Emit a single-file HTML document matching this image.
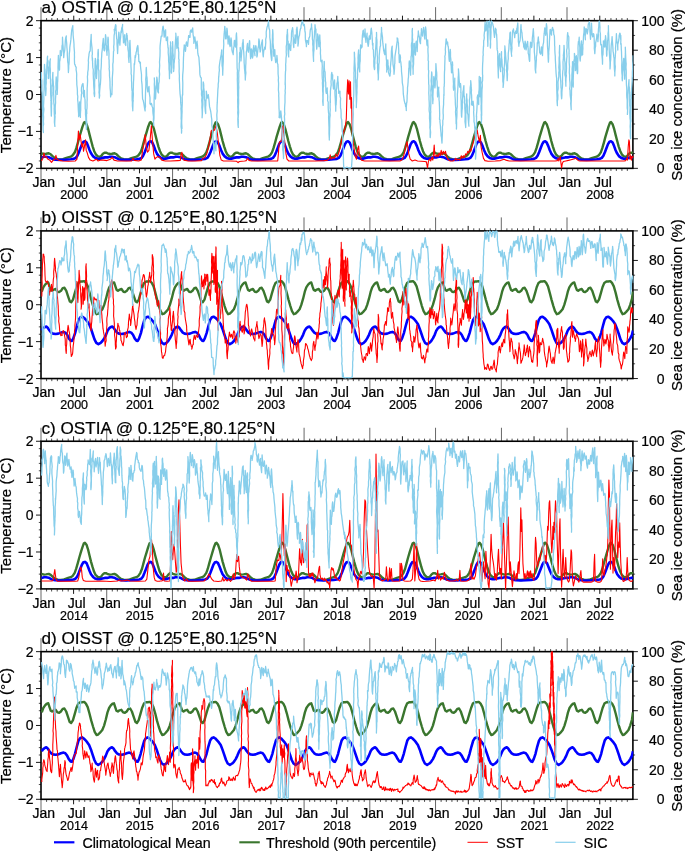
<!DOCTYPE html>
<html><head><meta charset="utf-8"><title>SST and SIC time series</title>
<style>html,body{margin:0;padding:0;background:#fff}svg{display:block;filter:blur(.35px)}text{stroke:#000;stroke-width:.22px;paint-order:stroke}</style></head>
<body>
<svg width="685" height="851" viewBox="0 0 685 851" font-family='"Liberation Sans", Arial, Helvetica, sans-serif' fill="#000">
<rect width="685" height="851" fill="#fff"/>
<g>
<path d="M41.00 168.33v16.50M41.00 20.68v-13.50" stroke="#000" stroke-width="0.6" fill="none"/>
<path d="M46.58 168.33v2.60M46.58 20.68v-2.60" stroke="#000" stroke-width="0.7" fill="none"/>
<path d="M51.80 168.33v2.60M51.80 20.68v-2.60" stroke="#000" stroke-width="0.7" fill="none"/>
<path d="M57.38 168.33v2.60M57.38 20.68v-2.60" stroke="#000" stroke-width="0.7" fill="none"/>
<path d="M62.78 168.33v2.60M62.78 20.68v-2.60" stroke="#000" stroke-width="0.7" fill="none"/>
<path d="M68.36 168.33v2.60M68.36 20.68v-2.60" stroke="#000" stroke-width="0.7" fill="none"/>
<path d="M73.76 168.33v5.00M73.76 20.68v-5.00" stroke="#000" stroke-width="0.9" fill="none"/>
<path d="M79.34 168.33v2.60M79.34 20.68v-2.60" stroke="#000" stroke-width="0.7" fill="none"/>
<path d="M84.92 168.33v2.60M84.92 20.68v-2.60" stroke="#000" stroke-width="0.7" fill="none"/>
<path d="M90.32 168.33v2.60M90.32 20.68v-2.60" stroke="#000" stroke-width="0.7" fill="none"/>
<path d="M95.91 168.33v2.60M95.91 20.68v-2.60" stroke="#000" stroke-width="0.7" fill="none"/>
<path d="M101.31 168.33v2.60M101.31 20.68v-2.60" stroke="#000" stroke-width="0.7" fill="none"/>
<path d="M106.89 168.33v16.50M106.89 20.68v-13.50" stroke="#000" stroke-width="0.6" fill="none"/>
<path d="M112.47 168.33v2.60M112.47 20.68v-2.60" stroke="#000" stroke-width="0.7" fill="none"/>
<path d="M117.51 168.33v2.60M117.51 20.68v-2.60" stroke="#000" stroke-width="0.7" fill="none"/>
<path d="M123.09 168.33v2.60M123.09 20.68v-2.60" stroke="#000" stroke-width="0.7" fill="none"/>
<path d="M128.49 168.33v2.60M128.49 20.68v-2.60" stroke="#000" stroke-width="0.7" fill="none"/>
<path d="M134.07 168.33v2.60M134.07 20.68v-2.60" stroke="#000" stroke-width="0.7" fill="none"/>
<path d="M139.47 168.33v5.00M139.47 20.68v-5.00" stroke="#000" stroke-width="0.9" fill="none"/>
<path d="M145.05 168.33v2.60M145.05 20.68v-2.60" stroke="#000" stroke-width="0.7" fill="none"/>
<path d="M150.63 168.33v2.60M150.63 20.68v-2.60" stroke="#000" stroke-width="0.7" fill="none"/>
<path d="M156.03 168.33v2.60M156.03 20.68v-2.60" stroke="#000" stroke-width="0.7" fill="none"/>
<path d="M161.61 168.33v2.60M161.61 20.68v-2.60" stroke="#000" stroke-width="0.7" fill="none"/>
<path d="M167.01 168.33v2.60M167.01 20.68v-2.60" stroke="#000" stroke-width="0.7" fill="none"/>
<path d="M172.59 168.33v16.50M172.59 20.68v-13.50" stroke="#000" stroke-width="0.6" fill="none"/>
<path d="M178.17 168.33v2.60M178.17 20.68v-2.60" stroke="#000" stroke-width="0.7" fill="none"/>
<path d="M183.21 168.33v2.60M183.21 20.68v-2.60" stroke="#000" stroke-width="0.7" fill="none"/>
<path d="M188.79 168.33v2.60M188.79 20.68v-2.60" stroke="#000" stroke-width="0.7" fill="none"/>
<path d="M194.20 168.33v2.60M194.20 20.68v-2.60" stroke="#000" stroke-width="0.7" fill="none"/>
<path d="M199.78 168.33v2.60M199.78 20.68v-2.60" stroke="#000" stroke-width="0.7" fill="none"/>
<path d="M205.18 168.33v5.00M205.18 20.68v-5.00" stroke="#000" stroke-width="0.9" fill="none"/>
<path d="M210.76 168.33v2.60M210.76 20.68v-2.60" stroke="#000" stroke-width="0.7" fill="none"/>
<path d="M216.34 168.33v2.60M216.34 20.68v-2.60" stroke="#000" stroke-width="0.7" fill="none"/>
<path d="M221.74 168.33v2.60M221.74 20.68v-2.60" stroke="#000" stroke-width="0.7" fill="none"/>
<path d="M227.32 168.33v2.60M227.32 20.68v-2.60" stroke="#000" stroke-width="0.7" fill="none"/>
<path d="M232.72 168.33v2.60M232.72 20.68v-2.60" stroke="#000" stroke-width="0.7" fill="none"/>
<path d="M238.30 168.33v16.50M238.30 20.68v-13.50" stroke="#000" stroke-width="0.6" fill="none"/>
<path d="M243.88 168.33v2.60M243.88 20.68v-2.60" stroke="#000" stroke-width="0.7" fill="none"/>
<path d="M248.92 168.33v2.60M248.92 20.68v-2.60" stroke="#000" stroke-width="0.7" fill="none"/>
<path d="M254.50 168.33v2.60M254.50 20.68v-2.60" stroke="#000" stroke-width="0.7" fill="none"/>
<path d="M259.90 168.33v2.60M259.90 20.68v-2.60" stroke="#000" stroke-width="0.7" fill="none"/>
<path d="M265.48 168.33v2.60M265.48 20.68v-2.60" stroke="#000" stroke-width="0.7" fill="none"/>
<path d="M270.88 168.33v5.00M270.88 20.68v-5.00" stroke="#000" stroke-width="0.9" fill="none"/>
<path d="M276.46 168.33v2.60M276.46 20.68v-2.60" stroke="#000" stroke-width="0.7" fill="none"/>
<path d="M282.04 168.33v2.60M282.04 20.68v-2.60" stroke="#000" stroke-width="0.7" fill="none"/>
<path d="M287.44 168.33v2.60M287.44 20.68v-2.60" stroke="#000" stroke-width="0.7" fill="none"/>
<path d="M293.03 168.33v2.60M293.03 20.68v-2.60" stroke="#000" stroke-width="0.7" fill="none"/>
<path d="M298.43 168.33v2.60M298.43 20.68v-2.60" stroke="#000" stroke-width="0.7" fill="none"/>
<path d="M304.01 168.33v16.50M304.01 20.68v-13.50" stroke="#000" stroke-width="0.6" fill="none"/>
<path d="M309.59 168.33v2.60M309.59 20.68v-2.60" stroke="#000" stroke-width="0.7" fill="none"/>
<path d="M314.81 168.33v2.60M314.81 20.68v-2.60" stroke="#000" stroke-width="0.7" fill="none"/>
<path d="M320.39 168.33v2.60M320.39 20.68v-2.60" stroke="#000" stroke-width="0.7" fill="none"/>
<path d="M325.79 168.33v2.60M325.79 20.68v-2.60" stroke="#000" stroke-width="0.7" fill="none"/>
<path d="M331.37 168.33v2.60M331.37 20.68v-2.60" stroke="#000" stroke-width="0.7" fill="none"/>
<path d="M336.77 168.33v5.00M336.77 20.68v-5.00" stroke="#000" stroke-width="0.9" fill="none"/>
<path d="M342.35 168.33v2.60M342.35 20.68v-2.60" stroke="#000" stroke-width="0.7" fill="none"/>
<path d="M347.93 168.33v2.60M347.93 20.68v-2.60" stroke="#000" stroke-width="0.7" fill="none"/>
<path d="M353.33 168.33v2.60M353.33 20.68v-2.60" stroke="#000" stroke-width="0.7" fill="none"/>
<path d="M358.91 168.33v2.60M358.91 20.68v-2.60" stroke="#000" stroke-width="0.7" fill="none"/>
<path d="M364.31 168.33v2.60M364.31 20.68v-2.60" stroke="#000" stroke-width="0.7" fill="none"/>
<path d="M369.89 168.33v16.50M369.89 20.68v-13.50" stroke="#000" stroke-width="0.6" fill="none"/>
<path d="M375.47 168.33v2.60M375.47 20.68v-2.60" stroke="#000" stroke-width="0.7" fill="none"/>
<path d="M380.51 168.33v2.60M380.51 20.68v-2.60" stroke="#000" stroke-width="0.7" fill="none"/>
<path d="M386.09 168.33v2.60M386.09 20.68v-2.60" stroke="#000" stroke-width="0.7" fill="none"/>
<path d="M391.50 168.33v2.60M391.50 20.68v-2.60" stroke="#000" stroke-width="0.7" fill="none"/>
<path d="M397.08 168.33v2.60M397.08 20.68v-2.60" stroke="#000" stroke-width="0.7" fill="none"/>
<path d="M402.48 168.33v5.00M402.48 20.68v-5.00" stroke="#000" stroke-width="0.9" fill="none"/>
<path d="M408.06 168.33v2.60M408.06 20.68v-2.60" stroke="#000" stroke-width="0.7" fill="none"/>
<path d="M413.64 168.33v2.60M413.64 20.68v-2.60" stroke="#000" stroke-width="0.7" fill="none"/>
<path d="M419.04 168.33v2.60M419.04 20.68v-2.60" stroke="#000" stroke-width="0.7" fill="none"/>
<path d="M424.62 168.33v2.60M424.62 20.68v-2.60" stroke="#000" stroke-width="0.7" fill="none"/>
<path d="M430.02 168.33v2.60M430.02 20.68v-2.60" stroke="#000" stroke-width="0.7" fill="none"/>
<path d="M435.60 168.33v16.50M435.60 20.68v-13.50" stroke="#000" stroke-width="0.6" fill="none"/>
<path d="M441.18 168.33v2.60M441.18 20.68v-2.60" stroke="#000" stroke-width="0.7" fill="none"/>
<path d="M446.22 168.33v2.60M446.22 20.68v-2.60" stroke="#000" stroke-width="0.7" fill="none"/>
<path d="M451.80 168.33v2.60M451.80 20.68v-2.60" stroke="#000" stroke-width="0.7" fill="none"/>
<path d="M457.20 168.33v2.60M457.20 20.68v-2.60" stroke="#000" stroke-width="0.7" fill="none"/>
<path d="M462.78 168.33v2.60M462.78 20.68v-2.60" stroke="#000" stroke-width="0.7" fill="none"/>
<path d="M468.18 168.33v5.00M468.18 20.68v-5.00" stroke="#000" stroke-width="0.9" fill="none"/>
<path d="M473.76 168.33v2.60M473.76 20.68v-2.60" stroke="#000" stroke-width="0.7" fill="none"/>
<path d="M479.34 168.33v2.60M479.34 20.68v-2.60" stroke="#000" stroke-width="0.7" fill="none"/>
<path d="M484.74 168.33v2.60M484.74 20.68v-2.60" stroke="#000" stroke-width="0.7" fill="none"/>
<path d="M490.33 168.33v2.60M490.33 20.68v-2.60" stroke="#000" stroke-width="0.7" fill="none"/>
<path d="M495.73 168.33v2.60M495.73 20.68v-2.60" stroke="#000" stroke-width="0.7" fill="none"/>
<path d="M501.31 168.33v16.50M501.31 20.68v-13.50" stroke="#000" stroke-width="0.6" fill="none"/>
<path d="M506.89 168.33v2.60M506.89 20.68v-2.60" stroke="#000" stroke-width="0.7" fill="none"/>
<path d="M511.93 168.33v2.60M511.93 20.68v-2.60" stroke="#000" stroke-width="0.7" fill="none"/>
<path d="M517.51 168.33v2.60M517.51 20.68v-2.60" stroke="#000" stroke-width="0.7" fill="none"/>
<path d="M522.91 168.33v2.60M522.91 20.68v-2.60" stroke="#000" stroke-width="0.7" fill="none"/>
<path d="M528.49 168.33v2.60M528.49 20.68v-2.60" stroke="#000" stroke-width="0.7" fill="none"/>
<path d="M533.89 168.33v5.00M533.89 20.68v-5.00" stroke="#000" stroke-width="0.9" fill="none"/>
<path d="M539.47 168.33v2.60M539.47 20.68v-2.60" stroke="#000" stroke-width="0.7" fill="none"/>
<path d="M545.05 168.33v2.60M545.05 20.68v-2.60" stroke="#000" stroke-width="0.7" fill="none"/>
<path d="M550.45 168.33v2.60M550.45 20.68v-2.60" stroke="#000" stroke-width="0.7" fill="none"/>
<path d="M556.03 168.33v2.60M556.03 20.68v-2.60" stroke="#000" stroke-width="0.7" fill="none"/>
<path d="M561.43 168.33v2.60M561.43 20.68v-2.60" stroke="#000" stroke-width="0.7" fill="none"/>
<path d="M567.01 168.33v16.50M567.01 20.68v-13.50" stroke="#000" stroke-width="0.6" fill="none"/>
<path d="M572.59 168.33v2.60M572.59 20.68v-2.60" stroke="#000" stroke-width="0.7" fill="none"/>
<path d="M577.81 168.33v2.60M577.81 20.68v-2.60" stroke="#000" stroke-width="0.7" fill="none"/>
<path d="M583.39 168.33v2.60M583.39 20.68v-2.60" stroke="#000" stroke-width="0.7" fill="none"/>
<path d="M588.80 168.33v2.60M588.80 20.68v-2.60" stroke="#000" stroke-width="0.7" fill="none"/>
<path d="M594.38 168.33v2.60M594.38 20.68v-2.60" stroke="#000" stroke-width="0.7" fill="none"/>
<path d="M599.78 168.33v5.00M599.78 20.68v-5.00" stroke="#000" stroke-width="0.9" fill="none"/>
<path d="M605.36 168.33v2.60M605.36 20.68v-2.60" stroke="#000" stroke-width="0.7" fill="none"/>
<path d="M610.94 168.33v2.60M610.94 20.68v-2.60" stroke="#000" stroke-width="0.7" fill="none"/>
<path d="M616.34 168.33v2.60M616.34 20.68v-2.60" stroke="#000" stroke-width="0.7" fill="none"/>
<path d="M621.92 168.33v2.60M621.92 20.68v-2.60" stroke="#000" stroke-width="0.7" fill="none"/>
<path d="M627.32 168.33v2.60M627.32 20.68v-2.60" stroke="#000" stroke-width="0.7" fill="none"/>
<path d="M41.00 20.68h-5.00" stroke="#000" stroke-width="0.9"/>
<path d="M41.00 28.06h-2.20" stroke="#000" stroke-width="0.7"/>
<path d="M41.00 35.45h-2.20" stroke="#000" stroke-width="0.7"/>
<path d="M41.00 42.83h-2.20" stroke="#000" stroke-width="0.7"/>
<path d="M41.00 50.21h-2.20" stroke="#000" stroke-width="0.7"/>
<path d="M41.00 57.59h-5.00" stroke="#000" stroke-width="0.9"/>
<path d="M41.00 64.97h-2.20" stroke="#000" stroke-width="0.7"/>
<path d="M41.00 72.36h-2.20" stroke="#000" stroke-width="0.7"/>
<path d="M41.00 79.74h-2.20" stroke="#000" stroke-width="0.7"/>
<path d="M41.00 87.12h-2.20" stroke="#000" stroke-width="0.7"/>
<path d="M41.00 94.50h-5.00" stroke="#000" stroke-width="0.9"/>
<path d="M41.00 101.89h-2.20" stroke="#000" stroke-width="0.7"/>
<path d="M41.00 109.27h-2.20" stroke="#000" stroke-width="0.7"/>
<path d="M41.00 116.65h-2.20" stroke="#000" stroke-width="0.7"/>
<path d="M41.00 124.03h-2.20" stroke="#000" stroke-width="0.7"/>
<path d="M41.00 131.42h-5.00" stroke="#000" stroke-width="0.9"/>
<path d="M41.00 138.80h-2.20" stroke="#000" stroke-width="0.7"/>
<path d="M41.00 146.18h-2.20" stroke="#000" stroke-width="0.7"/>
<path d="M41.00 153.57h-2.20" stroke="#000" stroke-width="0.7"/>
<path d="M41.00 160.95h-2.20" stroke="#000" stroke-width="0.7"/>
<path d="M41.00 168.33h-5.00" stroke="#000" stroke-width="0.9"/>
<path d="M632.90 20.68h5.00" stroke="#000" stroke-width="0.9"/>
<path d="M632.90 35.45h2.20" stroke="#000" stroke-width="0.7"/>
<path d="M632.90 50.21h5.00" stroke="#000" stroke-width="0.9"/>
<path d="M632.90 64.97h2.20" stroke="#000" stroke-width="0.7"/>
<path d="M632.90 79.74h5.00" stroke="#000" stroke-width="0.9"/>
<path d="M632.90 94.50h2.20" stroke="#000" stroke-width="0.7"/>
<path d="M632.90 109.27h5.00" stroke="#000" stroke-width="0.9"/>
<path d="M632.90 124.03h2.20" stroke="#000" stroke-width="0.7"/>
<path d="M632.90 138.80h5.00" stroke="#000" stroke-width="0.9"/>
<path d="M632.90 153.57h2.20" stroke="#000" stroke-width="0.7"/>
<path d="M632.90 168.33h5.00" stroke="#000" stroke-width="0.9"/>
<rect x="41.00" y="20.68" width="591.90" height="147.65" fill="none" stroke="#000" stroke-width="1.6"/>
<clipPath id="c0"><rect x="40.50" y="19.88" width="592.90" height="149.25"/></clipPath>
<g clip-path="url(#c0)">
<polyline points="41.5,153.3 44.1,154.0 46.1,153.8 48.7,153.3 50.7,154.3 52.8,156.4 55.3,158.4 57.9,159.1 60.5,159.4 63.0,159.2 65.6,158.2 68.1,157.4 70.7,156.7 72.7,155.3 74.8,152.3 76.3,148.2 77.9,142.6 79.4,136.9 80.9,131.8 82.5,126.7 84.0,122.6 85.0,122.1 86.6,124.2 88.1,128.8 89.6,134.9 91.2,141.0 92.7,146.6 94.2,151.2 95.8,154.3 97.8,156.4 99.9,156.9 101.4,155.8 102.9,153.8 104.5,152.8 106.5,152.8 107.4,153.3 110.0,154.0 112.0,153.8 114.6,153.3 116.6,154.3 118.6,156.4 121.2,158.4 123.7,159.1 126.3,159.4 128.9,159.2 131.4,158.2 134.0,157.4 136.5,156.7 138.5,155.3 140.6,152.3 142.1,148.2 143.6,142.6 145.2,136.9 146.7,131.8 148.2,126.7 149.8,122.6 150.8,122.1 152.3,124.2 153.9,128.8 155.4,134.9 156.9,141.0 158.4,146.6 160.0,151.2 161.5,154.3 163.6,156.4 165.6,156.9 167.1,155.8 168.7,153.8 170.2,152.8 172.2,152.8 173.1,153.3 175.7,154.0 177.7,153.8 180.3,153.3 182.3,154.3 184.4,156.4 186.9,158.4 189.5,159.1 192.0,159.4 194.6,159.2 197.1,158.2 199.7,157.4 202.2,156.7 204.3,155.3 206.3,152.3 207.8,148.2 209.4,142.6 210.9,136.9 212.4,131.8 213.9,126.7 215.5,122.6 216.5,122.1 218.0,124.2 219.6,128.8 221.1,134.9 222.6,141.0 224.2,146.6 225.7,151.2 227.2,154.3 229.3,156.4 231.3,156.9 232.8,155.8 234.4,153.8 235.9,152.8 237.9,152.8 238.8,153.3 241.4,154.0 243.4,153.8 246.0,153.3 248.0,154.3 250.1,156.4 252.6,158.4 255.2,159.1 257.7,159.4 260.3,159.2 262.8,158.2 265.4,157.4 267.9,156.7 270.0,155.3 272.0,152.3 273.5,148.2 275.1,142.6 276.6,136.9 278.1,131.8 279.7,126.7 281.2,122.6 282.2,122.1 283.7,124.2 285.3,128.8 286.8,134.9 288.3,141.0 289.9,146.6 291.4,151.2 292.9,154.3 295.0,156.4 297.0,156.9 298.5,155.8 300.1,153.8 301.6,152.8 303.6,152.8 304.5,153.3 307.1,154.0 309.1,153.8 311.7,153.3 313.8,154.3 315.8,156.4 318.4,158.4 320.9,159.1 323.5,159.4 326.0,159.2 328.6,158.2 331.1,157.4 333.7,156.7 335.8,155.3 337.8,152.3 339.3,148.2 340.9,142.6 342.4,136.9 343.9,131.8 345.5,126.7 347.0,122.6 348.0,122.1 349.6,124.2 351.1,128.8 352.6,134.9 354.2,141.0 355.7,146.6 357.2,151.2 358.8,154.3 360.8,156.4 362.9,156.9 364.4,155.8 365.9,153.8 367.5,152.8 369.5,152.8 370.4,153.3 373.0,154.0 375.0,153.8 377.6,153.3 379.6,154.3 381.7,156.4 384.2,158.4 386.8,159.1 389.3,159.4 391.9,159.2 394.4,158.2 397.0,157.4 399.5,156.7 401.6,155.3 403.6,152.3 405.1,148.2 406.7,142.6 408.2,136.9 409.7,131.8 411.2,126.7 412.8,122.6 413.8,122.1 415.3,124.2 416.9,128.8 418.4,134.9 419.9,141.0 421.5,146.6 423.0,151.2 424.5,154.3 426.6,156.4 428.6,156.9 430.1,155.8 431.7,153.8 433.2,152.8 435.2,152.8 436.1,153.3 438.7,154.0 440.7,153.8 443.3,153.3 445.3,154.3 447.4,156.4 449.9,158.4 452.5,159.1 455.0,159.4 457.6,159.2 460.1,158.2 462.7,157.4 465.2,156.7 467.3,155.3 469.3,152.3 470.8,148.2 472.4,142.6 473.9,136.9 475.4,131.8 477.0,126.7 478.5,122.6 479.5,122.1 481.0,124.2 482.6,128.8 484.1,134.9 485.6,141.0 487.2,146.6 488.7,151.2 490.2,154.3 492.3,156.4 494.3,156.9 495.8,155.8 497.4,153.8 498.9,152.8 500.9,152.8 501.8,153.3 504.4,154.0 506.4,153.8 509.0,153.3 511.0,154.3 513.1,156.4 515.6,158.4 518.2,159.1 520.7,159.4 523.3,159.2 525.8,158.2 528.4,157.4 530.9,156.7 533.0,155.3 535.0,152.3 536.5,148.2 538.1,142.6 539.6,136.9 541.1,131.8 542.7,126.7 544.2,122.6 545.2,122.1 546.7,124.2 548.3,128.8 549.8,134.9 551.3,141.0 552.9,146.6 554.4,151.2 555.9,154.3 558.0,156.4 560.0,156.9 561.5,155.8 563.1,153.8 564.6,152.8 566.6,152.8 567.5,153.3 570.1,154.0 572.2,153.8 574.7,153.3 576.8,154.3 578.8,156.4 581.4,158.4 583.9,159.1 586.5,159.4 589.0,159.2 591.6,158.2 594.2,157.4 596.7,156.7 598.8,155.3 600.8,152.3 602.3,148.2 603.9,142.6 605.4,136.9 606.9,131.8 608.5,126.7 610.0,122.6 611.0,122.1 612.6,124.2 614.1,128.8 615.6,134.9 617.2,141.0 618.7,146.6 620.3,151.2 621.8,154.3 623.8,156.4 625.9,156.9 627.4,155.8 628.9,153.8 630.5,152.8 632.5,152.8 632.9,153.3" fill="none" stroke="#3a762e" stroke-width="2.4" stroke-linejoin="round" stroke-linecap="butt" />
<polyline points="41.5,157.4 44.1,156.7 46.1,156.7 48.7,157.2 50.7,158.2 52.8,159.2 55.3,159.7 60.5,159.9 65.6,159.7 70.7,159.3 73.8,158.9 75.8,157.9 77.4,155.8 78.9,152.3 80.4,148.2 82.0,144.1 83.5,141.7 85.0,141.3 86.6,142.6 88.1,146.1 89.6,150.2 91.2,153.6 93.2,156.4 95.3,157.9 97.8,158.7 99.9,158.7 102.4,157.9 105.0,157.4 107.4,157.4 110.0,156.7 112.0,156.7 114.6,157.2 116.6,158.2 118.6,159.2 121.2,159.7 126.3,159.9 131.4,159.7 136.5,159.3 139.6,158.9 141.6,157.9 143.1,155.8 144.7,152.3 146.2,148.2 147.7,144.1 149.3,141.7 150.8,141.3 152.3,142.6 153.9,146.1 155.4,150.2 156.9,153.6 159.0,156.4 161.0,157.9 163.6,158.7 165.6,158.7 168.1,157.9 170.7,157.4 173.1,157.4 175.7,156.7 177.7,156.7 180.3,157.2 182.3,158.2 184.4,159.2 186.9,159.7 192.0,159.9 197.1,159.7 202.2,159.3 205.3,158.9 207.3,157.9 208.8,155.8 210.4,152.3 211.9,148.2 213.4,144.1 215.0,141.7 216.5,141.3 218.0,142.6 219.6,146.1 221.1,150.2 222.6,153.6 224.7,156.4 226.7,157.9 229.3,158.7 231.3,158.7 233.8,157.9 236.4,157.4 238.8,157.4 241.4,156.7 243.4,156.7 246.0,157.2 248.0,158.2 250.1,159.2 252.6,159.7 257.7,159.9 262.8,159.7 267.9,159.3 271.0,158.9 273.0,157.9 274.6,155.8 276.1,152.3 277.6,148.2 279.1,144.1 280.7,141.7 282.2,141.3 283.7,142.6 285.3,146.1 286.8,150.2 288.3,153.6 290.4,156.4 292.4,157.9 295.0,158.7 297.0,158.7 299.6,157.9 302.1,157.4 304.5,157.4 307.1,156.7 309.1,156.7 311.7,157.2 313.8,158.2 315.8,159.2 318.4,159.7 323.5,159.9 328.6,159.7 333.7,159.3 336.8,158.9 338.8,157.9 340.4,155.8 341.9,152.3 343.4,148.2 345.0,144.1 346.5,141.7 348.0,141.3 349.6,142.6 351.1,146.1 352.6,150.2 354.2,153.6 356.2,156.4 358.3,157.9 360.8,158.7 362.9,158.7 365.4,157.9 368.0,157.4 370.4,157.4 373.0,156.7 375.0,156.7 377.6,157.2 379.6,158.2 381.7,159.2 384.2,159.7 389.3,159.9 394.4,159.7 399.5,159.3 402.6,158.9 404.6,157.9 406.1,155.8 407.7,152.3 409.2,148.2 410.7,144.1 412.3,141.7 413.8,141.3 415.3,142.6 416.9,146.1 418.4,150.2 419.9,153.6 422.0,156.4 424.0,157.9 426.6,158.7 428.6,158.7 431.1,157.9 433.7,157.4 436.1,157.4 438.7,156.7 440.7,156.7 443.3,157.2 445.3,158.2 447.4,159.2 449.9,159.7 455.0,159.9 460.1,159.7 465.2,159.3 468.3,158.9 470.3,157.9 471.9,155.8 473.4,152.3 474.9,148.2 476.4,144.1 478.0,141.7 479.5,141.3 481.0,142.6 482.6,146.1 484.1,150.2 485.6,153.6 487.7,156.4 489.7,157.9 492.3,158.7 494.3,158.7 496.9,157.9 499.4,157.4 501.8,157.4 504.4,156.7 506.4,156.7 509.0,157.2 511.0,158.2 513.1,159.2 515.6,159.7 520.7,159.9 525.8,159.7 530.9,159.3 534.0,158.9 536.0,157.9 537.6,155.8 539.1,152.3 540.6,148.2 542.2,144.1 543.7,141.7 545.2,141.3 546.7,142.6 548.3,146.1 549.8,150.2 551.3,153.6 553.4,156.4 555.4,157.9 558.0,158.7 560.0,158.7 562.6,157.9 565.1,157.4 567.5,157.4 570.1,156.7 572.2,156.7 574.7,157.2 576.8,158.2 578.8,159.2 581.4,159.7 586.5,159.9 591.6,159.7 596.7,159.3 599.8,158.9 601.8,157.9 603.4,155.8 604.9,152.3 606.4,148.2 608.0,144.1 609.5,141.7 611.0,141.3 612.6,142.6 614.1,146.1 615.6,150.2 617.2,153.6 619.2,156.4 621.3,157.9 623.8,158.7 625.9,158.7 628.4,157.9 631.0,157.4 632.9,157.4" fill="none" stroke="#0000ff" stroke-width="2.6" stroke-linejoin="round" stroke-linecap="butt" />
<polyline points="41.4,161.0 42.6,159.2 43.9,153.0 44.9,157.4 46.2,156.6 47.9,159.2 49.7,160.1 51.5,162.4 53.2,160.1 55.0,159.2 55.9,155.3 56.9,159.2 59.4,160.4 62.9,161.0 68.2,161.3 75.2,161.0 77.0,159.2 77.7,143.3 78.4,131.0 79.1,139.8 80.2,134.5 81.1,141.6 81.9,146.9 82.8,143.3 83.5,151.3 84.4,146.9 85.5,139.8 86.2,150.4 87.0,152.2 88.5,157.4 90.2,160.1 92.9,161.0 96.4,159.2 98.1,161.0 100.8,160.1 103.4,160.1 107.0,160.6 110.5,159.2 112.2,157.4 114.0,160.1 117.5,161.0 124.6,161.0 131.6,161.0 133.0,158.3 134.3,160.4 138.7,161.0 141.3,160.1 142.6,150.4 144.0,143.3 145.2,134.5 146.3,146.9 147.5,152.2 148.9,150.4 150.1,139.8 151.4,125.7 152.4,139.8 153.7,153.9 154.9,159.2 156.3,157.4 158.1,156.6 159.8,157.4 160.0,157.4 161.8,160.1 165.3,161.0 170.6,161.0 177.6,160.6 180.3,160.4 181.1,153.9 181.9,152.2 182.6,157.4 183.8,160.1 188.2,161.0 195.2,161.0 201.4,160.6 203.2,158.3 204.9,157.4 206.7,153.9 208.5,146.9 209.9,139.8 211.1,131.0 212.9,130.1 214.6,130.1 216.0,125.7 217.3,132.8 218.5,143.3 219.9,155.7 221.3,160.1 223.4,161.0 230.5,161.0 236.7,161.3 238.1,162.7 239.3,161.5 244.6,161.0 246.3,160.6 247.6,158.3 249.0,160.4 251.6,161.0 258.7,161.0 269.3,161.0 277.7,161.0 278.4,153.9 279.1,143.3 280.0,141.6 281.1,141.6 281.8,136.3 282.5,125.7 283.2,127.5 283.9,134.5 284.9,143.3 286.0,153.9 287.0,159.2 288.8,161.0 297.6,161.0 315.2,161.0 324.1,160.6 327.6,160.1 329.3,158.3 330.2,154.8 331.1,159.2 332.9,157.4 334.6,158.3 336.0,153.9 337.3,156.6 338.5,153.9 339.9,148.6 341.7,139.8 343.4,132.8 345.2,127.5 346.3,118.7 347.0,94.0 347.7,79.9 348.4,94.0 349.1,80.8 349.8,99.3 350.5,81.7 351.0,108.1 351.5,97.5 352.2,132.8 353.3,143.3 354.4,150.4 355.4,156.6 356.5,159.2 357.5,150.4 358.6,146.0 359.3,153.9 360.4,157.4 361.4,160.1 364.6,161.0 371.6,161.0 378.7,161.0 385.7,161.0 392.8,161.0 400.0,161.0 400.0,161.0 401.8,160.1 403.2,157.4 404.6,152.2 406.0,145.1 407.0,141.6 407.8,146.9 408.8,153.9 410.2,159.2 412.3,161.0 415.0,160.1 417.6,161.0 424.7,161.5 426.4,161.9 427.5,168.0 428.5,161.0 429.6,159.2 430.7,161.0 431.7,157.4 432.8,160.1 433.5,153.9 434.2,145.1 434.9,155.7 435.9,156.6 437.0,154.8 438.1,156.6 439.1,153.0 440.2,155.7 441.2,150.4 442.3,154.8 443.3,151.3 444.4,153.9 445.5,151.3 446.5,156.6 447.9,159.2 450.2,161.0 452.9,161.0 454.6,160.1 455.7,158.3 456.7,160.1 458.1,159.2 459.9,160.1 461.3,155.7 462.4,158.3 463.4,155.7 464.5,157.4 465.6,153.9 466.6,154.8 467.7,151.3 468.7,153.0 469.8,149.5 470.8,151.3 471.9,146.9 473.0,143.3 474.0,139.8 475.1,134.5 476.1,135.4 477.2,130.1 478.2,136.3 479.3,141.6 480.4,135.4 481.1,146.9 482.1,152.2 483.5,158.3 484.9,160.6 488.1,161.3 495.2,161.0 500.4,160.6 504.0,159.2 505.7,160.1 509.3,161.0 520.0,161.0 520.0,161.0 537.6,161.0 555.2,161.0 557.4,160.6 558.1,158.3 558.8,161.0 559.5,159.2 560.2,156.6 560.9,162.7 561.6,168.0 562.3,163.6 563.3,161.5 565.8,161.0 568.5,160.4 571.1,159.7 572.9,159.2 574.6,158.7 575.7,158.0 576.7,159.2 578.1,160.4 579.9,161.0 590.5,161.0 608.1,161.0 624.0,161.0 625.7,160.6 626.8,158.3 627.5,160.1 628.2,146.9 628.9,139.8 629.4,141.6 630.0,159.2 630.7,155.7 631.4,160.1 632.1,156.6 632.8,157.4 633.5,155.7" fill="none" stroke="#ff0000" stroke-width="1.1" stroke-linejoin="round" stroke-linecap="butt" />
<polyline points="41.3,72.0 41.4,74.6 41.4,78.2 41.8,80.4 41.8,83.2 41.9,85.1 41.9,88.7 41.9,90.4 42.2,93.0 42.4,97.1 42.4,100.0 42.4,102.9 42.4,105.7 42.5,108.4 42.8,111.2 42.6,115.2 42.9,118.3 42.9,121.2 43.0,123.5 43.0,127.2 43.1,130.0 43.4,132.5 43.1,129.3 43.1,126.6 43.6,124.4 43.4,121.6 43.6,117.1 43.4,114.4 43.7,111.5 43.9,109.1 43.5,106.4 43.8,100.2 43.9,99.0 43.8,96.6 43.9,93.5 44.1,89.0 44.2,86.7 44.1,84.0 44.1,81.8 44.4,77.5 44.4,76.1 44.3,73.8 44.4,70.9 44.4,67.1 44.5,64.3 44.7,68.1 44.9,69.3 45.0,69.0 45.2,74.5 45.4,78.2 45.4,82.5 45.3,84.6 45.5,83.5 45.5,90.0 45.7,92.0 45.7,95.5 45.9,92.7 46.1,88.4 45.9,86.2 46.3,83.0 46.2,80.1 46.7,78.0 46.5,75.4 46.6,72.9 46.8,70.1 46.8,66.7 47.1,62.1 47.3,61.3 47.3,57.8 47.6,56.1 47.4,59.6 48.1,61.0 47.8,67.8 47.9,66.0 48.2,68.3 48.3,73.4 48.5,75.2 48.6,78.5 48.7,73.8 49.0,71.8 49.3,67.5 49.7,65.2 49.6,62.3 50.4,58.8 50.1,60.8 50.1,66.7 50.3,68.7 50.4,71.9 50.2,74.3 50.3,77.6 50.6,80.1 50.5,82.1 50.7,85.0 50.6,88.5 50.6,92.0 50.7,94.8 51.0,99.9 50.8,100.7 51.0,100.5 51.0,106.5 51.1,108.4 51.2,112.2 51.3,116.1 51.4,114.9 51.5,110.3 51.5,104.9 51.8,104.0 51.6,101.7 51.8,97.2 52.1,95.1 52.0,92.1 52.1,85.5 52.2,86.8 52.4,83.0 52.4,79.6 52.5,78.7 52.7,74.6 52.9,72.3 52.9,74.5 52.9,78.7 53.2,81.4 53.4,84.8 53.7,86.8 53.6,93.2 53.5,92.4 53.8,96.0 53.8,99.0 53.7,101.2 54.2,106.5 54.2,108.8 54.1,108.1 54.3,114.3 54.5,116.4 54.4,122.2 54.7,125.0 54.9,126.4 54.7,124.2 54.8,121.3 55.1,116.5 54.9,115.0 55.4,113.3 55.2,108.8 55.3,105.4 55.6,103.0 55.5,99.3 55.7,96.1 55.8,94.8 55.6,91.5 56.1,89.2 55.9,84.1 55.9,83.4 56.2,77.0 56.5,80.8 56.6,85.3 57.2,87.9 57.2,91.1 57.2,94.4 57.3,91.9 57.5,87.9 57.5,84.8 57.6,81.1 57.7,81.4 57.9,73.9 57.9,73.3 58.1,70.1 58.0,67.6 58.1,63.8 58.2,61.0 58.3,57.5 58.4,55.3 58.6,58.2 58.7,60.8 59.2,64.9 59.2,66.7 59.5,70.1 59.6,66.7 59.6,61.8 60.0,60.1 60.2,57.2 60.2,52.4 60.3,50.5 60.6,52.9 61.1,53.8 61.4,55.7 61.5,52.8 61.9,49.9 62.0,46.0 62.4,44.4 62.5,37.2 62.8,43.2 63.1,46.4 63.3,50.0 63.6,54.2 63.7,57.7 64.1,53.2 64.4,52.1 64.8,49.5 65.1,45.4 65.3,41.1 65.6,38.3 66.3,35.9 66.2,38.6 66.7,43.4 66.7,43.0 66.9,47.5 67.1,49.5 67.3,51.5 67.3,54.5 67.5,57.5 67.7,61.1 67.9,62.8 68.1,63.7 68.4,72.6 68.4,72.4 68.7,68.2 68.7,65.8 69.0,64.2 69.2,60.3 69.2,58.3 69.3,53.6 69.7,50.6 69.8,47.5 70.1,45.1 70.4,43.6 70.9,39.4 71.1,36.7 71.4,33.4 71.7,30.3 72.2,28.1 72.8,25.6 72.8,28.8 73.1,32.5 73.1,34.7 73.5,38.8 73.8,41.5 74.0,44.2 74.0,46.4 74.5,52.7 74.4,54.1 74.5,57.1 74.4,59.0 74.6,64.2 75.2,65.0 75.4,66.0 75.8,66.9 76.2,67.1 76.1,69.8 76.5,72.0 76.7,74.2 76.6,78.5 76.8,82.4 76.8,84.5 77.2,87.8 77.4,91.0 77.4,94.2 77.8,96.6 77.6,99.5 78.0,102.4 78.1,104.9 78.3,109.4 78.4,111.2 78.6,113.5 78.6,116.7 79.1,114.2 79.2,112.8 79.5,107.5 79.4,104.4 79.7,101.9 79.6,105.9 79.8,111.7 80.0,111.3 80.1,115.4 80.4,117.4 80.4,114.4 80.6,110.7 80.7,110.6 80.7,105.1 80.9,100.9 81.2,98.5 81.4,94.1 81.8,93.5 81.4,90.8 81.5,87.7 82.0,85.6 82.2,84.7 82.9,83.5 83.0,83.6 83.4,87.9 83.3,91.4 83.4,94.2 83.8,96.8 84.1,93.7 84.4,90.3 84.5,94.1 84.6,96.7 84.9,98.9 85.0,99.2 85.2,105.5 85.2,108.8 85.5,109.7 85.5,114.7 85.8,117.3 85.9,120.9 86.2,122.8 86.2,126.7 86.4,129.5 86.7,126.1 86.9,122.9 86.5,119.8 86.5,114.2 86.8,113.7 86.7,110.2 87.0,108.4 87.1,104.7 87.0,102.1 87.2,99.2 87.1,96.3 87.1,93.1 87.2,89.4 87.1,89.5 87.4,84.7 87.6,80.5 87.4,76.5 87.7,74.6 87.7,72.5 88.2,69.4 88.3,66.4 88.5,61.9 88.3,60.8 88.7,56.6 88.9,55.8 89.0,54.1 89.6,51.4 90.2,51.1 90.3,47.9 90.4,44.4 90.6,41.9 90.9,39.1 91.1,35.8 91.2,34.4 91.3,41.3 91.7,45.4 92.0,47.8 92.2,51.2 92.4,53.9 92.1,55.7 92.4,60.6 92.5,57.9 92.6,63.4 92.8,67.4 93.3,69.9 93.2,73.6 93.3,75.4 93.4,78.4 93.6,81.2 93.7,85.3 93.8,87.0 94.2,91.5 94.0,93.2 94.5,96.5 94.7,93.4 94.5,90.5 94.6,88.0 94.7,86.0 94.6,82.2 94.9,78.2 95.0,76.9 94.8,73.9 95.1,69.9 95.0,67.7 95.1,60.6 95.3,61.0 95.3,58.4 95.6,59.7 95.5,63.8 95.8,65.8 96.1,70.1 96.0,73.3 96.2,73.8 96.5,78.5 96.6,76.3 96.8,73.5 97.0,69.4 97.2,65.5 97.4,61.7 97.7,59.7 97.9,57.7 97.9,53.2 98.2,49.5 98.4,54.2 98.1,59.1 98.5,59.9 98.5,63.3 98.5,65.8 98.4,68.9 98.9,71.0 98.9,74.4 98.9,77.3 98.8,80.4 99.0,83.8 98.9,85.5 99.2,89.8 99.0,92.4 99.3,94.6 99.3,98.1 99.7,95.3 99.5,93.8 99.7,90.4 100.1,86.2 100.3,83.9 100.4,84.4 100.8,77.8 100.8,74.5 100.8,71.0 101.0,69.2 101.2,66.7 101.4,62.3 101.4,59.8 101.7,56.0 101.8,53.1 102.2,50.1 102.5,47.4 102.5,45.4 103.0,41.5 103.3,38.5 103.4,42.2 103.7,45.3 103.8,47.9 104.0,50.3 104.3,49.9 104.4,50.8 104.7,48.6 105.0,44.5 105.2,39.5 105.4,38.2 105.5,34.7 106.0,37.8 106.0,42.2 106.2,44.4 106.6,46.2 106.3,49.0 106.9,52.8 107.0,55.3 107.0,51.5 107.5,49.3 107.9,45.1 107.7,42.0 107.8,39.8 108.0,37.2 108.3,39.4 108.3,43.7 108.4,45.8 108.5,48.3 108.8,50.6 109.0,54.0 108.9,58.5 109.1,60.2 109.1,62.8 109.3,67.6 109.1,68.4 109.5,71.8 109.5,76.0 109.8,78.5 110.0,81.9 110.0,84.7 110.1,88.1 110.4,91.1 110.6,96.9 111.1,94.0 111.4,94.4 111.9,94.5 112.0,91.3 112.1,87.3 112.3,84.9 112.3,82.7 112.3,78.6 112.4,76.8 112.7,72.9 112.9,69.7 112.8,66.7 112.8,64.2 113.2,61.8 113.2,59.3 113.4,55.5 113.5,51.5 113.9,50.6 113.7,46.5 114.0,44.2 114.0,39.4 114.1,35.4 114.6,33.0 114.2,29.3 114.8,30.8 115.1,27.1 115.6,24.7 115.8,24.8 116.1,26.3 115.9,26.9 116.3,32.9 116.5,36.0 116.7,38.9 117.0,39.5 117.0,43.9 117.2,46.6 117.4,49.4 117.6,53.5 117.8,49.0 118.0,44.0 118.3,43.0 118.4,39.7 118.6,35.7 118.8,32.1 119.0,33.0 119.4,39.3 119.5,40.9 119.9,45.2 120.2,40.2 120.6,37.2 120.9,32.8 121.1,30.9 121.3,32.6 121.7,28.1 122.3,26.8 122.6,24.5 122.4,28.2 122.9,32.5 123.1,34.7 123.3,37.6 123.4,40.4 123.5,42.9 124.0,41.3 124.0,38.6 124.8,34.7 124.8,40.0 125.2,44.2 125.8,45.5 125.8,42.7 126.0,39.7 126.4,37.5 126.6,34.5 126.7,33.5 127.1,37.5 127.2,35.5 127.3,38.9 127.9,42.5 127.8,46.6 128.0,49.4 128.5,52.5 128.5,57.3 128.8,59.9 129.0,62.4 129.0,57.8 129.3,55.9 129.1,52.9 129.3,50.6 129.5,47.4 129.6,44.8 130.0,40.4 130.0,42.0 130.3,48.7 130.4,52.0 130.5,55.7 130.6,58.5 130.6,57.4 130.9,63.4 131.0,67.0 131.2,69.9 131.1,73.9 131.5,75.5 131.5,79.7 131.5,80.8 131.7,83.3 131.7,87.0 132.0,90.6 132.2,90.8 132.1,96.8 132.2,101.0 132.4,101.5 132.4,105.9 132.7,108.8 132.8,110.8 132.8,109.1 132.9,106.6 133.0,102.1 133.3,100.6 133.0,100.6 133.4,94.2 133.2,91.4 133.3,88.9 133.4,86.2 133.5,81.6 133.7,79.2 133.8,76.0 133.9,73.5 134.1,69.8 134.2,63.6 134.5,64.7 134.8,61.6 135.1,57.9 135.1,55.7 135.4,57.7 135.9,54.4 136.2,51.9 136.6,51.5 136.8,49.0 137.4,46.5 137.8,45.5 138.1,48.4 138.2,54.6 138.6,54.2 138.7,57.5 138.9,61.6 139.4,62.0 139.7,61.7 140.0,63.3 140.4,62.3 140.4,65.2 140.8,69.1 141.2,72.0 141.5,74.8 141.5,78.5 141.6,80.9 142.0,84.4 142.2,88.4 142.3,90.2 142.3,92.1 142.6,99.1 142.8,99.6 143.1,100.0 143.5,101.9 143.9,103.9 144.3,106.4 144.6,108.5 145.1,110.9 145.1,108.1 145.5,106.7 145.3,102.5 145.4,98.9 145.4,98.0 145.5,93.9 145.6,89.8 145.7,88.2 145.9,84.3 145.9,82.0 145.7,79.2 146.1,75.4 146.1,72.6 146.1,70.4 146.3,67.5 146.4,69.4 146.6,74.1 146.6,75.5 147.0,77.6 147.2,81.1 147.2,80.6 147.2,87.2 147.6,90.7 147.8,91.9 148.3,87.9 148.6,87.9 149.0,86.4 149.2,91.6 149.4,93.8 150.0,97.7 150.0,100.1 150.0,103.7 150.6,104.7 150.8,104.6 151.4,103.4 151.8,104.7 152.0,106.2 152.5,107.3 152.8,108.2 152.8,110.7 153.0,113.5 153.5,116.9 153.4,119.3 153.5,123.1 153.8,125.5 153.5,121.1 153.8,120.5 154.0,118.1 154.0,114.0 154.1,111.4 154.1,108.0 154.1,104.2 154.1,100.7 154.1,99.2 154.3,95.1 154.5,91.8 154.4,88.8 154.4,86.6 154.3,84.2 154.5,81.6 154.3,77.8 154.5,81.5 154.4,84.9 154.9,87.0 155.2,91.8 155.1,93.0 155.4,97.3 155.5,99.0 155.7,96.6 155.8,93.1 155.9,91.0 156.3,88.1 156.3,85.6 156.5,83.0 156.7,80.2 156.8,77.1 157.2,79.3 157.5,82.7 157.5,87.1 157.6,88.3 157.8,91.7 158.5,92.9 158.3,90.7 158.6,88.3 158.7,84.0 159.2,81.6 159.2,78.8 159.6,74.1 159.3,71.1 159.5,68.6 159.7,65.5 159.5,62.0 159.7,59.6 160.0,55.7 160.1,50.5 160.0,48.8 160.1,45.9 160.5,42.0 160.9,38.7 161.2,36.1 162.0,36.2 162.2,31.7 162.6,29.0 162.9,26.7 163.1,26.2 163.5,28.3 163.7,31.1 163.9,33.8 164.2,37.2 164.5,35.0 165.1,30.8 165.6,29.9 165.7,32.0 165.6,35.4 166.1,38.1 166.3,40.6 166.7,40.1 167.1,39.0 167.6,36.9 167.6,40.3 167.5,42.9 167.9,45.9 168.0,47.9 168.3,47.8 168.2,53.0 168.6,56.9 168.6,61.2 168.9,63.3 169.0,65.6 169.0,69.0 169.3,71.4 169.4,75.4 169.5,78.7 169.5,75.2 170.0,71.5 169.8,69.8 169.9,65.2 170.1,63.1 170.0,60.0 170.1,56.4 170.1,53.4 170.2,52.3 170.4,45.4 170.8,44.0 170.5,42.0 170.7,44.9 170.9,46.8 170.7,49.9 170.9,52.9 170.9,57.0 171.2,58.0 171.2,61.0 171.3,64.5 171.5,67.4 171.4,69.7 171.5,73.1 171.7,69.5 171.8,67.5 171.8,64.1 171.9,60.2 171.9,57.9 172.3,55.3 172.4,51.9 172.3,48.6 172.7,46.1 172.6,41.7 172.8,46.8 172.9,49.0 172.9,52.7 173.3,55.7 173.1,58.2 173.4,60.8 173.5,68.2 174.0,67.7 173.6,71.5 174.0,66.9 174.0,63.8 174.3,62.1 174.4,60.3 174.8,57.7 175.0,52.1 175.1,48.4 175.2,45.6 175.4,43.2 175.6,38.9 175.9,35.2 175.8,33.2 176.1,36.7 176.3,40.5 176.7,40.1 176.7,46.3 176.9,48.5 177.2,46.6 177.6,42.1 177.5,39.1 178.0,36.5 178.1,41.3 178.2,43.0 178.0,46.7 178.5,48.0 178.5,50.4 178.8,52.5 178.7,58.5 179.1,60.0 178.9,61.9 179.0,61.9 179.2,68.7 179.1,71.2 179.4,76.1 179.3,78.8 179.4,80.6 179.6,84.0 179.7,88.0 179.9,90.9 180.1,94.1 180.4,96.8 180.6,97.9 180.7,102.9 181.1,106.8 180.9,108.3 181.1,111.0 181.2,114.8 181.1,118.7 181.3,120.2 181.2,123.3 181.1,126.9 181.7,130.7 181.5,133.1 181.5,128.2 182.0,128.3 181.7,123.3 181.7,121.2 181.9,116.1 181.9,115.0 182.1,111.7 182.0,108.7 182.1,107.0 182.3,102.9 182.3,99.9 182.2,97.0 182.5,94.2 182.7,94.9 182.7,90.6 182.8,85.2 182.8,82.3 182.6,78.9 182.7,75.8 182.7,75.0 183.1,70.6 183.3,66.2 183.3,63.9 183.4,60.9 183.5,57.2 183.7,54.3 183.8,50.3 184.2,46.4 184.2,44.9 184.7,45.7 185.0,48.9 185.4,51.4 185.7,49.4 185.8,46.8 186.1,43.6 186.5,41.9 186.7,43.5 186.9,44.5 187.6,46.4 187.8,43.9 188.1,40.7 188.3,39.7 188.6,35.7 188.9,35.6 189.4,36.6 189.5,37.4 190.0,37.3 190.2,31.8 190.6,30.5 191.1,30.0 191.5,31.5 191.6,32.2 192.3,30.6 192.4,29.2 192.7,28.0 192.9,31.3 193.1,34.8 193.3,35.7 193.9,40.5 193.8,43.3 194.3,39.8 194.5,39.0 194.8,36.9 195.1,39.3 195.3,40.6 195.8,44.3 195.9,48.5 196.4,43.2 196.6,44.3 197.1,41.2 197.1,42.4 197.5,45.9 197.6,49.5 197.8,53.2 198.2,55.3 198.5,56.1 198.9,57.3 199.1,60.1 199.2,61.7 199.4,64.5 199.7,67.7 199.8,71.9 199.9,74.4 200.3,76.3 200.5,77.1 200.7,77.2 201.3,78.2 201.3,80.4 201.3,84.5 201.3,88.7 201.8,93.4 201.5,92.5 201.5,94.9 202.0,97.3 201.7,100.3 202.0,104.0 201.9,107.4 202.1,110.3 202.2,113.7 202.2,115.0 202.1,117.8 202.3,115.1 202.4,113.6 202.5,109.4 202.4,109.7 202.9,104.5 202.8,99.5 202.9,97.3 202.8,94.9 202.9,91.3 203.2,88.2 203.1,84.4 203.2,81.8 203.6,83.5 203.8,85.7 203.7,87.2 204.2,91.3 204.3,95.3 204.4,98.8 204.9,101.4 204.9,103.7 205.0,107.0 205.3,111.2 205.7,113.5 205.7,110.7 205.6,105.8 205.8,106.2 205.9,101.8 206.2,98.4 206.3,96.3 206.3,91.1 206.7,94.1 207.2,98.0 207.7,96.3 207.9,97.8 208.3,94.7 208.7,97.9 208.9,99.5 209.1,101.5 209.4,105.1 209.6,106.9 210.0,108.3 210.5,110.5 210.8,112.0 211.2,114.9 211.3,116.3 211.8,119.6 211.8,121.8 211.8,125.1 212.4,128.3 212.6,130.4 212.8,131.6 212.9,135.7 213.1,138.7 213.3,142.5 213.5,145.3 213.6,147.3 213.9,150.9 214.0,153.8 214.0,151.6 214.3,147.5 214.8,144.8 215.1,142.3 215.2,147.3 215.6,147.5 215.9,150.8 215.9,146.9 216.2,144.0 216.1,140.6 216.5,138.7 216.3,136.1 216.4,132.2 216.5,129.9 216.5,127.9 216.7,123.9 216.7,120.1 217.0,119.8 216.8,114.9 217.2,110.6 217.0,109.2 217.1,104.9 217.3,102.4 217.4,99.2 217.6,95.8 217.8,91.3 217.9,89.2 218.2,86.7 218.2,84.1 218.6,81.3 218.6,78.2 218.8,76.7 219.1,72.2 219.4,70.6 219.2,67.3 219.5,64.6 220.0,61.0 220.4,58.9 220.6,57.1 221.0,56.0 221.5,52.2 221.7,49.9 221.7,54.1 222.0,56.5 222.0,59.5 222.1,66.3 222.1,65.7 222.5,67.6 222.7,72.0 222.7,75.2 222.8,71.8 223.0,67.7 222.9,67.4 223.3,61.3 223.3,58.8 223.3,56.3 223.4,53.5 223.4,50.3 223.6,47.2 223.8,44.2 223.6,40.8 223.9,38.2 224.1,34.2 224.4,31.7 224.6,29.1 224.8,26.4 225.0,28.7 225.4,32.6 225.5,36.1 225.6,38.8 225.8,38.0 226.1,38.9 226.5,34.7 226.7,32.5 226.9,28.1 227.3,30.7 227.4,33.3 227.5,35.9 227.9,39.4 228.1,44.0 228.4,40.9 228.7,39.5 229.0,35.8 229.4,39.5 229.7,41.4 229.6,44.5 230.1,46.7 230.6,44.4 230.7,41.3 231.0,37.8 231.4,40.4 231.5,43.9 231.9,47.8 231.9,49.9 232.6,52.9 233.1,52.6 233.2,54.7 233.3,51.9 233.7,47.6 234.1,45.9 234.1,43.4 234.4,40.3 234.7,41.1 235.0,44.2 235.5,47.0 235.8,43.9 235.7,42.1 236.1,38.9 236.2,35.4 236.5,33.0 236.6,36.9 236.7,36.7 236.8,41.1 236.9,44.6 236.7,46.5 236.7,49.2 236.9,52.0 237.0,54.8 237.0,58.0 237.0,60.5 237.1,66.8 237.1,67.9 237.5,70.8 237.3,72.8 237.4,77.1 237.3,79.3 237.4,82.0 237.5,86.0 237.5,88.3 237.6,92.0 237.6,94.8 237.8,97.3 237.6,100.3 237.8,105.2 237.7,106.5 237.9,109.9 237.7,112.8 238.0,116.3 237.8,119.0 237.9,121.8 238.0,125.0 238.3,127.4 238.2,125.0 238.3,121.4 238.2,119.9 238.1,116.3 238.2,118.1 238.6,112.1 238.4,107.1 238.6,103.8 238.6,98.8 238.5,98.5 238.6,96.0 238.6,93.7 238.6,90.0 238.8,87.8 238.6,84.2 238.8,81.9 238.7,78.8 238.8,76.3 238.7,72.7 239.0,70.7 239.2,67.5 239.2,63.5 239.5,62.0 239.5,57.5 239.6,55.5 239.6,52.6 240.2,51.8 240.2,47.5 240.3,48.2 240.3,52.7 240.5,56.5 241.0,57.8 241.0,60.9 241.3,57.0 241.6,53.6 241.7,50.4 242.2,48.6 242.5,43.3 242.9,42.2 243.1,39.6 243.4,44.8 243.5,46.6 243.4,48.6 243.8,52.9 244.0,57.1 244.1,59.7 244.1,62.1 244.3,64.7 244.5,69.0 244.8,71.1 245.0,74.0 245.1,73.1 245.3,80.0 245.5,76.1 245.9,72.8 245.6,70.3 245.7,65.7 245.9,63.2 245.9,61.2 246.1,57.4 246.3,54.6 246.3,52.0 246.7,50.7 247.1,45.8 247.5,43.5 247.7,46.2 248.0,49.3 248.4,52.2 248.9,48.6 249.2,46.6 249.2,43.3 249.6,40.6 249.8,43.4 249.7,46.5 250.2,49.5 250.2,52.7 250.3,54.1 250.6,58.7 251.0,56.4 251.3,53.6 251.5,49.0 252.1,51.7 252.3,56.9 252.5,58.0 253.0,55.7 253.0,52.6 253.3,48.5 253.8,45.4 254.1,48.8 254.5,52.6 255.0,55.6 254.7,52.1 255.3,49.1 255.6,46.7 255.8,45.7 255.9,46.5 256.2,47.9 256.4,51.6 256.8,52.6 256.9,57.0 257.3,55.4 257.5,53.0 258.0,48.4 258.6,45.7 258.7,41.6 258.9,38.9 259.4,41.3 259.4,44.7 259.6,47.9 260.1,50.7 260.1,52.1 260.3,51.5 260.7,49.5 261.1,45.4 261.4,44.1 261.8,42.8 262.4,40.0 262.5,43.5 262.6,47.8 262.7,50.9 263.0,55.1 263.3,56.8 263.4,55.0 263.7,51.3 264.1,49.6 264.5,48.8 264.7,47.2 264.9,47.6 265.3,49.2 265.5,45.8 265.8,42.4 265.7,39.3 266.3,36.6 266.2,32.7 266.3,31.4 266.8,28.5 267.1,26.9 267.7,25.6 267.9,24.3 268.3,22.7 268.5,21.0 268.7,24.7 269.0,28.3 269.7,30.2 269.8,33.6 269.8,37.5 270.1,39.6 270.3,41.3 270.4,44.3 270.4,47.8 270.6,50.3 270.7,52.8 271.1,56.2 271.5,59.5 271.7,60.5 271.9,58.6 272.0,51.0 271.8,51.4 272.0,48.3 272.2,43.4 272.3,43.9 272.4,39.7 272.5,34.4 272.6,34.5 272.7,29.7 273.0,34.0 273.0,37.3 273.1,39.0 273.0,42.4 273.4,46.6 273.6,49.7 273.6,52.2 273.8,56.2 274.2,55.0 274.5,51.5 274.8,49.7 274.9,52.4 275.1,56.8 275.4,60.1 275.7,62.5 276.3,60.4 276.8,58.5 276.9,55.4 277.3,59.8 277.3,63.1 277.9,64.5 277.9,67.0 278.0,66.3 278.1,74.0 278.5,77.9 278.3,79.9 278.6,83.8 278.5,87.0 278.4,89.9 278.8,93.8 278.7,95.9 278.8,97.6 278.8,96.9 278.9,103.7 279.0,108.1 279.2,111.2 279.3,114.9 279.1,117.4 279.5,117.5 280.0,117.9 280.4,113.1 280.8,110.9 281.1,113.9 281.5,117.6 281.6,119.9 281.6,121.6 281.7,126.6 282.1,130.0 282.0,132.6 282.1,131.8 282.1,137.9 282.5,141.2 282.7,144.2 282.7,150.3 282.9,150.1 283.1,151.7 283.4,155.1 283.5,158.6 283.6,155.7 283.6,153.1 283.8,149.0 283.8,146.5 284.0,144.5 284.0,140.9 284.3,136.7 284.1,135.0 284.4,132.1 284.2,129.9 284.5,127.9 284.5,123.8 284.6,119.6 284.4,116.4 284.8,113.8 284.6,111.8 284.6,108.2 284.8,104.8 285.0,102.5 285.0,99.6 285.0,95.6 285.3,92.1 285.1,91.1 285.4,87.7 285.2,81.4 285.1,84.4 285.3,78.6 285.3,75.4 285.5,71.4 285.7,70.4 285.7,65.3 285.6,64.8 285.9,62.0 286.0,58.1 286.4,54.9 286.2,52.0 286.3,49.2 286.2,46.6 286.7,43.8 286.8,40.6 286.8,36.3 287.0,34.5 287.2,33.4 287.5,29.3 287.4,31.5 287.7,35.6 287.6,40.4 288.2,41.5 288.0,45.1 288.0,48.9 288.2,52.2 288.2,53.4 288.7,56.9 288.6,54.5 288.7,51.9 289.0,48.4 289.2,45.5 289.3,44.0 289.7,45.7 290.3,49.4 290.7,50.5 290.8,47.8 291.0,45.1 290.9,43.2 291.3,39.9 291.4,36.9 291.5,33.0 291.9,30.0 292.3,29.2 292.6,27.7 292.9,30.4 293.0,32.3 293.0,36.7 293.3,37.3 293.3,41.6 293.3,43.6 293.8,47.5 293.8,44.7 294.4,42.1 294.7,39.0 295.0,38.0 295.1,35.0 295.4,40.8 295.7,43.3 296.1,39.3 296.4,36.0 296.5,28.8 296.8,30.0 297.0,27.1 297.2,29.3 297.4,32.6 297.6,36.4 297.8,39.8 298.0,42.4 297.9,46.1 298.4,42.8 298.5,39.8 299.0,36.5 299.5,35.3 299.8,31.9 300.2,30.2 300.2,29.4 300.9,28.2 301.1,25.2 301.5,24.1 301.9,22.2 302.2,21.0 302.6,21.5 303.0,23.4 303.3,24.9 303.6,25.7 304.2,24.6 304.3,24.4 304.6,27.1 304.9,31.2 305.3,33.0 305.3,37.1 305.5,40.7 305.9,42.3 306.3,44.5 306.4,46.6 306.8,40.5 307.2,42.1 307.5,40.6 307.7,41.5 308.2,42.4 308.5,44.3 308.9,38.0 309.3,37.9 309.8,35.9 309.9,34.2 310.3,29.9 310.8,29.0 310.8,28.4 311.4,27.5 311.5,23.9 311.7,26.9 312.1,30.7 312.2,32.0 312.4,35.7 312.4,38.8 312.8,41.4 312.7,44.1 313.0,46.8 312.9,50.1 313.1,51.8 313.2,55.5 313.4,58.1 313.6,61.4 313.5,57.2 313.6,54.7 313.7,52.1 314.0,49.9 313.9,46.1 314.0,43.4 314.0,40.1 314.3,37.2 314.5,34.2 314.6,30.7 314.9,30.3 315.0,24.7 315.5,30.0 315.9,29.0 315.9,32.5 316.1,36.1 316.2,40.7 316.5,44.2 316.5,46.2 316.7,49.1 317.0,46.7 317.1,43.7 317.0,40.3 317.7,39.7 317.6,33.9 318.3,36.9 318.3,39.5 318.4,40.6 318.9,46.7 319.2,44.6 319.4,42.0 319.8,34.9 320.0,40.9 320.3,42.4 320.2,46.3 320.5,49.8 320.4,53.6 320.6,55.5 320.7,57.8 320.8,61.0 321.3,61.8 321.7,62.1 322.1,60.1 322.1,63.2 322.3,66.2 322.2,68.1 322.1,70.7 322.1,74.0 322.3,78.4 322.6,81.3 322.4,82.8 322.6,86.6 322.6,90.5 322.9,93.6 322.8,94.7 322.9,98.3 322.7,101.1 323.1,105.4 323.1,102.3 323.1,98.6 323.1,96.0 323.2,94.1 323.2,87.9 323.6,86.0 323.5,83.9 323.7,80.6 323.6,79.8 323.7,76.8 323.6,72.9 323.9,68.4 323.8,69.0 324.1,63.5 324.2,61.4 324.3,63.3 324.3,67.9 324.6,70.4 325.1,72.2 325.2,76.7 325.4,78.5 325.4,81.1 325.7,82.1 325.8,88.0 325.9,91.3 326.3,93.4 326.4,89.2 327.1,89.8 327.2,87.8 327.2,89.4 327.4,93.0 327.7,96.2 327.6,100.8 328.2,102.1 328.2,105.4 328.2,108.0 328.5,112.6 328.8,114.2 328.6,117.9 328.7,119.5 328.8,122.6 328.9,125.1 329.0,127.3 329.0,133.5 329.1,135.3 329.3,138.6 329.3,140.1 329.3,138.0 329.5,134.8 329.5,132.6 329.6,129.4 329.7,126.5 329.7,123.4 329.7,121.6 329.8,118.1 330.2,115.2 330.0,112.8 330.3,108.9 330.1,108.5 330.2,99.8 330.4,102.5 330.2,97.3 330.4,93.8 330.4,91.2 330.8,87.6 331.2,84.9 331.0,81.3 331.3,79.0 331.4,74.7 331.8,72.3 332.3,76.1 332.7,74.9 332.6,78.6 333.0,81.3 333.1,85.4 333.3,87.0 333.5,89.0 333.8,88.9 334.0,85.5 334.3,83.1 334.6,79.9 334.7,84.2 334.8,85.3 335.0,89.5 334.9,92.2 335.0,95.3 335.3,99.2 335.4,101.9 335.4,103.5 335.7,107.4 335.7,111.2 335.8,108.0 335.8,105.4 336.1,104.9 336.4,99.3 336.4,91.3 336.2,90.7 336.7,88.0 337.0,82.8 337.3,83.3 337.8,76.3 338.0,82.3 338.2,81.8 338.4,87.3 338.7,91.2 338.7,93.3 339.2,92.7 339.6,91.7 340.0,91.2 340.0,94.1 340.0,96.1 340.6,98.4 340.4,101.8 340.5,105.7 340.5,108.0 340.9,109.5 341.1,112.8 341.1,117.3 341.5,119.5 341.7,119.5 342.0,125.8 342.2,131.1 342.4,131.7 342.6,132.5 342.7,137.0 342.9,140.4 343.0,143.4 342.9,146.2 343.4,148.3 343.3,153.2 343.3,154.2 343.5,160.5 343.5,162.2 343.7,166.4 343.8,168.0 344.1,167.9 344.5,168.0 344.8,168.0 345.2,168.0 345.6,167.8 346.1,167.5 346.5,167.2 347.0,167.5 347.4,167.3 347.9,167.5 348.3,167.8 348.7,168.0 349.2,168.0 349.6,168.0 350.0,168.0 350.5,168.0 350.8,167.8 351.2,167.5 351.5,167.2 351.7,164.4 351.9,161.3 352.1,157.8 352.2,153.0 352.4,150.4 352.4,149.1 352.5,145.9 352.4,142.1 352.6,139.8 352.7,135.5 352.7,132.6 352.9,131.1 352.9,126.2 352.9,124.4 353.0,120.5 353.2,116.2 353.3,114.4 353.2,112.1 353.1,110.1 353.5,105.9 353.3,102.7 353.5,100.4 353.8,93.2 353.8,92.4 353.8,89.5 353.8,89.0 353.9,84.4 354.0,80.9 353.9,78.1 354.0,76.3 353.9,72.5 354.1,71.0 354.0,68.3 354.2,64.5 354.3,61.7 354.4,59.1 354.3,52.2 354.5,53.4 354.5,56.1 354.8,58.6 354.8,61.6 355.1,65.6 355.4,71.1 355.4,70.2 355.5,73.5 355.5,76.6 355.6,82.6 355.7,79.1 355.8,86.3 355.9,89.6 356.0,92.3 356.1,95.4 356.3,98.8 356.3,101.7 356.4,105.3 356.3,107.6 356.4,104.5 356.6,101.4 356.7,98.8 356.7,96.4 357.0,92.1 356.9,90.5 357.1,86.8 357.1,85.0 357.1,80.3 357.4,78.5 357.6,74.5 357.5,73.6 357.6,69.4 358.0,66.6 357.9,64.2 358.1,60.0 358.0,58.0 358.1,56.3 358.3,53.2 358.6,50.0 358.6,53.8 359.2,55.8 359.0,59.1 359.2,62.9 359.2,68.5 359.7,71.9 359.7,65.4 359.9,62.6 360.2,61.2 360.2,57.1 360.3,52.9 360.4,49.9 360.6,46.3 360.6,45.0 361.1,45.6 361.2,48.1 361.6,45.2 362.1,47.1 362.1,40.1 362.2,40.1 362.4,35.3 362.9,32.2 362.9,31.2 363.3,30.2 363.7,34.3 363.9,37.1 364.1,35.9 364.9,35.2 365.0,29.0 365.2,33.0 365.5,39.1 365.5,38.2 366.0,42.3 366.2,39.4 366.8,35.6 367.1,33.2 367.0,37.5 367.6,38.2 367.7,43.2 368.2,46.4 368.6,44.0 368.9,40.2 369.3,35.8 369.6,37.5 369.7,39.4 370.4,39.0 370.3,35.8 370.7,32.8 370.9,30.2 371.3,28.2 371.7,31.6 371.8,32.1 372.2,38.2 372.4,41.6 372.5,45.1 373.0,43.3 372.9,49.1 373.4,49.7 373.6,55.8 373.9,58.3 373.8,61.4 373.9,66.5 374.3,68.7 374.5,69.7 374.8,68.2 374.6,65.7 374.9,62.8 374.8,60.7 375.2,57.2 375.4,53.4 375.5,50.5 375.8,46.9 376.0,43.6 376.1,40.6 376.1,37.8 376.5,36.7 376.5,32.3 376.6,34.5 376.6,38.0 376.9,39.8 377.0,42.8 376.9,45.4 376.9,47.9 377.2,51.9 377.2,55.2 377.5,57.4 377.3,63.6 377.4,63.2 377.6,64.0 377.6,68.1 377.9,73.0 378.2,74.7 378.3,78.6 378.2,79.9 378.4,78.0 378.4,75.4 378.5,72.1 378.8,68.1 378.8,65.0 379.2,61.9 379.2,59.1 379.2,55.4 379.4,53.6 379.5,52.7 379.7,50.0 380.1,46.6 380.5,45.9 380.5,41.2 381.0,38.4 381.1,34.4 381.2,33.4 381.4,32.5 381.5,27.3 381.7,31.4 382.1,34.6 382.5,37.1 382.6,40.6 382.9,43.7 383.3,46.6 383.6,50.3 384.1,52.2 384.3,53.4 384.9,54.7 384.8,51.7 385.0,49.8 385.5,48.0 385.8,43.9 385.8,47.4 385.9,50.3 386.1,53.9 386.2,56.7 386.3,59.0 386.6,61.1 386.5,65.2 386.8,68.6 386.7,72.1 387.1,69.4 387.4,69.4 387.4,63.8 387.8,59.9 388.1,64.9 388.4,67.0 388.9,69.9 388.6,72.7 389.1,74.3 389.7,76.1 390.0,75.9 390.1,74.5 390.5,71.3 390.3,67.8 390.7,64.3 390.8,62.4 391.0,60.8 391.3,56.4 391.4,51.6 391.8,47.7 392.2,46.1 392.1,49.5 392.3,52.9 392.6,56.3 392.7,58.0 392.9,60.7 393.0,64.3 393.6,68.0 393.9,70.0 394.0,74.3 394.5,68.9 394.6,64.0 394.8,63.7 394.9,61.1 394.9,57.8 395.0,56.2 395.4,53.3 395.9,50.3 396.4,47.5 396.5,45.9 396.9,43.0 397.3,40.3 397.1,37.9 397.7,38.4 398.0,41.3 398.5,43.4 398.4,44.4 398.8,51.0 398.7,53.2 399.1,54.6 399.1,57.9 399.3,61.3 399.3,62.6 399.6,61.2 399.8,59.0 400.1,54.8 400.5,57.6 400.3,59.9 400.9,62.7 401.2,66.2 401.4,67.9 401.5,71.5 401.9,75.4 402.1,77.7 402.3,82.7 402.6,84.4 403.0,86.5 403.2,91.3 403.3,93.9 403.9,98.2 404.1,100.0 404.5,101.6 405.0,103.6 405.3,103.5 405.6,106.5 406.1,107.2 406.3,110.5 406.3,107.3 406.7,102.2 406.9,102.4 407.1,98.8 407.1,95.6 407.3,94.0 407.5,90.6 407.5,87.7 407.8,85.6 408.1,81.9 408.2,79.1 408.5,77.2 408.6,73.8 408.8,68.2 409.1,67.6 409.1,63.0 409.3,61.0 409.9,63.6 410.1,64.8 410.1,68.3 410.2,70.5 410.6,75.2 410.6,72.1 410.8,68.3 411.0,65.7 410.8,63.8 411.1,56.9 411.0,57.7 411.4,55.0 411.5,51.6 411.6,49.2 411.4,45.6 411.6,42.9 412.0,42.7 412.1,37.8 412.2,33.3 412.1,31.1 412.4,28.5 412.3,31.7 412.5,34.5 412.4,37.7 412.7,39.6 412.5,42.5 412.6,45.8 412.4,48.8 412.4,50.1 412.5,55.2 412.9,58.3 412.8,61.4 413.1,63.3 412.8,67.0 413.1,70.5 413.1,74.3 413.2,67.2 413.3,66.7 413.6,63.9 413.6,61.2 413.7,58.6 413.6,55.9 413.7,52.3 413.8,48.7 413.9,46.4 414.0,43.6 414.3,43.4 414.5,48.4 414.9,51.4 415.2,54.7 415.5,55.0 415.6,50.5 415.8,46.8 415.9,43.1 416.3,41.1 416.5,42.0 417.0,45.8 417.2,51.5 417.5,44.0 417.4,43.0 417.8,37.1 418.2,34.5 418.3,30.9 418.6,33.8 419.3,37.1 419.6,37.9 419.8,41.5 420.2,42.7 420.5,43.7 420.5,41.2 420.9,37.9 421.0,35.1 421.3,31.9 421.5,28.6 421.8,34.5 422.1,33.0 422.5,36.0 423.1,31.1 423.1,30.6 423.6,27.3 423.8,28.5 424.3,32.0 424.4,36.7 424.8,39.0 424.7,36.6 425.1,33.3 425.5,29.6 425.6,27.0 425.8,28.5 426.1,31.6 426.2,34.8 426.3,38.3 426.7,41.6 426.9,44.5 427.3,45.7 427.4,41.9 427.7,40.0 427.8,43.5 428.1,47.4 427.9,48.6 428.0,52.5 428.2,55.4 428.1,60.4 428.5,61.2 428.4,63.3 428.4,70.0 428.7,70.5 428.6,73.2 428.5,75.7 428.6,78.9 428.7,84.1 428.9,85.1 428.9,87.0 428.9,90.3 428.8,93.0 429.0,96.5 429.0,99.0 429.2,102.3 429.3,105.8 429.1,109.0 429.2,111.1 429.6,113.2 429.5,118.4 429.7,120.3 429.9,123.2 429.9,125.7 429.8,127.5 430.2,130.1 430.1,134.6 430.2,137.6 430.4,135.5 430.6,132.1 430.2,128.3 430.5,125.2 430.6,122.1 430.6,120.6 430.7,118.4 430.6,113.7 430.8,111.8 430.6,110.1 430.8,105.1 430.8,102.9 430.9,99.4 430.9,96.0 431.0,92.6 430.8,90.5 431.1,87.3 431.4,84.0 431.1,80.6 431.4,77.7 431.5,75.1 431.7,72.0 431.9,73.9 432.0,76.0 432.0,80.9 431.8,84.2 432.1,86.2 432.2,90.1 432.7,93.0 432.4,95.2 432.7,98.4 432.8,102.7 432.8,103.7 432.8,102.0 433.1,99.4 432.9,96.6 433.1,92.0 433.2,88.4 433.5,84.4 433.6,81.1 433.7,78.7 433.8,76.6 434.3,79.9 434.5,82.8 434.7,85.8 434.9,87.9 435.2,85.4 435.3,81.4 435.4,78.8 435.4,76.2 435.7,73.9 435.7,71.2 435.8,69.8 435.9,63.6 436.1,66.6 436.3,69.8 436.7,72.9 436.8,76.3 436.7,79.1 437.1,81.5 437.1,84.5 437.3,86.5 437.6,89.6 437.4,93.0 437.6,96.9 437.8,93.9 438.4,91.7 438.3,90.1 438.8,87.1 438.6,89.5 438.9,93.2 439.1,96.4 439.0,99.5 439.3,102.3 439.3,103.3 439.5,106.7 439.6,111.5 439.7,114.5 439.5,119.6 440.0,119.8 439.9,121.5 440.4,126.0 440.6,129.2 441.0,133.0 441.1,135.9 441.5,137.3 441.7,140.5 442.0,143.1 442.1,140.5 442.2,138.0 442.4,133.6 442.5,131.1 442.4,127.0 442.8,124.7 442.8,120.4 443.2,119.1 443.3,114.9 443.1,113.3 443.1,109.7 443.4,106.5 443.6,104.4 443.6,100.8 443.8,97.7 443.8,94.4 444.0,95.5 444.0,86.8 444.3,86.2 444.2,84.8 444.4,83.2 444.4,78.9 444.4,75.2 444.5,71.9 444.7,69.4 444.7,66.9 444.7,66.9 445.0,57.7 444.8,56.8 445.3,54.4 445.5,51.9 445.3,49.5 445.5,47.1 445.8,43.1 446.0,40.5 446.1,39.0 446.3,39.0 446.9,43.8 447.3,42.9 447.6,42.0 447.9,45.9 448.3,46.6 448.6,50.6 448.8,53.4 448.9,56.5 449.1,59.4 449.4,61.3 449.6,58.5 449.7,55.7 450.2,51.1 450.3,49.5 450.5,52.4 450.5,56.7 450.9,59.6 450.8,63.4 451.2,65.9 451.5,72.8 451.8,66.5 452.2,63.9 452.4,61.9 452.7,65.5 452.5,65.7 452.8,72.7 453.2,74.8 453.2,78.8 453.4,82.5 453.5,83.6 453.3,87.0 453.6,90.1 454.0,87.6 454.1,86.3 454.6,83.3 454.8,78.1 454.7,83.5 454.9,86.6 455.1,88.7 455.0,91.5 455.0,95.6 455.1,97.0 455.3,99.9 455.3,102.4 455.4,104.6 455.8,108.7 455.5,112.0 455.7,114.7 456.0,117.9 456.1,123.7 456.3,120.0 456.5,126.7 456.4,129.0 456.5,127.9 456.6,122.9 456.5,120.7 456.7,118.7 456.9,115.9 457.0,111.8 456.9,109.5 457.3,106.6 457.2,104.0 457.4,99.7 457.4,97.5 457.4,93.8 457.5,93.2 457.8,88.8 458.0,85.4 458.1,81.8 458.2,77.4 458.4,75.5 458.5,72.2 458.4,68.8 458.7,72.4 458.8,73.6 459.1,79.3 459.4,82.5 459.4,85.1 459.7,87.2 460.0,86.6 460.1,84.9 460.5,83.5 460.8,86.6 460.9,89.5 460.8,93.1 461.0,92.3 460.9,97.8 461.2,101.5 461.2,104.8 461.3,107.8 461.3,111.3 461.5,116.1 461.7,117.2 461.8,114.3 462.0,110.6 462.3,108.5 462.3,102.9 462.5,100.2 462.7,96.6 463.0,91.0 463.3,90.8 463.5,88.2 463.9,85.6 463.9,87.3 463.9,91.3 464.1,97.0 464.4,96.1 464.6,100.1 464.3,102.5 464.8,104.5 464.8,108.1 465.0,110.8 465.2,114.1 465.1,117.6 465.0,121.7 465.4,124.4 465.7,127.5 465.8,121.7 465.8,123.9 465.9,117.9 465.8,114.5 466.0,110.3 466.0,108.1 466.2,106.6 466.3,101.1 466.5,99.5 466.6,97.0 466.7,93.8 466.7,97.5 467.1,100.2 467.1,103.1 467.5,106.6 467.5,107.3 467.4,113.1 468.0,114.8 468.2,118.8 468.4,121.0 468.5,122.5 468.9,126.1 468.7,123.3 468.9,119.6 469.1,116.1 469.1,113.0 469.3,110.1 469.4,107.6 469.6,103.7 469.4,100.1 469.8,98.0 470.0,94.9 470.1,90.3 470.2,87.3 470.7,84.4 470.7,80.6 471.1,84.3 471.2,87.7 471.5,90.0 471.3,92.8 471.6,95.0 471.7,98.6 471.7,99.4 471.6,104.6 472.2,105.2 472.4,102.4 473.1,101.2 473.3,103.4 473.7,106.9 473.8,110.5 473.6,111.4 473.8,115.3 474.0,118.0 474.0,121.7 474.5,123.7 474.7,128.0 475.1,130.2 475.1,133.3 475.2,135.0 475.5,137.2 475.3,141.6 475.4,145.3 475.4,147.5 475.6,149.4 475.7,152.8 475.5,155.4 475.5,159.1 475.7,157.1 475.9,153.3 476.0,150.0 475.8,147.4 476.1,143.2 476.0,141.8 476.2,139.1 476.3,135.5 476.4,135.3 476.2,130.5 476.2,127.3 476.6,124.7 476.5,122.5 476.6,115.9 476.4,117.0 476.5,114.6 476.8,111.1 477.0,107.0 477.2,103.9 477.4,100.5 477.2,97.5 477.8,95.0 477.8,98.9 478.3,101.5 478.7,104.5 478.7,100.6 478.7,97.8 478.8,96.1 478.8,92.1 479.1,90.1 479.2,87.4 479.2,83.4 479.1,80.6 479.3,76.3 479.2,79.5 479.4,81.6 479.6,84.8 479.6,88.8 480.1,91.6 480.0,94.6 480.0,96.8 480.0,94.4 480.1,91.0 480.3,88.2 480.5,85.2 480.7,81.5 480.6,77.3 480.8,81.9 480.6,85.3 480.9,87.7 480.7,91.7 480.9,94.1 481.1,96.0 481.0,98.6 481.3,105.7 481.1,105.0 481.1,109.0 481.5,114.8 481.2,114.1 481.3,117.2 481.4,120.4 481.4,123.2 481.4,121.6 481.6,118.7 481.5,115.8 481.7,115.5 481.7,109.9 481.7,104.8 481.8,101.7 481.9,96.5 481.9,96.8 481.9,93.9 482.0,89.9 482.3,87.0 482.3,84.8 482.1,82.5 482.6,80.7 482.7,75.2 482.5,74.3 482.5,68.8 482.6,65.6 482.7,63.2 482.9,60.7 483.0,55.6 483.3,55.3 483.1,52.7 483.5,46.0 483.6,46.7 483.7,40.5 483.8,41.0 484.3,37.8 484.1,35.4 484.5,31.6 484.7,31.5 484.8,27.0 485.1,22.5 485.2,23.9 485.8,27.6 486.0,30.9 486.3,28.5 486.6,23.7 487.0,21.2 486.8,23.5 487.2,27.0 487.3,26.8 487.6,31.8 487.4,33.1 487.6,38.3 487.6,40.7 487.8,43.2 487.8,46.3 487.9,43.7 487.9,41.4 488.0,36.1 488.1,34.4 488.2,31.4 488.1,29.1 488.3,26.3 488.5,21.6 488.8,21.5 489.2,21.1 489.5,21.0 489.5,22.0 489.5,27.2 489.8,24.5 490.0,31.1 490.1,35.5 490.2,38.9 490.5,41.3 490.3,45.0 490.4,48.0 490.6,44.1 490.5,41.4 490.8,37.8 490.9,35.2 491.0,32.4 490.9,29.4 491.2,26.7 491.3,24.4 491.3,21.0 491.6,21.3 492.0,21.5 492.2,22.4 492.8,24.2 493.1,25.9 493.4,26.3 493.6,29.6 493.9,31.9 494.2,34.9 494.5,37.4 494.8,33.4 495.0,31.8 495.4,28.2 496.1,29.6 496.1,31.9 496.5,35.1 496.6,34.1 496.9,40.1 497.0,42.3 497.1,48.4 497.2,49.9 497.6,51.2 497.8,55.5 497.7,57.3 497.8,62.1 497.8,64.8 498.1,68.9 498.1,71.4 498.4,77.9 498.3,71.0 498.5,69.4 498.8,65.3 499.0,62.9 498.9,60.6 499.1,56.4 499.6,53.7 499.4,57.3 499.8,58.4 499.8,63.6 500.1,65.7 500.3,68.2 500.6,71.6 500.7,68.4 500.8,64.9 501.1,62.0 501.3,58.2 501.2,54.8 501.5,51.7 501.5,55.7 501.8,59.2 502.0,60.8 502.2,66.6 502.8,68.9 502.5,71.7 502.7,75.5 502.8,78.0 502.8,81.1 503.2,83.5 503.1,87.4 503.5,83.8 503.6,80.4 503.9,77.6 504.2,74.3 504.3,71.8 504.2,67.4 504.6,63.4 504.7,62.2 504.6,58.6 504.8,55.6 504.7,50.3 504.7,50.4 504.9,46.7 504.8,45.8 505.2,50.0 505.5,52.7 505.6,55.3 505.9,58.2 506.0,60.1 506.3,64.6 506.7,68.2 506.4,69.9 506.9,73.0 507.0,76.4 507.2,80.7 507.3,78.5 507.5,74.1 507.3,71.9 507.7,68.9 507.7,63.8 508.0,60.7 508.3,58.6 508.2,56.0 508.3,53.0 508.8,49.5 509.1,43.9 509.3,42.9 509.3,40.7 509.7,38.6 509.9,33.1 510.4,32.1 510.3,35.0 510.6,42.8 510.5,42.6 510.8,45.7 511.1,48.7 510.8,48.2 511.4,53.7 511.7,56.3 511.4,53.7 511.6,52.0 512.0,48.3 511.8,45.1 512.1,41.6 512.2,37.6 512.4,32.8 512.8,30.4 513.1,30.5 513.4,28.8 513.8,31.9 514.4,35.0 514.7,37.6 514.9,34.8 515.3,32.6 515.8,31.0 515.8,31.8 516.5,33.4 516.7,30.8 516.8,28.3 517.1,28.2 517.4,26.2 517.8,23.0 518.0,27.5 517.9,32.9 518.2,33.5 518.4,36.9 518.4,38.1 518.3,41.2 518.7,43.9 518.9,46.3 519.0,43.9 519.8,41.3 520.1,40.0 520.4,36.7 520.4,34.5 520.6,31.6 520.8,27.0 521.0,24.6 521.2,28.4 521.6,31.2 522.0,32.8 522.1,35.3 522.4,38.1 522.7,40.4 523.1,42.2 523.5,43.5 523.7,46.7 524.6,48.6 524.7,49.0 524.9,44.0 525.1,41.1 525.6,44.0 526.0,46.2 526.1,49.9 526.6,46.5 527.0,44.4 527.6,41.3 527.7,42.3 527.9,46.7 528.2,48.8 528.2,53.2 528.7,54.8 529.0,57.5 529.2,59.5 529.6,61.3 529.7,61.0 529.9,52.3 529.9,51.1 530.1,48.4 530.4,44.8 530.5,42.1 531.1,42.9 531.3,45.8 531.7,47.5 532.0,45.5 532.2,40.8 532.4,37.5 532.8,34.4 533.0,32.1 533.3,28.7 533.6,32.7 533.6,34.3 533.9,38.3 533.9,41.6 534.2,44.0 534.2,44.2 534.3,47.5 534.3,51.8 534.7,55.5 534.8,59.0 535.1,61.3 535.1,65.5 535.2,69.5 535.8,72.9 535.6,69.9 535.9,67.0 536.1,63.4 536.4,59.6 536.3,57.3 536.8,54.4 536.9,52.3 537.1,49.1 537.3,42.6 537.7,43.2 537.9,40.8 538.3,37.0 538.6,40.9 539.0,42.3 539.0,45.1 539.4,47.4 539.7,52.7 539.7,51.9 540.5,54.2 540.9,53.1 541.0,51.9 541.2,49.7 541.4,47.0 541.9,47.5 542.1,53.4 542.5,55.5 542.7,49.4 542.9,47.2 543.0,45.1 543.6,42.3 543.8,38.8 544.0,35.4 544.2,33.7 544.4,31.6 544.8,27.9 545.2,31.1 545.4,32.1 545.7,35.3 545.9,33.2 546.1,29.3 546.2,27.2 546.4,23.7 546.9,27.0 546.9,27.4 546.9,31.6 547.2,34.0 547.4,37.8 547.3,40.2 547.4,43.6 547.5,46.4 547.8,50.0 547.9,52.7 548.0,54.2 548.2,59.1 548.4,62.1 548.6,58.6 548.6,55.3 548.8,54.0 548.7,52.3 549.1,47.9 549.3,45.0 549.4,41.2 549.6,38.2 549.9,32.5 550.0,30.4 550.2,29.5 550.7,30.2 551.0,33.4 551.5,35.2 551.6,32.7 552.0,29.6 552.5,27.5 552.7,27.9 553.1,30.2 553.5,29.7 553.8,34.6 554.1,34.9 554.4,36.3 554.6,41.7 554.6,45.3 554.8,46.7 554.8,49.5 555.0,53.2 555.3,56.6 555.3,58.7 555.4,60.8 555.6,64.0 555.7,66.6 555.9,69.9 556.1,73.4 556.3,75.6 556.4,76.6 556.7,78.3 556.6,85.2 556.7,87.5 556.8,90.9 556.9,93.7 557.0,96.1 557.1,98.2 557.0,100.5 557.2,103.4 557.4,105.7 557.3,99.9 557.7,99.9 557.8,98.0 557.9,95.3 557.5,92.2 558.1,88.8 558.1,86.2 558.0,82.1 558.4,79.7 558.8,76.3 558.8,72.3 559.1,71.0 558.8,67.5 559.1,63.1 559.1,60.8 559.1,57.8 559.5,55.0 559.3,52.7 559.5,49.2 559.6,45.4 559.6,50.5 559.6,51.9 559.7,55.8 559.6,59.1 559.8,61.8 560.0,65.7 560.0,68.6 560.1,69.4 560.1,72.6 560.4,77.1 560.7,80.7 560.9,84.9 561.0,87.8 561.3,88.9 561.2,91.4 561.3,95.2 561.6,98.8 561.6,98.7 561.7,98.4 561.9,95.1 561.9,92.4 562.1,89.8 562.4,87.5 562.6,83.4 562.4,80.9 562.5,81.2 562.6,74.5 562.8,71.2 563.1,69.4 563.1,66.9 563.0,61.9 563.3,59.7 563.5,55.4 563.3,55.8 563.7,52.5 563.9,50.3 564.0,45.3 564.3,49.7 564.4,53.3 564.4,56.3 564.7,60.4 565.0,62.7 565.0,64.6 565.0,67.6 564.9,74.5 565.0,75.2 565.3,76.2 565.5,76.4 565.6,80.9 565.7,81.3 565.9,86.2 565.8,83.8 565.9,82.3 566.0,78.5 566.4,75.3 566.1,74.4 566.4,70.6 566.5,68.0 566.4,63.3 566.5,62.8 566.7,58.8 567.0,56.3 566.6,50.4 567.1,48.0 567.1,44.7 567.0,42.6 567.2,40.2 567.4,35.3 567.7,32.6 567.9,35.0 568.4,36.2 568.8,36.8 568.8,40.7 568.7,43.2 568.8,47.2 569.1,50.6 569.0,53.9 569.2,56.9 569.2,59.6 569.2,62.6 569.5,66.9 569.4,68.0 569.3,72.7 569.6,75.3 569.6,77.8 569.7,80.2 570.0,82.9 570.0,85.7 569.7,89.1 570.0,89.9 570.2,95.2 570.5,97.8 570.9,100.9 570.7,103.5 571.2,109.7 571.1,103.9 571.3,99.9 571.4,95.0 571.5,95.6 571.5,93.8 571.5,90.9 571.7,87.0 571.7,83.8 571.7,81.4 571.9,77.3 571.9,74.4 572.2,70.7 572.1,69.1 572.5,65.1 572.5,61.7 572.8,65.0 572.9,67.2 572.8,70.8 572.9,74.7 573.0,77.3 573.1,80.4 573.0,85.5 573.2,87.0 573.3,83.3 573.2,80.4 573.3,77.6 573.4,75.1 573.6,70.6 573.7,68.1 574.0,63.5 573.6,62.9 574.0,60.3 574.4,58.8 574.4,53.4 574.6,54.2 574.6,57.7 575.0,56.2 575.2,59.8 575.2,61.1 575.3,70.7 575.7,70.2 575.8,67.0 576.0,64.3 575.9,61.1 576.2,60.1 576.4,55.7 576.6,58.6 576.6,61.7 576.6,64.0 577.0,67.2 577.1,70.7 577.3,73.4 577.5,72.3 577.5,73.7 577.7,71.5 577.7,66.9 577.6,63.9 577.8,60.4 577.9,58.0 578.1,54.9 578.1,51.2 578.0,48.2 578.1,45.5 578.4,41.5 578.8,42.1 579.2,37.2 579.3,41.2 579.5,44.5 579.8,47.3 579.8,51.2 579.9,54.8 579.9,58.6 580.2,61.0 580.4,57.9 581.0,54.5 580.8,50.6 581.1,46.4 581.0,44.3 581.4,40.9 581.6,43.8 581.6,47.2 581.7,49.6 582.1,50.7 582.1,55.2 582.7,54.3 582.6,54.4 582.7,51.2 582.9,48.4 582.8,45.4 583.1,43.4 583.4,38.7 583.5,36.0 583.8,33.6 584.0,32.3 584.2,27.0 584.6,29.1 584.8,34.5 585.0,35.1 585.4,39.8 585.2,36.2 585.9,30.6 585.9,31.7 586.0,28.3 586.7,31.0 586.8,29.3 587.3,33.9 587.8,30.3 588.1,28.9 588.1,26.0 588.4,23.6 588.5,24.1 589.1,22.5 589.5,21.7 589.7,25.2 589.9,28.0 589.9,31.3 590.2,34.9 590.5,39.3 590.8,34.9 591.1,31.6 591.4,28.8 591.5,23.1 591.8,29.6 592.0,34.0 592.4,35.6 592.7,36.9 592.9,35.8 593.3,34.4 593.4,33.7 593.8,34.2 594.1,37.0 594.2,40.1 594.4,45.4 594.3,48.5 594.6,50.9 594.8,53.7 594.9,52.6 595.2,47.8 595.6,46.3 595.6,43.0 596.2,40.3 596.7,37.5 596.9,34.2 597.1,35.6 597.7,36.6 597.9,41.6 598.1,38.6 598.5,34.6 598.2,33.5 598.5,28.8 598.8,26.1 598.9,23.9 599.2,21.1 599.6,21.8 599.7,23.9 600.0,27.4 599.9,31.1 600.4,33.8 600.4,36.4 600.5,40.5 600.8,44.9 601.0,44.2 601.6,44.7 601.7,48.4 601.8,53.8 602.3,59.2 602.4,60.6 602.5,64.2 602.6,59.8 602.5,56.4 603.0,54.3 603.1,50.7 603.2,46.9 603.4,45.2 603.4,40.8 603.9,43.4 604.0,44.5 604.7,47.1 604.8,45.2 604.8,40.3 605.4,38.8 605.5,35.7 605.9,38.8 606.0,42.3 605.9,45.7 606.3,47.3 606.5,50.5 606.5,53.6 606.7,56.1 606.9,54.5 606.9,51.4 607.3,49.3 607.3,45.7 607.5,40.9 607.8,39.8 608.1,36.3 608.0,33.5 608.4,30.8 608.4,25.6 608.5,31.7 608.7,35.2 608.8,38.8 609.0,41.4 609.0,43.8 609.1,45.6 609.2,48.9 609.3,51.5 609.5,55.0 609.8,59.6 610.0,62.5 610.0,68.9 610.1,67.7 610.3,65.1 610.4,62.0 610.7,59.6 610.8,55.9 610.9,52.5 611.0,49.5 611.2,45.7 611.4,43.6 611.8,41.2 612.1,36.6 612.2,39.0 612.6,43.5 612.8,46.1 613.1,51.8 613.3,52.2 613.7,55.9 613.8,56.9 614.1,58.5 614.2,63.5 614.3,66.9 614.4,69.1 614.8,72.4 614.8,75.9 614.9,71.8 615.1,69.7 615.3,66.5 615.0,64.3 615.0,60.0 615.3,56.8 615.4,54.3 615.7,51.2 615.5,48.3 615.7,45.9 615.9,43.0 616.2,39.0 616.4,33.6 616.6,38.2 616.9,41.6 617.6,44.1 617.8,50.1 617.8,44.7 618.3,42.4 618.8,40.0 619.1,37.0 619.1,35.9 619.8,33.1 620.2,33.9 620.6,39.1 620.8,35.4 620.9,39.3 620.7,44.2 621.1,43.5 621.2,46.0 621.3,48.8 621.5,51.8 621.6,55.5 621.7,57.5 621.9,62.0 621.8,63.8 621.7,65.7 621.8,71.1 621.9,73.1 622.2,76.0 622.1,77.7 622.3,80.8 622.5,78.6 622.6,74.8 622.7,75.6 623.0,70.0 623.0,66.9 623.1,64.5 623.4,61.8 623.7,58.5 624.1,61.7 624.0,65.1 624.2,68.5 624.6,72.1 624.6,75.2 624.6,79.2 624.8,75.4 624.7,71.0 625.0,68.9 624.8,65.5 624.9,63.3 625.0,59.6 625.2,56.8 625.4,53.9 625.4,50.2 625.3,47.2 625.5,51.3 625.5,52.8 625.6,54.3 625.8,59.1 626.0,62.1 626.2,63.9 626.0,67.3 626.2,70.1 626.3,73.0 626.2,75.3 626.3,79.2 626.4,83.9 626.5,85.6 626.7,87.5 626.8,90.5 626.7,94.2 626.8,97.1 627.2,100.2 627.2,103.5 627.2,108.1 627.6,110.3 627.4,114.4 627.6,111.1 627.7,107.4 627.6,103.8 627.7,101.6 627.8,98.9 627.9,94.9 628.1,92.0 628.2,89.9 628.2,90.4 628.7,83.4 629.0,79.6 629.0,83.0 629.0,85.5 629.5,88.4 629.6,94.1 629.8,91.9 629.7,96.1 629.7,99.9 629.7,103.5 629.7,105.4 630.0,107.3 630.0,108.0 629.8,112.9 630.0,118.3 630.3,120.4 630.3,123.8 630.1,126.5 630.3,129.1 630.2,132.2 630.3,136.3 630.6,138.6 630.6,136.2 630.6,130.4 630.5,128.5 630.7,126.2 630.5,123.0 631.0,121.1 630.8,116.9 630.9,114.3 630.9,113.6 631.0,107.6 631.1,104.0 631.1,99.3 631.4,98.1 631.2,95.8 631.5,93.8 631.6,90.9 631.7,87.8 632.0,83.6 632.2,80.8 632.2,78.4 632.4,75.5 632.4,72.0 632.7,67.9 632.7,64.7 633.0,60.8 633.0,57.8 633.1,55.2" fill="none" stroke="#87ceeb" stroke-width="1.3" stroke-linejoin="round" stroke-linecap="butt" />
</g>
<text x="41.4" y="13.08" font-size="17.15">a) OSTIA @ 0.125°E,80.125°N</text>
<text x="33.6" y="25.68" font-size="14" text-anchor="end">2</text>
<text x="33.6" y="62.59" font-size="14" text-anchor="end">1</text>
<text x="33.6" y="99.50" font-size="14" text-anchor="end">0</text>
<text x="33.6" y="136.42" font-size="14" text-anchor="end">−1</text>
<text x="33.6" y="173.33" font-size="14" text-anchor="end">−2</text>
<text x="664.6" y="25.68" font-size="14" text-anchor="end">100</text>
<text x="664.6" y="55.21" font-size="14" text-anchor="end">80</text>
<text x="664.6" y="84.74" font-size="14" text-anchor="end">60</text>
<text x="664.6" y="114.27" font-size="14" text-anchor="end">40</text>
<text x="664.6" y="143.80" font-size="14" text-anchor="end">20</text>
<text x="664.6" y="173.33" font-size="14" text-anchor="end">0</text>
<text x="32.50" y="187.13" font-size="14">Jan</text>
<text x="67.86" y="187.13" font-size="14">Jul</text>
<text x="74.16" y="199.23" font-size="12.5" text-anchor="middle">2000</text>
<text x="98.39" y="187.13" font-size="14">Jan</text>
<text x="133.57" y="187.13" font-size="14">Jul</text>
<text x="139.87" y="199.23" font-size="12.5" text-anchor="middle">2001</text>
<text x="164.09" y="187.13" font-size="14">Jan</text>
<text x="199.28" y="187.13" font-size="14">Jul</text>
<text x="205.58" y="199.23" font-size="12.5" text-anchor="middle">2002</text>
<text x="229.80" y="187.13" font-size="14">Jan</text>
<text x="264.98" y="187.13" font-size="14">Jul</text>
<text x="271.28" y="199.23" font-size="12.5" text-anchor="middle">2003</text>
<text x="295.51" y="187.13" font-size="14">Jan</text>
<text x="330.87" y="187.13" font-size="14">Jul</text>
<text x="337.17" y="199.23" font-size="12.5" text-anchor="middle">2004</text>
<text x="361.39" y="187.13" font-size="14">Jan</text>
<text x="396.58" y="187.13" font-size="14">Jul</text>
<text x="402.88" y="199.23" font-size="12.5" text-anchor="middle">2005</text>
<text x="427.10" y="187.13" font-size="14">Jan</text>
<text x="462.28" y="187.13" font-size="14">Jul</text>
<text x="468.58" y="199.23" font-size="12.5" text-anchor="middle">2006</text>
<text x="492.81" y="187.13" font-size="14">Jan</text>
<text x="527.99" y="187.13" font-size="14">Jul</text>
<text x="534.29" y="199.23" font-size="12.5" text-anchor="middle">2007</text>
<text x="558.51" y="187.13" font-size="14">Jan</text>
<text x="593.88" y="187.13" font-size="14">Jul</text>
<text x="600.18" y="199.23" font-size="12.5" text-anchor="middle">2008</text>
<text transform="translate(10.9 95.00) rotate(-90)" font-size="15.15" text-anchor="middle">Temperature (°C)</text>
<text transform="translate(682.0 94.80) rotate(-90)" font-size="15" text-anchor="middle">Sea ice concentration (%)</text>
</g>
<g>
<path d="M41.00 378.55v16.50M41.00 230.90v-13.50" stroke="#000" stroke-width="0.6" fill="none"/>
<path d="M46.58 378.55v2.60M46.58 230.90v-2.60" stroke="#000" stroke-width="0.7" fill="none"/>
<path d="M51.80 378.55v2.60M51.80 230.90v-2.60" stroke="#000" stroke-width="0.7" fill="none"/>
<path d="M57.38 378.55v2.60M57.38 230.90v-2.60" stroke="#000" stroke-width="0.7" fill="none"/>
<path d="M62.78 378.55v2.60M62.78 230.90v-2.60" stroke="#000" stroke-width="0.7" fill="none"/>
<path d="M68.36 378.55v2.60M68.36 230.90v-2.60" stroke="#000" stroke-width="0.7" fill="none"/>
<path d="M73.76 378.55v5.00M73.76 230.90v-5.00" stroke="#000" stroke-width="0.9" fill="none"/>
<path d="M79.34 378.55v2.60M79.34 230.90v-2.60" stroke="#000" stroke-width="0.7" fill="none"/>
<path d="M84.92 378.55v2.60M84.92 230.90v-2.60" stroke="#000" stroke-width="0.7" fill="none"/>
<path d="M90.32 378.55v2.60M90.32 230.90v-2.60" stroke="#000" stroke-width="0.7" fill="none"/>
<path d="M95.91 378.55v2.60M95.91 230.90v-2.60" stroke="#000" stroke-width="0.7" fill="none"/>
<path d="M101.31 378.55v2.60M101.31 230.90v-2.60" stroke="#000" stroke-width="0.7" fill="none"/>
<path d="M106.89 378.55v16.50M106.89 230.90v-13.50" stroke="#000" stroke-width="0.6" fill="none"/>
<path d="M112.47 378.55v2.60M112.47 230.90v-2.60" stroke="#000" stroke-width="0.7" fill="none"/>
<path d="M117.51 378.55v2.60M117.51 230.90v-2.60" stroke="#000" stroke-width="0.7" fill="none"/>
<path d="M123.09 378.55v2.60M123.09 230.90v-2.60" stroke="#000" stroke-width="0.7" fill="none"/>
<path d="M128.49 378.55v2.60M128.49 230.90v-2.60" stroke="#000" stroke-width="0.7" fill="none"/>
<path d="M134.07 378.55v2.60M134.07 230.90v-2.60" stroke="#000" stroke-width="0.7" fill="none"/>
<path d="M139.47 378.55v5.00M139.47 230.90v-5.00" stroke="#000" stroke-width="0.9" fill="none"/>
<path d="M145.05 378.55v2.60M145.05 230.90v-2.60" stroke="#000" stroke-width="0.7" fill="none"/>
<path d="M150.63 378.55v2.60M150.63 230.90v-2.60" stroke="#000" stroke-width="0.7" fill="none"/>
<path d="M156.03 378.55v2.60M156.03 230.90v-2.60" stroke="#000" stroke-width="0.7" fill="none"/>
<path d="M161.61 378.55v2.60M161.61 230.90v-2.60" stroke="#000" stroke-width="0.7" fill="none"/>
<path d="M167.01 378.55v2.60M167.01 230.90v-2.60" stroke="#000" stroke-width="0.7" fill="none"/>
<path d="M172.59 378.55v16.50M172.59 230.90v-13.50" stroke="#000" stroke-width="0.6" fill="none"/>
<path d="M178.17 378.55v2.60M178.17 230.90v-2.60" stroke="#000" stroke-width="0.7" fill="none"/>
<path d="M183.21 378.55v2.60M183.21 230.90v-2.60" stroke="#000" stroke-width="0.7" fill="none"/>
<path d="M188.79 378.55v2.60M188.79 230.90v-2.60" stroke="#000" stroke-width="0.7" fill="none"/>
<path d="M194.20 378.55v2.60M194.20 230.90v-2.60" stroke="#000" stroke-width="0.7" fill="none"/>
<path d="M199.78 378.55v2.60M199.78 230.90v-2.60" stroke="#000" stroke-width="0.7" fill="none"/>
<path d="M205.18 378.55v5.00M205.18 230.90v-5.00" stroke="#000" stroke-width="0.9" fill="none"/>
<path d="M210.76 378.55v2.60M210.76 230.90v-2.60" stroke="#000" stroke-width="0.7" fill="none"/>
<path d="M216.34 378.55v2.60M216.34 230.90v-2.60" stroke="#000" stroke-width="0.7" fill="none"/>
<path d="M221.74 378.55v2.60M221.74 230.90v-2.60" stroke="#000" stroke-width="0.7" fill="none"/>
<path d="M227.32 378.55v2.60M227.32 230.90v-2.60" stroke="#000" stroke-width="0.7" fill="none"/>
<path d="M232.72 378.55v2.60M232.72 230.90v-2.60" stroke="#000" stroke-width="0.7" fill="none"/>
<path d="M238.30 378.55v16.50M238.30 230.90v-13.50" stroke="#000" stroke-width="0.6" fill="none"/>
<path d="M243.88 378.55v2.60M243.88 230.90v-2.60" stroke="#000" stroke-width="0.7" fill="none"/>
<path d="M248.92 378.55v2.60M248.92 230.90v-2.60" stroke="#000" stroke-width="0.7" fill="none"/>
<path d="M254.50 378.55v2.60M254.50 230.90v-2.60" stroke="#000" stroke-width="0.7" fill="none"/>
<path d="M259.90 378.55v2.60M259.90 230.90v-2.60" stroke="#000" stroke-width="0.7" fill="none"/>
<path d="M265.48 378.55v2.60M265.48 230.90v-2.60" stroke="#000" stroke-width="0.7" fill="none"/>
<path d="M270.88 378.55v5.00M270.88 230.90v-5.00" stroke="#000" stroke-width="0.9" fill="none"/>
<path d="M276.46 378.55v2.60M276.46 230.90v-2.60" stroke="#000" stroke-width="0.7" fill="none"/>
<path d="M282.04 378.55v2.60M282.04 230.90v-2.60" stroke="#000" stroke-width="0.7" fill="none"/>
<path d="M287.44 378.55v2.60M287.44 230.90v-2.60" stroke="#000" stroke-width="0.7" fill="none"/>
<path d="M293.03 378.55v2.60M293.03 230.90v-2.60" stroke="#000" stroke-width="0.7" fill="none"/>
<path d="M298.43 378.55v2.60M298.43 230.90v-2.60" stroke="#000" stroke-width="0.7" fill="none"/>
<path d="M304.01 378.55v16.50M304.01 230.90v-13.50" stroke="#000" stroke-width="0.6" fill="none"/>
<path d="M309.59 378.55v2.60M309.59 230.90v-2.60" stroke="#000" stroke-width="0.7" fill="none"/>
<path d="M314.81 378.55v2.60M314.81 230.90v-2.60" stroke="#000" stroke-width="0.7" fill="none"/>
<path d="M320.39 378.55v2.60M320.39 230.90v-2.60" stroke="#000" stroke-width="0.7" fill="none"/>
<path d="M325.79 378.55v2.60M325.79 230.90v-2.60" stroke="#000" stroke-width="0.7" fill="none"/>
<path d="M331.37 378.55v2.60M331.37 230.90v-2.60" stroke="#000" stroke-width="0.7" fill="none"/>
<path d="M336.77 378.55v5.00M336.77 230.90v-5.00" stroke="#000" stroke-width="0.9" fill="none"/>
<path d="M342.35 378.55v2.60M342.35 230.90v-2.60" stroke="#000" stroke-width="0.7" fill="none"/>
<path d="M347.93 378.55v2.60M347.93 230.90v-2.60" stroke="#000" stroke-width="0.7" fill="none"/>
<path d="M353.33 378.55v2.60M353.33 230.90v-2.60" stroke="#000" stroke-width="0.7" fill="none"/>
<path d="M358.91 378.55v2.60M358.91 230.90v-2.60" stroke="#000" stroke-width="0.7" fill="none"/>
<path d="M364.31 378.55v2.60M364.31 230.90v-2.60" stroke="#000" stroke-width="0.7" fill="none"/>
<path d="M369.89 378.55v16.50M369.89 230.90v-13.50" stroke="#000" stroke-width="0.6" fill="none"/>
<path d="M375.47 378.55v2.60M375.47 230.90v-2.60" stroke="#000" stroke-width="0.7" fill="none"/>
<path d="M380.51 378.55v2.60M380.51 230.90v-2.60" stroke="#000" stroke-width="0.7" fill="none"/>
<path d="M386.09 378.55v2.60M386.09 230.90v-2.60" stroke="#000" stroke-width="0.7" fill="none"/>
<path d="M391.50 378.55v2.60M391.50 230.90v-2.60" stroke="#000" stroke-width="0.7" fill="none"/>
<path d="M397.08 378.55v2.60M397.08 230.90v-2.60" stroke="#000" stroke-width="0.7" fill="none"/>
<path d="M402.48 378.55v5.00M402.48 230.90v-5.00" stroke="#000" stroke-width="0.9" fill="none"/>
<path d="M408.06 378.55v2.60M408.06 230.90v-2.60" stroke="#000" stroke-width="0.7" fill="none"/>
<path d="M413.64 378.55v2.60M413.64 230.90v-2.60" stroke="#000" stroke-width="0.7" fill="none"/>
<path d="M419.04 378.55v2.60M419.04 230.90v-2.60" stroke="#000" stroke-width="0.7" fill="none"/>
<path d="M424.62 378.55v2.60M424.62 230.90v-2.60" stroke="#000" stroke-width="0.7" fill="none"/>
<path d="M430.02 378.55v2.60M430.02 230.90v-2.60" stroke="#000" stroke-width="0.7" fill="none"/>
<path d="M435.60 378.55v16.50M435.60 230.90v-13.50" stroke="#000" stroke-width="0.6" fill="none"/>
<path d="M441.18 378.55v2.60M441.18 230.90v-2.60" stroke="#000" stroke-width="0.7" fill="none"/>
<path d="M446.22 378.55v2.60M446.22 230.90v-2.60" stroke="#000" stroke-width="0.7" fill="none"/>
<path d="M451.80 378.55v2.60M451.80 230.90v-2.60" stroke="#000" stroke-width="0.7" fill="none"/>
<path d="M457.20 378.55v2.60M457.20 230.90v-2.60" stroke="#000" stroke-width="0.7" fill="none"/>
<path d="M462.78 378.55v2.60M462.78 230.90v-2.60" stroke="#000" stroke-width="0.7" fill="none"/>
<path d="M468.18 378.55v5.00M468.18 230.90v-5.00" stroke="#000" stroke-width="0.9" fill="none"/>
<path d="M473.76 378.55v2.60M473.76 230.90v-2.60" stroke="#000" stroke-width="0.7" fill="none"/>
<path d="M479.34 378.55v2.60M479.34 230.90v-2.60" stroke="#000" stroke-width="0.7" fill="none"/>
<path d="M484.74 378.55v2.60M484.74 230.90v-2.60" stroke="#000" stroke-width="0.7" fill="none"/>
<path d="M490.33 378.55v2.60M490.33 230.90v-2.60" stroke="#000" stroke-width="0.7" fill="none"/>
<path d="M495.73 378.55v2.60M495.73 230.90v-2.60" stroke="#000" stroke-width="0.7" fill="none"/>
<path d="M501.31 378.55v16.50M501.31 230.90v-13.50" stroke="#000" stroke-width="0.6" fill="none"/>
<path d="M506.89 378.55v2.60M506.89 230.90v-2.60" stroke="#000" stroke-width="0.7" fill="none"/>
<path d="M511.93 378.55v2.60M511.93 230.90v-2.60" stroke="#000" stroke-width="0.7" fill="none"/>
<path d="M517.51 378.55v2.60M517.51 230.90v-2.60" stroke="#000" stroke-width="0.7" fill="none"/>
<path d="M522.91 378.55v2.60M522.91 230.90v-2.60" stroke="#000" stroke-width="0.7" fill="none"/>
<path d="M528.49 378.55v2.60M528.49 230.90v-2.60" stroke="#000" stroke-width="0.7" fill="none"/>
<path d="M533.89 378.55v5.00M533.89 230.90v-5.00" stroke="#000" stroke-width="0.9" fill="none"/>
<path d="M539.47 378.55v2.60M539.47 230.90v-2.60" stroke="#000" stroke-width="0.7" fill="none"/>
<path d="M545.05 378.55v2.60M545.05 230.90v-2.60" stroke="#000" stroke-width="0.7" fill="none"/>
<path d="M550.45 378.55v2.60M550.45 230.90v-2.60" stroke="#000" stroke-width="0.7" fill="none"/>
<path d="M556.03 378.55v2.60M556.03 230.90v-2.60" stroke="#000" stroke-width="0.7" fill="none"/>
<path d="M561.43 378.55v2.60M561.43 230.90v-2.60" stroke="#000" stroke-width="0.7" fill="none"/>
<path d="M567.01 378.55v16.50M567.01 230.90v-13.50" stroke="#000" stroke-width="0.6" fill="none"/>
<path d="M572.59 378.55v2.60M572.59 230.90v-2.60" stroke="#000" stroke-width="0.7" fill="none"/>
<path d="M577.81 378.55v2.60M577.81 230.90v-2.60" stroke="#000" stroke-width="0.7" fill="none"/>
<path d="M583.39 378.55v2.60M583.39 230.90v-2.60" stroke="#000" stroke-width="0.7" fill="none"/>
<path d="M588.80 378.55v2.60M588.80 230.90v-2.60" stroke="#000" stroke-width="0.7" fill="none"/>
<path d="M594.38 378.55v2.60M594.38 230.90v-2.60" stroke="#000" stroke-width="0.7" fill="none"/>
<path d="M599.78 378.55v5.00M599.78 230.90v-5.00" stroke="#000" stroke-width="0.9" fill="none"/>
<path d="M605.36 378.55v2.60M605.36 230.90v-2.60" stroke="#000" stroke-width="0.7" fill="none"/>
<path d="M610.94 378.55v2.60M610.94 230.90v-2.60" stroke="#000" stroke-width="0.7" fill="none"/>
<path d="M616.34 378.55v2.60M616.34 230.90v-2.60" stroke="#000" stroke-width="0.7" fill="none"/>
<path d="M621.92 378.55v2.60M621.92 230.90v-2.60" stroke="#000" stroke-width="0.7" fill="none"/>
<path d="M627.32 378.55v2.60M627.32 230.90v-2.60" stroke="#000" stroke-width="0.7" fill="none"/>
<path d="M41.00 230.90h-5.00" stroke="#000" stroke-width="0.9"/>
<path d="M41.00 238.28h-2.20" stroke="#000" stroke-width="0.7"/>
<path d="M41.00 245.67h-2.20" stroke="#000" stroke-width="0.7"/>
<path d="M41.00 253.05h-2.20" stroke="#000" stroke-width="0.7"/>
<path d="M41.00 260.43h-2.20" stroke="#000" stroke-width="0.7"/>
<path d="M41.00 267.81h-5.00" stroke="#000" stroke-width="0.9"/>
<path d="M41.00 275.19h-2.20" stroke="#000" stroke-width="0.7"/>
<path d="M41.00 282.58h-2.20" stroke="#000" stroke-width="0.7"/>
<path d="M41.00 289.96h-2.20" stroke="#000" stroke-width="0.7"/>
<path d="M41.00 297.34h-2.20" stroke="#000" stroke-width="0.7"/>
<path d="M41.00 304.73h-5.00" stroke="#000" stroke-width="0.9"/>
<path d="M41.00 312.11h-2.20" stroke="#000" stroke-width="0.7"/>
<path d="M41.00 319.49h-2.20" stroke="#000" stroke-width="0.7"/>
<path d="M41.00 326.87h-2.20" stroke="#000" stroke-width="0.7"/>
<path d="M41.00 334.25h-2.20" stroke="#000" stroke-width="0.7"/>
<path d="M41.00 341.64h-5.00" stroke="#000" stroke-width="0.9"/>
<path d="M41.00 349.02h-2.20" stroke="#000" stroke-width="0.7"/>
<path d="M41.00 356.40h-2.20" stroke="#000" stroke-width="0.7"/>
<path d="M41.00 363.79h-2.20" stroke="#000" stroke-width="0.7"/>
<path d="M41.00 371.17h-2.20" stroke="#000" stroke-width="0.7"/>
<path d="M41.00 378.55h-5.00" stroke="#000" stroke-width="0.9"/>
<path d="M632.90 230.90h5.00" stroke="#000" stroke-width="0.9"/>
<path d="M632.90 245.67h2.20" stroke="#000" stroke-width="0.7"/>
<path d="M632.90 260.43h5.00" stroke="#000" stroke-width="0.9"/>
<path d="M632.90 275.19h2.20" stroke="#000" stroke-width="0.7"/>
<path d="M632.90 289.96h5.00" stroke="#000" stroke-width="0.9"/>
<path d="M632.90 304.73h2.20" stroke="#000" stroke-width="0.7"/>
<path d="M632.90 319.49h5.00" stroke="#000" stroke-width="0.9"/>
<path d="M632.90 334.25h2.20" stroke="#000" stroke-width="0.7"/>
<path d="M632.90 349.02h5.00" stroke="#000" stroke-width="0.9"/>
<path d="M632.90 363.79h2.20" stroke="#000" stroke-width="0.7"/>
<path d="M632.90 378.55h5.00" stroke="#000" stroke-width="0.9"/>
<rect x="41.00" y="230.90" width="591.90" height="147.65" fill="none" stroke="#000" stroke-width="1.6"/>
<clipPath id="c1"><rect x="40.50" y="230.10" width="592.90" height="149.25"/></clipPath>
<g clip-path="url(#c1)">
<polyline points="41.8,291.7 43.3,287.3 45.1,284.6 46.9,282.9 48.3,282.5 49.5,286.4 50.7,289.9 52.2,290.8 53.9,289.6 55.7,289.0 57.4,291.7 59.2,292.0 61.0,290.8 62.7,288.1 64.5,287.8 66.3,290.8 68.0,296.1 69.8,301.4 71.2,302.2 73.0,299.6 74.7,293.4 76.5,287.3 78.3,282.9 80.4,281.5 82.2,281.5 84.3,281.1 86.0,282.9 87.8,286.4 89.6,292.6 91.3,299.6 93.1,305.8 94.9,311.1 96.6,314.2 98.4,313.7 100.2,311.9 102.4,309.3 104.2,304.9 106.0,298.7 107.7,291.7 109.2,287.3 111.0,284.6 112.7,282.9 114.1,282.5 115.4,286.4 116.6,289.9 118.0,290.8 119.8,289.6 121.5,289.0 123.3,291.7 125.0,292.0 126.8,290.8 128.6,288.1 130.3,287.8 132.1,290.8 133.8,296.1 135.6,301.4 137.0,302.2 138.8,299.6 140.5,293.4 142.3,287.3 144.1,282.9 146.2,281.5 147.9,281.5 150.0,281.1 151.8,282.9 153.6,286.4 155.3,292.6 157.1,299.6 158.8,305.8 160.6,311.1 162.4,314.2 164.1,313.7 165.9,311.9 168.2,309.3 169.9,304.9 171.7,298.7 173.4,291.7 174.9,287.3 176.7,284.6 178.4,282.9 179.8,282.5 181.1,286.4 182.3,289.9 183.7,290.8 185.5,289.6 187.2,289.0 189.0,291.7 190.8,292.0 192.5,290.8 194.3,288.1 196.0,287.8 197.8,290.8 199.6,296.1 201.3,301.4 202.7,302.2 204.5,299.6 206.2,293.4 208.0,287.3 209.8,282.9 211.9,281.5 213.6,281.5 215.7,281.1 217.5,282.9 219.3,286.4 221.0,292.6 222.8,299.6 224.5,305.8 226.3,311.1 228.1,314.2 229.8,313.7 231.6,311.9 233.9,309.3 235.6,304.9 237.4,298.7 239.1,291.7 240.6,287.3 242.4,284.6 244.1,282.9 245.6,282.5 246.8,286.4 248.0,289.9 249.4,290.8 251.2,289.6 252.9,289.0 254.7,291.7 256.5,292.0 258.2,290.8 260.0,288.1 261.7,287.8 263.5,290.8 265.3,296.1 267.0,301.4 268.4,302.2 270.2,299.6 271.9,293.4 273.7,287.3 275.5,282.9 277.6,281.5 279.3,281.5 281.5,281.1 283.2,282.9 285.0,286.4 286.7,292.6 288.5,299.6 290.3,305.8 292.0,311.1 293.8,314.2 295.5,313.7 297.3,311.9 299.6,309.3 301.3,304.9 303.1,298.7 304.8,291.7 306.3,287.3 308.1,284.6 309.9,282.9 311.3,282.5 312.5,286.4 313.7,289.9 315.2,290.8 316.9,289.6 318.7,289.0 320.5,291.7 322.2,292.0 324.0,290.8 325.7,288.1 327.5,287.8 329.3,290.8 331.0,296.1 332.8,301.4 334.2,302.2 336.0,299.6 337.7,293.4 339.5,287.3 341.3,282.9 343.4,281.5 345.2,281.5 347.3,281.1 349.0,282.9 350.8,286.4 352.6,292.6 354.3,299.6 356.1,305.8 357.9,311.1 359.6,314.2 361.4,313.7 363.2,311.9 365.5,309.3 367.2,304.9 369.0,298.7 370.7,291.7 372.2,287.3 374.0,284.6 375.7,282.9 377.1,282.5 378.4,286.4 379.6,289.9 381.0,290.8 382.8,289.6 384.5,289.0 386.3,291.7 388.1,292.0 389.8,290.8 391.6,288.1 393.3,287.8 395.1,290.8 396.9,296.1 398.6,301.4 400.0,302.2 401.8,299.6 403.5,293.4 405.3,287.3 407.1,282.9 409.2,281.5 410.9,281.5 413.0,281.1 414.8,282.9 416.6,286.4 418.3,292.6 420.1,299.6 421.8,305.8 423.6,311.1 425.4,314.2 427.1,313.7 428.9,311.9 431.2,309.3 432.9,304.9 434.7,298.7 436.4,291.7 437.9,287.3 439.7,284.6 441.4,282.9 442.9,282.5 444.1,286.4 445.3,289.9 446.7,290.8 448.5,289.6 450.2,289.0 452.0,291.7 453.8,292.0 455.5,290.8 457.3,288.1 459.0,287.8 460.8,290.8 462.6,296.1 464.3,301.4 465.7,302.2 467.5,299.6 469.2,293.4 471.0,287.3 472.8,282.9 474.9,281.5 476.6,281.5 478.8,281.1 480.5,282.9 482.3,286.4 484.0,292.6 485.8,299.6 487.6,305.8 489.3,311.1 491.1,314.2 492.8,313.7 494.6,311.9 496.9,309.3 498.6,304.9 500.4,298.7 502.1,291.7 503.6,287.3 505.4,284.6 507.1,282.9 508.6,282.5 509.8,286.4 511.0,289.9 512.4,290.8 514.2,289.6 515.9,289.0 517.7,291.7 519.5,292.0 521.2,290.8 523.0,288.1 524.7,287.8 526.5,290.8 528.3,296.1 530.0,301.4 531.4,302.2 533.2,299.6 535.0,293.4 536.7,287.3 538.5,282.9 540.6,281.5 542.3,281.5 544.5,281.1 546.2,282.9 548.0,286.4 549.7,292.6 551.5,299.6 553.3,305.8 555.0,311.1 556.8,314.2 558.5,313.7 560.3,311.9 562.6,309.3 564.3,304.9 566.1,298.7 567.8,291.7 569.3,287.3 571.1,284.6 572.9,282.9 574.3,282.5 575.5,286.4 576.8,289.9 578.2,290.8 579.9,289.6 581.7,289.0 583.5,291.7 585.2,292.0 587.0,290.8 588.8,288.1 590.5,287.8 592.3,290.8 594.0,296.1 595.8,301.4 597.2,302.2 599.0,299.6 600.8,293.4 602.5,287.3 604.3,282.9 606.4,281.5 608.2,281.5 610.3,281.1 612.0,282.9 613.8,286.4 615.6,292.6 617.3,299.6 619.1,305.8 620.9,311.1 622.6,314.2 624.4,313.7 626.2,311.9 628.5,309.3 630.2,304.9 632.0,298.7 632.9,291.7" fill="none" stroke="#3a762e" stroke-width="2.4" stroke-linejoin="round" stroke-linecap="butt" />
<polyline points="41.8,330.4 43.3,328.3 45.1,326.9 46.3,326.6 47.7,327.8 49.5,330.4 51.3,332.6 53.0,333.6 55.7,334.0 58.3,333.6 61.0,332.6 63.6,331.9 65.4,332.6 67.2,334.8 68.9,338.4 70.7,340.7 71.9,341.0 73.3,338.4 75.1,333.1 76.9,326.0 78.6,319.9 80.4,317.2 82.2,316.7 83.9,317.8 85.7,319.5 87.4,321.6 89.2,324.3 91.0,328.7 92.7,334.0 94.5,339.3 96.3,342.8 98.4,344.2 100.7,342.8 102.4,341.0 104.2,338.4 106.0,334.8 107.7,330.4 109.2,328.3 111.0,326.9 112.2,326.6 113.6,327.8 115.4,330.4 117.1,332.6 118.9,333.6 121.5,334.0 124.2,333.6 126.8,332.6 129.4,331.9 131.2,332.6 133.0,334.8 134.7,338.4 136.5,340.7 137.7,341.0 139.1,338.4 140.9,333.1 142.6,326.0 144.4,319.9 146.2,317.2 147.9,316.7 149.7,317.8 151.4,319.5 153.2,321.6 155.0,324.3 156.7,328.7 158.5,334.0 160.2,339.3 162.0,342.8 164.1,344.2 166.4,342.8 168.2,341.0 169.9,338.4 171.7,334.8 173.4,330.4 174.9,328.3 176.7,326.9 177.9,326.6 179.3,327.8 181.1,330.4 182.8,332.6 184.6,333.6 187.2,334.0 189.9,333.6 192.5,332.6 195.2,331.9 196.9,332.6 198.7,334.8 200.4,338.4 202.2,340.7 203.4,341.0 204.8,338.4 206.6,333.1 208.4,326.0 210.1,319.9 211.9,317.2 213.6,316.7 215.4,317.8 217.2,319.5 218.9,321.6 220.7,324.3 222.4,328.7 224.2,334.0 226.0,339.3 227.7,342.8 229.8,344.2 232.1,342.8 233.9,341.0 235.6,338.4 237.4,334.8 239.1,330.4 240.6,328.3 242.4,326.9 243.6,326.6 245.0,327.8 246.8,330.4 248.5,332.6 250.3,333.6 252.9,334.0 255.6,333.6 258.2,332.6 260.9,331.9 262.6,332.6 264.4,334.8 266.1,338.4 267.9,340.7 269.1,341.0 270.5,338.4 272.3,333.1 274.1,326.0 275.8,319.9 277.6,317.2 279.3,316.7 281.1,317.8 282.9,319.5 284.6,321.6 286.4,324.3 288.1,328.7 289.9,334.0 291.7,339.3 293.4,342.8 295.5,344.2 297.8,342.8 299.6,341.0 301.3,338.4 303.1,334.8 304.8,330.4 306.3,328.3 308.1,326.9 309.3,326.6 310.7,327.8 312.5,330.4 314.3,332.6 316.0,333.6 318.7,334.0 321.3,333.6 324.0,332.6 326.6,331.9 328.4,332.6 330.2,334.8 331.9,338.4 333.7,340.7 334.9,341.0 336.3,338.4 338.1,333.1 339.9,326.0 341.6,319.9 343.4,317.2 345.2,316.7 346.9,317.8 348.7,319.5 350.5,321.6 352.2,324.3 354.0,328.7 355.7,334.0 357.5,339.3 359.3,342.8 361.4,344.2 363.7,342.8 365.5,341.0 367.2,338.4 369.0,334.8 370.7,330.4 372.2,328.3 374.0,326.9 375.2,326.6 376.6,327.8 378.4,330.4 380.1,332.6 381.9,333.6 384.5,334.0 387.2,333.6 389.8,332.6 392.5,331.9 394.2,332.6 396.0,334.8 397.7,338.4 399.5,340.7 400.7,341.0 402.1,338.4 403.9,333.1 405.7,326.0 407.4,319.9 409.2,317.2 410.9,316.7 412.7,317.8 414.5,319.5 416.2,321.6 418.0,324.3 419.7,328.7 421.5,334.0 423.3,339.3 425.0,342.8 427.1,344.2 429.4,342.8 431.2,341.0 432.9,338.4 434.7,334.8 436.4,330.4 437.9,328.3 439.7,326.9 440.9,326.6 442.3,327.8 444.1,330.4 445.8,332.6 447.6,333.6 450.2,334.0 452.9,333.6 455.5,332.6 458.2,331.9 459.9,332.6 461.7,334.8 463.4,338.4 465.2,340.7 466.4,341.0 467.8,338.4 469.6,333.1 471.4,326.0 473.1,319.9 474.9,317.2 476.6,316.7 478.4,317.8 480.2,319.5 481.9,321.6 483.7,324.3 485.4,328.7 487.2,334.0 489.0,339.3 490.7,342.8 492.8,344.2 495.1,342.8 496.9,341.0 498.6,338.4 500.4,334.8 502.1,330.4 503.6,328.3 505.4,326.9 506.6,326.6 508.0,327.8 509.8,330.4 511.5,332.6 513.3,333.6 515.9,334.0 518.6,333.6 521.2,332.6 523.9,331.9 525.6,332.6 527.4,334.8 529.1,338.4 530.9,340.7 532.1,341.0 533.5,338.4 535.3,333.1 537.1,326.0 538.8,319.9 540.6,317.2 542.3,316.7 544.1,317.8 545.9,319.5 547.6,321.6 549.4,324.3 551.1,328.7 552.9,334.0 554.7,339.3 556.4,342.8 558.5,344.2 560.8,342.8 562.6,341.0 564.3,338.4 566.1,334.8 567.8,330.4 569.3,328.3 571.1,326.9 572.3,326.6 573.8,327.8 575.5,330.4 577.3,332.6 579.0,333.6 581.7,334.0 584.3,333.6 587.0,332.6 589.6,331.9 591.4,332.6 593.2,334.8 594.9,338.4 596.7,340.7 597.9,341.0 599.3,338.4 601.1,333.1 602.9,326.0 604.6,319.9 606.4,317.2 608.2,316.7 609.9,317.8 611.7,319.5 613.5,321.6 615.2,324.3 617.0,328.7 618.8,334.0 620.5,339.3 622.3,342.8 624.4,344.2 626.7,342.8 628.5,341.0 630.2,338.4 632.0,334.8 632.9,330.4" fill="none" stroke="#0000ff" stroke-width="2.6" stroke-linejoin="round" stroke-linecap="butt" />
<polyline points="41.8,296.5 41.9,293.6 42.0,291.2 41.9,288.4 42.1,286.0 42.2,283.6 42.0,279.7 42.2,275.6 42.2,273.5 42.3,270.7 42.4,269.2 42.4,265.5 42.7,261.1 42.7,259.7 43.0,256.7 43.1,254.1 43.6,254.2 43.8,255.4 44.2,256.7 44.2,259.8 44.4,262.0 44.6,264.1 44.8,267.8 44.9,271.4 45.0,275.2 45.2,278.3 45.2,279.9 45.8,281.6 46.0,281.5 46.5,282.5 46.6,281.6 47.2,281.2 47.6,281.0 47.9,282.5 48.0,283.4 48.5,284.7 48.7,287.0 49.1,289.6 49.3,292.0 49.5,295.3 49.7,291.5 50.2,291.6 50.6,289.8 51.0,287.8 51.5,285.8 51.5,284.2 52.0,289.5 52.3,291.7 52.7,288.2 53.0,285.8 53.1,282.8 53.3,279.7 53.8,276.6 53.7,274.2 53.7,271.5 54.1,267.9 54.2,265.6 54.3,262.2 54.6,258.3 54.9,261.4 55.2,264.9 55.5,267.6 55.3,270.0 55.9,272.4 56.3,274.2 56.5,277.4 57.1,280.8 57.1,283.7 57.1,287.7 57.3,290.7 57.2,294.4 57.5,297.6 57.7,300.3 57.9,303.0 58.2,306.0 58.2,307.7 58.4,312.1 58.4,314.7 58.9,318.2 58.7,321.3 59.2,324.4 59.4,326.3 59.7,331.4 60.1,332.4 60.4,333.2 60.8,335.7 61.1,335.1 61.4,334.8 62.1,335.5 62.1,332.7 62.4,331.8 63.2,330.7 63.2,331.5 63.9,331.4 64.0,332.1 64.3,333.9 64.7,336.5 65.2,339.1 65.3,342.3 65.3,345.2 65.7,345.8 65.8,349.7 66.2,353.4 66.4,350.1 66.3,347.2 66.7,344.0 66.8,340.2 67.0,337.5 67.2,334.8 67.5,330.6 67.8,327.8 68.1,325.3 68.6,327.8 68.8,330.3 69.4,332.5 69.7,334.5 69.8,337.9 70.2,340.2 70.2,342.2 70.3,345.3 70.8,348.8 70.8,351.0 71.1,353.8 71.3,356.4 71.6,356.0 72.2,354.8 72.6,353.6 72.8,351.4 73.0,348.5 73.2,345.9 73.6,343.1 73.9,340.3 74.1,337.2 74.5,333.8 74.5,331.2 74.9,328.6 74.9,325.4 75.2,322.2 75.5,318.8 75.6,315.1 75.6,312.5 75.7,309.7 75.7,306.9 75.8,303.8 76.1,299.4 75.9,297.6 76.3,294.3 76.3,292.2 76.4,289.7 76.5,286.7 76.7,284.2 76.9,281.3 77.1,284.3 77.2,287.2 77.2,289.6 77.3,292.4 77.4,295.0 77.5,298.7 77.3,299.8 77.8,302.7 77.9,301.1 78.1,297.5 78.1,295.3 78.3,291.6 78.5,289.0 78.5,285.2 78.6,282.2 78.8,278.9 79.0,276.1 79.0,273.1 79.1,270.4 79.3,273.8 79.6,276.2 79.8,280.6 79.9,283.8 80.2,285.7 80.5,288.9 80.7,291.9 80.7,295.9 80.9,298.4 81.1,302.3 81.3,305.9 81.1,309.3 81.4,306.8 81.8,303.8 81.7,300.0 81.8,296.8 82.0,293.9 82.6,291.6 82.4,290.0 82.6,286.5 83.0,289.2 83.0,292.4 83.0,294.9 83.1,297.9 83.1,301.1 83.2,304.3 83.4,300.9 83.8,298.1 84.0,294.4 84.1,291.5 84.1,287.9 84.3,290.8 84.5,294.5 84.5,297.1 84.6,300.3 85.0,297.7 85.0,294.5 85.0,290.9 85.2,288.9 85.4,285.7 85.4,283.5 85.7,279.6 85.8,276.1 85.7,272.5 85.8,270.0 85.8,266.8 86.2,263.9 86.1,265.8 86.3,269.5 86.4,271.1 86.6,276.2 86.4,279.0 86.9,282.1 86.7,285.1 86.8,288.7 87.1,290.7 87.3,294.2 87.4,296.7 87.5,299.9 87.8,302.0 88.0,305.0 88.4,307.9 88.7,305.7 89.0,303.7 89.2,307.0 89.1,309.3 89.5,312.7 89.5,315.4 89.8,318.2 89.9,321.6 90.5,325.3 90.6,327.8 91.0,330.6 91.2,328.1 91.5,323.9 91.8,321.5 91.9,319.1 92.1,316.1 92.3,315.1 92.5,310.8 92.8,307.7 93.4,304.5 93.7,301.0 93.9,297.0 94.3,297.9 94.7,298.9 94.9,299.0 95.3,299.8 95.6,298.9 96.0,299.9 96.5,299.4 96.9,299.1 97.1,301.1 97.5,302.9 97.7,305.6 98.2,303.1 98.5,302.0 98.8,300.4 99.1,303.5 99.3,306.7 99.8,309.7 100.0,312.7 100.2,310.3 100.5,308.0 100.9,305.2 101.2,308.8 101.6,312.4 101.9,315.3 102.0,318.0 102.3,320.8 102.7,324.1 102.8,325.7 103.0,328.7 103.4,330.4 103.5,331.9 104.0,334.5 104.5,336.8 104.8,340.2 105.0,343.7 105.2,346.1 105.5,343.0 106.2,340.6 106.0,337.3 106.4,334.7 106.6,331.4 106.7,327.8 107.0,324.5 106.8,321.3 106.9,318.0 107.5,314.8 107.7,311.0 107.9,308.9 108.1,305.9 108.3,302.6 108.8,299.9 109.0,297.4 109.0,294.8 109.4,291.0 109.8,288.0 110.2,286.6 110.6,284.9 110.9,283.5 111.1,281.9 111.6,280.8 111.8,279.8 112.5,282.8 112.5,286.8 112.8,289.4 113.0,291.9 113.1,295.6 113.1,297.6 113.5,300.2 113.4,303.5 113.8,306.4 113.7,309.1 113.7,311.7 113.6,316.0 113.9,318.5 114.1,321.0 114.3,323.0 114.3,324.6 114.5,329.8 114.6,332.4 114.6,335.5 115.0,338.2 115.3,341.7 115.3,344.4 115.5,347.0 115.6,349.0 116.3,346.8 116.1,343.4 116.4,340.5 116.5,337.4 116.7,334.1 117.0,331.5 117.5,328.6 117.7,325.9 117.9,323.2 118.2,325.3 118.7,325.9 119.0,326.8 119.4,330.6 119.7,330.2 120.0,332.4 120.3,334.6 120.9,337.3 121.0,340.5 121.5,341.1 121.9,342.8 122.0,343.1 122.4,344.2 123.0,345.4 123.2,345.8 123.4,343.6 123.9,341.1 124.0,338.8 124.1,335.2 124.6,334.5 125.0,333.0 125.2,332.2 125.6,333.6 126.1,335.6 126.4,337.8 126.7,336.7 127.2,336.8 127.5,335.8 127.4,334.4 127.6,330.0 128.2,327.7 128.4,324.9 128.5,321.8 128.8,319.2 129.2,316.1 129.3,314.1 129.7,316.9 129.9,318.9 130.6,322.0 130.6,325.4 131.0,322.6 131.2,319.7 131.7,316.1 132.0,312.8 132.2,309.9 132.5,307.2 132.7,303.7 133.0,307.4 133.5,311.2 133.8,312.9 134.2,315.7 134.4,318.6 135.0,322.1 135.0,324.1 135.5,326.7 136.0,329.4 136.1,329.1 136.6,326.2 137.0,325.3 137.2,322.0 137.4,319.5 137.9,316.6 137.9,314.1 138.3,311.8 138.8,309.4 138.9,307.8 139.3,305.5 139.5,302.3 139.8,299.3 140.0,296.9 140.7,294.0 140.8,290.7 141.3,287.9 141.5,286.0 142.0,283.2 141.9,281.0 142.6,278.5 143.2,276.0 143.4,274.5 143.7,274.7 144.1,275.1 144.3,275.9 144.7,278.7 144.7,282.3 145.3,283.2 145.3,287.7 145.8,290.7 146.0,294.2 146.4,297.2 146.9,294.5 147.2,292.4 147.4,290.5 147.8,286.3 148.3,284.4 148.3,281.0 148.9,278.2 149.4,275.3 149.7,272.4 149.7,274.7 150.2,277.2 150.4,279.6 150.4,282.5 150.8,280.6 151.3,277.4 151.7,275.2 151.9,271.0 151.8,267.7 152.3,264.4 152.4,260.8 152.2,258.0 152.3,254.6 152.7,256.5 153.1,258.1 153.2,261.5 153.3,264.2 153.5,266.4 153.3,268.9 153.7,272.8 153.5,275.6 153.5,278.6 153.9,281.5 154.1,284.6 154.6,288.0 154.8,290.9 155.1,294.2 155.5,296.3 156.0,298.4 156.5,300.3 156.7,300.9 157.0,304.7 157.4,304.9 157.3,306.1 158.1,304.4 158.4,302.1 158.7,300.6 159.2,303.5 159.3,304.2 159.6,309.0 160.0,313.8 160.4,317.7 160.0,319.0 160.0,322.1 160.3,325.0 160.5,327.4 160.4,330.8 160.6,333.8 160.4,336.4 160.5,339.5 160.6,343.9 161.0,345.8 161.3,348.6 161.5,351.8 161.8,353.0 162.0,355.0 162.4,357.8 163.0,358.3 163.2,357.6 163.5,356.9 163.6,355.9 164.3,355.7 164.7,355.4 164.9,353.9 165.1,353.3 165.6,351.3 165.8,348.8 166.2,345.6 166.9,342.8 166.9,339.9 167.2,336.7 167.3,334.4 167.5,332.1 167.4,328.7 168.0,325.7 168.3,322.3 168.3,318.9 168.7,316.3 169.3,314.3 169.7,311.2 169.8,307.8 170.3,312.9 170.3,314.6 170.4,318.4 170.6,321.5 170.9,325.5 171.1,326.6 171.1,329.3 171.3,330.5 171.9,330.0 171.8,327.5 172.0,325.5 172.3,323.0 172.7,319.7 172.7,316.3 173.1,314.6 173.4,311.3 173.7,315.6 174.0,318.9 174.0,321.8 174.3,323.7 174.4,327.0 175.0,329.9 174.8,333.2 175.1,336.1 175.3,339.6 175.6,341.4 175.9,344.8 176.2,348.4 176.3,345.1 176.7,342.3 176.8,338.9 177.1,334.0 177.0,331.8 177.3,328.7 177.5,325.4 177.8,322.5 177.7,320.7 178.1,316.6 177.8,314.9 178.1,311.1 178.4,307.6 178.7,304.7 178.9,302.6 178.8,299.1 179.4,302.7 179.8,305.7 180.0,302.5 180.0,300.2 180.0,297.0 180.3,294.5 180.3,291.4 180.2,288.2 180.3,285.5 180.6,283.3 180.7,279.9 181.1,277.3 181.2,274.3 181.7,271.5 181.6,274.3 181.9,276.9 182.2,280.3 182.4,283.0 182.9,286.0 183.0,288.3 183.0,292.2 183.1,296.8 183.3,299.1 183.4,300.8 183.7,303.8 184.0,306.7 184.1,310.8 184.9,312.8 185.0,316.1 185.4,319.3 185.8,321.5 186.2,323.8 186.6,326.1 186.7,329.9 186.9,331.9 187.5,334.5 187.9,337.8 188.2,339.9 188.6,342.4 188.9,345.0 189.3,343.1 189.4,341.0 190.1,339.3 190.3,340.7 190.5,343.3 191.1,345.1 191.2,346.2 191.8,346.8 191.8,349.2 192.3,347.2 192.9,344.5 193.3,344.5 193.4,340.6 193.8,338.0 194.3,335.3 194.5,336.3 194.8,337.9 195.4,339.5 195.7,338.0 195.9,336.5 196.2,335.0 196.6,335.8 197.2,336.5 197.6,337.4 197.8,336.3 198.2,334.7 198.3,333.5 198.6,331.0 199.0,327.7 199.3,325.5 199.2,320.9 199.4,318.6 199.8,315.8 200.0,312.5 200.1,309.8 200.0,307.1 200.6,303.0 200.8,300.2 200.8,298.7 200.9,294.2 200.9,291.3 201.0,288.3 201.1,285.3 201.4,282.6 201.3,279.0 201.5,275.7 201.7,279.0 202.1,281.5 202.5,285.0 202.4,286.7 202.8,285.7 203.1,283.2 203.5,279.7 203.8,282.9 203.9,285.6 203.9,289.0 204.1,285.9 204.3,282.6 204.3,279.1 204.7,276.9 204.7,274.0 204.9,276.8 205.2,279.4 205.4,282.2 205.6,284.9 205.5,281.6 205.7,278.6 206.2,276.8 206.1,274.2 206.9,277.3 206.9,281.2 207.1,277.9 207.6,274.4 207.9,277.3 208.0,280.1 208.1,284.7 208.4,286.2 208.8,289.3 208.8,292.4 208.9,295.3 209.3,292.4 209.9,289.9 210.0,292.6 209.9,295.1 210.2,297.7 210.5,300.5 210.5,297.9 210.4,295.6 210.9,292.3 211.0,288.6 211.1,285.7 211.1,282.9 211.1,280.1 211.3,277.1 211.4,274.0 211.5,271.3 211.5,268.2 211.8,265.0 211.5,261.8 211.6,259.0 211.7,256.5 211.9,253.3 212.1,256.0 212.1,258.4 212.2,264.0 212.1,265.5 212.3,268.6 212.4,270.5 212.8,273.2 212.6,270.8 212.6,267.4 212.8,265.5 213.0,261.1 213.0,258.0 213.2,256.2 213.5,257.3 213.3,260.5 213.5,263.7 213.4,266.4 213.9,269.5 213.5,272.4 213.6,275.4 213.7,279.1 214.0,281.6 213.8,284.5 214.0,281.4 214.2,278.8 214.0,275.0 214.3,271.7 214.3,268.8 214.4,265.7 214.5,264.6 214.8,259.7 214.9,256.5 214.8,259.0 214.8,261.8 214.7,265.3 214.9,268.3 214.6,271.5 214.8,273.9 214.8,277.2 215.0,280.1 215.1,283.0 215.4,285.5 215.1,289.3 215.4,292.3 215.4,289.5 215.6,286.1 215.5,283.3 215.5,279.8 215.4,276.8 215.5,273.0 215.7,270.2 215.7,267.8 215.9,264.8 215.7,261.6 215.9,258.7 215.6,255.4 215.8,253.3 215.9,250.4 215.9,246.9 216.1,248.2 216.0,252.7 216.1,255.5 216.2,258.8 216.2,261.0 216.3,264.3 216.3,266.8 216.4,270.1 216.3,273.2 216.4,276.9 216.4,280.3 216.4,283.0 216.5,285.7 216.5,288.8 216.4,291.6 216.7,294.7 216.6,297.9 216.7,300.7 216.7,304.3 217.0,301.1 216.8,297.2 216.9,294.6 216.8,291.7 217.1,288.8 217.1,286.5 217.1,284.2 217.2,278.4 217.4,276.3 217.4,273.2 217.5,270.2 217.5,273.1 217.5,276.1 217.5,280.0 217.4,282.4 217.3,285.3 217.5,288.3 217.9,291.5 217.7,294.8 217.8,297.9 218.0,300.6 218.1,302.6 217.8,306.4 217.7,309.7 217.8,312.1 217.8,315.4 217.9,318.3 218.0,321.6 218.3,324.2 218.3,327.3 218.2,330.2 218.1,327.8 218.2,324.8 218.3,321.4 218.5,319.1 218.7,316.8 218.7,312.9 218.6,309.9 218.8,306.5 219.0,303.4 218.9,300.9 219.2,298.4 219.3,293.5 219.5,292.1 219.7,288.5 219.8,290.9 219.7,293.8 219.6,297.2 219.8,300.4 219.9,303.0 220.1,305.9 219.8,309.4 220.2,312.3 220.4,315.3 220.4,318.2 220.4,315.5 220.7,313.4 220.8,311.7 221.0,307.1 220.9,304.6 221.0,299.9 221.3,298.5 221.2,295.4 221.5,292.8 221.4,290.2 221.6,287.0 221.6,283.6 221.5,281.4 221.6,284.0 221.9,286.9 222.0,289.8 221.8,293.5 222.1,295.5 222.3,299.6 222.1,303.0 222.2,305.8 222.5,308.2 222.6,311.1 223.0,314.9 223.1,318.4 223.2,321.2 223.3,323.9 223.5,326.2 223.7,329.1 224.2,331.4 224.6,336.0 225.0,339.1 225.2,343.0 225.6,341.7 226.2,340.0 226.4,339.5 226.3,342.8 226.6,345.9 226.8,347.5 226.7,351.6 227.0,355.7 227.3,358.7 227.4,355.7 227.6,352.2 228.0,349.6 228.2,345.9 228.3,342.6 228.6,340.0 228.7,337.1 229.2,334.7 229.4,332.0 229.9,334.2 230.1,335.5 230.4,337.1 230.8,336.7 231.1,335.0 231.6,334.3 232.0,336.1 232.3,337.3 232.8,338.7 233.0,336.4 233.2,333.6 233.8,330.8 234.3,331.1 234.3,332.5 234.8,332.8 234.9,337.1 235.6,338.3 235.8,343.2 236.1,340.5 236.4,337.8 236.8,335.8 237.1,338.0 237.5,340.5 238.1,342.6 238.0,340.1 238.7,337.5 239.2,336.3 239.1,333.3 239.3,330.9 239.3,328.5 239.5,324.3 240.1,321.2 240.3,323.9 240.8,326.3 241.2,328.8 241.4,330.2 241.7,331.0 242.3,332.3 242.5,331.3 242.8,328.6 243.3,325.1 243.3,328.6 244.0,331.0 244.1,333.9 244.6,331.3 244.7,328.2 244.7,325.3 244.7,321.9 245.0,318.1 245.1,315.8 245.3,312.2 245.7,309.9 246.1,306.8 246.4,305.1 246.8,304.3 247.1,305.5 247.5,307.8 247.6,310.3 247.9,313.4 248.0,315.6 248.3,319.0 248.3,322.1 248.4,325.1 248.9,326.7 248.9,328.3 249.5,330.4 249.7,332.1 250.2,334.3 250.6,336.0 250.8,333.3 251.2,330.3 251.7,328.9 251.9,330.5 252.5,332.3 252.8,334.8 253.2,335.7 253.4,337.0 253.6,338.2 254.1,339.3 254.7,339.7 254.8,340.9 255.0,338.4 255.1,334.8 255.6,332.2 255.8,328.0 256.4,326.2 256.7,324.2 257.0,321.5 257.0,324.2 257.5,327.1 257.7,329.1 258.0,331.9 258.3,334.3 258.6,336.5 258.9,338.6 259.5,336.9 259.8,335.3 260.2,333.7 260.3,334.6 260.9,334.8 261.2,335.6 261.4,338.6 261.7,341.2 261.9,343.8 262.1,346.4 262.5,343.1 262.7,340.3 262.7,337.4 262.8,334.6 263.1,331.7 263.2,328.7 263.5,326.9 263.9,323.3 263.9,320.8 264.5,317.8 264.6,319.6 265.0,321.3 265.5,324.6 265.6,326.0 265.9,329.9 265.9,332.6 266.0,335.6 266.3,337.8 266.4,342.8 266.8,345.6 266.9,348.0 267.3,350.3 267.4,353.5 267.6,356.2 268.0,359.8 268.1,363.6 268.4,366.2 268.5,369.2 268.7,366.2 268.7,363.3 269.0,359.8 269.5,356.6 269.9,353.5 269.8,350.0 270.2,347.0 270.1,343.9 270.5,340.3 270.5,337.2 271.0,335.6 271.3,332.0 271.6,328.6 272.1,330.6 272.4,332.3 272.7,333.8 273.2,334.3 273.7,335.3 273.9,335.9 274.3,340.3 274.6,341.1 274.6,344.7 274.9,342.4 275.1,339.1 275.3,336.1 275.2,333.2 275.3,330.5 275.6,327.4 275.9,323.4 275.8,320.9 275.8,318.0 276.2,315.3 276.4,311.9 276.7,309.2 277.1,310.2 277.4,311.6 277.8,314.1 277.8,309.0 278.1,307.1 278.1,303.4 278.2,299.8 278.3,297.7 278.5,294.0 278.6,290.5 278.8,288.5 279.0,287.3 279.6,286.1 280.3,284.6 280.3,282.1 280.5,278.6 280.8,275.4 280.7,279.1 280.8,282.4 281.0,285.4 281.1,288.3 281.1,290.5 281.0,293.6 281.2,296.7 281.3,298.8 281.5,303.5 281.2,306.2 281.4,309.2 281.5,313.1 281.5,315.3 281.8,318.8 281.8,320.9 281.8,323.8 281.8,327.4 281.8,329.5 282.1,332.9 282.3,336.0 282.3,339.3 282.3,341.6 282.3,345.1 282.6,347.9 282.7,350.5 282.6,353.1 283.1,354.7 283.3,359.1 283.3,362.7 283.4,365.9 283.6,363.7 283.9,360.8 283.8,357.1 283.7,354.0 284.0,350.2 284.0,349.1 284.2,346.2 284.3,343.6 284.4,339.5 284.4,336.6 284.6,333.8 284.8,330.8 284.8,328.1 285.2,325.3 284.9,321.9 285.3,319.2 285.5,316.4 285.3,313.7 285.7,309.8 285.8,312.2 286.0,315.1 286.4,318.1 286.2,321.4 286.5,324.6 286.7,326.9 287.5,328.7 287.8,326.9 288.1,324.7 288.5,323.6 288.8,326.3 289.0,329.9 289.2,331.7 289.4,335.5 289.6,339.2 290.0,341.5 290.4,342.9 290.5,346.3 290.8,347.5 291.1,350.0 291.5,351.9 292.2,353.6 292.5,353.2 292.9,353.2 293.1,350.0 293.6,347.2 293.6,344.5 294.1,342.5 294.4,337.7 294.7,335.8 295.2,338.1 295.5,342.1 296.1,344.1 296.1,347.0 296.6,349.7 297.0,352.2 296.9,348.7 297.4,345.9 297.4,343.8 297.8,340.8 298.0,339.5 298.2,340.8 298.6,343.9 298.7,346.8 298.9,350.6 299.1,353.8 299.5,355.2 299.9,356.9 300.1,357.7 300.4,360.3 300.8,361.8 301.1,363.7 301.5,364.6 301.9,366.4 302.1,366.8 302.6,368.6 302.8,366.3 303.3,365.0 303.4,360.7 303.9,357.8 304.2,355.8 304.3,352.8 304.5,350.2 305.1,348.8 305.4,345.5 305.5,343.5 305.9,344.1 306.4,344.0 306.7,345.0 307.1,345.7 307.5,347.2 307.6,348.1 308.2,349.7 308.5,351.2 308.9,353.1 309.3,354.8 309.5,356.0 309.9,356.8 310.2,358.3 310.6,359.2 311.1,359.8 311.3,360.6 311.7,359.3 312.1,358.7 312.3,356.7 312.4,351.9 313.0,349.2 313.0,346.3 313.3,343.3 313.8,341.4 314.1,343.9 314.6,347.3 315.0,350.4 315.1,347.6 315.5,345.8 315.9,343.4 316.1,340.0 316.6,337.1 316.6,334.3 317.0,332.1 317.5,333.9 317.7,336.3 317.9,338.9 318.3,336.4 318.3,334.2 318.6,330.6 319.1,326.8 319.1,325.2 319.5,322.6 319.3,319.3 319.8,316.5 319.9,313.4 320.3,311.6 320.6,308.5 320.9,305.6 320.9,303.4 321.3,300.8 321.6,297.5 322.0,294.8 322.2,291.9 322.5,289.0 322.7,285.5 323.3,282.3 323.4,279.7 323.5,282.4 323.8,285.2 324.0,288.2 324.3,285.1 324.5,281.6 324.6,278.9 324.7,276.5 325.3,279.4 325.4,284.6 325.6,280.3 325.7,274.8 326.0,273.2 326.1,269.8 326.3,266.8 326.1,270.2 326.5,273.6 326.9,276.4 326.8,279.3 327.3,282.2 327.4,284.8 327.5,287.6 327.7,285.2 327.9,282.6 328.0,279.7 328.1,275.2 328.2,273.7 328.3,271.5 328.7,267.6 329.0,265.8 329.0,263.2 329.2,259.9 329.8,258.1 329.7,259.4 329.8,261.8 330.4,264.5 330.2,266.2 330.3,272.6 330.3,273.8 330.4,277.2 330.6,279.9 330.8,280.9 330.9,285.9 331.0,288.8 331.0,292.2 331.4,294.7 331.7,297.5 331.9,301.9 332.1,303.7 332.3,306.6 332.1,310.7 332.4,312.5 332.4,316.3 332.8,319.0 332.9,322.5 333.4,325.5 333.4,323.3 333.4,319.7 333.6,316.1 333.6,312.6 333.7,310.4 333.8,306.9 334.1,303.8 334.4,301.2 334.6,298.8 335.0,295.4 335.4,298.3 335.8,299.6 336.0,300.7 336.4,299.0 336.7,296.9 337.1,295.2 337.3,293.8 337.7,291.6 338.2,290.0 338.4,292.4 338.7,294.8 339.2,297.0 339.4,294.3 339.4,290.6 339.8,287.2 339.6,283.6 339.8,281.4 340.3,278.2 340.2,276.1 340.4,273.7 340.5,270.3 340.8,267.8 340.7,265.2 340.9,261.8 341.1,258.3 340.9,255.2 341.1,251.4 341.1,248.4 341.3,245.5 341.2,242.3 341.3,245.0 341.3,248.6 341.8,251.6 341.7,254.8 341.6,257.4 341.7,260.5 341.8,264.2 341.6,266.8 341.6,270.2 341.6,273.7 341.8,276.0 342.0,279.6 342.0,281.6 341.9,284.9 342.2,288.1 342.0,285.5 342.4,282.0 342.3,279.2 342.2,276.3 342.2,273.2 342.3,269.1 342.5,267.3 342.6,263.9 342.4,261.7 342.6,258.0 342.7,255.5 342.6,252.3 342.7,249.3 342.7,252.9 342.7,255.9 342.8,258.7 343.0,261.7 343.1,265.1 343.0,266.5 343.1,270.3 343.2,273.2 343.1,276.0 343.3,278.9 343.2,282.4 343.1,285.8 343.2,288.4 343.4,291.0 343.4,294.1 343.2,297.2 343.4,301.3 343.6,297.6 343.4,294.7 343.6,291.3 343.5,289.2 343.8,286.5 343.7,283.3 343.7,279.3 343.8,277.7 343.7,274.8 343.9,272.0 343.9,268.9 344.1,265.4 344.3,261.5 344.1,260.2 344.1,263.5 344.0,266.2 344.4,269.7 344.3,272.2 344.6,275.5 344.4,278.3 344.4,282.1 344.3,284.2 344.3,287.5 344.5,290.6 344.4,294.0 344.5,297.0 344.9,299.8 344.8,302.6 345.0,306.2 344.7,302.9 345.0,300.6 344.8,296.4 345.0,294.0 345.0,292.5 345.1,288.4 345.1,285.1 345.2,281.8 345.4,278.6 345.3,275.9 345.1,273.0 345.4,270.3 345.6,267.0 345.5,263.1 345.4,260.9 345.6,256.8 345.7,261.2 345.6,263.5 345.7,266.5 346.0,269.8 345.7,272.8 345.9,276.1 346.2,278.5 346.1,281.4 346.3,283.6 346.2,286.6 346.3,290.0 346.3,286.8 346.6,283.2 346.5,280.5 346.5,277.3 346.8,272.5 346.7,270.8 346.7,268.0 346.9,264.9 347.0,261.0 347.3,259.5 347.5,258.0 347.8,261.3 347.9,264.1 348.0,267.4 347.9,271.3 348.2,273.7 348.1,277.2 348.3,279.8 348.4,283.1 348.6,279.7 349.0,277.6 349.3,274.2 349.2,276.6 349.2,279.9 349.3,282.2 349.6,285.5 349.5,288.9 349.4,291.6 349.8,294.0 349.7,296.6 350.2,294.2 350.3,290.5 350.6,294.5 351.0,296.0 350.9,298.4 351.2,301.0 351.6,304.3 351.2,307.4 351.4,310.2 351.3,313.2 351.5,316.4 351.6,319.5 351.7,323.5 351.6,324.5 351.7,327.0 352.0,330.9 351.7,332.9 351.8,331.0 352.2,327.4 352.2,324.5 352.0,321.8 352.3,318.7 352.4,315.6 352.1,313.3 352.3,310.0 352.2,306.7 352.4,303.6 352.3,299.1 352.3,296.8 352.7,293.9 352.5,291.3 352.3,288.1 352.9,285.5 353.2,282.8 353.3,280.3 353.5,283.5 353.8,287.0 354.0,290.0 354.2,293.6 354.7,294.6 355.0,300.9 355.4,304.2 355.9,300.4 356.2,297.2 356.3,299.8 356.4,302.7 356.7,305.1 356.6,306.7 357.0,309.9 357.2,313.2 357.5,315.4 357.9,320.4 358.2,320.6 358.5,323.4 358.3,325.7 359.0,328.5 359.2,332.2 359.4,333.8 359.4,337.0 359.8,341.1 359.9,343.0 360.4,344.7 360.8,347.8 361.1,351.0 361.4,353.0 362.0,356.0 362.1,358.9 362.6,359.7 362.6,359.6 363.3,362.4 363.5,360.4 363.9,358.5 364.3,356.7 364.5,358.0 365.1,357.7 365.3,360.2 365.8,358.2 366.0,354.4 366.3,353.9 366.4,353.5 367.2,354.2 367.5,355.7 367.8,352.8 368.0,349.9 368.3,346.6 368.9,348.2 369.1,351.5 369.4,353.7 369.7,350.5 370.2,347.7 370.2,345.7 370.5,342.9 371.1,345.5 371.3,348.1 371.6,351.1 371.8,347.9 372.2,345.1 372.4,342.4 372.7,339.4 373.2,336.6 373.2,334.6 373.5,331.2 373.8,328.6 374.1,330.5 374.3,332.1 375.1,334.1 375.2,336.1 375.3,340.0 375.5,342.6 375.7,345.5 375.9,348.3 376.1,350.8 376.2,353.7 376.7,356.5 376.8,358.7 377.0,362.5 377.0,360.8 377.5,356.1 377.5,353.0 377.4,349.8 377.6,347.6 377.6,343.2 378.0,341.4 377.9,337.9 377.7,335.0 378.0,332.5 378.2,328.9 378.1,326.4 378.1,323.7 378.2,320.5 378.3,317.6 378.2,314.3 378.7,317.8 378.8,320.4 378.7,322.1 378.7,325.5 379.0,328.3 379.2,331.3 379.9,333.3 380.1,334.7 380.6,337.9 380.8,341.0 381.0,343.9 381.5,343.4 381.8,347.6 382.2,349.9 382.2,346.7 382.6,344.6 382.9,342.6 383.0,339.5 383.6,336.3 383.8,333.8 383.9,331.7 384.2,329.3 384.4,325.1 385.0,324.0 385.5,321.6 385.6,322.9 386.1,324.2 386.2,325.4 386.5,322.6 386.7,319.5 386.8,316.8 387.2,314.1 387.5,310.9 387.5,307.7 387.8,308.6 388.4,310.0 388.7,311.5 388.7,308.8 389.3,306.0 389.3,303.3 389.6,301.1 390.1,299.1 390.4,298.4 390.4,300.9 390.8,302.6 390.9,306.9 391.1,309.6 391.1,312.1 391.3,315.5 391.5,318.2 391.7,317.7 392.1,314.9 392.6,312.3 392.7,315.5 393.1,317.8 393.3,321.1 394.0,324.6 394.0,327.3 394.6,330.2 394.9,331.8 395.0,334.0 395.7,336.7 395.8,338.2 396.4,340.7 396.5,342.4 396.8,339.9 397.1,336.7 397.2,333.4 397.5,329.6 397.8,326.7 398.1,329.3 398.4,332.7 398.8,335.2 399.0,338.3 399.2,342.3 399.5,345.7 399.6,348.2 400.1,351.3 400.2,348.8 400.2,345.8 400.5,342.5 400.9,339.4 400.8,335.7 400.7,332.8 400.9,330.0 401.3,326.7 401.3,323.3 401.6,319.7 401.6,317.3 401.8,314.7 402.1,311.7 401.9,308.6 402.3,305.8 402.5,303.4 402.4,300.6 402.8,297.6 403.0,294.5 403.1,291.2 403.2,293.9 403.2,297.0 403.5,300.7 403.8,303.5 403.8,305.0 404.2,302.7 404.3,299.7 404.4,297.1 405.0,295.7 405.1,292.4 405.6,291.2 406.0,288.5 406.1,291.3 406.3,294.0 406.4,297.2 406.5,300.6 406.3,303.1 406.8,306.7 406.7,309.6 406.9,313.0 406.8,309.3 407.1,306.4 407.0,303.4 407.5,300.7 407.7,302.9 407.6,306.3 407.5,309.1 407.7,312.5 407.8,315.1 408.0,318.6 408.5,317.2 408.3,313.3 408.6,310.3 408.6,307.0 408.6,303.9 409.0,307.4 409.1,310.1 409.0,313.6 409.2,316.3 409.3,319.6 409.4,322.9 409.5,326.1 409.6,329.4 410.0,331.1 410.1,333.2 410.5,335.5 410.8,338.3 410.9,340.5 411.8,342.1 411.7,345.7 412.5,348.5 412.5,351.6 412.7,348.4 413.0,345.6 413.1,342.2 413.8,340.4 413.7,336.2 414.3,338.1 414.4,340.1 414.7,342.3 415.1,339.7 415.4,337.4 415.6,336.4 416.0,332.3 416.1,329.8 416.6,327.6 416.8,325.1 417.2,327.7 417.3,330.2 417.7,333.5 417.7,336.7 417.9,339.6 418.3,342.7 418.5,345.3 419.0,348.0 419.4,346.8 419.4,344.6 420.2,343.0 420.5,346.2 420.6,348.7 420.7,351.3 421.2,354.3 421.2,355.8 421.5,358.2 421.7,357.6 422.3,358.4 422.6,358.9 422.9,357.4 423.4,355.9 423.4,355.3 423.9,357.1 424.3,360.0 424.8,363.0 425.0,360.5 425.4,358.3 425.9,357.2 425.9,354.6 426.4,351.9 426.9,349.2 427.2,349.0 427.2,349.8 427.9,352.1 428.0,346.7 428.3,345.1 428.6,342.3 428.3,339.8 428.7,336.8 428.7,333.5 428.9,330.1 428.9,327.3 429.0,324.7 429.3,321.2 429.2,318.1 429.3,315.3 429.6,313.1 429.8,310.6 429.9,307.8 430.3,310.0 430.2,312.4 430.2,315.2 430.7,318.1 430.9,315.3 431.2,312.4 431.1,309.6 431.5,311.4 432.2,314.8 432.5,313.6 432.9,309.3 432.9,312.9 433.3,315.2 433.3,318.8 433.8,315.9 434.4,313.7 434.6,311.6 434.7,314.2 435.0,316.7 435.4,319.3 435.4,322.5 435.7,325.0 435.8,322.5 436.2,320.1 436.5,316.5 436.8,313.4 437.2,317.4 437.2,320.4 438.0,322.9 437.8,320.8 438.3,317.3 438.5,315.5 438.7,312.4 439.1,311.1 439.5,309.0 439.6,308.3 439.9,304.5 440.1,301.3 440.3,297.3 440.2,295.0 440.4,290.2 440.4,288.3 440.7,285.4 440.9,282.6 440.8,278.9 441.2,276.8 441.2,274.3 441.4,271.2 441.5,268.4 441.8,265.1 441.7,261.0 441.8,259.0 441.8,256.5 441.9,253.0 441.9,249.7 442.1,247.9 442.1,244.0 442.6,247.3 442.5,250.7 442.8,253.1 442.5,256.2 442.7,258.8 442.6,261.9 442.9,265.2 443.0,268.3 442.9,270.9 443.0,274.4 443.1,277.3 443.1,279.7 443.4,283.0 443.4,285.5 443.4,287.9 443.7,291.4 443.5,292.9 443.7,296.7 444.1,299.9 444.1,302.6 444.4,306.1 444.6,308.9 444.8,311.1 445.2,314.8 445.4,316.7 446.0,320.5 446.1,324.9 446.5,325.6 446.5,328.0 446.8,330.9 447.0,333.6 447.4,336.0 447.7,338.8 447.9,343.1 448.2,345.3 448.5,348.4 448.8,343.6 449.1,342.9 449.2,339.9 449.5,337.4 449.8,333.1 450.1,331.1 450.0,328.5 450.4,325.0 450.6,321.4 450.7,318.0 451.1,320.9 451.7,322.9 451.8,325.0 452.1,322.7 452.4,320.1 452.6,317.5 452.9,314.5 453.2,312.2 453.4,309.7 453.7,306.6 454.1,303.8 454.3,306.3 454.7,308.6 454.9,310.7 455.3,308.1 455.5,305.8 455.4,302.8 455.3,298.3 455.4,297.5 455.4,293.9 455.5,290.7 455.5,287.8 455.8,286.0 456.0,283.4 456.2,280.3 456.2,277.6 456.6,280.9 456.6,283.3 456.5,288.3 456.9,289.3 456.7,292.3 456.9,295.1 457.0,297.6 456.7,300.8 457.0,303.7 457.0,306.7 456.9,309.4 457.3,312.4 457.6,315.1 457.5,318.3 457.6,320.8 457.8,324.4 457.9,327.4 458.0,330.6 457.8,332.8 458.4,335.7 458.2,339.4 458.2,342.5 458.1,344.6 458.4,347.5 458.7,344.4 458.7,341.3 458.9,338.9 458.8,335.7 459.1,332.2 459.2,327.7 459.4,325.9 459.7,323.5 460.2,321.2 460.1,318.2 460.7,321.0 461.0,322.7 461.4,325.3 461.6,321.5 461.8,318.6 462.0,315.5 462.4,312.2 462.6,309.5 462.6,312.3 462.9,314.2 463.1,317.0 463.4,319.5 463.9,316.3 464.0,313.5 464.5,311.0 464.8,308.0 465.0,304.2 465.3,301.8 465.7,299.1 465.6,301.7 465.8,304.2 465.7,307.4 466.2,310.3 466.2,312.9 466.4,309.9 466.6,306.5 466.9,303.8 467.0,300.9 467.2,304.0 467.2,305.7 467.2,309.2 467.3,312.3 467.5,315.1 467.8,318.1 468.1,315.2 468.1,312.3 468.3,309.4 468.4,306.7 468.2,304.5 468.5,307.2 468.6,310.6 468.8,312.6 468.9,316.0 469.0,318.5 469.0,321.3 469.2,318.7 469.3,315.6 469.3,311.8 469.2,309.8 469.3,306.4 469.5,303.8 469.6,300.9 469.7,297.9 469.5,295.0 469.7,291.2 469.9,294.8 470.0,296.7 470.2,300.1 470.2,303.2 470.2,306.4 470.2,308.6 470.3,312.0 470.3,314.9 470.5,318.5 470.5,314.9 470.7,312.0 470.8,308.8 471.0,306.7 471.1,303.1 471.2,299.5 471.1,297.4 471.6,294.4 471.6,291.2 471.9,288.7 472.1,290.7 472.4,293.4 472.9,290.5 472.9,287.6 473.1,284.5 473.0,281.6 473.2,277.5 473.4,280.5 473.5,283.6 473.4,287.0 473.7,288.8 474.0,293.8 474.0,296.8 474.2,299.4 474.3,302.5 474.3,306.2 474.5,309.3 474.5,311.4 474.6,315.3 474.6,318.1 475.2,322.2 475.5,325.6 475.6,322.8 475.8,319.7 476.1,316.9 476.5,314.9 476.5,311.6 476.6,308.7 476.8,305.9 476.7,303.3 476.9,299.9 477.1,297.3 477.2,294.7 477.2,292.2 477.3,295.5 477.6,298.0 477.7,301.0 477.9,304.3 478.1,307.0 478.1,311.2 478.2,312.6 478.2,315.5 478.4,318.1 478.5,320.7 478.2,323.7 478.4,325.9 478.8,324.4 478.8,321.0 478.8,318.7 479.3,316.2 479.3,313.0 479.6,316.3 479.7,319.9 479.7,322.8 480.1,325.6 480.1,328.4 480.2,331.8 480.5,329.0 480.6,326.7 480.9,323.8 481.2,321.0 481.7,316.9 481.3,321.6 481.7,324.2 482.0,326.9 481.9,330.4 482.1,333.3 482.2,337.0 482.3,340.6 482.5,342.6 482.7,345.0 482.8,348.2 482.9,351.1 483.2,354.8 483.2,356.9 483.6,360.2 483.9,364.0 484.4,366.5 484.6,369.2 484.9,368.8 485.0,368.1 485.5,367.6 486.0,368.3 486.3,369.2 486.6,369.4 486.9,368.0 487.4,364.3 487.7,364.1 488.1,364.8 488.5,366.7 488.8,368.6 489.2,369.0 489.3,369.8 489.9,370.5 490.2,368.3 490.6,367.8 490.9,366.2 491.3,366.4 491.5,367.3 492.0,369.5 492.3,368.3 492.9,368.0 492.9,367.0 493.4,364.3 493.7,362.7 494.1,360.0 494.5,362.8 494.7,367.5 495.2,368.9 495.7,369.8 495.9,370.4 496.3,371.9 496.5,368.7 496.8,366.2 497.4,364.4 497.6,360.9 497.9,357.2 498.1,356.5 498.1,352.0 498.6,349.7 499.1,346.9 499.5,346.4 499.5,348.7 500.0,350.8 500.3,352.9 500.7,349.8 501.0,347.3 501.6,344.3 502.0,342.8 502.2,345.3 502.5,346.6 502.9,343.9 503.2,341.5 503.7,339.3 504.1,340.6 504.3,342.2 504.8,343.0 504.8,340.8 505.0,337.5 505.2,334.3 505.7,331.2 505.8,328.7 506.3,326.9 506.4,325.1 506.8,325.3 506.7,320.8 506.9,318.3 507.0,314.5 507.5,313.2 507.6,309.8 507.6,312.6 507.8,315.3 507.9,318.7 508.1,321.5 508.1,324.5 508.5,327.7 508.5,330.7 508.8,333.1 508.9,336.1 509.2,340.2 509.4,341.5 509.5,344.5 509.7,347.1 509.9,351.8 510.3,347.3 510.5,343.2 510.9,340.1 511.0,338.1 511.4,339.0 511.8,341.3 512.2,342.3 512.3,344.5 512.6,348.3 513.0,350.6 513.0,353.7 513.3,354.6 513.8,356.4 514.2,359.0 514.6,357.2 515.1,353.0 515.2,349.5 515.5,350.9 515.9,351.7 516.1,353.2 516.8,356.4 517.0,359.8 517.4,363.6 517.6,359.5 517.9,358.6 518.1,355.2 518.4,351.9 518.6,348.3 519.1,345.5 519.0,342.9 519.4,346.9 519.9,350.2 520.4,352.9 520.6,356.4 520.8,360.1 520.9,363.2 521.4,362.3 521.7,361.0 522.1,360.3 522.4,359.4 522.8,357.7 523.0,356.5 523.4,353.7 523.7,350.8 524.1,347.3 524.2,344.7 524.6,347.8 524.7,350.4 525.1,353.7 525.4,355.7 525.7,354.6 525.8,353.3 526.6,351.8 526.5,349.3 527.1,347.6 527.4,345.1 527.7,348.0 527.9,351.2 528.3,353.8 528.4,357.0 528.6,354.3 529.0,351.7 529.2,349.0 529.5,346.6 529.8,349.3 530.6,351.5 530.7,352.7 530.9,355.8 531.2,358.1 531.6,360.5 531.6,361.7 532.4,360.8 532.7,362.5 533.0,359.8 533.3,356.6 533.8,353.6 534.1,350.0 534.0,348.9 534.1,343.8 534.3,341.9 534.5,338.7 535.1,336.1 535.0,332.8 535.1,330.2 535.6,327.4 535.6,325.0 536.0,321.6 536.3,320.8 536.3,320.2 536.6,322.5 536.7,326.0 536.6,329.1 536.6,332.3 536.9,335.0 536.8,338.1 536.9,341.7 536.8,344.6 537.3,346.9 537.2,350.1 537.1,352.7 537.0,357.4 537.2,359.8 537.3,362.9 537.2,366.2 537.4,363.0 537.5,360.0 537.3,356.3 537.6,353.8 537.8,350.6 537.9,347.9 538.3,344.5 538.0,341.6 538.5,338.4 538.4,335.2 538.6,338.3 538.9,342.2 539.0,344.8 539.0,347.9 539.1,349.9 539.3,352.8 539.8,350.8 539.8,348.1 540.1,344.6 540.2,342.5 540.7,344.4 541.2,344.0 541.6,344.6 541.9,342.6 542.3,340.5 542.6,338.3 542.9,339.7 543.3,341.8 543.6,342.7 543.8,344.3 544.2,348.7 544.2,350.6 544.6,353.8 544.9,355.7 545.3,357.5 545.5,358.8 546.1,361.3 546.4,362.3 546.6,367.0 546.8,364.4 547.3,362.4 547.7,359.6 548.0,356.8 548.1,354.2 548.5,351.9 548.6,349.5 549.1,346.0 549.3,348.0 549.6,348.9 549.9,351.3 550.4,353.7 550.6,357.1 551.1,360.6 551.5,362.1 551.9,362.2 552.1,363.5 552.4,360.7 552.8,359.5 553.1,357.1 553.7,359.8 553.9,362.0 554.1,363.7 554.5,361.3 554.7,358.4 555.0,355.9 555.1,353.0 555.5,351.4 555.9,348.8 556.5,346.5 556.5,342.8 556.5,339.4 556.8,337.0 556.8,333.0 556.8,330.3 557.3,329.1 557.8,328.4 557.9,331.8 557.9,334.6 557.9,338.0 558.4,341.7 558.4,343.6 558.7,347.5 559.1,349.3 559.2,353.2 559.3,350.8 559.3,347.9 559.7,345.4 559.7,342.1 560.0,339.4 560.3,337.2 560.5,333.8 560.9,331.9 561.2,329.0 561.7,326.5 561.7,329.1 562.5,332.5 562.4,335.5 562.9,339.0 562.9,341.2 563.4,344.3 563.3,347.3 563.6,349.3 564.2,347.0 564.2,343.3 564.5,340.5 564.7,337.6 565.2,336.1 565.6,335.1 565.7,334.3 566.0,337.4 566.1,340.3 566.3,343.7 566.4,347.1 566.4,350.1 566.8,353.0 567.2,356.7 567.7,359.6 567.8,362.1 568.5,361.7 568.6,361.1 569.0,360.6 569.5,357.4 569.3,354.3 569.7,352.1 569.7,348.7 569.9,346.2 570.2,342.8 570.4,340.9 570.3,337.9 570.9,335.2 571.0,332.2 571.2,329.7 571.4,327.2 571.5,323.8 571.9,321.6 572.0,325.9 572.3,328.2 572.3,330.8 572.4,334.1 572.5,337.2 572.8,334.0 573.4,330.6 573.7,332.7 573.8,333.8 574.3,335.5 574.5,338.3 575.2,338.5 575.3,341.4 575.8,338.4 575.9,336.1 576.4,335.3 576.6,333.8 577.2,335.1 577.3,336.2 577.7,336.7 578.3,338.3 578.6,339.0 578.8,341.9 579.0,345.2 579.3,350.5 579.4,351.7 579.8,349.0 580.1,346.1 580.4,343.5 580.6,340.8 581.0,344.2 580.9,348.4 581.1,350.5 581.5,353.5 581.6,357.0 581.6,354.1 582.0,350.9 582.1,348.4 582.3,345.0 582.5,341.8 582.7,339.2 582.7,341.8 583.2,345.0 583.0,348.4 583.2,351.9 583.4,354.3 583.5,357.1 583.7,360.0 583.6,363.0 583.5,365.9 584.0,362.6 584.1,359.4 584.3,356.0 584.7,352.8 584.7,349.9 585.1,346.7 585.5,344.5 585.6,342.0 585.8,339.1 586.1,342.5 586.4,345.6 586.9,348.7 586.9,353.4 587.1,355.2 587.5,357.1 587.8,359.4 587.8,361.4 588.3,359.0 588.8,357.3 589.0,354.8 589.5,353.2 590.0,351.8 590.0,351.4 590.4,353.9 591.0,355.0 591.2,356.6 591.6,354.8 591.9,352.5 592.3,350.1 592.7,351.5 592.9,353.2 593.3,355.9 593.7,353.7 593.9,353.1 594.2,352.0 594.7,349.3 594.9,346.1 595.3,343.7 595.6,340.8 595.5,344.2 595.7,347.5 596.0,350.8 596.2,353.9 596.7,356.7 596.6,354.7 596.9,351.9 597.4,348.4 597.3,345.3 597.5,342.5 597.9,340.9 598.3,338.7 598.5,336.8 598.9,340.6 599.2,344.2 599.3,347.0 599.5,350.0 599.8,353.2 599.9,354.1 600.1,359.6 600.2,361.4 600.5,364.2 600.6,367.3 600.8,364.0 601.2,360.5 601.1,358.0 601.3,355.3 601.3,352.2 601.4,349.1 601.6,346.5 601.9,342.7 602.0,340.4 602.2,336.3 602.5,333.5 603.0,329.7 602.9,333.5 603.0,337.5 603.4,340.0 603.7,343.2 603.9,345.9 604.1,344.3 604.7,341.4 604.9,339.3 605.5,340.6 605.5,342.4 605.9,344.0 606.4,341.3 606.7,338.4 607.0,334.4 607.5,336.8 607.8,339.1 608.4,340.4 608.3,345.3 608.4,344.4 608.8,348.3 609.0,351.5 609.3,348.2 609.6,345.8 609.6,342.6 610.2,339.5 610.0,337.1 610.1,334.1 610.2,337.2 610.6,340.3 610.9,343.6 611.1,347.1 611.5,350.2 611.5,351.3 612.1,353.5 612.4,355.2 612.5,352.9 613.0,349.4 613.0,344.5 613.4,342.5 613.7,339.4 613.7,336.9 614.0,334.1 614.1,330.2 614.5,328.3 614.5,324.6 614.9,324.2 614.9,323.3 615.5,325.4 615.7,329.2 615.9,332.1 616.3,335.5 616.6,338.3 616.8,340.8 616.9,343.1 617.7,345.7 617.9,348.6 618.2,352.8 618.9,354.5 618.8,357.8 619.4,360.7 619.9,361.7 620.1,362.9 620.3,363.1 621.0,366.0 621.0,367.8 621.3,369.0 621.6,366.9 622.1,364.8 622.4,364.5 622.9,361.1 623.1,358.1 623.3,355.2 623.7,352.0 624.1,353.9 624.4,355.9 624.8,358.7 625.0,355.8 625.1,352.5 625.5,349.1 625.6,346.4 625.9,349.0 626.7,349.2 626.8,353.5 626.9,350.6 626.9,347.8 627.1,343.8 627.0,342.3 627.3,338.9 627.6,336.1 627.6,332.8 627.7,329.6 627.7,326.9 628.2,329.0 628.5,329.2 629.0,332.3 629.4,329.9 629.4,326.5 629.8,323.9 629.9,321.7 630.3,319.1 630.5,315.9 630.5,313.6 630.9,310.0 631.1,307.4 631.5,309.0 631.7,310.1 631.9,313.0 632.6,311.6 632.6,309.7 633.1,307.5" fill="none" stroke="#ff0000" stroke-width="1.1" stroke-linejoin="round" stroke-linecap="butt" />
<polyline points="41.7,306.3 41.7,308.6 41.6,312.2 41.9,315.2 42.0,318.1 42.2,324.1 42.2,325.2 42.5,329.1 42.6,331.9 42.4,334.9 42.7,336.6 42.8,340.9 42.8,342.8 42.9,346.3 43.1,347.3 43.4,343.4 43.4,342.5 43.8,338.1 43.9,334.0 43.7,329.1 44.1,328.6 44.3,324.8 44.7,322.9 44.9,319.3 45.0,317.0 45.0,314.1 45.1,310.4 45.8,310.3 45.9,311.7 46.4,313.8 46.6,311.3 46.6,308.3 47.0,305.6 47.2,304.4 47.5,298.9 47.7,296.5 47.9,294.2 48.1,291.5 48.6,287.5 48.5,291.7 48.7,294.1 48.9,297.1 49.1,300.3 49.1,304.2 49.0,306.8 49.5,310.2 49.4,309.4 49.8,316.2 49.9,318.3 50.2,321.8 50.2,324.4 50.2,328.3 50.6,328.2 51.2,333.8 51.1,336.4 51.1,339.0 51.4,336.5 51.6,333.1 51.8,329.9 51.6,326.4 51.7,323.6 51.9,322.1 51.8,319.3 51.7,316.3 52.0,313.6 52.2,308.9 52.2,306.5 52.3,304.0 52.4,300.0 52.8,296.9 53.0,292.9 53.1,291.6 53.4,293.7 53.5,297.9 54.1,300.4 53.8,302.2 54.1,305.8 54.3,308.6 54.3,311.4 54.4,315.6 54.8,319.0 55.0,320.8 55.0,323.0 55.4,325.6 55.7,329.2 55.6,325.2 55.7,323.1 55.8,319.0 56.0,315.7 56.1,313.1 56.1,308.7 56.4,306.3 56.4,303.9 56.7,299.1 56.5,298.0 56.8,295.1 56.9,291.3 56.8,289.5 57.2,285.2 57.3,282.3 57.4,278.7 57.6,276.9 57.6,274.0 57.9,268.7 58.4,267.9 58.9,265.0 59.0,263.9 59.5,261.8 59.7,260.7 60.2,261.2 60.3,261.0 60.8,263.1 61.0,264.9 61.7,260.7 61.8,257.7 62.4,258.3 62.5,260.5 62.8,260.9 63.2,260.7 63.6,259.0 64.0,260.5 64.0,256.9 64.6,254.4 64.7,249.6 65.0,247.5 65.4,245.7 65.8,244.1 66.0,240.9 66.4,245.5 66.3,247.9 66.6,251.3 67.0,254.3 67.1,259.9 67.2,261.2 67.6,264.5 67.8,267.9 67.8,267.6 68.4,272.0 68.6,271.7 68.8,272.0 69.4,270.7 69.2,267.8 69.7,264.9 69.6,262.7 69.9,262.3 70.5,257.5 70.7,254.8 70.8,251.0 71.1,248.3 71.3,244.6 71.9,239.8 72.1,240.7 72.1,237.1 72.5,236.8 72.9,238.0 73.0,240.9 73.7,244.2 73.5,248.0 73.7,250.7 74.0,254.4 74.5,256.6 74.4,260.2 74.7,264.0 74.6,266.2 75.1,270.5 75.2,274.4 75.3,276.0 75.3,279.7 75.6,282.8 75.7,286.0 76.1,290.9 76.1,291.1 76.4,296.2 76.2,298.0 76.7,300.4 76.8,305.5 76.8,305.4 76.9,309.4 77.4,312.6 77.4,316.8 77.5,318.6 78.0,321.9 78.1,325.6 78.5,324.9 78.8,330.3 79.1,332.2 79.5,332.4 79.8,332.7 80.0,329.5 80.3,326.4 80.4,322.5 80.5,317.2 80.9,316.9 81.2,315.7 81.5,313.7 81.8,313.0 82.1,315.0 82.3,317.3 82.9,318.1 83.2,320.3 83.6,323.2 83.8,327.7 84.1,328.4 84.5,331.4 84.7,333.9 85.1,336.7 85.5,339.0 85.7,341.2 86.1,343.4 86.3,338.8 86.5,335.0 86.6,333.1 86.7,330.2 86.9,327.5 86.7,324.9 87.2,323.9 87.3,317.4 87.1,314.7 87.5,312.4 87.5,309.6 87.8,307.2 88.1,302.5 88.5,300.7 88.6,298.1 88.7,295.2 89.0,292.6 89.3,288.4 89.7,286.1 90.0,284.0 90.4,283.7 90.6,282.0 90.8,284.6 91.1,285.6 91.5,289.4 91.8,292.1 91.9,291.9 92.1,297.5 92.5,301.0 92.7,304.3 92.7,306.0 93.3,309.3 93.4,312.1 93.6,315.0 94.0,312.4 93.9,308.6 94.3,306.9 94.3,304.6 94.8,302.9 95.0,304.6 95.2,305.9 95.3,307.0 96.1,309.0 96.6,312.4 96.9,313.3 97.1,311.2 97.1,308.0 97.4,305.5 97.3,303.3 97.6,299.6 97.6,296.7 97.8,293.9 98.1,296.0 98.2,302.0 98.4,301.4 98.7,304.2 98.8,307.8 99.2,309.5 99.3,312.9 99.5,315.0 100.1,322.7 100.2,315.3 100.6,312.3 100.6,310.7 100.7,306.7 101.1,305.1 101.2,300.5 101.6,294.6 101.7,295.6 102.0,291.5 101.9,288.4 102.2,286.2 102.8,281.3 102.9,279.0 103.0,275.9 103.4,273.2 103.6,269.2 104.2,265.6 104.4,263.6 104.5,261.3 104.7,259.0 104.9,254.0 105.2,251.0 105.7,256.1 105.8,260.6 106.3,261.7 106.5,265.1 106.7,269.1 106.6,271.6 107.0,274.6 107.5,277.6 107.1,280.5 107.6,277.2 107.9,274.2 108.1,272.5 108.3,269.8 108.9,270.4 109.0,273.0 109.4,274.1 109.7,276.5 109.6,281.8 110.0,283.0 110.0,285.9 110.0,288.3 110.3,290.6 110.5,295.6 110.6,296.9 110.8,295.3 111.1,290.9 111.5,288.2 111.7,285.6 111.9,282.8 112.1,279.0 112.3,276.9 112.6,273.8 112.8,270.6 113.2,267.7 113.3,265.4 113.5,264.8 114.2,259.0 114.5,256.1 114.7,248.8 115.2,251.2 115.4,247.6 115.8,245.5 116.0,251.9 116.4,252.5 116.9,255.9 117.2,258.9 117.5,261.9 117.5,263.9 117.8,267.3 118.4,265.5 118.5,263.1 118.9,261.8 119.3,259.7 119.6,257.6 119.9,256.8 120.5,255.5 120.7,254.2 121.2,252.7 121.4,251.1 121.8,249.3 122.0,248.9 122.5,250.6 123.0,249.9 123.2,252.8 123.4,250.9 123.9,250.7 124.3,249.3 124.6,254.9 125.1,257.1 125.0,260.1 125.8,258.6 126.1,258.4 126.3,255.9 126.7,261.8 126.9,261.7 127.2,260.6 127.8,264.3 128.1,266.2 128.5,270.8 128.8,269.1 129.1,268.2 129.6,268.4 129.9,270.4 130.3,271.2 130.6,273.3 130.8,276.8 131.0,279.9 131.0,281.7 131.5,285.2 131.6,288.5 131.8,291.3 132.2,297.5 132.4,296.7 132.5,299.1 132.5,305.4 132.8,299.4 132.8,297.1 133.2,293.4 133.3,290.6 133.2,286.0 133.4,283.9 133.7,280.2 134.0,278.3 134.4,275.3 134.6,271.3 135.0,272.8 135.5,272.5 135.7,271.0 136.1,269.3 136.6,268.3 137.1,266.7 137.4,265.4 137.6,265.1 138.0,264.1 138.4,265.9 138.6,265.7 139.0,265.1 139.3,272.4 139.3,273.7 139.9,277.5 140.1,281.4 140.3,284.3 140.6,288.9 141.0,289.8 141.2,291.8 141.5,290.0 141.9,289.3 142.2,288.3 142.5,289.9 142.7,294.5 143.1,294.9 143.1,299.1 143.3,298.6 143.7,302.5 143.5,308.0 143.9,311.3 143.8,314.5 144.0,316.6 144.0,318.5 144.1,325.0 144.4,327.9 144.5,325.4 144.8,322.1 144.9,319.1 144.9,314.9 145.2,312.2 145.6,309.0 145.7,305.8 145.8,304.4 146.3,302.1 146.9,299.2 147.0,298.5 147.4,298.0 147.9,299.4 148.3,302.0 148.7,305.2 148.8,307.3 149.3,309.0 149.6,312.9 150.0,317.2 150.3,319.8 150.5,322.5 151.1,323.0 151.6,325.6 151.6,328.8 152.2,330.6 152.6,334.0 152.9,337.0 153.1,338.0 153.4,341.2 153.9,341.4 153.8,341.3 154.4,336.2 154.1,332.1 154.0,328.1 154.4,326.0 154.5,322.6 154.9,318.4 154.9,316.3 155.2,320.1 155.4,323.1 155.7,325.7 155.9,327.5 156.2,330.2 156.6,331.9 156.9,331.9 157.3,331.9 157.8,336.5 158.1,338.5 158.6,338.7 158.7,340.1 159.0,342.8 159.5,335.5 159.4,332.8 159.7,331.5 160.1,328.1 160.2,324.2 160.2,322.2 159.9,319.3 160.1,316.6 160.6,312.4 160.2,310.7 160.4,307.0 160.3,303.3 160.4,300.7 160.4,299.2 160.4,294.5 160.8,292.1 160.6,289.5 160.5,286.8 160.5,283.4 160.6,280.0 160.8,276.7 160.8,274.3 161.2,271.3 161.1,267.9 161.3,265.0 161.1,261.5 161.2,258.4 161.3,255.8 161.4,253.2 161.5,251.0 162.0,245.3 162.7,245.4 162.9,245.2 163.1,244.2 163.4,244.0 163.8,245.6 164.2,245.9 164.3,247.5 164.9,249.0 165.3,252.3 165.6,248.8 166.2,250.3 166.3,251.3 166.5,252.6 166.6,255.9 167.1,258.2 167.2,261.9 167.4,265.2 167.6,267.4 167.5,270.5 167.8,273.8 168.1,273.6 168.4,275.2 168.7,278.1 168.9,278.7 169.1,282.3 169.4,284.7 169.5,287.6 169.7,290.1 169.9,294.1 169.8,293.0 170.0,288.1 170.0,286.6 170.3,281.5 170.4,278.7 170.4,275.9 170.5,272.5 170.5,270.1 170.4,266.8 171.0,268.1 171.3,270.4 171.8,271.7 172.0,272.3 172.4,273.6 172.7,275.0 173.1,277.8 173.3,281.9 173.5,284.8 173.9,283.0 174.0,279.0 174.1,276.7 174.4,272.8 174.5,272.7 174.7,265.2 174.6,264.2 174.7,261.6 175.2,258.7 175.2,254.9 175.8,251.5 175.7,249.0 176.2,251.3 176.6,254.6 177.0,258.2 177.2,262.1 177.6,263.7 178.2,266.8 178.2,269.3 178.2,273.3 178.8,277.7 178.9,280.5 179.1,283.8 179.0,286.3 179.5,288.6 179.3,293.4 179.7,294.2 179.9,295.2 180.1,300.5 180.3,307.4 180.5,306.1 180.8,309.4 181.1,313.2 181.1,314.5 181.4,312.9 181.3,309.7 181.8,306.8 181.9,304.2 182.2,301.7 182.3,297.4 182.5,294.3 182.7,290.3 182.8,287.8 183.1,284.4 183.2,280.7 183.9,277.8 183.8,275.6 184.3,271.5 184.8,270.0 185.2,269.4 185.5,267.7 185.7,264.7 186.3,263.0 186.4,261.9 186.8,258.8 187.2,257.2 187.4,254.6 187.6,255.1 188.3,253.2 188.4,251.5 188.7,252.4 189.3,253.1 189.6,252.6 190.2,251.8 190.3,250.0 190.8,249.5 191.1,248.7 191.5,246.5 191.6,245.5 192.1,248.5 192.4,252.3 192.6,252.9 193.1,253.1 193.5,251.4 193.9,251.7 194.2,255.7 194.9,255.8 195.0,257.6 195.3,256.9 195.4,257.2 195.9,257.0 196.1,257.1 196.6,258.9 197.1,259.8 197.2,260.6 197.8,261.6 198.1,259.6 198.2,265.3 198.6,269.9 198.8,273.5 199.1,274.8 199.4,279.5 199.5,282.7 199.9,285.6 200.1,287.0 200.2,289.7 200.3,292.1 200.6,295.3 200.9,298.0 201.3,300.6 201.5,303.6 201.7,304.9 201.9,309.0 202.1,311.0 202.6,315.0 202.9,317.5 203.4,320.4 203.8,317.7 204.0,315.5 204.5,314.0 204.8,315.7 205.3,322.9 205.4,321.7 205.6,318.3 205.9,315.1 206.1,311.9 206.2,308.9 206.5,306.2 206.8,307.2 207.3,307.1 207.6,309.2 207.7,313.4 208.2,314.3 208.2,320.4 208.5,320.2 209.0,322.5 209.3,326.0 209.4,328.8 209.9,330.6 210.2,333.4 210.3,337.2 210.6,339.7 210.6,342.4 211.1,344.3 211.1,347.8 211.4,350.5 211.6,356.6 211.7,357.4 212.1,357.4 212.3,357.7 212.8,357.5 213.1,359.1 213.3,365.4 213.6,369.1 213.6,367.9 214.0,374.5 214.1,370.9 214.6,369.0 214.9,368.2 215.3,365.7 215.6,364.9 215.7,360.5 216.1,358.4 216.4,355.4 216.5,352.4 216.8,348.6 217.0,345.5 217.4,344.8 217.5,341.8 217.5,338.6 217.8,335.5 217.9,333.4 218.3,327.1 218.4,326.9 218.7,322.2 218.9,321.5 219.3,321.8 219.6,315.4 219.5,312.5 219.7,309.4 220.0,308.8 220.2,305.5 220.4,299.9 220.7,298.3 221.0,294.8 220.9,290.7 221.3,288.1 221.6,289.0 221.8,284.5 222.6,282.4 222.8,281.4 223.2,279.4 223.7,277.7 223.7,275.5 223.9,270.8 224.4,268.0 224.6,263.0 225.1,262.4 225.2,259.9 225.6,256.9 226.1,255.4 226.4,254.5 226.6,253.7 227.0,249.0 227.2,245.3 227.4,247.9 227.8,254.5 227.7,254.6 228.3,256.3 228.3,259.8 228.8,263.1 229.1,264.9 229.5,266.6 229.8,265.2 230.2,267.5 230.5,262.8 231.0,265.2 231.2,268.9 231.4,270.7 231.7,267.8 232.2,265.9 232.8,262.4 233.0,265.9 233.2,268.3 233.8,272.8 233.9,268.6 234.3,266.7 234.7,263.8 235.0,262.5 235.5,259.4 235.9,258.7 236.1,259.3 236.8,255.7 236.9,256.9 236.7,261.4 236.9,264.2 237.0,265.4 237.1,269.1 237.0,271.8 237.3,276.6 237.2,277.6 237.1,280.9 237.1,284.9 237.3,288.8 237.4,291.8 237.5,292.9 237.5,297.4 237.6,300.6 237.6,303.3 237.7,302.8 237.7,308.9 237.8,312.2 237.9,315.4 237.6,318.5 237.7,323.9 237.7,325.0 237.6,326.7 238.3,329.3 238.2,333.3 238.0,335.5 238.1,338.0 238.2,340.9 238.3,344.6 238.3,338.9 238.5,338.9 238.4,336.2 238.3,333.0 238.6,329.6 238.4,326.0 238.5,328.0 238.6,321.5 238.5,321.4 238.9,313.0 238.8,313.1 238.7,312.8 238.7,306.0 238.8,303.6 239.0,300.6 239.2,294.9 239.2,294.5 239.2,288.7 239.1,288.3 239.3,286.6 239.6,282.4 239.6,280.4 239.6,279.1 240.0,274.4 239.9,271.9 240.3,268.9 240.6,265.2 240.6,262.7 240.9,263.2 241.3,264.8 241.6,264.9 242.2,262.5 242.5,259.9 242.8,256.6 243.2,255.7 243.7,255.6 243.7,256.1 244.2,257.1 244.6,260.3 245.1,263.0 245.0,265.6 245.4,268.3 245.5,271.4 245.7,275.2 245.9,277.2 246.3,276.2 246.9,275.8 247.1,275.7 247.3,271.8 247.7,270.2 247.8,268.6 248.1,264.6 248.6,264.2 248.7,260.2 249.1,259.2 249.6,259.1 249.7,256.8 250.2,258.0 250.6,259.7 251.0,260.7 251.1,263.2 251.7,260.9 252.0,258.9 252.5,253.8 252.5,260.6 253.1,258.5 253.4,258.3 253.9,258.2 254.1,256.7 254.6,253.0 254.8,253.0 255.2,252.1 255.6,253.3 255.7,256.0 256.0,261.9 256.1,262.0 256.3,265.2 256.6,267.7 257.0,266.1 257.2,264.2 257.6,262.2 258.0,259.8 258.4,256.4 258.7,254.0 259.0,256.2 259.4,257.5 259.8,261.4 259.9,259.2 260.5,255.9 260.8,253.6 261.4,251.5 261.4,255.6 262.0,252.0 262.1,253.8 262.0,257.8 262.5,261.6 262.5,267.7 262.9,268.2 263.2,268.4 263.5,270.6 263.8,271.6 264.3,274.8 264.7,277.0 264.9,278.3 265.1,271.7 265.1,271.6 265.7,267.3 265.7,266.2 265.9,262.6 266.1,259.0 266.5,254.3 266.6,251.6 267.0,246.6 267.3,246.1 267.6,243.0 267.7,240.6 268.2,238.9 268.6,236.4 268.8,233.2 269.3,231.2 269.5,234.1 269.6,238.1 269.8,241.0 270.2,244.5 270.3,246.4 270.4,251.1 270.7,253.2 270.7,256.2 270.9,259.6 271.2,261.1 271.5,264.5 272.3,267.4 272.6,271.1 273.0,268.3 273.0,265.8 273.5,264.6 273.9,261.0 273.9,257.8 274.6,254.1 274.7,256.6 275.1,259.8 275.2,262.6 275.6,267.7 275.7,268.7 275.8,271.1 276.5,274.3 276.7,276.6 276.9,277.5 277.4,280.1 277.7,282.9 277.7,286.3 277.8,289.4 277.7,291.2 277.8,295.0 278.0,299.9 278.2,300.4 278.1,304.5 278.2,307.2 278.4,310.1 278.3,312.5 278.2,316.4 278.4,318.4 278.5,322.0 278.5,323.4 278.4,327.3 278.5,329.5 278.5,333.5 278.8,335.0 278.7,339.2 279.3,342.4 279.6,342.6 280.0,342.6 280.3,344.0 280.7,345.5 281.0,349.9 281.3,351.1 281.7,354.7 281.7,358.0 282.2,361.4 282.5,363.2 282.7,367.8 283.3,368.3 283.7,369.4 284.1,371.8 283.9,369.6 284.0,366.1 284.2,362.5 284.4,359.7 284.6,355.7 284.6,352.3 284.6,349.4 284.7,347.8 284.8,344.5 284.7,341.7 284.9,338.0 285.0,335.0 284.9,332.8 285.0,329.2 285.1,327.4 285.1,322.7 285.2,321.4 285.0,318.9 285.3,314.8 285.4,311.8 285.4,309.0 285.6,306.1 285.5,303.0 285.9,299.5 285.8,298.4 285.9,295.1 286.1,292.3 286.0,287.4 286.0,284.8 286.4,282.4 286.7,279.0 286.5,277.0 286.6,274.7 286.7,272.8 287.0,268.6 287.2,262.6 287.4,268.0 287.6,270.2 288.0,272.2 288.2,272.9 288.4,279.5 289.0,282.8 289.1,280.0 289.2,276.0 289.6,274.4 290.0,271.8 290.0,270.1 290.4,266.4 290.8,263.6 290.9,259.4 291.2,256.6 291.6,254.4 291.7,251.7 292.1,249.2 292.2,249.6 292.7,249.2 292.9,248.5 293.2,250.0 293.7,251.5 294.0,255.0 294.4,256.5 294.6,257.4 294.8,262.4 295.0,265.9 295.1,270.1 295.4,265.3 295.4,262.0 295.8,258.9 295.9,257.8 295.9,252.2 296.3,249.3 296.5,249.5 297.0,251.5 297.1,252.6 297.4,255.9 297.6,259.7 297.7,262.4 297.9,265.7 298.1,261.8 298.6,259.5 298.9,257.9 299.0,255.2 299.3,250.7 299.6,248.3 300.1,243.1 300.7,244.5 300.6,243.6 301.1,242.2 301.3,237.8 301.8,240.6 302.0,234.4 302.6,234.2 303.1,232.8 303.1,232.2 303.7,232.1 304.0,232.5 304.4,234.5 304.7,238.4 304.8,239.8 305.1,242.9 305.4,245.5 305.7,249.0 306.1,251.7 306.7,254.7 306.8,253.7 307.1,252.7 307.7,251.9 307.9,251.0 308.0,249.7 308.5,249.2 308.9,246.2 309.5,245.7 309.4,244.6 309.9,242.7 310.3,240.2 310.7,238.6 311.0,239.7 311.1,240.1 311.8,240.4 311.9,244.4 312.3,247.9 312.6,250.2 312.7,252.0 313.1,249.9 313.5,245.9 313.9,242.1 314.1,245.0 314.4,246.6 314.9,248.2 315.2,251.7 315.7,252.3 315.9,255.0 316.3,253.1 316.7,252.3 317.0,252.2 317.4,252.4 317.8,253.0 318.1,252.6 318.7,254.8 318.6,256.1 318.8,260.3 319.2,264.2 319.8,265.8 319.8,268.3 320.1,270.4 320.6,270.9 320.9,273.0 321.1,272.3 321.5,275.0 321.5,278.3 321.9,281.2 322.1,288.8 322.3,288.4 322.5,291.9 322.9,297.2 323.2,296.5 323.6,299.6 323.9,302.3 324.2,303.8 324.3,308.0 324.6,310.5 324.8,313.0 325.2,316.8 325.8,318.4 325.9,320.5 326.2,323.3 326.6,325.6 326.7,322.9 326.9,320.0 327.1,314.7 326.9,313.1 327.1,309.3 327.3,306.9 327.3,308.8 327.4,311.9 327.5,314.0 327.5,317.3 327.8,319.3 327.8,322.7 327.9,325.1 327.9,330.8 328.3,332.1 328.5,333.9 328.4,337.6 328.6,339.9 329.1,342.9 329.2,345.4 329.8,347.9 330.1,349.9 330.3,346.5 330.1,344.3 330.5,341.1 330.5,338.0 330.8,335.4 331.0,332.6 331.1,330.4 331.2,325.5 331.3,322.5 331.4,319.3 331.6,316.4 331.5,313.1 331.6,309.6 331.6,306.3 331.8,302.7 331.6,300.6 331.9,304.4 332.1,306.2 332.2,309.2 332.7,312.7 333.0,314.5 333.1,315.9 333.5,318.4 333.5,321.4 333.7,324.6 334.2,322.1 334.4,317.5 334.8,317.1 334.7,313.0 335.2,309.1 335.4,308.9 335.8,305.8 335.7,302.6 336.0,299.9 336.3,298.8 336.8,305.4 337.0,307.3 337.5,305.3 337.8,301.7 338.0,299.4 338.4,303.2 339.0,303.2 339.2,303.6 339.6,306.9 340.0,312.3 340.3,312.6 340.7,316.2 340.6,318.3 340.7,318.6 340.9,326.1 341.1,328.2 341.1,331.1 341.3,334.1 341.3,336.7 341.4,339.4 341.6,343.4 341.4,345.6 341.7,348.4 341.6,351.9 341.6,354.4 342.0,358.6 342.0,361.6 341.7,363.6 342.1,365.5 342.4,369.8 342.3,370.3 342.4,376.4 342.7,377.1 343.1,373.0 343.5,377.4 343.8,377.7 344.2,377.6 344.7,377.7 345.1,377.8 345.6,377.8 346.0,377.7 346.4,377.7 346.9,377.7 347.3,377.6 347.8,377.6 348.2,377.7 348.6,377.8 349.1,377.8 349.5,377.7 349.9,377.7 350.4,377.6 350.8,377.6 351.2,377.7 351.6,377.3 351.9,377.3 352.2,377.2 352.4,374.5 352.4,372.1 352.5,369.4 352.7,365.5 352.6,362.5 353.0,359.4 352.9,356.0 353.0,351.7 353.5,351.0 353.3,348.6 353.6,345.4 353.4,342.4 353.5,338.9 353.8,335.4 353.6,333.3 353.7,327.6 354.1,328.3 354.0,323.0 354.1,321.1 353.9,317.5 354.1,315.6 354.4,308.7 354.4,309.4 354.7,312.2 355.2,316.1 355.4,318.5 355.5,321.8 355.9,325.2 356.0,327.0 356.7,324.0 356.7,321.4 357.2,318.1 357.3,315.3 357.5,309.0 357.5,311.6 357.8,305.5 358.0,304.0 358.1,300.3 358.1,296.6 358.4,294.3 358.5,288.3 358.6,287.9 358.9,285.8 359.1,284.5 359.3,279.4 359.4,275.3 359.8,273.0 359.8,270.2 360.3,265.7 360.3,263.1 360.6,259.7 360.9,257.0 361.1,254.4 361.6,251.5 361.8,247.7 362.2,246.0 362.5,242.5 362.8,242.6 363.5,244.5 363.5,245.1 364.0,243.8 364.3,243.6 364.7,239.1 364.9,242.1 365.3,244.7 365.6,247.9 366.0,244.5 366.3,244.4 366.5,244.3 367.1,246.9 367.2,248.1 367.7,249.9 368.3,249.4 368.3,248.9 368.6,246.6 369.1,248.6 369.6,250.8 369.9,252.7 370.2,251.4 370.4,252.3 370.9,246.8 371.4,249.9 371.6,252.9 372.0,256.0 372.3,254.4 372.8,249.8 373.1,251.2 373.5,255.4 373.7,260.2 373.8,262.5 374.0,267.7 374.3,262.0 374.4,259.6 374.7,253.1 374.8,253.6 375.3,251.6 375.4,249.6 376.0,246.0 376.2,243.6 376.6,239.5 376.8,236.2 377.2,239.6 377.1,246.2 377.6,247.1 377.7,249.9 377.8,251.0 377.8,257.1 378.0,260.1 378.2,261.5 378.5,264.1 378.5,267.6 378.6,271.3 378.8,274.0 379.2,267.6 379.2,268.2 379.6,265.2 379.8,261.4 379.9,257.8 380.5,253.6 380.8,252.5 381.2,250.6 381.6,247.7 381.9,246.6 382.1,249.8 382.4,253.8 382.7,256.8 383.2,260.7 383.2,257.8 383.7,254.4 384.0,253.0 384.2,255.1 384.7,258.3 385.0,261.3 385.4,262.7 385.6,265.3 385.9,265.7 386.3,265.2 386.8,264.0 387.2,263.8 387.5,267.0 387.8,270.6 388.0,272.5 388.4,274.9 388.4,277.1 388.9,275.3 389.3,274.4 389.6,276.7 389.7,279.5 390.3,284.2 390.6,277.4 391.0,277.0 391.1,275.2 391.3,272.6 391.7,269.5 392.3,268.1 392.4,267.4 392.6,270.0 393.1,274.5 393.6,276.5 393.9,275.0 393.9,269.6 394.4,268.7 394.5,264.2 394.7,262.7 395.0,259.7 395.6,256.5 395.9,258.4 396.3,260.2 396.7,260.0 396.9,256.4 397.6,255.4 397.7,253.1 398.0,253.3 398.7,257.0 398.6,256.3 399.1,255.1 399.4,254.5 400.0,252.1 400.0,255.3 400.2,261.4 400.3,262.6 400.4,263.4 400.7,267.3 400.9,269.6 401.0,273.1 401.0,276.9 401.4,277.5 401.8,280.8 402.1,284.2 402.4,284.7 402.9,287.8 403.4,287.5 403.6,291.3 404.0,294.7 404.3,297.8 404.5,300.1 405.0,301.2 405.3,303.3 405.5,307.4 406.1,306.6 406.4,313.1 406.6,310.7 406.7,307.6 407.0,303.6 407.2,300.1 407.4,297.5 407.6,293.9 407.7,290.2 407.7,288.4 408.1,283.7 408.3,280.7 408.3,278.5 408.7,278.5 409.1,278.4 409.6,279.7 409.9,277.9 410.2,275.6 410.7,273.8 410.7,270.3 411.0,268.5 411.2,266.0 411.4,263.5 411.7,258.6 412.0,256.3 412.2,253.8 412.4,251.9 412.6,249.7 413.2,252.6 413.5,255.0 413.9,256.8 414.2,257.4 414.3,257.7 414.6,257.5 415.0,259.4 415.4,261.6 415.8,264.9 416.0,269.0 416.2,271.9 416.5,273.7 416.9,276.3 417.1,280.0 416.9,277.8 417.2,273.9 417.3,270.9 417.9,267.3 418.1,264.8 418.1,263.3 418.4,260.3 418.8,257.1 418.8,253.7 419.3,257.1 419.7,261.9 420.0,262.8 420.3,258.1 420.6,258.6 421.0,252.6 421.0,249.5 421.4,247.1 421.9,246.9 422.1,243.1 422.6,244.9 422.8,246.7 423.3,247.4 423.4,245.8 423.8,244.5 424.3,243.1 424.7,241.2 424.8,240.3 425.2,237.6 425.6,240.1 426.1,244.9 426.4,247.3 426.6,247.6 427.0,247.1 427.6,246.5 427.8,250.3 428.0,252.6 428.1,253.9 428.3,257.9 428.4,259.8 428.7,264.1 428.4,267.6 428.9,269.5 428.7,273.0 429.1,275.7 428.9,278.6 429.1,281.5 429.3,285.0 429.5,286.2 429.7,290.6 429.8,293.8 429.9,298.7 430.1,301.0 430.7,298.0 430.6,294.1 430.8,290.5 431.2,288.5 431.2,286.0 431.5,280.7 431.9,281.3 431.8,282.6 432.3,284.3 432.7,289.5 433.2,286.5 433.5,284.6 433.8,282.0 434.0,277.3 434.9,276.0 434.8,272.0 435.2,270.6 435.6,268.9 435.8,266.6 436.3,268.2 436.8,270.0 437.1,271.5 437.2,270.1 437.5,267.6 438.0,266.4 438.2,270.1 438.5,272.6 438.7,274.7 438.9,279.2 439.1,280.6 439.3,278.6 439.8,275.7 439.7,273.1 440.1,269.2 440.2,273.2 440.5,275.8 440.6,277.6 440.6,283.1 441.2,284.5 441.2,288.8 441.2,292.5 441.5,293.5 441.7,295.2 441.8,300.6 441.9,302.4 441.8,305.5 442.1,309.2 442.3,312.6 442.3,314.6 442.4,317.7 442.8,315.8 442.6,316.2 442.9,314.3 443.0,311.3 443.0,307.7 443.2,305.6 443.5,303.4 443.3,299.6 443.5,298.3 443.5,292.9 443.7,291.4 444.1,285.2 444.5,283.6 444.7,281.6 444.7,278.2 445.1,277.9 445.0,273.5 445.5,270.3 445.7,264.6 446.0,262.3 446.2,261.4 446.5,259.5 446.9,258.6 447.4,258.0 447.5,255.2 447.6,251.6 447.7,249.5 448.2,249.2 448.3,246.3 448.4,246.3 449.1,249.7 449.0,250.5 449.5,252.8 449.6,254.8 450.2,256.2 450.4,257.9 450.9,261.0 451.1,261.5 451.5,263.1 451.9,261.1 452.4,260.7 452.5,258.6 452.7,261.1 452.7,265.2 453.0,267.8 453.2,271.4 453.2,275.4 453.4,278.8 453.5,280.4 453.7,277.5 453.8,276.0 454.1,273.6 454.4,269.9 454.8,267.9 455.2,268.7 455.3,271.2 455.7,274.7 455.9,276.3 456.4,277.3 456.7,279.4 456.8,278.6 457.2,273.6 457.7,270.9 457.8,267.3 458.1,269.5 458.5,272.7 458.8,271.2 459.3,271.9 459.5,270.9 459.9,269.7 460.2,272.0 460.4,274.4 460.7,276.8 461.0,279.9 461.4,282.6 461.5,282.7 462.2,284.7 462.1,282.1 462.5,278.5 463.0,275.3 463.1,272.3 463.3,273.7 463.4,278.0 463.7,280.9 463.9,284.0 464.2,284.7 464.3,288.5 464.6,290.7 464.9,299.2 465.3,298.4 465.5,294.1 465.9,292.3 466.3,289.8 466.8,285.3 466.9,283.2 467.2,281.7 467.5,278.6 468.0,274.8 468.1,273.4 468.3,269.6 468.8,270.9 469.1,273.2 469.5,275.5 469.6,278.3 469.7,280.8 470.2,287.2 470.3,287.4 470.9,285.6 471.2,282.0 471.8,279.2 471.7,283.7 472.0,285.1 472.4,289.1 472.6,293.5 473.0,295.3 473.5,296.9 473.5,300.5 473.8,303.1 474.0,306.3 474.2,309.5 474.2,311.4 474.6,315.3 474.4,318.9 474.7,322.8 474.8,324.7 474.9,327.5 475.1,331.0 475.3,332.5 475.4,337.7 475.5,340.5 475.6,344.0 475.9,341.2 476.1,338.6 476.5,338.8 476.4,332.0 476.6,327.9 476.7,327.8 477.1,322.9 477.1,320.0 477.3,316.5 477.4,315.0 477.7,309.4 477.9,303.5 477.8,303.7 478.1,300.5 478.6,295.6 478.7,293.4 478.9,289.9 479.2,286.9 479.5,284.2 480.0,280.1 479.8,276.9 480.4,277.4 480.7,274.4 481.0,277.6 480.8,279.5 480.9,284.0 480.9,285.2 480.9,288.3 480.9,291.8 481.0,294.3 481.1,297.9 481.4,301.1 481.2,303.0 481.1,307.4 481.2,308.1 481.2,314.5 481.3,316.6 481.2,318.5 481.0,322.2 481.5,324.4 481.5,327.8 481.7,324.6 481.5,322.0 481.5,319.3 481.7,315.2 481.9,313.1 482.1,310.0 482.0,306.5 482.0,303.5 482.1,300.3 482.2,297.5 482.3,294.9 482.3,291.3 482.5,288.5 482.6,286.0 482.5,282.5 482.6,278.7 482.6,277.8 482.9,272.5 483.2,270.8 483.1,268.3 483.3,265.5 483.3,262.8 483.4,259.0 483.4,256.7 483.7,254.1 483.7,249.8 484.0,247.1 484.1,245.0 484.3,242.1 484.7,238.4 484.7,235.4 484.9,231.8 485.2,232.4 485.8,236.8 486.0,237.8 486.1,239.2 486.5,236.9 486.9,235.3 487.1,231.2 487.8,235.5 488.0,237.8 488.8,241.4 489.0,237.2 489.1,234.7 489.5,231.2 489.9,231.2 490.2,231.6 490.6,231.8 490.8,233.3 491.3,234.6 491.6,236.6 492.2,234.6 492.3,233.5 492.7,231.2 493.0,231.4 493.6,232.1 493.9,232.6 494.1,231.5 494.4,236.1 494.8,237.5 495.0,235.5 495.3,233.9 495.9,231.2 496.2,231.2 496.6,231.2 496.9,231.2 497.1,233.8 497.4,237.2 497.3,239.2 497.6,242.1 497.9,245.6 498.4,247.6 498.6,250.1 498.7,252.1 499.5,252.5 499.6,251.7 500.2,251.5 500.5,252.6 500.6,255.3 501.1,256.8 501.4,254.7 501.9,252.2 502.2,250.1 502.6,253.0 502.7,255.6 503.1,259.2 502.8,262.5 503.1,266.3 503.4,262.1 503.6,259.6 504.2,256.4 504.3,252.4 504.5,255.1 505.1,256.0 505.5,259.1 505.8,260.3 506.0,262.2 506.5,265.4 506.7,269.0 507.0,270.7 507.0,273.9 507.4,277.1 507.5,279.3 507.8,275.6 507.6,273.5 508.0,270.6 508.1,266.3 508.3,260.0 508.6,259.7 509.0,256.5 509.3,252.5 509.7,252.9 510.0,249.0 510.4,248.4 510.7,246.1 511.3,248.2 511.0,252.3 511.4,253.5 511.8,256.8 512.0,253.7 512.4,250.4 512.7,248.2 513.4,245.5 513.2,243.8 513.9,241.1 514.2,246.2 514.6,245.7 514.7,245.6 515.4,241.4 515.7,242.2 516.1,240.7 516.5,241.3 516.6,242.7 517.2,243.7 517.4,240.7 517.8,239.0 518.0,236.5 518.0,239.7 518.6,243.1 518.7,244.9 518.9,248.7 519.1,250.8 519.3,248.4 519.5,246.4 519.8,242.9 520.3,240.3 520.3,238.7 520.7,237.9 521.3,235.6 521.3,236.0 521.8,238.0 522.0,239.2 522.6,240.9 522.8,242.3 523.2,243.3 523.5,247.1 524.0,249.7 524.2,252.7 524.7,250.8 524.9,247.3 525.0,245.9 525.6,243.5 526.0,241.6 526.3,236.4 526.6,241.5 526.8,244.0 527.4,247.5 527.8,248.8 527.9,250.3 528.5,252.5 529.0,251.7 529.2,248.4 529.6,245.3 529.9,248.8 530.2,248.0 530.7,249.1 531.0,247.2 531.4,243.0 531.6,240.0 532.0,242.7 532.3,237.5 532.7,237.6 533.0,240.4 533.4,243.0 533.7,245.5 534.1,248.9 534.4,252.1 534.7,255.1 534.9,258.9 534.9,261.3 535.4,263.1 535.4,266.4 535.3,268.2 535.8,272.9 536.0,274.3 536.3,276.4 536.2,274.4 536.4,271.6 536.5,268.2 536.7,265.9 536.4,262.4 536.8,260.1 537.0,254.9 536.8,252.0 536.8,250.3 537.3,248.4 537.3,244.1 537.3,238.6 537.5,237.8 537.6,234.8 537.9,237.7 538.1,241.6 538.4,243.2 538.8,246.5 538.8,249.8 539.3,253.8 539.8,256.1 539.9,253.0 540.1,250.4 540.4,247.1 540.5,243.0 540.8,240.3 541.2,239.8 541.2,248.3 541.6,250.4 541.9,252.4 542.0,255.8 542.6,257.9 542.9,261.5 543.3,260.5 543.8,257.9 543.8,259.6 544.0,255.0 544.1,251.3 544.9,248.3 545.1,246.8 545.4,244.5 545.5,242.0 546.0,239.9 546.5,237.0 546.5,235.2 547.0,235.1 547.5,238.3 547.9,240.9 548.3,243.9 548.6,246.9 548.9,249.3 549.1,250.3 549.5,247.3 549.9,245.1 550.4,244.2 550.7,240.7 551.1,241.0 551.4,236.1 551.8,238.8 551.9,241.1 552.5,244.7 552.9,242.8 553.2,245.2 553.4,245.7 554.0,243.1 554.3,241.1 554.4,237.9 555.1,239.9 555.2,241.8 555.6,244.5 556.1,246.3 556.2,248.3 556.6,250.4 556.7,254.2 557.1,257.4 557.1,260.0 557.0,261.2 557.2,265.4 557.5,271.7 557.5,272.3 558.0,275.0 557.9,271.5 558.2,269.0 558.4,262.5 558.8,264.2 558.7,258.6 559.2,257.7 559.4,255.3 559.6,252.4 559.9,254.4 560.2,260.5 560.2,260.2 560.5,262.9 560.6,267.8 560.9,268.4 561.1,271.7 561.3,272.5 561.4,274.9 561.5,277.2 561.7,277.4 562.2,274.5 562.4,270.8 562.6,266.8 563.1,263.9 563.4,260.0 563.6,256.8 564.1,256.7 564.3,254.0 564.9,252.7 565.1,255.0 565.3,257.7 565.7,263.7 565.7,258.1 566.2,255.8 566.5,253.6 566.5,249.7 566.7,247.1 567.1,244.4 567.7,239.3 568.2,237.2 568.3,238.2 568.7,240.1 569.0,241.3 569.3,244.6 569.7,247.0 570.0,249.4 570.1,251.0 570.1,255.9 570.9,257.4 571.2,258.3 571.3,261.5 571.5,264.4 571.9,266.5 572.0,264.6 572.3,261.4 572.7,258.3 573.1,255.7 572.9,257.6 573.6,255.9 574.1,259.6 574.3,257.4 574.6,253.2 575.0,251.5 575.2,252.9 575.6,252.1 576.2,258.6 576.5,255.8 576.9,251.3 577.2,247.3 577.5,250.8 578.0,253.8 578.1,257.1 578.7,256.6 578.8,250.3 579.1,246.5 579.7,249.8 580.0,255.0 580.3,254.4 580.5,251.8 580.6,248.4 580.9,246.7 581.3,243.0 581.3,240.6 581.6,244.0 582.0,247.8 582.0,251.4 582.3,254.7 582.7,250.2 582.9,247.7 582.9,244.4 583.0,242.1 583.1,236.4 583.5,234.1 583.7,236.7 583.9,240.7 584.1,243.5 584.3,245.9 584.9,247.8 585.2,251.1 585.5,253.2 585.9,249.9 586.2,246.3 586.6,242.2 586.9,241.7 587.1,240.0 587.7,238.3 588.1,239.6 588.5,240.8 588.6,241.4 589.2,241.3 589.5,240.8 589.7,240.7 590.2,243.2 590.5,245.4 590.8,248.4 591.0,245.4 591.4,242.4 591.9,241.4 592.1,241.8 592.6,244.7 592.8,247.6 593.3,245.8 593.6,246.2 593.8,247.5 594.4,243.8 594.5,243.8 595.1,244.0 595.2,244.8 595.3,248.1 595.7,251.9 595.8,252.9 595.9,256.6 596.2,260.6 596.2,255.6 596.4,253.4 596.8,251.2 597.0,247.0 597.2,242.7 597.5,246.8 597.8,250.7 598.1,253.3 598.4,249.6 598.8,243.4 599.0,243.2 599.2,241.0 599.8,238.0 600.1,237.4 600.3,234.2 600.4,235.9 600.3,238.5 600.7,242.5 600.9,245.1 601.1,248.2 600.9,250.3 601.5,250.2 601.8,248.4 602.2,248.1 602.3,252.1 602.5,257.5 602.5,256.5 602.6,261.1 602.7,264.2 602.9,266.9 603.3,267.0 603.4,266.7 603.5,263.0 603.5,260.5 603.8,257.1 604.1,253.1 604.1,250.2 604.0,247.4 604.4,250.9 604.8,253.0 605.2,256.8 605.8,254.1 606.2,252.9 606.3,251.6 606.8,253.5 606.6,257.0 607.0,260.1 607.5,264.2 607.6,262.1 607.8,258.9 608.1,255.2 608.3,252.2 608.2,247.1 608.8,251.2 609.2,254.1 609.6,256.1 609.9,255.7 610.1,262.0 610.5,266.0 610.9,262.1 611.2,259.7 611.3,256.8 611.5,253.4 611.9,252.8 612.5,248.5 612.6,246.4 613.0,250.0 612.9,251.6 613.1,254.8 613.4,259.4 613.6,262.9 613.8,265.5 613.9,268.1 614.3,270.4 614.6,272.3 615.1,274.8 615.0,278.2 615.4,280.5 615.8,277.6 616.1,274.7 616.2,271.0 616.3,269.1 616.6,265.3 616.6,263.7 616.6,260.8 617.3,254.6 617.7,254.8 618.0,252.7 618.2,249.7 618.7,248.5 619.0,246.2 619.3,243.3 619.8,242.7 620.2,239.5 620.7,238.5 620.8,233.9 621.3,235.1 621.5,237.1 622.0,237.3 622.1,236.8 622.5,237.6 623.1,240.9 623.2,241.1 623.6,242.8 623.9,245.7 624.4,245.9 624.8,251.1 625.1,251.4 625.4,255.6 625.6,249.1 625.6,244.4 626.0,243.9 626.2,245.0 626.9,248.3 627.0,251.0 627.2,253.5 627.3,257.5 627.4,260.8 627.8,264.0 627.7,266.7 627.7,269.6 627.8,272.3 627.8,274.7 628.2,272.5 628.4,270.6 628.9,271.1 629.2,271.2 629.6,274.5 629.9,277.4 630.1,280.0 630.2,281.9 630.5,285.1 630.4,288.0 630.6,290.2 630.6,294.1 630.8,290.7 631.2,288.9 631.3,285.9 631.5,282.0 631.6,280.0 632.0,277.8 632.6,275.9 632.8,277.4 633.2,278.1 633.5,282.9" fill="none" stroke="#87ceeb" stroke-width="1.3" stroke-linejoin="round" stroke-linecap="butt" />
</g>
<text x="41.4" y="223.30" font-size="17.15">b) OISST @ 0.125°E,80.125°N</text>
<text x="33.6" y="235.90" font-size="14" text-anchor="end">2</text>
<text x="33.6" y="272.81" font-size="14" text-anchor="end">1</text>
<text x="33.6" y="309.73" font-size="14" text-anchor="end">0</text>
<text x="33.6" y="346.64" font-size="14" text-anchor="end">−1</text>
<text x="33.6" y="383.55" font-size="14" text-anchor="end">−2</text>
<text x="664.6" y="235.90" font-size="14" text-anchor="end">100</text>
<text x="664.6" y="265.43" font-size="14" text-anchor="end">80</text>
<text x="664.6" y="294.96" font-size="14" text-anchor="end">60</text>
<text x="664.6" y="324.49" font-size="14" text-anchor="end">40</text>
<text x="664.6" y="354.02" font-size="14" text-anchor="end">20</text>
<text x="664.6" y="383.55" font-size="14" text-anchor="end">0</text>
<text x="32.50" y="397.35" font-size="14">Jan</text>
<text x="67.86" y="397.35" font-size="14">Jul</text>
<text x="74.16" y="409.45" font-size="12.5" text-anchor="middle">2000</text>
<text x="98.39" y="397.35" font-size="14">Jan</text>
<text x="133.57" y="397.35" font-size="14">Jul</text>
<text x="139.87" y="409.45" font-size="12.5" text-anchor="middle">2001</text>
<text x="164.09" y="397.35" font-size="14">Jan</text>
<text x="199.28" y="397.35" font-size="14">Jul</text>
<text x="205.58" y="409.45" font-size="12.5" text-anchor="middle">2002</text>
<text x="229.80" y="397.35" font-size="14">Jan</text>
<text x="264.98" y="397.35" font-size="14">Jul</text>
<text x="271.28" y="409.45" font-size="12.5" text-anchor="middle">2003</text>
<text x="295.51" y="397.35" font-size="14">Jan</text>
<text x="330.87" y="397.35" font-size="14">Jul</text>
<text x="337.17" y="409.45" font-size="12.5" text-anchor="middle">2004</text>
<text x="361.39" y="397.35" font-size="14">Jan</text>
<text x="396.58" y="397.35" font-size="14">Jul</text>
<text x="402.88" y="409.45" font-size="12.5" text-anchor="middle">2005</text>
<text x="427.10" y="397.35" font-size="14">Jan</text>
<text x="462.28" y="397.35" font-size="14">Jul</text>
<text x="468.58" y="409.45" font-size="12.5" text-anchor="middle">2006</text>
<text x="492.81" y="397.35" font-size="14">Jan</text>
<text x="527.99" y="397.35" font-size="14">Jul</text>
<text x="534.29" y="409.45" font-size="12.5" text-anchor="middle">2007</text>
<text x="558.51" y="397.35" font-size="14">Jan</text>
<text x="593.88" y="397.35" font-size="14">Jul</text>
<text x="600.18" y="409.45" font-size="12.5" text-anchor="middle">2008</text>
<text transform="translate(10.9 305.23) rotate(-90)" font-size="15.15" text-anchor="middle">Temperature (°C)</text>
<text transform="translate(682.0 305.03) rotate(-90)" font-size="15" text-anchor="middle">Sea ice concentration (%)</text>
</g>
<g>
<path d="M41.00 588.90v16.50M41.00 441.25v-13.50" stroke="#000" stroke-width="0.6" fill="none"/>
<path d="M46.58 588.90v2.60M46.58 441.25v-2.60" stroke="#000" stroke-width="0.7" fill="none"/>
<path d="M51.62 588.90v2.60M51.62 441.25v-2.60" stroke="#000" stroke-width="0.7" fill="none"/>
<path d="M57.21 588.90v2.60M57.21 441.25v-2.60" stroke="#000" stroke-width="0.7" fill="none"/>
<path d="M62.61 588.90v2.60M62.61 441.25v-2.60" stroke="#000" stroke-width="0.7" fill="none"/>
<path d="M68.19 588.90v2.60M68.19 441.25v-2.60" stroke="#000" stroke-width="0.7" fill="none"/>
<path d="M73.59 588.90v5.00M73.59 441.25v-5.00" stroke="#000" stroke-width="0.9" fill="none"/>
<path d="M79.18 588.90v2.60M79.18 441.25v-2.60" stroke="#000" stroke-width="0.7" fill="none"/>
<path d="M84.76 588.90v2.60M84.76 441.25v-2.60" stroke="#000" stroke-width="0.7" fill="none"/>
<path d="M90.16 588.90v2.60M90.16 441.25v-2.60" stroke="#000" stroke-width="0.7" fill="none"/>
<path d="M95.74 588.90v2.60M95.74 441.25v-2.60" stroke="#000" stroke-width="0.7" fill="none"/>
<path d="M101.14 588.90v2.60M101.14 441.25v-2.60" stroke="#000" stroke-width="0.7" fill="none"/>
<path d="M106.73 588.90v16.50M106.73 441.25v-13.50" stroke="#000" stroke-width="0.6" fill="none"/>
<path d="M112.31 588.90v2.60M112.31 441.25v-2.60" stroke="#000" stroke-width="0.7" fill="none"/>
<path d="M117.35 588.90v2.60M117.35 441.25v-2.60" stroke="#000" stroke-width="0.7" fill="none"/>
<path d="M122.93 588.90v2.60M122.93 441.25v-2.60" stroke="#000" stroke-width="0.7" fill="none"/>
<path d="M128.34 588.90v2.60M128.34 441.25v-2.60" stroke="#000" stroke-width="0.7" fill="none"/>
<path d="M133.92 588.90v2.60M133.92 441.25v-2.60" stroke="#000" stroke-width="0.7" fill="none"/>
<path d="M139.32 588.90v5.00M139.32 441.25v-5.00" stroke="#000" stroke-width="0.9" fill="none"/>
<path d="M144.90 588.90v2.60M144.90 441.25v-2.60" stroke="#000" stroke-width="0.7" fill="none"/>
<path d="M150.48 588.90v2.60M150.48 441.25v-2.60" stroke="#000" stroke-width="0.7" fill="none"/>
<path d="M155.89 588.90v2.60M155.89 441.25v-2.60" stroke="#000" stroke-width="0.7" fill="none"/>
<path d="M161.47 588.90v2.60M161.47 441.25v-2.60" stroke="#000" stroke-width="0.7" fill="none"/>
<path d="M166.87 588.90v2.60M166.87 441.25v-2.60" stroke="#000" stroke-width="0.7" fill="none"/>
<path d="M172.45 588.90v16.50M172.45 441.25v-13.50" stroke="#000" stroke-width="0.6" fill="none"/>
<path d="M178.04 588.90v2.60M178.04 441.25v-2.60" stroke="#000" stroke-width="0.7" fill="none"/>
<path d="M183.26 588.90v2.60M183.26 441.25v-2.60" stroke="#000" stroke-width="0.7" fill="none"/>
<path d="M188.84 588.90v2.60M188.84 441.25v-2.60" stroke="#000" stroke-width="0.7" fill="none"/>
<path d="M194.24 588.90v2.60M194.24 441.25v-2.60" stroke="#000" stroke-width="0.7" fill="none"/>
<path d="M199.82 588.90v2.60M199.82 441.25v-2.60" stroke="#000" stroke-width="0.7" fill="none"/>
<path d="M205.23 588.90v5.00M205.23 441.25v-5.00" stroke="#000" stroke-width="0.9" fill="none"/>
<path d="M210.81 588.90v2.60M210.81 441.25v-2.60" stroke="#000" stroke-width="0.7" fill="none"/>
<path d="M216.39 588.90v2.60M216.39 441.25v-2.60" stroke="#000" stroke-width="0.7" fill="none"/>
<path d="M221.79 588.90v2.60M221.79 441.25v-2.60" stroke="#000" stroke-width="0.7" fill="none"/>
<path d="M227.38 588.90v2.60M227.38 441.25v-2.60" stroke="#000" stroke-width="0.7" fill="none"/>
<path d="M232.78 588.90v2.60M232.78 441.25v-2.60" stroke="#000" stroke-width="0.7" fill="none"/>
<path d="M238.36 588.90v16.50M238.36 441.25v-13.50" stroke="#000" stroke-width="0.6" fill="none"/>
<path d="M243.94 588.90v2.60M243.94 441.25v-2.60" stroke="#000" stroke-width="0.7" fill="none"/>
<path d="M248.98 588.90v2.60M248.98 441.25v-2.60" stroke="#000" stroke-width="0.7" fill="none"/>
<path d="M254.57 588.90v2.60M254.57 441.25v-2.60" stroke="#000" stroke-width="0.7" fill="none"/>
<path d="M259.97 588.90v2.60M259.97 441.25v-2.60" stroke="#000" stroke-width="0.7" fill="none"/>
<path d="M265.55 588.90v2.60M265.55 441.25v-2.60" stroke="#000" stroke-width="0.7" fill="none"/>
<path d="M270.95 588.90v5.00M270.95 441.25v-5.00" stroke="#000" stroke-width="0.9" fill="none"/>
<path d="M276.54 588.90v2.60M276.54 441.25v-2.60" stroke="#000" stroke-width="0.7" fill="none"/>
<path d="M282.12 588.90v2.60M282.12 441.25v-2.60" stroke="#000" stroke-width="0.7" fill="none"/>
<path d="M287.52 588.90v2.60M287.52 441.25v-2.60" stroke="#000" stroke-width="0.7" fill="none"/>
<path d="M293.10 588.90v2.60M293.10 441.25v-2.60" stroke="#000" stroke-width="0.7" fill="none"/>
<path d="M298.50 588.90v2.60M298.50 441.25v-2.60" stroke="#000" stroke-width="0.7" fill="none"/>
<path d="M304.09 588.90v16.50M304.09 441.25v-13.50" stroke="#000" stroke-width="0.6" fill="none"/>
<path d="M309.67 588.90v2.60M309.67 441.25v-2.60" stroke="#000" stroke-width="0.7" fill="none"/>
<path d="M314.71 588.90v2.60M314.71 441.25v-2.60" stroke="#000" stroke-width="0.7" fill="none"/>
<path d="M320.29 588.90v2.60M320.29 441.25v-2.60" stroke="#000" stroke-width="0.7" fill="none"/>
<path d="M325.70 588.90v2.60M325.70 441.25v-2.60" stroke="#000" stroke-width="0.7" fill="none"/>
<path d="M331.28 588.90v2.60M331.28 441.25v-2.60" stroke="#000" stroke-width="0.7" fill="none"/>
<path d="M336.68 588.90v5.00M336.68 441.25v-5.00" stroke="#000" stroke-width="0.9" fill="none"/>
<path d="M342.26 588.90v2.60M342.26 441.25v-2.60" stroke="#000" stroke-width="0.7" fill="none"/>
<path d="M347.84 588.90v2.60M347.84 441.25v-2.60" stroke="#000" stroke-width="0.7" fill="none"/>
<path d="M353.25 588.90v2.60M353.25 441.25v-2.60" stroke="#000" stroke-width="0.7" fill="none"/>
<path d="M358.83 588.90v2.60M358.83 441.25v-2.60" stroke="#000" stroke-width="0.7" fill="none"/>
<path d="M364.23 588.90v2.60M364.23 441.25v-2.60" stroke="#000" stroke-width="0.7" fill="none"/>
<path d="M369.81 588.90v16.50M369.81 441.25v-13.50" stroke="#000" stroke-width="0.6" fill="none"/>
<path d="M375.40 588.90v2.60M375.40 441.25v-2.60" stroke="#000" stroke-width="0.7" fill="none"/>
<path d="M380.44 588.90v2.60M380.44 441.25v-2.60" stroke="#000" stroke-width="0.7" fill="none"/>
<path d="M386.02 588.90v2.60M386.02 441.25v-2.60" stroke="#000" stroke-width="0.7" fill="none"/>
<path d="M391.42 588.90v2.60M391.42 441.25v-2.60" stroke="#000" stroke-width="0.7" fill="none"/>
<path d="M397.00 588.90v2.60M397.00 441.25v-2.60" stroke="#000" stroke-width="0.7" fill="none"/>
<path d="M402.41 588.90v5.00M402.41 441.25v-5.00" stroke="#000" stroke-width="0.9" fill="none"/>
<path d="M407.99 588.90v2.60M407.99 441.25v-2.60" stroke="#000" stroke-width="0.7" fill="none"/>
<path d="M413.57 588.90v2.60M413.57 441.25v-2.60" stroke="#000" stroke-width="0.7" fill="none"/>
<path d="M418.97 588.90v2.60M418.97 441.25v-2.60" stroke="#000" stroke-width="0.7" fill="none"/>
<path d="M424.56 588.90v2.60M424.56 441.25v-2.60" stroke="#000" stroke-width="0.7" fill="none"/>
<path d="M429.96 588.90v2.60M429.96 441.25v-2.60" stroke="#000" stroke-width="0.7" fill="none"/>
<path d="M435.54 588.90v16.50M435.54 441.25v-13.50" stroke="#000" stroke-width="0.6" fill="none"/>
<path d="M441.12 588.90v2.60M441.12 441.25v-2.60" stroke="#000" stroke-width="0.7" fill="none"/>
<path d="M446.34 588.90v2.60M446.34 441.25v-2.60" stroke="#000" stroke-width="0.7" fill="none"/>
<path d="M451.93 588.90v2.60M451.93 441.25v-2.60" stroke="#000" stroke-width="0.7" fill="none"/>
<path d="M457.33 588.90v2.60M457.33 441.25v-2.60" stroke="#000" stroke-width="0.7" fill="none"/>
<path d="M462.91 588.90v2.60M462.91 441.25v-2.60" stroke="#000" stroke-width="0.7" fill="none"/>
<path d="M468.31 588.90v5.00M468.31 441.25v-5.00" stroke="#000" stroke-width="0.9" fill="none"/>
<path d="M473.90 588.90v2.60M473.90 441.25v-2.60" stroke="#000" stroke-width="0.7" fill="none"/>
<path d="M479.48 588.90v2.60M479.48 441.25v-2.60" stroke="#000" stroke-width="0.7" fill="none"/>
<path d="M484.88 588.90v2.60M484.88 441.25v-2.60" stroke="#000" stroke-width="0.7" fill="none"/>
<path d="M490.46 588.90v2.60M490.46 441.25v-2.60" stroke="#000" stroke-width="0.7" fill="none"/>
<path d="M495.86 588.90v2.60M495.86 441.25v-2.60" stroke="#000" stroke-width="0.7" fill="none"/>
<path d="M501.45 588.90v16.50M501.45 441.25v-13.50" stroke="#000" stroke-width="0.6" fill="none"/>
<path d="M507.03 588.90v2.60M507.03 441.25v-2.60" stroke="#000" stroke-width="0.7" fill="none"/>
<path d="M512.07 588.90v2.60M512.07 441.25v-2.60" stroke="#000" stroke-width="0.7" fill="none"/>
<path d="M517.65 588.90v2.60M517.65 441.25v-2.60" stroke="#000" stroke-width="0.7" fill="none"/>
<path d="M523.06 588.90v2.60M523.06 441.25v-2.60" stroke="#000" stroke-width="0.7" fill="none"/>
<path d="M528.64 588.90v2.60M528.64 441.25v-2.60" stroke="#000" stroke-width="0.7" fill="none"/>
<path d="M534.04 588.90v5.00M534.04 441.25v-5.00" stroke="#000" stroke-width="0.9" fill="none"/>
<path d="M539.62 588.90v2.60M539.62 441.25v-2.60" stroke="#000" stroke-width="0.7" fill="none"/>
<path d="M545.20 588.90v2.60M545.20 441.25v-2.60" stroke="#000" stroke-width="0.7" fill="none"/>
<path d="M550.61 588.90v2.60M550.61 441.25v-2.60" stroke="#000" stroke-width="0.7" fill="none"/>
<path d="M556.19 588.90v2.60M556.19 441.25v-2.60" stroke="#000" stroke-width="0.7" fill="none"/>
<path d="M561.59 588.90v2.60M561.59 441.25v-2.60" stroke="#000" stroke-width="0.7" fill="none"/>
<path d="M567.17 588.90v16.50M567.17 441.25v-13.50" stroke="#000" stroke-width="0.6" fill="none"/>
<path d="M572.76 588.90v2.60M572.76 441.25v-2.60" stroke="#000" stroke-width="0.7" fill="none"/>
<path d="M577.80 588.90v2.60M577.80 441.25v-2.60" stroke="#000" stroke-width="0.7" fill="none"/>
<path d="M583.38 588.90v2.60M583.38 441.25v-2.60" stroke="#000" stroke-width="0.7" fill="none"/>
<path d="M588.78 588.90v2.60M588.78 441.25v-2.60" stroke="#000" stroke-width="0.7" fill="none"/>
<path d="M594.36 588.90v2.60M594.36 441.25v-2.60" stroke="#000" stroke-width="0.7" fill="none"/>
<path d="M599.77 588.90v5.00M599.77 441.25v-5.00" stroke="#000" stroke-width="0.9" fill="none"/>
<path d="M605.35 588.90v2.60M605.35 441.25v-2.60" stroke="#000" stroke-width="0.7" fill="none"/>
<path d="M610.93 588.90v2.60M610.93 441.25v-2.60" stroke="#000" stroke-width="0.7" fill="none"/>
<path d="M616.33 588.90v2.60M616.33 441.25v-2.60" stroke="#000" stroke-width="0.7" fill="none"/>
<path d="M621.92 588.90v2.60M621.92 441.25v-2.60" stroke="#000" stroke-width="0.7" fill="none"/>
<path d="M627.32 588.90v2.60M627.32 441.25v-2.60" stroke="#000" stroke-width="0.7" fill="none"/>
<path d="M41.00 441.25h-5.00" stroke="#000" stroke-width="0.9"/>
<path d="M41.00 448.63h-2.20" stroke="#000" stroke-width="0.7"/>
<path d="M41.00 456.01h-2.20" stroke="#000" stroke-width="0.7"/>
<path d="M41.00 463.40h-2.20" stroke="#000" stroke-width="0.7"/>
<path d="M41.00 470.78h-2.20" stroke="#000" stroke-width="0.7"/>
<path d="M41.00 478.16h-5.00" stroke="#000" stroke-width="0.9"/>
<path d="M41.00 485.55h-2.20" stroke="#000" stroke-width="0.7"/>
<path d="M41.00 492.93h-2.20" stroke="#000" stroke-width="0.7"/>
<path d="M41.00 500.31h-2.20" stroke="#000" stroke-width="0.7"/>
<path d="M41.00 507.69h-2.20" stroke="#000" stroke-width="0.7"/>
<path d="M41.00 515.08h-5.00" stroke="#000" stroke-width="0.9"/>
<path d="M41.00 522.46h-2.20" stroke="#000" stroke-width="0.7"/>
<path d="M41.00 529.84h-2.20" stroke="#000" stroke-width="0.7"/>
<path d="M41.00 537.22h-2.20" stroke="#000" stroke-width="0.7"/>
<path d="M41.00 544.61h-2.20" stroke="#000" stroke-width="0.7"/>
<path d="M41.00 551.99h-5.00" stroke="#000" stroke-width="0.9"/>
<path d="M41.00 559.37h-2.20" stroke="#000" stroke-width="0.7"/>
<path d="M41.00 566.75h-2.20" stroke="#000" stroke-width="0.7"/>
<path d="M41.00 574.13h-2.20" stroke="#000" stroke-width="0.7"/>
<path d="M41.00 581.52h-2.20" stroke="#000" stroke-width="0.7"/>
<path d="M41.00 588.90h-5.00" stroke="#000" stroke-width="0.9"/>
<path d="M632.90 441.25h5.00" stroke="#000" stroke-width="0.9"/>
<path d="M632.90 456.01h2.20" stroke="#000" stroke-width="0.7"/>
<path d="M632.90 470.78h5.00" stroke="#000" stroke-width="0.9"/>
<path d="M632.90 485.55h2.20" stroke="#000" stroke-width="0.7"/>
<path d="M632.90 500.31h5.00" stroke="#000" stroke-width="0.9"/>
<path d="M632.90 515.08h2.20" stroke="#000" stroke-width="0.7"/>
<path d="M632.90 529.84h5.00" stroke="#000" stroke-width="0.9"/>
<path d="M632.90 544.61h2.20" stroke="#000" stroke-width="0.7"/>
<path d="M632.90 559.37h5.00" stroke="#000" stroke-width="0.9"/>
<path d="M632.90 574.13h2.20" stroke="#000" stroke-width="0.7"/>
<path d="M632.90 588.90h5.00" stroke="#000" stroke-width="0.9"/>
<rect x="41.00" y="441.25" width="591.90" height="147.65" fill="none" stroke="#000" stroke-width="1.6"/>
<clipPath id="c2"><rect x="40.50" y="440.45" width="592.90" height="149.25"/></clipPath>
<g clip-path="url(#c2)">
<polyline points="41.5,573.9 44.1,574.6 46.1,574.4 48.7,573.9 50.7,574.9 52.8,576.9 55.3,579.0 57.9,579.7 60.4,580.0 63.0,579.8 65.5,578.8 68.1,577.9 70.6,577.2 72.7,575.9 74.7,572.8 76.2,568.7 77.8,563.1 79.3,557.5 80.8,552.4 82.4,547.3 83.9,543.2 84.9,542.7 86.5,544.7 88.0,549.3 89.5,555.5 91.0,561.6 92.6,567.2 94.1,571.8 95.6,574.9 97.7,576.9 99.7,577.4 101.3,576.4 102.8,574.4 104.3,573.3 106.4,573.3 107.2,573.9 109.8,574.6 111.9,574.4 114.4,573.9 116.4,574.9 118.5,576.9 121.0,579.0 123.6,579.7 126.1,580.0 128.7,579.8 131.2,578.8 133.8,577.9 136.4,577.2 138.4,575.9 140.4,572.8 142.0,568.7 143.5,563.1 145.0,557.5 146.6,552.4 148.1,547.3 149.6,543.2 150.6,542.7 152.2,544.7 153.7,549.3 155.2,555.5 156.8,561.6 158.3,567.2 159.8,571.8 161.4,574.9 163.4,576.9 165.4,577.4 167.0,576.4 168.5,574.4 170.0,573.3 172.1,573.3 173.0,573.9 175.5,574.6 177.6,574.4 180.2,573.9 182.2,574.9 184.2,576.9 186.8,579.0 189.4,579.7 191.9,580.0 194.5,579.8 197.0,578.8 199.6,577.9 202.2,577.2 204.2,575.9 206.3,572.8 207.8,568.7 209.3,563.1 210.9,557.5 212.4,552.4 213.9,547.3 215.5,543.2 216.5,542.7 218.0,544.7 219.6,549.3 221.1,555.5 222.6,561.6 224.2,567.2 225.7,571.8 227.2,574.9 229.3,576.9 231.3,577.4 232.9,576.4 234.4,574.4 235.9,573.3 238.0,573.3 238.9,573.9 241.4,574.6 243.5,574.4 246.0,573.9 248.1,574.9 250.1,576.9 252.7,579.0 255.2,579.7 257.8,580.0 260.3,579.8 262.9,578.8 265.4,577.9 268.0,577.2 270.0,575.9 272.1,572.8 273.6,568.7 275.1,563.1 276.7,557.5 278.2,552.4 279.7,547.3 281.3,543.2 282.3,542.7 283.8,544.7 285.3,549.3 286.9,555.5 288.4,561.6 289.9,567.2 291.5,571.8 293.0,574.9 295.0,576.9 297.1,577.4 298.6,576.4 300.1,574.4 301.7,573.3 303.7,573.3 304.6,573.9 307.2,574.6 309.2,574.4 311.8,573.9 313.8,574.9 315.8,576.9 318.4,579.0 321.0,579.7 323.5,580.0 326.1,579.8 328.6,578.8 331.2,577.9 333.7,577.2 335.8,575.9 337.8,572.8 339.3,568.7 340.9,563.1 342.4,557.5 343.9,552.4 345.5,547.3 347.0,543.2 348.0,542.7 349.5,544.7 351.1,549.3 352.6,555.5 354.1,561.6 355.7,567.2 357.2,571.8 358.7,574.9 360.8,576.9 362.8,577.4 364.3,576.4 365.9,574.4 367.4,573.3 369.4,573.3 370.3,573.9 372.9,574.6 374.9,574.4 377.5,573.9 379.5,574.9 381.6,576.9 384.1,579.0 386.7,579.7 389.2,580.0 391.8,579.8 394.3,578.8 396.9,577.9 399.4,577.2 401.5,575.9 403.5,572.8 405.1,568.7 406.6,563.1 408.1,557.5 409.6,552.4 411.2,547.3 412.7,543.2 413.7,542.7 415.3,544.7 416.8,549.3 418.3,555.5 419.9,561.6 421.4,567.2 422.9,571.8 424.5,574.9 426.5,576.9 428.5,577.4 430.1,576.4 431.6,574.4 433.1,573.3 435.2,573.3 436.0,573.9 438.6,574.6 440.7,574.4 443.2,573.9 445.3,574.9 447.3,576.9 449.9,579.0 452.5,579.7 455.0,580.0 457.6,579.8 460.1,578.8 462.7,577.9 465.2,577.2 467.3,575.9 469.3,572.8 470.9,568.7 472.4,563.1 473.9,557.5 475.5,552.4 477.0,547.3 478.6,543.2 479.6,542.7 481.1,544.7 482.7,549.3 484.2,555.5 485.7,561.6 487.3,567.2 488.8,571.8 490.3,574.9 492.4,576.9 494.4,577.4 496.0,576.4 497.5,574.4 499.0,573.3 501.1,573.3 501.9,573.9 504.5,574.6 506.6,574.4 509.1,573.9 511.2,574.9 513.2,576.9 515.8,579.0 518.3,579.7 520.9,580.0 523.4,579.8 526.0,578.8 528.5,577.9 531.1,577.2 533.1,575.9 535.2,572.8 536.7,568.7 538.2,563.1 539.8,557.5 541.3,552.4 542.8,547.3 544.3,543.2 545.4,542.7 546.9,544.7 548.4,549.3 550.0,555.5 551.5,561.6 553.0,567.2 554.6,571.8 556.1,574.9 558.1,576.9 560.2,577.4 561.7,576.4 563.2,574.4 564.8,573.3 566.8,573.3 567.7,573.9 570.3,574.6 572.3,574.4 574.9,573.9 576.9,574.9 578.9,576.9 581.5,579.0 584.0,579.7 586.6,580.0 589.1,579.8 591.7,578.8 594.2,577.9 596.8,577.2 598.8,575.9 600.9,572.8 602.4,568.7 603.9,563.1 605.5,557.5 607.0,552.4 608.5,547.3 610.1,543.2 611.1,542.7 612.6,544.7 614.2,549.3 615.7,555.5 617.2,561.6 618.7,567.2 620.3,571.8 621.8,574.9 623.9,576.9 625.9,577.4 627.4,576.4 629.0,574.4 630.5,573.3 632.5,573.3 632.9,573.9" fill="none" stroke="#3a762e" stroke-width="2.4" stroke-linejoin="round" stroke-linecap="butt" />
<polyline points="41.5,577.9 44.1,577.2 46.1,577.2 48.7,577.7 50.7,578.8 52.8,579.8 55.3,580.3 60.4,580.5 65.5,580.3 70.6,579.9 73.7,579.5 75.7,578.5 77.3,576.4 78.8,572.8 80.3,568.7 81.9,564.7 83.4,562.3 84.9,561.9 86.5,563.1 88.0,566.7 89.5,570.8 91.0,574.2 93.1,576.9 95.1,578.5 97.7,579.3 99.7,579.3 102.3,578.5 104.8,577.9 107.2,577.9 109.8,577.2 111.9,577.2 114.4,577.7 116.4,578.8 118.5,579.8 121.0,580.3 126.1,580.5 131.2,580.3 136.4,579.9 139.4,579.5 141.5,578.5 143.0,576.4 144.5,572.8 146.1,568.7 147.6,564.7 149.1,562.3 150.6,561.9 152.2,563.1 153.7,566.7 155.2,570.8 156.8,574.2 158.8,576.9 160.9,578.5 163.4,579.3 165.4,579.3 168.0,578.5 170.6,577.9 173.0,577.9 175.5,577.2 177.6,577.2 180.2,577.7 182.2,578.8 184.2,579.8 186.8,580.3 191.9,580.5 197.0,580.3 202.2,579.9 205.2,579.5 207.3,578.5 208.8,576.4 210.4,572.8 211.9,568.7 213.4,564.7 215.0,562.3 216.5,561.9 218.0,563.1 219.6,566.7 221.1,570.8 222.6,574.2 224.7,576.9 226.7,578.5 229.3,579.3 231.3,579.3 233.9,578.5 236.5,577.9 238.9,577.9 241.4,577.2 243.5,577.2 246.0,577.7 248.1,578.8 250.1,579.8 252.7,580.3 257.8,580.5 262.9,580.3 268.0,579.9 271.1,579.5 273.1,578.5 274.6,576.4 276.2,572.8 277.7,568.7 279.2,564.7 280.7,562.3 282.3,561.9 283.8,563.1 285.3,566.7 286.9,570.8 288.4,574.2 290.4,576.9 292.5,578.5 295.0,579.3 297.1,579.3 299.6,578.5 302.2,577.9 304.6,577.9 307.2,577.2 309.2,577.2 311.8,577.7 313.8,578.8 315.8,579.8 318.4,580.3 323.5,580.5 328.6,580.3 333.7,579.9 336.8,579.5 338.8,578.5 340.3,576.4 341.9,572.8 343.4,568.7 344.9,564.7 346.5,562.3 348.0,561.9 349.5,563.1 351.1,566.7 352.6,570.8 354.1,574.2 356.2,576.9 358.2,578.5 360.8,579.3 362.8,579.3 365.4,578.5 367.9,577.9 370.3,577.9 372.9,577.2 374.9,577.2 377.5,577.7 379.5,578.8 381.6,579.8 384.1,580.3 389.2,580.5 394.3,580.3 399.4,579.9 402.5,579.5 404.5,578.5 406.1,576.4 407.6,572.8 409.1,568.7 410.7,564.7 412.2,562.3 413.7,561.9 415.3,563.1 416.8,566.7 418.3,570.8 419.9,574.2 421.9,576.9 423.9,578.5 426.5,579.3 428.5,579.3 431.1,578.5 433.6,577.9 436.0,577.9 438.6,577.2 440.7,577.2 443.2,577.7 445.3,578.8 447.3,579.8 449.9,580.3 455.0,580.5 460.1,580.3 465.2,579.9 468.3,579.5 470.4,578.5 471.9,576.4 473.4,572.8 475.0,568.7 476.5,564.7 478.0,562.3 479.6,561.9 481.1,563.1 482.7,566.7 484.2,570.8 485.7,574.2 487.8,576.9 489.8,578.5 492.4,579.3 494.4,579.3 497.0,578.5 499.5,577.9 501.9,577.9 504.5,577.2 506.6,577.2 509.1,577.7 511.2,578.8 513.2,579.8 515.8,580.3 520.9,580.5 526.0,580.3 531.1,579.9 534.1,579.5 536.2,578.5 537.7,576.4 539.2,572.8 540.8,568.7 542.3,564.7 543.8,562.3 545.4,561.9 546.9,563.1 548.4,566.7 550.0,570.8 551.5,574.2 553.5,576.9 555.6,578.5 558.1,579.3 560.2,579.3 562.7,578.5 565.3,577.9 567.7,577.9 570.3,577.2 572.3,577.2 574.9,577.7 576.9,578.8 578.9,579.8 581.5,580.3 586.6,580.5 591.7,580.3 596.8,579.9 599.9,579.5 601.9,578.5 603.4,576.4 605.0,572.8 606.5,568.7 608.0,564.7 609.6,562.3 611.1,561.9 612.6,563.1 614.2,566.7 615.7,570.8 617.2,574.2 619.3,576.9 621.3,578.5 623.9,579.3 625.9,579.3 628.4,578.5 631.0,577.9 632.9,577.9" fill="none" stroke="#0000ff" stroke-width="2.6" stroke-linejoin="round" stroke-linecap="butt" />
<polyline points="41.6,581.0 47.0,581.0 52.3,581.0 53.4,579.2 54.1,573.9 54.8,569.5 55.5,575.7 56.2,580.1 57.6,581.3 66.4,581.3 75.2,581.3 77.7,581.0 78.8,577.4 79.8,570.4 80.9,566.9 81.6,570.4 82.3,577.4 83.3,580.4 85.8,581.3 92.9,581.3 101.7,581.0 110.5,581.5 117.5,581.0 119.3,580.1 121.1,581.0 124.6,580.6 127.2,580.1 129.9,581.0 138.7,581.3 145.4,581.0 146.8,579.2 147.8,570.4 148.9,559.8 150.0,556.3 150.7,547.5 151.5,539.6 152.4,549.3 153.1,566.9 154.2,577.4 155.2,580.6 157.2,581.3 159.8,581.3 160.0,581.0 161.8,581.0 162.8,580.1 163.5,573.0 164.2,581.0 167.0,581.3 169.9,581.0 170.6,563.3 171.3,531.6 172.0,552.8 172.7,559.8 173.4,549.3 174.1,544.0 174.8,552.8 175.5,563.3 176.2,572.2 176.9,570.4 177.6,545.7 178.3,510.5 179.0,499.9 179.7,519.3 180.4,544.0 181.1,563.3 182.2,573.9 183.3,579.2 184.7,581.0 186.4,579.2 188.2,581.3 195.2,581.3 204.1,581.0 206.2,579.2 207.6,576.6 209.0,573.9 210.4,576.6 211.8,579.2 213.7,581.0 218.1,581.5 221.7,581.0 222.7,577.4 223.8,581.0 225.6,579.2 227.0,581.0 228.7,579.2 230.5,581.5 232.2,579.2 233.3,573.9 234.4,579.2 235.4,575.7 236.1,563.3 236.8,554.5 237.5,561.6 238.6,556.3 239.3,566.9 240.4,575.7 241.4,576.6 242.8,577.4 244.6,578.3 246.7,580.1 247.8,573.9 248.8,576.6 249.9,580.1 251.6,581.3 258.7,581.3 265.7,581.3 272.8,581.3 275.2,581.0 275.9,570.4 276.7,563.3 277.7,559.8 278.0,560.5 278.9,560.5 279.6,553.4 280.3,555.8 281.1,560.5 281.8,541.7 282.5,513.5 282.9,493.5 283.4,513.5 283.9,544.0 284.3,555.8 284.8,548.7 285.3,544.0 285.8,555.8 286.2,581.6 286.9,565.2 287.6,569.9 288.3,571.0 289.0,569.9 289.7,574.6 290.5,580.4 291.2,586.3 291.9,582.8 292.6,579.3 293.3,576.9 294.0,579.3 294.7,578.1 295.4,576.9 296.1,571.0 296.6,574.6 297.0,582.8 297.7,579.3 298.4,576.9 299.1,560.5 299.6,548.7 300.1,555.8 300.6,562.8 301.0,560.5 301.5,565.2 302.0,551.1 302.4,539.3 302.9,555.8 303.4,562.8 304.1,558.1 304.8,560.5 305.5,555.8 306.2,560.5 306.7,555.8 307.1,525.2 307.6,524.1 308.1,548.7 308.5,572.2 309.2,576.9 309.9,574.6 310.7,576.9 311.4,573.4 312.1,575.7 312.8,572.8 313.5,576.9 314.2,579.3 314.9,582.8 315.6,580.4 316.3,579.3 317.0,578.1 317.7,576.9 318.4,572.2 319.1,567.5 319.6,566.3 320.0,574.6 320.8,578.1 321.5,579.3 322.2,578.1 322.9,579.3 323.6,580.4 324.3,578.1 325.0,580.4 325.7,579.3 326.4,580.4 327.1,582.8 327.8,581.6 328.5,584.0 329.2,582.8 329.7,588.1 330.1,582.8 330.6,576.9 331.1,569.9 331.8,567.5 332.5,569.9 333.2,568.7 333.9,572.2 334.6,576.9 335.3,578.1 336.0,576.9 336.7,578.1 337.4,579.3 338.1,579.9 338.8,580.4 339.5,581.0 340.3,580.4 341.0,576.9 341.7,572.2 342.4,567.5 343.1,562.8 343.8,559.3 344.5,555.8 345.2,551.1 345.9,545.2 346.6,540.5 347.3,537.0 348.0,535.8 348.4,535.2 349.1,531.6 349.8,520.2 350.5,544.0 351.5,545.7 352.2,552.8 353.3,563.3 354.4,572.2 355.8,579.2 357.2,581.0 357.9,588.0 358.6,579.2 359.6,575.7 360.7,571.3 361.8,573.9 362.8,566.9 363.5,552.8 364.2,519.3 364.9,499.9 365.6,501.7 366.3,526.3 367.0,538.7 367.8,552.8 368.8,566.9 369.9,573.9 371.3,576.6 372.3,575.7 373.4,579.2 374.1,588.0 374.8,566.9 375.5,510.5 376.0,454.1 376.6,492.9 377.3,531.6 378.0,529.9 378.7,552.8 379.4,573.9 380.4,579.2 382.2,581.0 384.0,580.1 385.7,579.2 386.4,566.9 387.1,575.7 387.8,581.0 388.9,579.2 389.6,567.8 390.3,579.2 391.4,568.6 392.1,581.0 394.5,581.3 399.8,581.0 400.0,563.3 400.7,579.2 401.4,563.3 402.1,566.9 402.8,579.2 404.2,581.0 407.0,581.3 410.6,581.0 412.3,579.2 413.0,570.4 413.7,552.8 414.1,544.0 414.8,581.0 415.5,572.2 416.2,561.6 416.6,543.1 417.3,566.9 418.0,573.9 419.0,579.2 420.4,581.0 422.9,581.5 426.4,581.3 430.0,581.0 433.5,580.1 435.2,581.0 437.0,575.7 437.7,570.4 438.4,579.2 439.5,575.7 440.5,580.1 442.3,577.4 443.3,579.2 444.4,572.2 445.5,577.4 446.5,580.1 449.3,581.0 452.9,581.0 455.7,580.6 456.7,579.2 457.8,581.0 459.2,579.2 459.9,570.4 460.6,581.0 463.4,581.3 467.0,581.0 469.8,579.2 470.5,566.9 471.2,563.3 471.9,579.2 473.0,577.4 474.0,579.2 475.4,575.7 476.5,566.9 477.5,563.3 478.0,560.4 478.8,555.2 479.6,552.6 480.4,561.8 481.2,573.6 481.9,581.5 482.7,570.9 483.5,561.8 484.3,570.9 485.1,578.8 485.9,551.2 486.7,565.7 487.5,573.6 488.2,584.1 489.0,588.0 489.8,573.6 490.6,549.9 491.1,534.2 491.7,549.9 492.5,557.8 493.2,561.8 494.0,568.3 494.8,578.8 495.6,573.6 496.4,580.1 497.2,573.6 498.0,556.5 498.5,549.3 499.0,561.8 499.8,573.6 500.6,568.3 501.4,578.8 502.2,552.6 503.0,532.8 503.5,523.0 504.0,539.4 504.5,555.2 505.1,573.6 505.6,589.3 506.1,573.6 506.6,557.8 507.2,539.4 507.7,527.6 508.2,517.1 508.7,539.4 509.3,563.1 509.8,573.6 510.3,561.8 510.8,568.3 511.6,578.8 512.4,586.7 513.2,578.8 514.0,570.9 514.8,576.2 515.6,580.1 516.4,573.6 517.2,578.8 517.9,565.7 518.5,561.8 519.0,573.6 519.8,555.2 520.3,531.5 520.8,507.9 521.4,531.5 521.9,519.7 522.4,543.4 522.9,563.1 523.5,570.9 524.2,578.8 525.0,573.6 525.8,578.8 526.6,576.2 527.4,570.9 528.2,577.5 529.0,571.6 529.8,577.5 530.6,570.9 531.3,577.5 532.1,573.6 532.9,578.8 533.7,580.1 534.5,576.2 535.0,552.6 535.5,537.4 536.1,543.4 536.6,559.1 537.4,567.0 538.2,563.1 539.0,557.8 539.8,560.4 540.5,555.2 541.3,552.6 542.1,549.9 542.9,543.4 543.7,549.9 544.5,560.4 545.3,555.2 546.1,563.1 546.6,555.2 547.1,539.4 547.6,526.3 548.2,530.2 548.7,513.1 549.2,502.6 549.7,500.7 550.3,515.8 550.8,532.8 551.3,543.4 551.8,552.6 552.4,543.4 552.9,526.3 553.4,539.4 553.9,522.3 554.5,532.8 555.0,513.1 555.5,500.7 556.0,507.9 556.6,513.1 557.1,539.4 557.6,555.2 558.1,573.6 558.7,555.2 559.2,539.4 559.7,523.6 560.0,518.8 560.5,552.4 561.0,570.5 561.6,587.3 562.1,578.2 562.6,560.1 563.1,549.2 563.6,562.7 564.1,573.1 564.7,578.2 565.2,569.2 565.7,557.6 566.2,567.9 567.0,578.2 567.8,580.8 568.5,582.1 569.3,580.8 570.1,570.5 570.6,560.1 571.1,549.8 571.6,552.4 572.2,570.5 572.7,580.8 573.4,586.0 574.2,582.1 575.0,578.2 575.8,575.7 576.5,578.2 577.3,579.5 578.1,580.8 578.9,582.1 579.6,579.5 580.4,573.1 580.9,570.5 581.5,578.2 582.2,581.5 583.3,582.1 585.9,582.1 588.4,582.1 591.0,582.1 593.1,581.5 593.6,578.2 594.1,562.7 594.6,554.3 595.2,578.2 595.9,581.5 597.5,582.1 600.1,582.1 601.6,580.8 602.1,570.5 602.7,558.9 603.2,573.1 604.0,575.7 604.7,570.5 605.5,567.9 606.3,562.7 606.8,557.6 607.3,555.0 607.8,542.0 608.3,505.9 608.9,480.0 609.4,492.9 609.9,534.3 610.4,569.2 610.9,552.4 611.4,529.1 612.0,520.1 612.5,544.6 613.0,573.1 613.5,557.6 614.0,562.7 614.6,570.5 615.1,547.2 615.6,531.7 616.1,522.7 616.6,503.3 617.1,534.3 617.7,557.6 618.2,549.8 618.7,542.0 619.2,547.2 619.7,522.7 620.2,544.6 620.8,562.7 621.3,570.5 621.8,575.7 622.6,579.5 623.3,581.5 624.6,580.8 625.9,579.5 626.7,570.5 627.2,557.6 627.7,570.5 628.5,579.5 629.8,580.8 631.1,581.5 632.4,580.8 632.8,581.0" fill="none" stroke="#ff0000" stroke-width="1.1" stroke-linejoin="round" stroke-linecap="butt" />
<polyline points="41.6,475.6 41.9,471.1 41.9,467.7 42.3,463.7 42.0,460.1 42.5,458.8 42.9,454.8 43.0,450.3 43.5,449.3 43.7,451.5 44.1,454.3 44.1,457.4 44.3,458.2 44.7,463.7 44.9,459.4 44.9,459.6 45.0,457.0 45.3,450.9 45.5,455.1 45.9,458.8 45.9,460.2 46.2,460.0 46.3,466.1 46.6,470.0 46.7,473.3 47.0,474.8 47.2,479.4 47.2,481.5 47.5,483.5 48.1,485.1 48.4,486.3 48.6,483.5 49.1,482.6 49.3,478.9 49.5,475.7 49.8,473.2 50.0,469.2 50.0,466.9 50.2,464.2 50.4,460.6 50.4,458.2 51.0,456.4 51.3,455.8 51.7,456.7 51.6,461.2 51.9,463.1 52.2,466.5 51.9,469.5 51.9,473.7 52.1,475.8 52.4,478.9 52.6,481.2 52.5,484.5 52.6,487.3 52.8,491.8 52.8,494.1 53.0,496.7 53.0,499.9 53.2,502.6 53.3,505.5 53.5,505.9 53.7,511.4 53.7,514.8 53.8,516.5 53.9,519.8 54.0,521.0 54.1,525.7 54.5,527.9 54.5,532.4 54.4,534.9 54.6,531.2 54.7,528.5 54.6,526.9 55.0,519.9 54.9,519.1 55.1,516.8 55.2,513.8 55.2,510.7 55.1,507.2 55.4,504.1 55.5,502.3 55.4,498.5 55.6,499.6 56.0,493.1 56.2,490.7 56.1,486.8 56.1,483.9 56.2,481.4 56.5,478.7 56.9,475.8 57.2,470.1 57.4,470.0 57.5,467.0 57.9,463.0 58.2,460.5 58.3,456.7 58.7,457.2 59.1,461.1 59.4,463.4 59.9,460.0 60.0,456.7 60.5,455.0 60.6,451.4 61.1,447.8 61.7,444.5 61.6,447.6 62.0,452.1 62.4,453.2 62.5,457.3 62.7,461.1 62.9,463.3 63.3,463.4 63.4,469.1 63.5,473.1 63.9,470.8 64.0,466.8 64.1,464.3 64.3,461.3 64.7,458.1 64.7,455.8 65.2,457.8 65.3,459.5 65.6,465.3 66.2,459.8 66.2,457.3 67.0,453.2 67.0,457.6 67.3,459.9 67.5,464.9 67.9,466.2 68.3,463.9 68.5,461.9 68.9,459.4 69.3,463.0 69.7,466.5 70.1,469.2 70.4,469.1 70.6,468.1 71.1,466.9 71.2,472.8 71.6,468.8 71.8,475.4 71.9,477.3 72.2,475.1 72.9,474.8 73.1,470.1 73.5,474.3 73.4,476.6 73.8,480.4 74.0,482.7 74.1,486.0 74.5,482.1 75.1,482.3 75.0,478.5 75.3,482.3 75.7,485.7 76.2,487.3 76.4,490.6 76.6,492.9 77.0,496.0 77.5,498.7 77.4,501.8 77.8,503.0 77.6,508.0 78.2,510.9 78.1,515.0 78.5,517.5 78.7,516.4 79.1,513.4 79.5,511.5 80.0,516.4 80.3,517.8 80.4,521.6 80.9,523.0 81.3,524.3 81.3,523.7 81.4,519.1 81.4,517.0 81.7,514.0 81.7,510.9 81.9,506.7 81.7,505.1 81.8,502.6 81.9,497.7 82.3,495.1 82.4,492.3 82.4,488.4 82.7,485.2 82.9,482.4 82.8,479.1 83.1,477.3 83.4,473.0 83.4,476.0 83.3,478.7 83.6,482.3 83.6,485.4 83.6,487.7 83.8,491.4 83.8,495.0 83.8,498.0 83.9,499.3 84.3,504.0 84.3,499.8 84.3,495.8 84.4,493.1 84.5,489.1 85.1,487.4 84.9,484.2 85.5,486.3 85.9,489.7 86.2,489.0 86.5,486.7 86.5,482.4 86.8,479.3 86.6,477.8 87.2,475.1 87.1,471.6 87.5,470.1 87.7,464.2 88.1,463.1 88.1,460.0 88.5,463.1 89.0,463.2 89.4,464.6 89.6,464.1 89.7,461.6 89.9,458.8 90.1,454.0 90.2,452.0 90.3,449.5 90.4,453.2 90.5,455.3 90.7,459.4 90.6,462.1 90.4,463.8 90.9,468.2 90.7,470.1 90.7,472.2 91.0,476.2 91.1,480.7 90.9,483.0 90.8,486.2 90.9,489.7 91.2,486.9 91.3,483.9 91.4,480.6 91.3,478.6 91.5,476.2 91.5,473.3 91.6,469.5 91.9,467.4 92.0,463.9 92.0,462.8 92.1,458.2 92.6,457.8 92.9,454.9 93.3,451.0 93.1,458.8 93.3,461.3 93.8,462.2 94.1,465.6 94.1,468.6 94.2,471.8 94.6,465.8 94.8,465.2 94.9,461.7 95.3,459.7 95.6,458.4 95.9,464.2 96.1,466.9 96.5,463.5 97.2,461.2 97.6,457.3 97.6,459.6 97.7,462.9 98.1,466.5 98.1,468.9 98.5,472.0 98.5,473.3 98.7,470.6 98.8,468.0 99.1,465.2 99.2,463.1 99.4,460.9 99.5,457.6 99.8,462.2 100.0,462.1 100.3,462.3 100.4,469.2 100.6,471.4 100.9,475.0 101.1,478.0 101.3,481.6 101.4,484.6 101.7,487.0 101.8,490.7 102.0,495.6 102.1,495.6 102.1,496.1 102.2,501.4 102.3,504.6 102.4,501.1 102.4,498.1 102.6,496.3 102.8,491.8 102.7,490.1 102.8,487.5 103.0,483.2 103.0,481.0 103.2,477.4 103.3,475.0 103.3,472.5 103.7,469.6 104.0,466.4 104.1,461.3 104.3,460.2 104.8,459.6 105.3,455.9 105.7,455.4 105.9,453.7 106.1,454.2 106.4,456.5 106.9,460.2 107.0,462.9 107.4,466.6 107.7,463.8 108.0,461.9 108.4,458.3 108.8,461.3 109.3,462.9 109.3,465.7 109.5,464.1 110.0,460.7 110.1,457.6 110.3,456.2 110.4,452.9 110.6,455.5 110.8,458.0 111.2,465.6 111.5,464.5 111.6,466.9 111.8,471.6 111.8,474.8 112.0,477.9 112.3,481.7 112.3,483.8 112.5,480.2 112.3,476.3 112.6,474.1 112.5,470.1 112.9,466.8 113.2,464.9 113.4,463.1 113.9,457.3 114.1,456.1 114.2,453.1 114.6,457.6 114.6,459.1 114.6,461.8 114.8,465.3 114.7,467.0 114.7,469.9 115.0,474.9 115.1,477.8 115.2,479.9 115.3,482.4 115.3,481.0 115.8,482.8 115.7,478.2 115.8,476.7 115.9,473.7 115.9,469.9 116.3,466.6 116.0,465.6 116.1,460.7 116.4,459.2 116.6,456.3 116.6,451.3 116.9,448.7 117.4,446.7 117.4,448.3 117.4,451.9 117.6,453.8 117.8,457.7 117.9,460.0 118.0,463.5 118.1,466.3 118.2,469.5 118.6,470.5 119.0,473.8 119.3,475.4 119.4,472.4 119.4,468.8 119.7,465.9 119.8,463.0 119.8,460.1 120.2,456.6 120.0,453.5 120.2,450.4 120.2,447.0 120.8,450.1 120.7,455.1 121.1,456.4 121.3,459.6 121.5,462.8 121.5,465.9 121.8,468.8 121.8,472.0 121.9,475.4 122.1,478.6 122.2,481.2 122.6,483.2 122.4,487.9 122.5,486.7 122.7,492.3 122.8,495.2 123.0,499.0 123.2,498.6 123.6,499.6 123.5,495.4 123.8,491.7 124.1,489.8 124.3,486.4 124.7,488.6 125.0,489.6 125.2,492.9 125.6,498.8 125.3,498.0 125.6,502.2 125.5,504.9 125.8,508.8 125.7,511.0 125.8,517.4 125.9,516.9 126.2,515.3 126.7,507.6 127.0,508.7 127.2,505.6 127.2,502.4 127.4,500.2 127.6,497.6 127.7,494.0 128.0,492.1 127.8,488.7 128.2,484.3 128.5,483.2 128.6,479.9 128.6,476.9 129.0,474.7 129.1,472.3 129.1,467.5 129.7,470.6 129.7,476.1 129.9,476.0 130.2,479.4 130.6,475.6 130.7,473.9 130.9,471.5 130.9,465.3 131.0,465.6 131.2,468.5 131.7,473.1 132.0,473.3 132.0,479.8 132.3,479.0 132.8,481.1 133.1,476.5 133.2,473.6 133.9,472.5 134.2,470.3 134.6,470.4 134.6,466.4 135.0,463.4 135.5,459.1 135.8,456.8 136.3,454.3 136.6,452.5 137.0,453.2 137.3,459.2 137.5,459.8 138.2,460.2 138.3,462.6 139.1,462.8 139.2,465.3 139.3,467.4 139.6,468.6 139.7,469.2 140.4,470.5 141.0,471.4 141.2,470.4 141.5,468.1 141.9,465.5 142.3,465.9 142.7,471.4 142.9,475.2 142.9,478.9 143.5,480.9 143.6,483.0 144.0,485.9 144.4,488.0 144.7,491.2 145.0,495.4 145.3,498.8 145.7,500.2 145.8,502.6 145.9,509.0 146.5,508.6 146.8,511.4 147.3,515.4 147.6,516.1 147.8,519.9 148.2,521.7 148.6,525.6 149.1,528.4 149.2,532.4 149.4,533.3 149.6,536.2 150.0,539.2 150.5,542.3 150.3,545.6 150.4,548.0 150.8,551.7 151.1,554.7 151.0,551.8 151.0,549.3 151.3,545.8 151.3,542.8 151.2,540.2 151.3,537.7 151.4,534.5 151.1,531.2 151.3,527.2 151.3,525.1 151.4,524.2 151.7,520.3 151.8,516.4 151.9,514.0 151.8,512.2 152.0,511.3 152.1,505.1 152.0,502.8 152.2,498.4 152.3,495.4 152.5,492.7 152.3,491.7 152.7,484.5 152.4,483.9 152.6,481.5 153.0,476.7 152.8,474.9 152.8,470.7 153.0,469.6 153.0,466.1 153.3,463.1 153.2,465.1 153.3,467.7 153.2,472.1 153.4,475.9 153.6,478.8 153.8,480.6 153.6,483.5 153.8,486.9 154.0,483.6 153.9,480.8 154.1,478.1 154.1,476.9 154.1,474.0 154.3,469.8 154.3,468.3 154.6,464.2 154.5,461.3 154.4,463.9 154.8,467.0 154.8,469.6 155.1,473.4 155.3,477.1 155.2,479.8 155.6,483.5 155.6,484.0 155.8,482.7 155.8,479.9 155.9,477.1 155.7,474.3 155.9,471.6 156.0,466.8 156.2,464.6 156.1,461.2 156.2,459.3 156.3,456.3 156.3,459.4 156.5,462.0 156.6,465.5 156.7,468.2 156.7,471.4 156.8,474.9 156.6,480.6 156.7,481.1 156.9,484.3 156.8,487.2 157.1,490.2 157.0,492.7 157.2,495.8 157.2,500.1 157.1,502.1 157.3,505.1 157.3,508.1 157.5,506.2 157.6,501.2 157.8,499.4 157.8,496.7 157.8,493.6 157.7,490.8 158.1,488.0 158.1,483.3 158.0,481.9 157.9,475.8 158.4,476.5 158.6,477.8 158.7,481.3 158.9,483.4 158.9,487.5 159.0,489.3 159.2,492.9 159.3,494.7 159.4,497.8 160.2,499.2 159.9,498.1 160.1,492.2 160.3,488.7 160.3,485.1 160.5,481.3 160.3,479.9 160.6,477.8 160.6,473.9 160.7,470.0 160.7,474.8 160.8,477.4 161.1,478.3 161.3,482.1 161.5,484.4 161.5,480.9 161.8,478.3 161.6,475.0 162.0,473.0 162.0,468.9 162.1,465.9 162.3,463.9 162.2,459.7 162.5,458.1 162.7,462.3 163.0,463.4 163.1,465.9 163.2,470.2 163.1,472.5 163.7,476.4 163.8,474.8 164.1,471.5 164.2,470.0 164.4,469.3 164.8,468.7 165.0,471.6 165.2,476.2 165.3,478.2 165.6,480.2 166.2,477.5 166.2,474.2 166.4,471.4 166.7,469.8 166.9,472.4 167.0,476.2 167.2,479.2 167.3,481.3 167.4,484.8 167.5,488.8 167.6,491.2 168.2,494.2 168.1,495.5 168.8,497.6 169.0,501.9 169.3,504.5 169.1,507.9 169.4,509.6 169.2,512.1 169.3,517.0 169.4,519.3 169.6,523.8 169.6,525.2 169.8,528.5 169.6,531.8 169.9,534.5 169.8,536.9 169.8,539.2 170.0,547.0 169.8,546.7 170.2,548.0 170.1,551.0 170.3,555.8 170.1,556.8 170.3,561.1 170.4,563.1 170.4,565.4 170.2,570.0 170.4,572.4 170.5,575.7 170.7,578.7 170.7,582.2 170.9,584.8 170.9,588.1 171.2,585.9 171.2,582.2 171.2,578.6 171.3,574.8 171.4,572.0 171.4,568.8 171.3,566.7 171.5,562.9 171.8,559.8 171.9,556.0 171.6,554.3 171.8,552.0 171.8,546.6 172.0,544.9 172.1,542.4 172.2,541.6 172.2,538.0 172.0,534.0 172.4,531.0 172.5,527.6 172.4,526.5 172.6,523.3 172.6,520.3 172.7,519.9 172.8,513.9 172.8,510.8 172.8,509.4 173.0,505.7 173.2,512.0 173.4,512.4 173.3,514.8 173.4,518.5 173.7,522.6 173.6,524.2 173.9,527.2 174.0,529.7 174.0,533.2 174.5,536.1 174.3,540.1 174.3,542.5 174.4,545.8 174.6,542.7 174.6,539.4 174.5,539.2 174.8,533.9 174.8,531.5 174.7,528.2 174.8,525.8 174.9,522.2 174.8,515.5 175.1,516.4 175.1,514.9 175.1,512.3 175.3,506.8 175.2,500.8 175.4,501.6 175.4,498.3 175.7,495.2 175.7,490.2 175.6,489.1 175.6,486.8 175.9,488.7 176.2,491.7 176.4,495.7 176.5,497.8 176.5,501.0 176.6,503.5 176.6,506.8 176.9,508.1 176.8,511.9 176.8,516.6 176.8,519.4 176.7,521.7 176.8,524.9 177.0,526.0 177.0,528.6 177.0,534.7 177.2,538.4 177.0,540.5 177.1,542.1 177.2,546.4 177.3,549.3 177.4,552.1 177.5,555.5 177.7,558.5 177.7,560.3 177.8,563.3 177.8,566.0 177.9,570.3 178.0,572.4 178.1,575.2 178.4,579.2 178.4,581.5 178.3,577.0 178.4,575.7 178.4,572.8 178.5,570.2 178.8,567.3 178.5,562.4 178.8,559.0 178.8,556.2 178.8,553.1 178.5,549.4 178.7,547.6 178.9,543.4 179.1,541.4 179.1,538.9 178.9,534.6 179.5,531.3 179.2,528.9 179.4,522.1 179.3,524.4 179.5,519.9 179.6,517.5 179.6,514.2 179.9,510.4 180.1,508.1 180.3,503.7 180.4,500.1 180.9,497.3 181.2,495.9 181.4,493.1 182.0,490.1 182.2,488.7 182.9,486.8 182.9,484.1 183.2,484.5 183.7,485.9 184.0,487.4 184.3,488.8 184.0,491.1 184.4,494.8 184.2,496.6 184.6,501.0 184.8,503.7 185.1,506.6 185.1,509.6 185.4,513.5 185.6,514.2 185.8,518.3 186.0,514.0 185.8,511.2 186.0,507.4 186.0,505.3 186.2,501.2 186.6,498.3 186.4,495.2 186.5,492.7 186.8,490.3 186.6,485.5 186.8,484.2 187.1,481.8 187.1,478.0 187.1,474.0 187.6,473.1 187.6,470.3 187.8,467.6 187.9,465.0 187.9,461.5 188.0,459.5 187.9,456.6 188.3,461.5 188.5,462.9 188.4,465.1 188.5,467.6 188.9,470.8 188.9,474.3 189.0,477.2 188.9,478.4 189.2,483.0 189.4,478.6 189.6,475.7 189.6,472.3 189.5,469.6 189.7,465.3 189.9,459.5 190.1,459.7 190.0,457.0 190.1,455.0 190.3,452.3 190.6,455.7 190.7,458.9 190.8,462.2 191.3,460.8 191.6,465.7 191.4,463.7 191.9,461.3 192.1,458.3 192.3,454.7 192.8,457.9 193.2,462.0 193.2,464.8 193.3,467.7 193.7,464.8 194.0,462.6 194.4,459.6 194.8,461.9 195.1,465.9 195.3,468.0 195.4,474.2 195.5,475.2 196.0,473.0 196.3,468.8 196.5,465.4 196.8,463.6 196.8,466.1 197.0,468.2 197.2,472.0 197.5,473.3 197.7,478.0 198.0,481.7 198.4,484.4 199.0,488.2 199.0,493.6 199.1,493.7 199.7,495.9 199.8,498.5 200.1,494.9 199.9,491.6 200.1,489.6 200.2,486.5 200.2,480.7 200.2,481.1 200.4,480.1 200.4,475.8 200.6,471.5 200.4,467.7 200.9,468.5 200.9,462.8 200.8,460.9 200.8,460.0 201.0,460.0 201.1,463.3 201.8,466.8 201.6,469.4 202.6,472.7 202.5,477.2 202.9,480.4 203.1,481.6 203.1,486.2 203.4,487.8 203.6,491.7 203.9,494.4 204.2,495.8 204.4,496.1 204.8,495.6 205.1,495.0 205.6,493.6 205.6,492.8 206.3,499.4 206.4,498.4 207.1,497.2 207.1,495.2 207.4,498.8 207.4,500.6 207.5,504.2 207.6,507.1 208.1,511.9 208.0,513.1 208.6,517.1 208.8,521.7 208.8,516.1 208.9,514.0 209.3,510.6 209.7,507.6 209.8,503.4 209.8,501.6 210.3,498.8 210.6,493.8 210.8,494.4 211.0,496.1 211.4,499.0 211.6,500.9 211.9,504.5 211.9,502.5 212.1,498.5 212.2,494.9 212.3,492.0 212.3,490.0 212.3,487.3 212.3,483.4 212.9,480.3 212.8,479.9 212.8,473.2 212.9,473.5 213.3,470.0 213.4,463.1 213.8,462.4 213.8,460.6 213.6,456.1 214.2,459.2 214.3,461.6 214.8,465.1 215.1,468.5 215.2,465.3 215.2,462.7 215.6,460.0 215.8,456.4 216.0,453.1 216.2,449.8 216.2,446.5 216.4,445.1 216.6,442.4 216.8,448.5 216.8,449.2 217.0,452.1 216.9,454.8 217.1,457.7 217.4,461.6 217.3,466.4 217.2,465.5 217.5,470.3 217.7,467.8 217.7,464.6 218.1,461.2 217.8,458.4 218.2,454.6 218.5,451.7 218.5,455.2 218.8,458.9 218.8,461.0 219.2,466.0 219.6,468.7 219.4,471.9 219.9,474.9 220.2,476.1 220.6,479.0 220.6,481.4 220.7,484.2 221.0,486.4 220.9,485.9 221.0,490.0 221.2,495.7 221.3,500.3 221.4,501.9 221.4,505.6 221.7,507.4 221.5,510.6 221.6,514.6 221.8,516.0 222.2,519.2 222.2,521.3 222.4,524.8 222.6,522.0 222.5,515.0 222.7,516.5 222.6,513.6 222.7,509.6 222.8,506.0 222.8,503.9 222.9,505.1 223.0,496.8 223.0,493.8 223.1,492.1 223.5,490.2 223.1,486.0 223.4,483.2 223.7,480.7 223.8,477.9 223.9,474.0 224.0,471.7 224.1,469.3 224.3,472.1 224.7,474.9 224.9,477.5 225.4,480.4 225.6,479.0 225.9,476.9 226.3,474.2 226.6,476.4 226.6,479.9 226.7,483.3 226.8,486.5 227.1,489.7 227.5,493.7 227.4,489.0 227.6,487.5 227.8,484.3 227.9,481.3 228.2,478.6 228.2,473.2 228.3,471.3 228.5,474.1 228.5,479.0 228.6,481.9 228.8,484.1 228.9,487.5 228.8,489.1 228.8,493.3 229.0,495.7 229.3,498.9 229.4,502.7 229.3,506.1 229.4,509.4 229.6,506.0 229.5,502.7 229.6,499.9 229.8,496.4 230.0,494.8 229.8,491.8 229.9,489.5 230.2,485.6 230.4,482.6 230.5,480.6 230.5,477.6 230.7,480.0 230.8,482.9 230.7,486.3 231.0,489.9 230.8,492.4 231.2,495.0 231.3,498.6 231.4,501.6 231.1,504.7 231.3,507.8 231.3,512.1 231.5,514.2 231.5,512.0 231.5,508.6 231.9,506.1 231.8,501.8 231.9,498.7 231.7,497.6 232.0,491.7 232.0,490.5 232.0,488.1 232.1,483.7 232.1,481.6 232.1,479.0 232.2,476.1 232.3,472.1 232.2,472.6 232.2,466.1 232.4,469.8 232.6,473.4 232.4,476.7 232.2,480.0 232.4,482.6 232.6,485.2 232.5,487.9 232.7,491.7 232.6,494.6 232.7,500.0 232.7,500.6 232.6,504.4 232.8,507.1 232.9,510.0 232.7,511.5 233.1,515.7 233.0,518.7 232.9,520.9 233.0,524.6 233.1,521.2 232.9,519.8 233.3,515.9 233.3,512.3 233.3,509.7 233.4,506.4 233.4,503.6 233.7,501.1 233.7,496.7 233.6,494.1 233.9,492.7 233.9,488.5 234.1,485.4 233.9,488.6 234.1,492.1 234.1,494.0 234.4,497.7 234.1,500.9 234.5,501.3 234.5,510.3 234.6,511.6 234.7,515.2 234.8,516.6 235.1,518.9 234.8,522.7 235.3,524.9 234.9,527.9 235.7,530.0 235.6,532.2 236.2,533.4 236.2,537.6 236.5,538.6 236.6,541.7 236.6,544.3 236.6,546.2 237.1,550.3 237.2,551.8 236.9,559.4 237.3,553.5 237.3,550.0 237.4,550.3 237.4,543.5 237.7,540.7 237.6,539.6 237.9,535.4 237.8,532.5 237.9,529.4 238.1,525.2 238.0,519.6 238.1,519.9 238.2,516.6 238.3,512.9 238.2,510.8 238.2,502.7 238.3,504.3 238.4,501.5 238.4,498.0 238.7,494.7 238.8,491.9 239.1,489.4 239.1,486.0 239.3,482.4 239.3,481.0 239.6,482.2 239.7,485.6 240.1,490.1 240.5,493.9 240.5,489.6 240.8,487.4 241.1,483.8 241.4,480.6 241.6,477.5 241.9,475.7 242.2,471.1 242.6,466.7 243.1,468.5 243.2,465.9 243.2,468.2 243.5,473.3 243.4,473.9 243.9,476.6 243.7,479.8 243.9,486.1 244.0,486.6 244.2,488.4 244.2,493.7 244.4,488.5 244.6,484.8 244.7,483.0 244.9,479.7 245.1,475.3 245.2,473.7 245.2,470.4 245.5,473.0 245.7,477.1 245.5,478.7 245.8,483.4 245.8,484.3 245.9,489.9 246.2,490.8 246.4,492.6 246.5,489.5 246.7,489.3 246.8,484.2 247.0,480.5 246.8,477.0 247.3,474.0 247.4,472.8 247.6,474.9 247.5,479.4 247.3,481.5 247.5,483.6 247.6,487.2 247.7,488.8 247.6,494.4 247.7,496.4 247.9,500.1 247.8,502.5 247.9,505.1 247.9,509.5 247.7,510.5 247.9,514.9 248.0,517.3 248.4,521.1 248.2,523.8 248.3,520.0 248.2,517.9 248.3,510.8 248.5,511.1 248.5,504.4 248.3,504.7 248.4,501.5 248.4,499.1 248.5,493.2 248.9,491.7 248.9,490.5 249.1,487.1 249.6,483.6 249.3,479.7 249.9,478.5 249.8,474.1 250.1,472.2 250.3,469.9 250.4,464.5 250.5,461.1 250.6,458.0 251.0,455.3 251.2,455.5 251.8,458.5 252.2,459.1 252.1,460.4 252.8,455.6 253.2,452.5 253.3,450.9 253.8,450.5 254.1,449.5 254.3,448.4 254.9,445.6 255.0,442.5 255.5,445.4 255.9,448.8 256.3,452.0 256.3,454.0 257.1,457.0 257.0,459.8 257.4,462.0 257.7,459.8 257.9,457.3 258.5,454.0 258.5,458.5 258.9,459.2 259.2,463.2 259.5,465.2 259.8,465.1 260.3,460.8 260.6,458.5 260.3,459.4 261.1,464.6 260.9,466.4 261.3,470.2 261.6,472.6 261.7,470.1 261.9,463.7 261.7,464.4 262.2,461.3 262.0,457.4 262.1,454.8 262.4,458.8 262.8,462.2 263.0,465.0 263.4,466.3 263.5,465.6 264.0,464.3 264.4,461.0 264.6,464.1 264.9,466.8 265.1,470.4 265.4,473.9 265.8,470.0 266.1,467.8 266.4,465.1 266.6,467.0 267.0,470.5 267.2,472.5 267.3,475.5 267.3,478.2 267.8,475.5 268.0,473.4 268.3,470.1 268.6,467.5 268.9,471.2 269.2,472.6 269.5,475.3 269.8,476.1 270.2,480.8 270.4,484.7 270.8,487.5 270.7,484.4 271.0,481.6 270.9,478.3 271.1,475.1 271.2,471.2 271.5,468.9 271.7,471.9 271.9,475.2 272.1,478.7 272.3,483.7 272.5,485.7 272.8,487.3 273.1,492.1 273.4,492.7 273.8,495.2 274.0,498.7 274.3,501.8 274.6,504.4 274.9,507.3 275.0,510.9 275.4,514.7 275.7,517.5 276.0,519.5 276.1,523.3 276.3,525.7 277.0,529.0 276.7,532.3 277.3,534.0 277.5,537.4 277.8,541.7 278.2,545.5 278.2,545.0 278.5,547.3 279.1,543.4 279.5,542.3 279.5,537.6 280.1,534.5 280.3,537.5 280.5,540.5 280.8,542.9 280.9,547.3 281.2,549.6 281.4,552.7 281.5,554.4 281.8,556.7 282.0,564.1 282.2,563.1 282.5,564.8 282.6,569.7 282.7,572.2 282.7,573.1 283.2,579.2 283.5,579.1 283.4,584.2 283.9,588.0 284.1,584.9 284.0,581.5 284.0,579.2 284.1,575.7 284.4,573.3 284.4,568.6 284.6,566.2 284.5,563.1 284.6,560.1 284.7,556.3 284.8,553.5 284.8,550.4 285.0,548.6 285.1,545.5 285.1,542.6 285.3,538.7 285.4,536.4 285.5,533.3 285.7,531.3 285.9,525.2 286.1,531.6 286.3,532.9 286.4,534.6 286.6,539.3 286.7,542.5 287.0,546.1 287.3,543.2 287.5,542.6 287.7,537.5 287.9,534.5 288.1,531.6 288.4,529.3 288.6,526.4 288.8,523.4 289.0,520.4 289.0,518.6 289.3,515.2 289.5,511.8 289.6,507.4 289.9,504.6 290.1,500.4 290.2,497.7 290.7,495.3 290.8,494.0 291.2,490.8 291.4,488.3 291.8,485.2 292.0,480.7 292.2,484.1 292.5,487.2 292.4,489.8 292.8,492.3 292.9,491.2 293.0,498.3 293.3,502.4 293.6,504.8 294.0,504.8 294.1,510.1 294.3,513.1 294.8,516.8 295.1,519.2 295.2,522.4 295.5,519.9 295.9,522.3 296.2,516.2 296.1,518.3 296.6,520.8 296.7,523.7 296.7,526.8 296.9,529.0 297.0,530.6 297.1,534.4 297.5,539.0 297.3,536.4 297.6,532.9 297.7,528.8 297.8,526.1 298.0,523.1 298.2,522.4 298.6,523.9 298.6,524.9 298.5,527.0 298.6,531.0 299.1,534.4 299.2,538.1 299.5,539.8 299.4,543.3 299.5,541.4 299.8,537.7 300.0,535.4 300.5,532.3 300.6,534.0 300.8,535.3 300.7,541.4 301.1,545.0 301.3,547.2 301.2,550.3 301.7,552.9 301.9,550.5 302.3,546.6 302.3,544.8 302.3,540.4 302.9,542.6 303.1,545.9 303.5,549.3 303.9,552.1 304.1,554.0 304.3,556.8 304.5,560.4 304.7,562.2 304.8,560.9 305.0,557.9 305.1,556.0 305.5,550.1 305.4,546.3 305.7,542.9 305.8,542.7 305.7,546.3 305.7,549.4 306.3,552.2 306.4,554.8 306.2,558.1 306.5,560.3 306.6,562.8 306.9,567.4 306.8,563.0 307.0,559.6 307.2,557.4 307.3,555.6 307.3,551.5 307.5,549.1 307.4,546.0 307.4,542.9 307.5,539.6 307.5,536.5 307.7,533.6 307.7,531.0 307.8,527.1 307.8,524.8 308.1,522.1 307.8,519.0 308.2,516.4 308.3,513.2 308.1,511.3 308.2,507.8 308.2,501.8 308.6,500.7 308.5,497.4 308.9,494.7 308.9,491.9 308.9,493.6 309.2,494.5 309.7,499.9 309.5,502.3 309.7,508.5 310.1,510.3 310.4,509.7 310.8,508.3 310.9,507.3 311.1,509.9 311.4,513.0 311.4,516.1 311.3,518.1 311.3,521.9 311.6,526.1 311.6,527.8 311.9,531.9 312.0,533.9 311.9,534.5 312.1,533.9 312.1,531.1 312.2,527.9 312.5,524.2 312.7,520.9 312.6,521.7 313.0,516.8 313.1,514.0 313.0,509.9 313.3,513.0 313.4,517.1 313.1,517.9 313.4,521.9 313.4,524.4 313.4,527.4 313.5,529.1 313.5,534.0 313.5,537.8 313.5,537.0 313.7,544.0 313.5,545.9 313.8,549.3 313.3,551.6 314.0,553.4 313.8,557.3 314.1,555.8 314.0,550.7 314.0,550.6 314.2,547.4 314.2,543.1 314.2,539.4 314.2,538.6 314.4,533.4 314.2,529.7 314.5,527.1 314.7,524.7 314.7,521.0 314.7,519.7 314.7,515.6 314.8,512.3 314.6,510.7 314.7,507.9 314.9,505.9 315.0,500.5 315.1,499.3 315.0,496.5 315.2,493.6 315.2,490.6 315.2,487.2 315.1,482.5 315.4,482.2 315.7,477.7 316.0,474.6 316.0,471.3 316.1,468.0 316.3,466.8 316.6,461.0 316.7,459.1 316.9,457.2 317.2,452.6 317.3,450.2 317.4,452.9 317.5,457.3 317.6,459.4 317.7,460.8 318.0,461.7 318.0,472.4 318.1,471.6 318.1,475.3 318.1,477.8 318.5,480.5 318.6,484.1 318.6,486.8 319.3,484.0 319.5,480.8 319.7,480.8 320.0,482.4 320.1,484.3 320.4,487.1 320.5,491.6 320.9,495.3 320.9,497.0 321.4,493.5 321.6,491.6 322.0,492.9 322.3,486.6 322.6,484.9 323.0,479.8 323.3,481.1 324.0,479.0 324.0,475.9 324.3,474.2 324.4,471.6 324.7,470.7 325.2,466.1 325.1,462.3 325.4,459.5 325.3,460.8 325.6,464.1 325.8,465.5 325.8,470.4 325.8,474.3 326.0,477.5 326.1,483.1 325.9,482.8 325.8,485.8 326.1,488.1 326.5,492.0 326.5,492.8 326.5,498.2 326.3,499.3 326.7,505.3 326.7,509.4 326.7,511.1 326.9,514.7 327.0,518.1 327.0,520.3 327.2,523.3 327.2,523.6 327.3,529.5 327.7,530.7 327.6,535.5 327.7,539.0 327.6,541.1 327.9,544.7 327.8,546.7 328.1,550.6 328.0,553.1 328.4,555.9 328.6,561.1 328.7,561.7 329.1,566.6 329.1,567.9 329.0,563.2 329.3,556.6 329.3,558.1 329.3,555.6 329.3,550.1 329.4,548.3 329.6,544.2 329.7,541.8 330.0,539.0 329.8,536.8 330.1,533.4 330.1,529.8 330.0,527.0 330.0,524.5 330.0,519.9 330.2,516.2 330.3,513.4 330.3,510.1 330.7,512.6 330.6,516.6 331.1,519.4 331.0,521.8 331.4,524.3 331.5,520.6 331.6,517.0 331.9,516.5 332.2,513.3 332.2,510.6 332.1,507.3 332.3,504.2 332.6,502.0 332.8,502.9 333.0,508.3 333.4,511.4 333.7,511.2 333.8,511.2 334.1,508.3 334.3,506.8 334.6,502.1 334.9,500.3 335.0,498.2 335.2,495.3 335.8,493.1 336.0,495.0 336.4,496.5 336.7,497.4 337.4,495.9 337.5,493.3 337.9,489.9 338.3,490.5 338.4,488.7 339.0,493.8 339.2,492.6 339.6,491.0 339.8,490.4 340.1,492.2 340.2,495.6 340.3,498.2 340.6,501.8 340.8,505.8 340.7,507.1 341.1,510.9 341.2,513.1 341.7,515.9 342.1,519.3 342.4,521.3 342.6,523.8 343.0,526.3 343.5,530.0 343.7,531.2 344.1,534.6 344.5,532.3 344.6,538.5 345.1,535.0 345.5,540.4 346.0,542.4 346.3,545.7 346.8,544.9 347.0,550.1 347.1,552.3 347.8,556.4 348.2,558.9 348.5,562.5 348.8,564.3 349.0,565.1 349.2,566.5 349.6,570.2 350.0,571.7 350.5,573.4 350.7,577.5 351.2,579.8 351.6,577.3 351.9,579.8 352.3,582.0 352.1,579.3 352.2,577.0 352.4,572.4 352.6,569.3 352.8,567.7 352.7,564.5 352.8,560.4 353.0,558.0 352.9,555.8 352.8,553.1 352.9,551.0 352.9,546.6 353.1,543.2 353.1,544.0 353.2,536.6 353.3,534.1 353.4,532.8 353.5,528.1 353.5,526.5 353.4,522.6 353.5,519.6 353.5,517.1 353.6,513.2 353.5,510.4 353.9,507.5 353.8,501.6 354.0,501.1 353.8,497.5 354.3,494.7 354.4,494.3 354.4,488.6 354.5,484.3 355.0,482.5 354.8,478.6 355.1,475.5 355.2,472.1 354.8,469.5 355.2,467.0 355.4,466.5 355.4,460.7 355.9,456.8 356.0,460.0 356.0,464.1 356.1,466.8 356.4,466.2 356.3,472.4 356.7,475.9 356.5,479.1 356.7,481.6 356.7,483.6 356.7,488.2 356.8,489.8 356.9,492.8 357.2,495.5 357.1,499.1 357.3,501.0 357.4,503.5 357.4,507.5 357.5,510.6 357.9,513.6 357.7,517.9 357.8,521.4 358.3,527.4 358.4,526.0 358.4,528.4 358.8,532.6 358.8,536.7 358.7,537.8 359.0,535.3 359.3,532.9 359.6,530.0 359.7,527.8 360.0,524.4 360.2,528.6 360.4,528.9 360.2,532.6 360.4,537.7 360.5,540.1 360.7,543.9 360.7,547.7 360.9,550.6 361.0,554.1 361.3,555.1 361.6,557.4 361.7,560.4 362.1,563.6 362.2,566.2 362.3,569.1 362.8,571.1 362.7,573.5 363.2,577.1 363.6,581.4 364.0,581.3 364.3,580.5 364.3,579.8 365.0,579.2 364.9,573.5 365.1,570.6 365.0,568.9 365.4,568.0 365.0,565.4 365.3,561.1 365.3,558.1 365.7,557.6 365.6,552.3 365.8,549.0 365.9,546.9 365.8,544.0 366.1,541.5 366.2,537.9 366.0,533.8 366.0,530.9 366.5,527.8 366.8,525.4 366.9,523.1 367.3,519.9 367.3,517.5 367.5,513.0 367.7,510.4 367.5,509.2 367.6,504.0 367.9,502.9 367.8,497.8 368.0,495.9 368.0,494.0 367.9,489.5 368.0,488.6 368.5,485.7 368.5,481.7 368.9,478.5 368.8,475.5 368.9,471.8 369.2,468.6 369.3,467.0 369.3,462.4 369.6,459.3 370.0,463.4 370.3,467.2 370.1,469.6 370.3,472.3 370.5,475.7 370.4,477.4 370.6,480.0 370.7,484.0 370.9,486.4 370.6,490.2 370.8,492.7 370.8,495.5 371.2,498.3 371.0,502.0 371.4,504.6 371.5,507.9 371.5,511.6 371.6,515.5 371.8,511.5 371.9,508.9 372.0,505.1 372.2,501.9 372.2,498.4 372.7,498.2 372.7,493.6 373.0,490.3 373.3,486.0 373.5,484.5 373.6,481.7 374.2,481.2 374.3,479.5 374.8,477.7 375.1,481.2 374.9,483.1 375.1,485.7 375.1,489.0 375.3,491.3 375.5,493.5 375.4,497.0 375.4,501.9 375.7,501.3 375.7,508.1 375.5,510.6 375.7,513.2 375.8,516.2 375.7,519.2 375.8,522.8 375.9,525.7 376.0,529.4 375.8,532.3 375.9,535.9 376.0,537.2 376.2,540.9 376.2,544.2 376.2,547.8 376.4,550.1 376.3,553.3 376.2,549.3 376.3,543.3 376.3,543.0 376.4,540.0 376.4,537.3 376.6,537.9 376.5,531.3 376.9,532.6 377.1,525.4 377.0,521.9 377.0,520.6 377.0,516.9 377.0,514.4 377.1,511.3 377.3,508.7 377.2,505.6 377.2,503.3 377.4,499.3 377.6,495.3 377.9,492.8 377.5,490.6 377.7,486.4 378.1,484.0 378.1,481.9 378.2,478.0 378.6,473.5 378.4,471.7 378.7,465.2 378.8,467.9 378.8,463.1 379.3,466.7 379.4,469.3 379.6,472.8 379.6,475.0 379.8,478.4 380.1,481.0 380.4,479.2 380.6,475.4 380.8,473.1 380.9,468.9 381.1,465.8 381.3,462.5 381.3,459.3 381.7,456.7 382.0,459.9 382.2,461.3 382.1,466.6 382.6,468.7 382.6,472.1 383.0,475.7 382.9,472.9 383.4,470.2 383.5,466.4 383.7,464.8 384.1,459.7 384.0,464.5 384.3,467.6 384.4,468.9 384.4,472.2 384.5,476.2 384.6,479.3 384.9,480.8 385.1,485.6 385.1,488.8 385.4,490.8 385.4,495.3 385.5,496.7 385.4,500.6 385.9,504.0 385.8,499.9 386.0,497.0 386.1,493.1 386.2,491.2 386.4,488.7 386.5,485.6 386.8,481.2 386.7,480.1 386.8,474.9 387.1,472.2 387.4,468.6 387.4,467.8 387.9,464.3 387.8,467.2 388.1,470.2 388.3,473.3 388.4,476.8 388.5,479.5 388.6,483.1 388.7,485.4 388.7,487.5 388.9,491.2 389.0,488.9 389.0,485.1 389.4,482.9 389.3,481.3 389.5,475.8 389.5,471.8 389.8,470.1 389.7,467.2 389.8,462.8 390.1,461.6 390.3,462.6 390.4,468.1 391.0,470.6 391.1,472.7 391.3,471.0 391.5,468.8 392.4,466.4 392.6,468.5 392.7,471.6 393.1,475.0 393.3,473.0 393.6,471.9 394.1,471.6 394.6,474.1 395.1,478.0 395.2,479.9 395.5,478.9 396.0,474.7 396.2,473.0 396.6,473.0 397.0,471.9 397.0,469.8 397.5,466.9 397.8,464.2 398.3,461.1 398.2,458.1 398.9,451.0 398.8,452.8 399.1,450.3 399.5,446.3 400.1,448.6 400.1,450.2 400.1,453.1 400.4,455.1 400.1,459.2 400.2,462.0 400.4,465.5 400.4,468.0 400.6,471.9 400.5,474.8 400.5,477.3 400.5,480.7 400.8,484.1 400.8,482.4 401.1,478.3 401.1,475.7 401.4,472.5 401.5,469.5 401.5,468.0 402.0,462.1 402.4,461.4 403.0,460.9 403.0,464.2 403.2,465.2 403.3,467.3 403.6,473.9 403.8,474.9 403.9,471.7 404.3,471.3 404.6,465.1 405.0,462.8 405.0,465.7 405.3,470.4 405.5,472.5 405.9,474.4 405.8,479.1 406.0,481.6 406.1,479.6 406.2,476.5 406.7,474.2 406.6,471.2 406.7,468.3 407.2,461.0 407.1,467.0 407.3,471.4 407.4,473.1 407.4,476.7 407.5,478.5 408.0,483.1 407.8,485.7 407.8,487.5 408.1,491.8 408.6,489.0 408.8,486.4 409.2,485.3 409.3,482.0 410.0,477.6 410.1,475.3 410.6,476.5 411.1,477.8 411.3,480.7 411.5,477.4 411.3,472.7 411.5,471.2 411.5,468.5 411.8,464.6 411.8,462.4 412.0,459.3 411.9,461.4 412.0,465.0 412.3,466.5 412.1,470.2 412.3,473.1 412.6,476.2 412.3,478.7 412.4,482.2 412.3,486.6 412.6,490.0 412.6,492.1 412.5,494.6 412.4,497.7 413.1,501.4 413.1,504.7 413.1,506.6 413.5,510.7 413.4,513.0 413.3,511.1 413.5,507.4 413.4,504.2 413.6,501.7 413.6,497.2 413.6,493.4 414.0,493.1 413.7,490.2 414.2,487.5 414.1,484.4 414.3,486.8 414.2,490.2 414.4,493.4 414.0,496.6 414.4,496.2 414.5,502.4 414.5,505.2 414.6,507.3 414.6,511.9 414.7,514.3 414.8,518.2 414.5,521.2 414.5,523.9 414.7,522.5 414.8,522.1 415.2,519.5 415.2,515.7 415.4,512.8 415.5,511.2 415.7,513.0 415.5,515.0 415.5,518.7 415.8,522.4 415.8,524.9 415.7,527.8 415.9,529.1 415.8,533.4 415.9,536.6 415.9,539.1 416.2,540.0 416.2,545.5 416.0,543.8 416.3,543.7 416.4,536.8 416.4,534.3 416.7,533.0 416.5,528.7 416.7,525.8 416.6,520.5 416.6,520.1 417.1,516.9 417.0,514.1 417.2,511.3 417.3,509.9 417.3,505.4 417.2,501.9 417.5,498.8 417.9,495.0 417.7,490.0 418.4,490.1 418.4,486.8 418.5,482.4 418.6,481.6 418.7,476.8 419.2,474.6 419.3,471.6 419.3,467.3 419.6,465.6 420.1,463.0 420.2,459.4 420.4,457.6 420.7,454.6 421.2,452.6 421.3,449.8 421.6,451.0 422.0,451.8 422.7,454.1 423.0,450.8 423.2,451.5 423.6,450.8 424.2,451.9 424.5,456.3 424.8,460.0 425.0,458.8 425.4,456.2 425.8,453.8 426.2,455.4 426.3,455.5 426.9,456.4 427.2,457.0 427.5,455.0 427.8,453.5 428.1,451.3 428.5,449.1 428.8,445.6 429.2,448.8 429.5,451.2 429.5,454.5 429.8,458.1 430.0,460.8 430.0,463.3 430.3,465.7 430.3,468.6 430.4,472.1 430.2,476.5 430.6,478.0 430.4,480.6 430.7,484.8 430.8,487.1 430.7,484.7 431.0,482.6 430.9,478.0 431.1,475.2 431.1,470.7 431.2,468.9 431.7,465.4 431.7,462.9 431.8,459.7 432.1,456.0 432.6,453.5 432.9,454.8 432.9,451.3 433.4,457.5 433.6,460.9 434.0,463.2 434.3,461.4 434.4,458.0 434.8,455.4 435.3,456.8 435.7,458.2 435.9,460.7 435.9,463.5 436.1,466.0 436.2,468.6 436.6,470.8 436.6,474.7 436.5,477.7 436.6,481.5 436.5,483.8 436.5,488.2 436.8,491.3 437.0,495.1 436.8,495.3 437.0,497.8 436.9,501.8 437.0,504.4 436.8,508.0 436.6,511.4 436.8,514.8 436.9,516.9 437.1,519.9 437.1,522.5 437.3,526.0 437.1,529.4 437.1,531.2 437.1,534.6 437.0,538.2 437.1,540.8 437.2,544.5 437.3,546.7 437.3,550.8 437.4,553.4 437.4,550.8 437.2,547.3 437.5,547.2 437.3,540.8 437.5,538.8 437.6,536.2 437.6,531.8 437.7,528.1 437.6,526.2 437.9,522.8 437.9,519.4 437.7,516.1 437.8,513.2 437.9,510.8 438.1,506.6 437.9,504.6 438.1,501.4 438.1,497.7 438.1,494.8 438.3,488.9 438.4,488.5 438.4,486.8 438.8,480.1 438.8,480.3 438.9,483.2 439.1,486.6 438.7,489.6 438.9,492.9 438.8,497.1 439.0,499.7 438.9,502.4 439.0,504.5 439.0,507.5 439.1,510.3 439.2,514.3 439.4,517.5 439.4,520.5 439.2,523.4 439.3,526.0 439.4,528.3 439.4,531.9 439.3,535.1 439.5,539.0 439.5,535.3 439.6,527.5 439.6,529.1 439.6,527.1 439.6,524.1 439.9,519.9 439.7,517.5 439.7,513.3 439.8,510.1 440.0,507.3 439.9,504.4 440.3,501.1 440.0,499.4 440.0,495.6 440.0,492.4 440.4,489.5 440.3,492.4 440.2,495.6 440.8,498.4 440.6,500.7 440.7,504.3 440.7,506.9 441.0,503.3 441.2,499.9 441.3,498.1 441.5,495.2 441.6,491.7 441.6,495.2 441.7,496.6 441.8,502.9 441.9,503.5 442.0,505.9 442.2,508.2 442.0,511.7 441.9,515.0 442.4,517.1 442.2,519.3 442.3,517.2 442.3,517.9 442.5,512.0 442.7,508.6 442.6,505.8 442.7,502.4 442.7,500.9 442.7,497.4 443.1,495.1 443.3,492.7 443.4,488.8 443.5,484.9 443.8,481.6 443.9,479.3 444.1,477.5 444.5,474.6 444.9,472.5 444.8,465.5 445.2,464.5 445.6,461.6 445.3,459.5 445.7,456.2 446.1,451.6 446.5,449.7 447.0,447.8 447.1,449.9 447.8,449.7 447.9,450.9 447.9,449.4 448.7,448.8 448.7,443.2 449.4,448.0 449.8,450.5 449.9,455.7 450.3,452.1 450.6,449.0 451.2,448.2 451.3,452.3 452.0,454.5 452.2,457.4 452.6,453.6 452.7,451.0 452.6,447.3 452.8,443.8 453.2,441.8 453.5,445.3 453.8,443.2 454.2,452.0 454.8,451.9 454.9,451.2 455.5,458.2 455.6,456.1 456.1,454.1 456.3,454.4 456.6,454.9 456.5,457.2 457.1,464.4 457.3,463.2 457.4,466.4 457.5,465.8 457.9,461.9 458.3,459.4 458.4,456.3 458.8,457.6 459.2,459.6 459.5,461.9 459.8,458.1 460.0,456.6 460.3,452.9 460.7,450.8 461.0,453.1 461.4,455.8 461.8,457.7 462.0,454.6 462.3,453.1 462.7,450.6 462.9,454.3 463.3,458.6 463.2,459.6 463.6,461.4 463.7,468.6 464.1,462.3 464.3,459.5 464.5,453.6 464.7,454.1 464.8,450.4 465.1,453.0 465.7,453.4 465.9,454.6 466.2,457.9 466.5,460.6 466.8,463.9 467.0,466.8 467.1,468.4 467.3,473.3 467.3,474.1 467.3,480.0 467.4,481.4 467.5,485.0 467.5,487.8 467.7,481.0 467.9,481.4 468.2,480.1 468.1,475.0 468.1,472.6 468.3,469.3 468.3,468.7 468.7,463.4 468.8,466.2 468.9,466.2 469.2,468.0 470.0,467.2 470.2,471.8 470.5,473.9 470.9,474.8 471.3,476.3 471.3,479.2 471.5,481.3 472.0,483.1 472.3,484.8 472.2,491.8 472.4,493.5 472.8,497.0 473.1,499.4 473.5,502.0 473.5,505.9 474.1,507.6 474.3,509.6 474.9,514.2 475.0,518.1 475.3,521.3 475.2,520.7 475.4,525.6 475.8,527.3 476.0,530.6 476.4,534.5 476.4,536.9 476.7,539.3 476.8,543.0 476.9,544.5 477.2,548.8 477.5,550.3 478.0,554.6 478.0,556.8 478.5,557.1 478.5,560.8 478.7,564.5 479.0,567.5 479.3,570.0 479.7,573.8 479.8,577.7 480.0,578.9 480.2,581.9 480.6,584.8 481.0,588.0 481.3,588.4 481.8,582.0 481.7,581.4 481.9,574.2 481.9,572.1 481.9,565.9 482.3,566.3 482.2,564.2 482.5,560.3 482.5,555.9 482.7,552.0 482.5,550.6 482.7,546.9 482.8,544.9 483.0,542.2 482.9,538.2 483.1,535.4 483.2,534.8 483.3,534.9 483.9,537.6 483.7,534.9 484.3,532.3 484.1,529.4 484.2,524.7 484.3,522.6 484.5,518.5 484.8,515.2 485.0,513.3 485.2,510.0 485.7,506.5 485.8,503.4 485.8,501.1 486.1,497.3 486.4,495.1 486.8,490.8 486.6,491.0 486.8,498.4 487.0,500.0 486.9,502.2 487.1,505.4 487.4,510.0 487.8,507.3 487.8,504.7 487.9,502.0 488.1,498.8 488.3,494.1 489.0,488.6 488.9,494.3 489.1,497.7 489.1,499.6 489.3,503.7 489.5,507.4 489.5,509.1 489.6,505.4 489.6,503.2 489.7,501.3 489.8,497.1 489.9,493.8 490.1,490.9 490.1,487.5 490.2,485.5 490.4,483.0 490.4,485.4 490.4,488.5 490.5,490.7 490.7,496.5 490.7,496.3 490.7,499.3 490.7,502.4 491.1,508.2 490.9,510.1 491.3,513.4 491.4,516.0 491.4,519.4 491.8,520.7 491.7,520.0 492.0,517.4 492.1,517.1 492.3,510.3 492.3,507.9 492.4,503.9 492.5,500.9 492.6,498.4 493.1,497.0 493.4,494.4 493.9,491.4 493.9,490.2 494.3,487.8 494.5,485.8 494.8,481.9 495.0,481.1 495.5,477.8 495.6,474.5 496.0,471.5 495.8,474.8 495.9,476.7 496.3,480.6 496.1,483.1 496.5,486.0 496.5,491.0 496.6,492.8 496.4,490.6 496.9,487.3 497.1,484.1 497.1,481.4 497.3,478.1 497.3,475.1 497.6,471.9 497.7,469.0 497.5,466.0 497.6,463.4 497.8,459.9 497.8,456.8 498.0,453.9 498.1,457.4 498.1,460.2 498.3,462.5 498.1,465.1 498.2,469.6 498.2,472.3 498.4,476.2 498.4,478.9 498.5,480.8 498.4,484.4 498.6,487.4 498.7,491.8 499.0,494.7 498.7,497.5 499.0,500.3 499.0,503.5 499.0,505.8 499.3,508.2 499.5,511.4 499.6,514.7 499.5,516.0 499.7,519.5 500.1,522.6 500.2,526.4 500.3,524.9 500.4,520.4 500.5,518.5 500.7,517.9 500.7,518.3 501.1,521.5 501.0,524.8 501.0,528.6 500.9,534.4 501.2,535.0 501.2,538.3 501.4,541.6 501.4,543.2 501.4,545.9 501.3,546.4 501.4,553.5 501.5,549.7 501.9,547.3 501.6,543.0 501.7,539.6 501.5,536.9 501.7,533.5 502.0,530.8 501.9,528.8 502.0,525.4 502.0,522.6 502.0,519.7 502.2,516.1 502.2,514.4 502.3,511.5 502.4,507.2 502.7,504.8 502.9,502.1 503.1,508.2 503.4,507.7 503.1,511.0 503.6,514.5 504.0,517.1 503.9,519.3 503.8,522.2 504.0,519.7 504.2,515.3 504.0,513.8 504.0,510.6 504.2,507.4 504.0,504.5 504.1,505.3 504.3,501.9 504.3,495.8 504.5,492.8 504.5,489.6 504.7,485.5 504.5,484.1 504.5,480.7 504.4,477.7 504.5,475.4 504.7,472.4 504.4,468.4 504.9,470.3 504.7,473.5 504.9,476.9 505.1,479.7 504.9,482.2 505.1,484.6 504.9,488.5 505.1,492.8 505.0,495.4 505.3,500.3 505.8,494.3 506.1,492.0 506.2,493.8 506.1,498.0 506.2,500.2 506.3,499.7 506.1,505.5 506.4,509.8 506.3,511.5 506.5,514.6 506.5,516.9 506.6,518.7 506.5,523.9 506.7,526.8 506.8,530.4 506.7,531.8 506.9,535.8 506.7,532.3 506.8,531.9 506.7,526.1 507.1,522.9 506.9,519.2 507.2,518.0 507.3,514.4 507.3,510.7 507.5,506.4 507.3,504.2 507.2,501.2 507.5,498.5 507.5,494.5 507.6,491.6 507.7,489.3 508.0,486.8 507.8,482.8 508.1,480.5 507.9,479.1 508.3,474.4 508.7,472.5 508.7,466.8 509.2,466.6 509.5,463.9 509.9,465.0 510.2,465.3 510.1,467.3 510.6,469.3 510.1,473.3 510.9,476.1 510.6,478.7 510.9,480.4 511.0,482.9 510.9,486.4 511.2,484.4 511.1,481.1 511.4,478.0 511.5,474.7 511.9,471.1 511.8,468.6 512.1,464.7 512.2,462.5 512.4,465.8 512.5,470.1 513.0,472.2 513.2,475.2 513.4,473.8 513.6,472.0 514.1,467.9 514.4,465.0 514.5,461.4 514.8,457.6 515.0,457.0 515.0,461.2 515.0,463.5 515.2,465.9 515.1,468.1 515.6,471.6 515.5,473.8 515.8,478.3 515.8,480.9 516.4,479.0 516.7,475.4 517.1,471.9 517.4,474.6 517.3,477.8 517.7,481.0 517.9,485.2 518.0,487.7 518.5,484.7 519.0,481.6 519.2,480.0 519.3,482.8 519.4,484.0 519.7,487.5 519.6,488.3 519.7,494.1 519.8,497.5 519.9,499.4 520.2,497.5 520.4,493.6 520.5,491.3 520.7,488.5 521.0,486.0 521.4,488.2 521.4,489.6 522.0,492.7 522.3,490.4 522.5,487.2 522.7,484.7 522.9,480.7 523.0,478.6 523.0,479.3 523.3,473.7 523.7,469.7 523.3,466.3 523.8,463.9 524.2,463.2 524.3,460.6 525.0,463.7 525.2,466.1 525.2,468.8 525.5,472.3 526.1,468.5 526.0,462.1 526.4,460.6 526.6,458.6 527.0,461.6 526.9,464.5 527.1,466.1 527.2,468.7 527.3,472.4 527.4,475.6 527.5,478.8 527.7,481.4 528.0,479.0 528.2,474.5 528.7,473.4 529.0,469.1 529.1,472.7 529.6,474.7 529.8,477.5 530.2,474.7 530.7,471.9 531.0,467.5 531.1,465.6 531.3,466.0 531.7,458.9 531.6,456.4 531.8,453.8 531.9,451.0 532.3,451.9 532.5,454.5 533.0,456.3 533.2,458.8 533.4,461.6 533.7,463.9 533.8,467.1 533.7,471.4 534.1,472.4 534.1,474.9 534.6,477.9 535.0,480.3 535.2,485.1 535.4,484.9 535.6,489.3 536.0,492.9 536.1,495.4 536.4,496.5 536.1,500.2 536.4,504.1 536.9,507.4 536.8,514.2 536.7,515.6 536.8,520.4 537.0,514.7 537.2,510.6 537.6,506.9 537.5,503.0 537.8,501.9 538.1,499.2 538.5,496.7 538.7,492.6 538.7,497.0 538.9,499.4 538.8,499.8 539.4,504.7 539.2,510.1 539.4,508.7 539.8,513.4 539.9,516.1 539.9,519.4 540.2,522.4 540.5,524.6 541.2,528.8 541.5,531.1 541.9,537.4 542.0,537.0 542.2,536.6 542.7,545.2 542.9,543.8 543.1,545.6 543.1,550.0 543.9,552.7 543.8,555.2 544.2,559.7 544.0,560.8 544.3,564.3 544.5,567.7 544.6,570.3 544.5,573.4 545.1,576.5 545.4,579.4 545.6,584.3 545.8,585.4 546.0,588.6 546.6,587.7 547.1,587.8 547.5,588.1 547.9,588.1 548.4,588.0 548.8,588.0 549.3,587.7 549.7,587.8 550.1,587.8 550.6,587.8 551.0,587.7 551.4,584.6 551.9,580.9 551.8,574.2 551.9,575.1 552.2,573.3 552.3,570.4 552.1,566.3 552.7,564.3 552.7,560.0 553.0,560.3 553.3,555.0 553.4,553.2 553.6,550.2 554.0,548.5 554.1,544.7 554.3,542.6 554.5,539.8 554.8,536.2 555.0,533.4 555.3,532.3 555.8,528.2 555.3,526.8 556.1,521.6 556.2,520.3 556.3,513.7 556.7,514.7 556.9,511.3 557.0,507.4 557.3,503.4 557.5,501.2 557.7,498.6 557.6,496.4 557.8,492.2 558.0,489.2 558.2,486.9 558.1,484.0 558.4,480.8 558.4,478.3 558.6,481.8 558.6,483.6 558.7,488.2 559.0,489.2 558.7,491.0 559.0,494.5 558.9,497.8 559.0,501.9 559.2,504.8 558.9,506.5 559.2,512.5 559.1,507.3 559.3,505.6 559.4,502.5 559.3,499.1 559.4,496.6 559.7,492.6 559.7,490.9 559.5,487.3 559.7,483.9 560.0,488.2 560.2,491.3 560.2,493.8 560.6,497.8 560.6,501.9 560.4,503.2 561.3,498.0 561.4,497.7 561.4,494.8 561.6,491.5 561.8,487.0 561.8,483.6 561.9,481.4 562.0,485.3 562.1,488.3 562.5,491.2 562.3,494.7 562.6,497.7 562.8,501.6 562.9,503.5 562.9,506.9 563.1,504.4 563.4,500.1 563.4,498.9 563.8,495.1 564.0,492.5 564.1,488.5 564.2,491.1 564.3,494.8 564.3,500.1 564.7,500.4 564.6,503.9 565.0,508.2 565.0,511.1 565.1,507.6 565.5,505.3 565.3,501.7 565.7,498.9 565.5,496.1 565.9,494.2 565.8,489.3 566.3,486.0 566.4,483.1 566.4,481.5 566.5,477.4 566.4,474.2 566.3,471.7 566.7,468.1 566.4,465.3 566.7,460.1 567.0,459.3 567.2,462.1 567.2,464.4 567.4,468.3 567.5,469.3 567.7,466.7 567.9,463.9 568.4,460.5 568.6,458.7 568.6,461.2 568.8,465.0 568.8,468.5 569.0,471.5 569.0,475.7 569.2,478.0 569.3,478.6 569.3,484.0 569.5,487.7 569.3,490.9 569.4,493.6 569.5,494.4 569.9,499.7 569.8,500.9 569.8,504.5 569.9,508.5 570.3,506.8 570.0,508.3 570.4,505.4 570.2,501.6 570.5,499.2 570.7,495.9 570.9,494.0 570.9,496.1 570.9,498.8 571.0,501.2 570.8,505.1 571.1,507.5 571.0,510.4 571.3,513.9 571.0,514.2 571.2,519.5 571.3,521.7 571.4,525.4 571.6,529.1 571.5,532.2 571.6,529.2 571.5,526.5 571.6,523.1 571.4,519.7 571.9,516.1 571.9,516.1 571.8,506.8 571.9,507.2 572.2,505.0 572.0,498.7 572.0,498.4 572.2,495.0 572.8,491.7 572.5,488.1 572.6,488.9 572.7,482.6 572.9,480.7 573.4,477.4 573.7,474.8 573.8,467.5 574.3,471.0 574.1,466.4 574.4,459.8 574.7,459.3 575.0,456.7 575.1,454.1 575.6,453.2 575.6,449.1 575.7,446.5 576.0,451.2 576.2,452.9 576.4,456.8 576.6,459.3 576.5,462.4 577.1,460.4 577.3,457.0 577.6,454.4 578.0,450.9 578.3,453.9 578.6,455.2 578.9,458.6 579.0,455.8 579.6,453.2 579.9,449.3 580.0,454.3 580.1,455.6 580.4,461.6 580.5,462.1 580.9,465.0 580.8,469.4 580.9,470.6 581.0,468.8 581.1,466.0 581.3,466.0 581.6,460.5 581.8,458.2 581.7,455.3 582.1,451.0 582.2,453.7 582.7,456.7 583.0,460.7 583.5,455.9 583.9,454.2 584.2,452.9 584.6,454.6 584.8,456.2 585.1,459.2 585.7,457.9 586.0,458.1 586.2,456.0 586.4,457.0 586.6,462.8 586.9,465.2 587.5,468.0 587.7,464.8 587.9,463.3 588.3,459.6 588.9,460.6 589.0,464.0 589.6,464.0 589.8,462.1 590.0,461.2 590.7,455.4 591.0,458.7 590.9,459.2 591.5,461.2 591.7,458.4 592.0,454.4 592.3,451.7 592.8,447.9 592.8,451.5 593.1,454.3 593.2,457.4 593.3,460.7 593.6,463.5 593.7,459.4 594.1,455.7 594.1,452.6 594.5,449.6 594.8,447.3 594.8,450.1 594.9,453.0 594.9,456.1 595.2,459.5 595.1,462.3 595.2,464.7 595.4,465.7 595.7,471.2 595.6,474.6 595.6,477.7 595.8,474.5 596.2,470.7 596.1,469.4 596.4,466.1 596.6,461.6 596.7,458.1 597.1,456.1 596.9,460.3 597.0,464.1 596.9,466.8 597.0,468.8 597.2,472.4 597.1,474.7 597.2,477.3 597.2,479.9 597.3,483.4 597.3,487.1 597.3,489.1 597.4,493.9 597.5,496.1 597.7,500.3 597.7,501.6 597.6,497.5 597.8,499.4 597.8,492.8 598.0,490.7 598.2,487.9 598.4,483.9 598.4,479.9 598.4,477.4 598.5,472.1 598.8,478.6 599.2,481.1 599.4,484.8 599.6,487.1 600.0,484.8 600.4,480.6 600.8,480.1 600.9,481.0 601.1,481.1 601.4,489.0 601.8,490.9 602.2,487.8 602.2,484.8 602.6,483.7 602.9,487.3 603.2,489.8 603.4,492.0 603.5,493.5 603.7,495.3 604.2,494.1 604.5,494.4 604.9,493.4 605.2,495.2 605.4,498.8 605.7,503.2 605.6,504.9 605.9,507.7 606.0,509.8 606.1,513.5 606.7,516.9 606.8,519.0 607.1,523.1 607.3,526.6 607.7,527.8 607.8,530.8 607.9,535.8 608.3,538.6 608.2,536.6 608.3,533.2 608.3,528.8 608.6,526.2 608.4,523.1 608.6,521.3 608.7,515.6 608.8,515.1 608.8,510.6 609.1,507.4 609.3,505.8 609.3,501.7 609.6,498.1 609.7,500.8 610.3,504.3 610.6,506.6 610.9,503.1 611.3,500.4 611.7,496.3 611.8,493.7 612.2,491.4 612.4,493.8 612.8,488.9 612.8,483.7 612.9,479.7 613.1,477.0 613.0,473.7 613.2,470.0 613.3,469.5 613.7,464.9 613.9,467.3 614.1,473.9 614.1,472.9 614.4,475.9 614.3,479.0 614.6,481.3 614.6,486.1 614.8,489.0 615.0,492.6 615.0,496.3 615.4,499.6 615.5,502.3 615.7,498.7 615.8,494.3 616.2,493.3 616.6,497.0 616.6,497.8 616.5,502.9 616.9,504.1 617.0,507.9 617.3,509.8 617.4,514.0 617.5,518.8 617.5,518.2 618.0,523.2 617.9,526.0 618.4,528.4 618.0,531.6 618.5,529.4 618.7,525.1 618.9,521.7 619.1,518.3 619.4,516.1 619.5,512.9 619.5,510.8 619.6,507.2 619.7,504.6 619.7,500.3 619.8,497.9 619.9,494.9 620.2,490.7 620.2,489.6 620.1,485.5 620.4,482.8 620.7,478.5 620.8,475.8 620.8,476.9 621.2,469.5 621.2,466.7 621.5,465.1 622.0,461.1 622.3,460.7 622.8,457.6 622.7,456.4 623.3,459.2 623.4,460.9 624.1,466.9 624.3,458.7 624.3,456.9 624.6,453.3 624.6,453.3 624.8,456.1 625.1,457.0 625.1,459.8 625.2,462.1 625.2,466.2 625.6,466.5 625.7,471.6 625.9,466.0 625.8,465.9 625.9,462.4 626.2,460.0 626.4,458.2 626.3,455.3 626.5,457.3 626.8,460.9 626.6,464.1 626.8,467.4 626.8,468.9 626.9,472.2 627.0,474.9 627.3,478.7 627.4,481.2 627.4,482.9 627.4,490.0 627.4,483.8 627.9,481.4 627.9,479.1 628.2,473.8 628.1,470.7 628.4,467.2 628.3,465.6 628.5,462.2 628.9,464.3 629.3,467.5 629.4,474.4 630.0,469.7 630.1,465.7 629.9,463.3 630.6,461.0 630.5,457.6 631.0,460.6 631.1,462.3 631.6,466.1 631.5,468.8 631.9,471.3 631.8,470.0 632.0,465.1 632.3,462.2 632.5,461.4 632.8,456.7" fill="none" stroke="#87ceeb" stroke-width="1.3" stroke-linejoin="round" stroke-linecap="butt" />
</g>
<text x="41.4" y="433.65" font-size="17.15">c) OSTIA @ 0.125°E,80.125°N</text>
<text x="33.6" y="446.25" font-size="14" text-anchor="end">2</text>
<text x="33.6" y="483.16" font-size="14" text-anchor="end">1</text>
<text x="33.6" y="520.08" font-size="14" text-anchor="end">0</text>
<text x="33.6" y="556.99" font-size="14" text-anchor="end">−1</text>
<text x="33.6" y="593.90" font-size="14" text-anchor="end">−2</text>
<text x="664.6" y="446.25" font-size="14" text-anchor="end">100</text>
<text x="664.6" y="475.78" font-size="14" text-anchor="end">80</text>
<text x="664.6" y="505.31" font-size="14" text-anchor="end">60</text>
<text x="664.6" y="534.84" font-size="14" text-anchor="end">40</text>
<text x="664.6" y="564.37" font-size="14" text-anchor="end">20</text>
<text x="664.6" y="593.90" font-size="14" text-anchor="end">0</text>
<text x="32.50" y="607.70" font-size="14">Jan</text>
<text x="67.69" y="607.70" font-size="14">Jul</text>
<text x="73.99" y="619.80" font-size="12.5" text-anchor="middle">2014</text>
<text x="98.23" y="607.70" font-size="14">Jan</text>
<text x="133.42" y="607.70" font-size="14">Jul</text>
<text x="139.72" y="619.80" font-size="12.5" text-anchor="middle">2015</text>
<text x="163.95" y="607.70" font-size="14">Jan</text>
<text x="199.33" y="607.70" font-size="14">Jul</text>
<text x="205.63" y="619.80" font-size="12.5" text-anchor="middle">2016</text>
<text x="229.86" y="607.70" font-size="14">Jan</text>
<text x="265.05" y="607.70" font-size="14">Jul</text>
<text x="271.35" y="619.80" font-size="12.5" text-anchor="middle">2017</text>
<text x="295.59" y="607.70" font-size="14">Jan</text>
<text x="330.78" y="607.70" font-size="14">Jul</text>
<text x="337.08" y="619.80" font-size="12.5" text-anchor="middle">2018</text>
<text x="361.31" y="607.70" font-size="14">Jan</text>
<text x="396.51" y="607.70" font-size="14">Jul</text>
<text x="402.81" y="619.80" font-size="12.5" text-anchor="middle">2019</text>
<text x="427.04" y="607.70" font-size="14">Jan</text>
<text x="462.41" y="607.70" font-size="14">Jul</text>
<text x="468.71" y="619.80" font-size="12.5" text-anchor="middle">2020</text>
<text x="492.95" y="607.70" font-size="14">Jan</text>
<text x="528.14" y="607.70" font-size="14">Jul</text>
<text x="534.44" y="619.80" font-size="12.5" text-anchor="middle">2021</text>
<text x="558.67" y="607.70" font-size="14">Jan</text>
<text x="593.87" y="607.70" font-size="14">Jul</text>
<text x="600.17" y="619.80" font-size="12.5" text-anchor="middle">2022</text>
<text transform="translate(10.9 515.58) rotate(-90)" font-size="15.15" text-anchor="middle">Temperature (°C)</text>
<text transform="translate(682.0 515.38) rotate(-90)" font-size="15" text-anchor="middle">Sea ice concentration (%)</text>
</g>
<g>
<path d="M41.00 799.30v16.50M41.00 651.65v-13.50" stroke="#000" stroke-width="0.6" fill="none"/>
<path d="M46.58 799.30v2.60M46.58 651.65v-2.60" stroke="#000" stroke-width="0.7" fill="none"/>
<path d="M51.62 799.30v2.60M51.62 651.65v-2.60" stroke="#000" stroke-width="0.7" fill="none"/>
<path d="M57.21 799.30v2.60M57.21 651.65v-2.60" stroke="#000" stroke-width="0.7" fill="none"/>
<path d="M62.61 799.30v2.60M62.61 651.65v-2.60" stroke="#000" stroke-width="0.7" fill="none"/>
<path d="M68.19 799.30v2.60M68.19 651.65v-2.60" stroke="#000" stroke-width="0.7" fill="none"/>
<path d="M73.59 799.30v5.00M73.59 651.65v-5.00" stroke="#000" stroke-width="0.9" fill="none"/>
<path d="M79.18 799.30v2.60M79.18 651.65v-2.60" stroke="#000" stroke-width="0.7" fill="none"/>
<path d="M84.76 799.30v2.60M84.76 651.65v-2.60" stroke="#000" stroke-width="0.7" fill="none"/>
<path d="M90.16 799.30v2.60M90.16 651.65v-2.60" stroke="#000" stroke-width="0.7" fill="none"/>
<path d="M95.74 799.30v2.60M95.74 651.65v-2.60" stroke="#000" stroke-width="0.7" fill="none"/>
<path d="M101.14 799.30v2.60M101.14 651.65v-2.60" stroke="#000" stroke-width="0.7" fill="none"/>
<path d="M106.73 799.30v16.50M106.73 651.65v-13.50" stroke="#000" stroke-width="0.6" fill="none"/>
<path d="M112.31 799.30v2.60M112.31 651.65v-2.60" stroke="#000" stroke-width="0.7" fill="none"/>
<path d="M117.35 799.30v2.60M117.35 651.65v-2.60" stroke="#000" stroke-width="0.7" fill="none"/>
<path d="M122.93 799.30v2.60M122.93 651.65v-2.60" stroke="#000" stroke-width="0.7" fill="none"/>
<path d="M128.34 799.30v2.60M128.34 651.65v-2.60" stroke="#000" stroke-width="0.7" fill="none"/>
<path d="M133.92 799.30v2.60M133.92 651.65v-2.60" stroke="#000" stroke-width="0.7" fill="none"/>
<path d="M139.32 799.30v5.00M139.32 651.65v-5.00" stroke="#000" stroke-width="0.9" fill="none"/>
<path d="M144.90 799.30v2.60M144.90 651.65v-2.60" stroke="#000" stroke-width="0.7" fill="none"/>
<path d="M150.48 799.30v2.60M150.48 651.65v-2.60" stroke="#000" stroke-width="0.7" fill="none"/>
<path d="M155.89 799.30v2.60M155.89 651.65v-2.60" stroke="#000" stroke-width="0.7" fill="none"/>
<path d="M161.47 799.30v2.60M161.47 651.65v-2.60" stroke="#000" stroke-width="0.7" fill="none"/>
<path d="M166.87 799.30v2.60M166.87 651.65v-2.60" stroke="#000" stroke-width="0.7" fill="none"/>
<path d="M172.45 799.30v16.50M172.45 651.65v-13.50" stroke="#000" stroke-width="0.6" fill="none"/>
<path d="M178.04 799.30v2.60M178.04 651.65v-2.60" stroke="#000" stroke-width="0.7" fill="none"/>
<path d="M183.26 799.30v2.60M183.26 651.65v-2.60" stroke="#000" stroke-width="0.7" fill="none"/>
<path d="M188.84 799.30v2.60M188.84 651.65v-2.60" stroke="#000" stroke-width="0.7" fill="none"/>
<path d="M194.24 799.30v2.60M194.24 651.65v-2.60" stroke="#000" stroke-width="0.7" fill="none"/>
<path d="M199.82 799.30v2.60M199.82 651.65v-2.60" stroke="#000" stroke-width="0.7" fill="none"/>
<path d="M205.23 799.30v5.00M205.23 651.65v-5.00" stroke="#000" stroke-width="0.9" fill="none"/>
<path d="M210.81 799.30v2.60M210.81 651.65v-2.60" stroke="#000" stroke-width="0.7" fill="none"/>
<path d="M216.39 799.30v2.60M216.39 651.65v-2.60" stroke="#000" stroke-width="0.7" fill="none"/>
<path d="M221.79 799.30v2.60M221.79 651.65v-2.60" stroke="#000" stroke-width="0.7" fill="none"/>
<path d="M227.38 799.30v2.60M227.38 651.65v-2.60" stroke="#000" stroke-width="0.7" fill="none"/>
<path d="M232.78 799.30v2.60M232.78 651.65v-2.60" stroke="#000" stroke-width="0.7" fill="none"/>
<path d="M238.36 799.30v16.50M238.36 651.65v-13.50" stroke="#000" stroke-width="0.6" fill="none"/>
<path d="M243.94 799.30v2.60M243.94 651.65v-2.60" stroke="#000" stroke-width="0.7" fill="none"/>
<path d="M248.98 799.30v2.60M248.98 651.65v-2.60" stroke="#000" stroke-width="0.7" fill="none"/>
<path d="M254.57 799.30v2.60M254.57 651.65v-2.60" stroke="#000" stroke-width="0.7" fill="none"/>
<path d="M259.97 799.30v2.60M259.97 651.65v-2.60" stroke="#000" stroke-width="0.7" fill="none"/>
<path d="M265.55 799.30v2.60M265.55 651.65v-2.60" stroke="#000" stroke-width="0.7" fill="none"/>
<path d="M270.95 799.30v5.00M270.95 651.65v-5.00" stroke="#000" stroke-width="0.9" fill="none"/>
<path d="M276.54 799.30v2.60M276.54 651.65v-2.60" stroke="#000" stroke-width="0.7" fill="none"/>
<path d="M282.12 799.30v2.60M282.12 651.65v-2.60" stroke="#000" stroke-width="0.7" fill="none"/>
<path d="M287.52 799.30v2.60M287.52 651.65v-2.60" stroke="#000" stroke-width="0.7" fill="none"/>
<path d="M293.10 799.30v2.60M293.10 651.65v-2.60" stroke="#000" stroke-width="0.7" fill="none"/>
<path d="M298.50 799.30v2.60M298.50 651.65v-2.60" stroke="#000" stroke-width="0.7" fill="none"/>
<path d="M304.09 799.30v16.50M304.09 651.65v-13.50" stroke="#000" stroke-width="0.6" fill="none"/>
<path d="M309.67 799.30v2.60M309.67 651.65v-2.60" stroke="#000" stroke-width="0.7" fill="none"/>
<path d="M314.71 799.30v2.60M314.71 651.65v-2.60" stroke="#000" stroke-width="0.7" fill="none"/>
<path d="M320.29 799.30v2.60M320.29 651.65v-2.60" stroke="#000" stroke-width="0.7" fill="none"/>
<path d="M325.70 799.30v2.60M325.70 651.65v-2.60" stroke="#000" stroke-width="0.7" fill="none"/>
<path d="M331.28 799.30v2.60M331.28 651.65v-2.60" stroke="#000" stroke-width="0.7" fill="none"/>
<path d="M336.68 799.30v5.00M336.68 651.65v-5.00" stroke="#000" stroke-width="0.9" fill="none"/>
<path d="M342.26 799.30v2.60M342.26 651.65v-2.60" stroke="#000" stroke-width="0.7" fill="none"/>
<path d="M347.84 799.30v2.60M347.84 651.65v-2.60" stroke="#000" stroke-width="0.7" fill="none"/>
<path d="M353.25 799.30v2.60M353.25 651.65v-2.60" stroke="#000" stroke-width="0.7" fill="none"/>
<path d="M358.83 799.30v2.60M358.83 651.65v-2.60" stroke="#000" stroke-width="0.7" fill="none"/>
<path d="M364.23 799.30v2.60M364.23 651.65v-2.60" stroke="#000" stroke-width="0.7" fill="none"/>
<path d="M369.81 799.30v16.50M369.81 651.65v-13.50" stroke="#000" stroke-width="0.6" fill="none"/>
<path d="M375.40 799.30v2.60M375.40 651.65v-2.60" stroke="#000" stroke-width="0.7" fill="none"/>
<path d="M380.44 799.30v2.60M380.44 651.65v-2.60" stroke="#000" stroke-width="0.7" fill="none"/>
<path d="M386.02 799.30v2.60M386.02 651.65v-2.60" stroke="#000" stroke-width="0.7" fill="none"/>
<path d="M391.42 799.30v2.60M391.42 651.65v-2.60" stroke="#000" stroke-width="0.7" fill="none"/>
<path d="M397.00 799.30v2.60M397.00 651.65v-2.60" stroke="#000" stroke-width="0.7" fill="none"/>
<path d="M402.41 799.30v5.00M402.41 651.65v-5.00" stroke="#000" stroke-width="0.9" fill="none"/>
<path d="M407.99 799.30v2.60M407.99 651.65v-2.60" stroke="#000" stroke-width="0.7" fill="none"/>
<path d="M413.57 799.30v2.60M413.57 651.65v-2.60" stroke="#000" stroke-width="0.7" fill="none"/>
<path d="M418.97 799.30v2.60M418.97 651.65v-2.60" stroke="#000" stroke-width="0.7" fill="none"/>
<path d="M424.56 799.30v2.60M424.56 651.65v-2.60" stroke="#000" stroke-width="0.7" fill="none"/>
<path d="M429.96 799.30v2.60M429.96 651.65v-2.60" stroke="#000" stroke-width="0.7" fill="none"/>
<path d="M435.54 799.30v16.50M435.54 651.65v-13.50" stroke="#000" stroke-width="0.6" fill="none"/>
<path d="M441.12 799.30v2.60M441.12 651.65v-2.60" stroke="#000" stroke-width="0.7" fill="none"/>
<path d="M446.34 799.30v2.60M446.34 651.65v-2.60" stroke="#000" stroke-width="0.7" fill="none"/>
<path d="M451.93 799.30v2.60M451.93 651.65v-2.60" stroke="#000" stroke-width="0.7" fill="none"/>
<path d="M457.33 799.30v2.60M457.33 651.65v-2.60" stroke="#000" stroke-width="0.7" fill="none"/>
<path d="M462.91 799.30v2.60M462.91 651.65v-2.60" stroke="#000" stroke-width="0.7" fill="none"/>
<path d="M468.31 799.30v5.00M468.31 651.65v-5.00" stroke="#000" stroke-width="0.9" fill="none"/>
<path d="M473.90 799.30v2.60M473.90 651.65v-2.60" stroke="#000" stroke-width="0.7" fill="none"/>
<path d="M479.48 799.30v2.60M479.48 651.65v-2.60" stroke="#000" stroke-width="0.7" fill="none"/>
<path d="M484.88 799.30v2.60M484.88 651.65v-2.60" stroke="#000" stroke-width="0.7" fill="none"/>
<path d="M490.46 799.30v2.60M490.46 651.65v-2.60" stroke="#000" stroke-width="0.7" fill="none"/>
<path d="M495.86 799.30v2.60M495.86 651.65v-2.60" stroke="#000" stroke-width="0.7" fill="none"/>
<path d="M501.45 799.30v16.50M501.45 651.65v-13.50" stroke="#000" stroke-width="0.6" fill="none"/>
<path d="M507.03 799.30v2.60M507.03 651.65v-2.60" stroke="#000" stroke-width="0.7" fill="none"/>
<path d="M512.07 799.30v2.60M512.07 651.65v-2.60" stroke="#000" stroke-width="0.7" fill="none"/>
<path d="M517.65 799.30v2.60M517.65 651.65v-2.60" stroke="#000" stroke-width="0.7" fill="none"/>
<path d="M523.06 799.30v2.60M523.06 651.65v-2.60" stroke="#000" stroke-width="0.7" fill="none"/>
<path d="M528.64 799.30v2.60M528.64 651.65v-2.60" stroke="#000" stroke-width="0.7" fill="none"/>
<path d="M534.04 799.30v5.00M534.04 651.65v-5.00" stroke="#000" stroke-width="0.9" fill="none"/>
<path d="M539.62 799.30v2.60M539.62 651.65v-2.60" stroke="#000" stroke-width="0.7" fill="none"/>
<path d="M545.20 799.30v2.60M545.20 651.65v-2.60" stroke="#000" stroke-width="0.7" fill="none"/>
<path d="M550.61 799.30v2.60M550.61 651.65v-2.60" stroke="#000" stroke-width="0.7" fill="none"/>
<path d="M556.19 799.30v2.60M556.19 651.65v-2.60" stroke="#000" stroke-width="0.7" fill="none"/>
<path d="M561.59 799.30v2.60M561.59 651.65v-2.60" stroke="#000" stroke-width="0.7" fill="none"/>
<path d="M567.17 799.30v16.50M567.17 651.65v-13.50" stroke="#000" stroke-width="0.6" fill="none"/>
<path d="M572.76 799.30v2.60M572.76 651.65v-2.60" stroke="#000" stroke-width="0.7" fill="none"/>
<path d="M577.80 799.30v2.60M577.80 651.65v-2.60" stroke="#000" stroke-width="0.7" fill="none"/>
<path d="M583.38 799.30v2.60M583.38 651.65v-2.60" stroke="#000" stroke-width="0.7" fill="none"/>
<path d="M588.78 799.30v2.60M588.78 651.65v-2.60" stroke="#000" stroke-width="0.7" fill="none"/>
<path d="M594.36 799.30v2.60M594.36 651.65v-2.60" stroke="#000" stroke-width="0.7" fill="none"/>
<path d="M599.77 799.30v5.00M599.77 651.65v-5.00" stroke="#000" stroke-width="0.9" fill="none"/>
<path d="M605.35 799.30v2.60M605.35 651.65v-2.60" stroke="#000" stroke-width="0.7" fill="none"/>
<path d="M610.93 799.30v2.60M610.93 651.65v-2.60" stroke="#000" stroke-width="0.7" fill="none"/>
<path d="M616.33 799.30v2.60M616.33 651.65v-2.60" stroke="#000" stroke-width="0.7" fill="none"/>
<path d="M621.92 799.30v2.60M621.92 651.65v-2.60" stroke="#000" stroke-width="0.7" fill="none"/>
<path d="M627.32 799.30v2.60M627.32 651.65v-2.60" stroke="#000" stroke-width="0.7" fill="none"/>
<path d="M41.00 651.65h-5.00" stroke="#000" stroke-width="0.9"/>
<path d="M41.00 659.03h-2.20" stroke="#000" stroke-width="0.7"/>
<path d="M41.00 666.41h-2.20" stroke="#000" stroke-width="0.7"/>
<path d="M41.00 673.80h-2.20" stroke="#000" stroke-width="0.7"/>
<path d="M41.00 681.18h-2.20" stroke="#000" stroke-width="0.7"/>
<path d="M41.00 688.56h-5.00" stroke="#000" stroke-width="0.9"/>
<path d="M41.00 695.94h-2.20" stroke="#000" stroke-width="0.7"/>
<path d="M41.00 703.33h-2.20" stroke="#000" stroke-width="0.7"/>
<path d="M41.00 710.71h-2.20" stroke="#000" stroke-width="0.7"/>
<path d="M41.00 718.09h-2.20" stroke="#000" stroke-width="0.7"/>
<path d="M41.00 725.48h-5.00" stroke="#000" stroke-width="0.9"/>
<path d="M41.00 732.86h-2.20" stroke="#000" stroke-width="0.7"/>
<path d="M41.00 740.24h-2.20" stroke="#000" stroke-width="0.7"/>
<path d="M41.00 747.62h-2.20" stroke="#000" stroke-width="0.7"/>
<path d="M41.00 755.00h-2.20" stroke="#000" stroke-width="0.7"/>
<path d="M41.00 762.39h-5.00" stroke="#000" stroke-width="0.9"/>
<path d="M41.00 769.77h-2.20" stroke="#000" stroke-width="0.7"/>
<path d="M41.00 777.15h-2.20" stroke="#000" stroke-width="0.7"/>
<path d="M41.00 784.53h-2.20" stroke="#000" stroke-width="0.7"/>
<path d="M41.00 791.92h-2.20" stroke="#000" stroke-width="0.7"/>
<path d="M41.00 799.30h-5.00" stroke="#000" stroke-width="0.9"/>
<path d="M632.90 651.65h5.00" stroke="#000" stroke-width="0.9"/>
<path d="M632.90 666.41h2.20" stroke="#000" stroke-width="0.7"/>
<path d="M632.90 681.18h5.00" stroke="#000" stroke-width="0.9"/>
<path d="M632.90 695.94h2.20" stroke="#000" stroke-width="0.7"/>
<path d="M632.90 710.71h5.00" stroke="#000" stroke-width="0.9"/>
<path d="M632.90 725.48h2.20" stroke="#000" stroke-width="0.7"/>
<path d="M632.90 740.24h5.00" stroke="#000" stroke-width="0.9"/>
<path d="M632.90 755.00h2.20" stroke="#000" stroke-width="0.7"/>
<path d="M632.90 769.77h5.00" stroke="#000" stroke-width="0.9"/>
<path d="M632.90 784.53h2.20" stroke="#000" stroke-width="0.7"/>
<path d="M632.90 799.30h5.00" stroke="#000" stroke-width="0.9"/>
<rect x="41.00" y="651.65" width="591.90" height="147.65" fill="none" stroke="#000" stroke-width="1.6"/>
<clipPath id="c3"><rect x="40.50" y="650.85" width="592.90" height="149.25"/></clipPath>
<g clip-path="url(#c3)">
<polyline points="41.8,712.4 43.3,708.0 45.1,705.4 46.8,703.6 48.3,703.3 49.5,707.1 50.7,710.7 52.1,711.5 53.9,710.3 55.6,709.8 57.4,712.4 59.2,712.8 60.9,711.5 62.7,708.9 64.4,708.5 66.2,711.5 68.0,716.8 69.7,722.1 71.1,723.0 72.9,720.4 74.7,714.2 76.4,708.0 78.2,703.6 80.3,702.2 82.1,702.2 84.2,701.9 85.9,703.6 87.7,707.1 89.4,713.3 91.2,720.4 93.0,726.5 94.7,731.8 96.5,735.0 98.2,734.5 100.0,732.7 102.3,730.0 104.1,725.6 105.8,719.5 107.5,712.4 109.1,708.0 110.8,705.4 112.6,703.6 114.0,703.3 115.2,707.1 116.4,710.7 117.9,711.5 119.6,710.3 121.4,709.8 123.1,712.4 124.9,712.8 126.7,711.5 128.4,708.9 130.2,708.5 131.9,711.5 133.7,716.8 135.5,722.1 136.9,723.0 138.6,720.4 140.4,714.2 142.1,708.0 143.9,703.6 146.0,702.2 147.8,702.2 149.9,701.9 151.7,703.6 153.4,707.1 155.2,713.3 156.9,720.4 158.7,726.5 160.5,731.8 162.2,735.0 164.0,734.5 165.7,732.7 168.0,730.0 169.8,725.6 171.5,719.5 173.3,712.4 174.8,708.0 176.5,705.4 178.3,703.6 179.7,703.3 181.0,707.1 182.2,710.7 183.6,711.5 185.4,710.3 187.1,709.8 188.9,712.4 190.7,712.8 192.4,711.5 194.2,708.9 196.0,708.5 197.7,711.5 199.5,716.8 201.3,722.1 202.7,723.0 204.4,720.4 206.2,714.2 208.0,708.0 209.7,703.6 211.9,702.2 213.6,702.2 215.7,701.9 217.5,703.6 219.3,707.1 221.0,713.3 222.8,720.4 224.6,726.5 226.3,731.8 228.1,735.0 229.9,734.5 231.6,732.7 233.9,730.0 235.7,725.6 237.4,719.5 239.2,712.4 240.7,708.0 242.4,705.4 244.2,703.6 245.6,703.3 246.8,707.1 248.1,710.7 249.5,711.5 251.2,710.3 253.0,709.8 254.8,712.4 256.5,712.8 258.3,711.5 260.0,708.9 261.8,708.5 263.6,711.5 265.3,716.8 267.1,722.1 268.5,723.0 270.3,720.4 272.0,714.2 273.8,708.0 275.5,703.6 277.7,702.2 279.4,702.2 281.5,701.9 283.3,703.6 285.0,707.1 286.8,713.3 288.6,720.4 290.3,726.5 292.1,731.8 293.8,735.0 295.6,734.5 297.4,732.7 299.7,730.0 301.4,725.6 303.2,719.5 304.9,712.4 306.4,708.0 308.2,705.4 309.9,703.6 311.3,703.3 312.6,707.1 313.8,710.7 315.2,711.5 317.0,710.3 318.7,709.8 320.5,712.4 322.3,712.8 324.0,711.5 325.8,708.9 327.5,708.5 329.3,711.5 331.1,716.8 332.8,722.1 334.2,723.0 336.0,720.4 337.7,714.2 339.5,708.0 341.3,703.6 343.4,702.2 345.1,702.2 347.3,701.9 349.0,703.6 350.8,707.1 352.5,713.3 354.3,720.4 356.1,726.5 357.8,731.8 359.6,735.0 361.3,734.5 363.1,732.7 365.4,730.0 367.1,725.6 368.9,719.5 370.6,712.4 372.1,708.0 373.9,705.4 375.7,703.6 377.1,703.3 378.3,707.1 379.5,710.7 380.9,711.5 382.7,710.3 384.5,709.8 386.2,712.4 388.0,712.8 389.7,711.5 391.5,708.9 393.3,708.5 395.0,711.5 396.8,716.8 398.5,722.1 400.0,723.0 401.7,720.4 403.5,714.2 405.2,708.0 407.0,703.6 409.1,702.2 410.9,702.2 413.0,701.9 414.7,703.6 416.5,707.1 418.3,713.3 420.0,720.4 421.8,726.5 423.5,731.8 425.3,735.0 427.1,734.5 428.8,732.7 431.1,730.0 432.9,725.6 434.6,719.5 436.4,712.4 437.9,708.0 439.6,705.4 441.4,703.6 442.8,703.3 444.0,707.1 445.3,710.7 446.7,711.5 448.5,710.3 450.2,709.8 452.0,712.4 453.8,712.8 455.5,711.5 457.3,708.9 459.1,708.5 460.8,711.5 462.6,716.8 464.3,722.1 465.8,723.0 467.5,720.4 469.3,714.2 471.1,708.0 472.8,703.6 474.9,702.2 476.7,702.2 478.8,701.9 480.6,703.6 482.4,707.1 484.1,713.3 485.9,720.4 487.6,726.5 489.4,731.8 491.2,735.0 492.9,734.5 494.7,732.7 497.0,730.0 498.8,725.6 500.5,719.5 502.3,712.4 503.8,708.0 505.5,705.4 507.3,703.6 508.7,703.3 509.9,707.1 511.2,710.7 512.6,711.5 514.3,710.3 516.1,709.8 517.9,712.4 519.6,712.8 521.4,711.5 523.1,708.9 524.9,708.5 526.7,711.5 528.4,716.8 530.2,722.1 531.6,723.0 533.3,720.4 535.1,714.2 536.9,708.0 538.6,703.6 540.7,702.2 542.5,702.2 544.6,701.9 546.4,703.6 548.1,707.1 549.9,713.3 551.7,720.4 553.4,726.5 555.2,731.8 556.9,735.0 558.7,734.5 560.5,732.7 562.7,730.0 564.5,725.6 566.3,719.5 568.0,712.4 569.5,708.0 571.3,705.4 573.0,703.6 574.4,703.3 575.7,707.1 576.9,710.7 578.3,711.5 580.1,710.3 581.8,709.8 583.6,712.4 585.3,712.8 587.1,711.5 588.9,708.9 590.6,708.5 592.4,711.5 594.1,716.8 595.9,722.1 597.3,723.0 599.1,720.4 600.8,714.2 602.6,708.0 604.4,703.6 606.5,702.2 608.2,702.2 610.3,701.9 612.1,703.6 613.9,707.1 615.6,713.3 617.4,720.4 619.1,726.5 620.9,731.8 622.7,735.0 624.4,734.5 626.2,732.7 628.5,730.0 630.2,725.6 632.0,719.5 632.9,712.4" fill="none" stroke="#3a762e" stroke-width="2.4" stroke-linejoin="round" stroke-linecap="butt" />
<polyline points="41.8,751.2 43.3,749.1 45.1,747.7 46.3,747.3 47.7,748.5 49.5,751.2 51.2,753.3 53.0,754.4 55.6,754.7 58.3,754.4 60.9,753.3 63.6,752.6 65.3,753.3 67.1,755.6 68.8,759.1 70.6,761.4 71.8,761.8 73.3,759.1 75.0,753.8 76.8,746.8 78.5,740.6 80.3,738.0 82.1,737.4 83.8,738.5 85.6,740.3 87.3,742.4 89.1,745.0 90.9,749.4 92.6,754.7 94.4,760.0 96.1,763.5 98.2,764.9 100.5,763.5 102.3,761.8 104.1,759.1 105.8,755.6 107.5,751.2 109.1,749.1 110.8,747.7 112.0,747.3 113.5,748.5 115.2,751.2 117.0,753.3 118.7,754.4 121.4,754.7 124.0,754.4 126.7,753.3 129.3,752.6 131.1,753.3 132.8,755.6 134.6,759.1 136.3,761.4 137.6,761.8 139.0,759.1 140.7,753.8 142.5,746.8 144.3,740.6 146.0,738.0 147.8,737.4 149.5,738.5 151.3,740.3 153.1,742.4 154.8,745.0 156.6,749.4 158.3,754.7 160.1,760.0 161.9,763.5 164.0,764.9 166.3,763.5 168.0,761.8 169.8,759.1 171.5,755.6 173.3,751.2 174.8,749.1 176.5,747.7 177.8,747.3 179.2,748.5 181.0,751.2 182.7,753.3 184.5,754.4 187.1,754.7 189.8,754.4 192.4,753.3 195.1,752.6 196.8,753.3 198.6,755.6 200.4,759.1 202.1,761.4 203.4,761.8 204.8,759.1 206.6,753.8 208.3,746.8 210.1,740.6 211.9,738.0 213.6,737.4 215.4,738.5 217.1,740.3 218.9,742.4 220.7,745.0 222.4,749.4 224.2,754.7 226.0,760.0 227.7,763.5 229.9,764.9 232.2,763.5 233.9,761.8 235.7,759.1 237.4,755.6 239.2,751.2 240.7,749.1 242.4,747.7 243.7,747.3 245.1,748.5 246.8,751.2 248.6,753.3 250.4,754.4 253.0,754.7 255.6,754.4 258.3,753.3 260.9,752.6 262.7,753.3 264.4,755.6 266.2,759.1 268.0,761.4 269.2,761.8 270.6,759.1 272.4,753.8 274.1,746.8 275.9,740.6 277.7,738.0 279.4,737.4 281.2,738.5 282.9,740.3 284.7,742.4 286.5,745.0 288.2,749.4 290.0,754.7 291.7,760.0 293.5,763.5 295.6,764.9 297.9,763.5 299.7,761.8 301.4,759.1 303.2,755.6 304.9,751.2 306.4,749.1 308.2,747.7 309.4,747.3 310.8,748.5 312.6,751.2 314.3,753.3 316.1,754.4 318.7,754.7 321.4,754.4 324.0,753.3 326.7,752.6 328.4,753.3 330.2,755.6 331.9,759.1 333.7,761.4 334.9,761.8 336.3,759.1 338.1,753.8 339.9,746.8 341.6,740.6 343.4,738.0 345.1,737.4 346.9,738.5 348.7,740.3 350.4,742.4 352.2,745.0 353.9,749.4 355.7,754.7 357.5,760.0 359.2,763.5 361.3,764.9 363.6,763.5 365.4,761.8 367.1,759.1 368.9,755.6 370.6,751.2 372.1,749.1 373.9,747.7 375.1,747.3 376.5,748.5 378.3,751.2 380.1,753.3 381.8,754.4 384.5,754.7 387.1,754.4 389.7,753.3 392.4,752.6 394.1,753.3 395.9,755.6 397.7,759.1 399.4,761.4 400.7,761.8 402.1,759.1 403.8,753.8 405.6,746.8 407.3,740.6 409.1,738.0 410.9,737.4 412.6,738.5 414.4,740.3 416.1,742.4 417.9,745.0 419.7,749.4 421.4,754.7 423.2,760.0 424.9,763.5 427.1,764.9 429.4,763.5 431.1,761.8 432.9,759.1 434.6,755.6 436.4,751.2 437.9,749.1 439.6,747.7 440.9,747.3 442.3,748.5 444.0,751.2 445.8,753.3 447.6,754.4 450.2,754.7 452.9,754.4 455.5,753.3 458.2,752.6 459.9,753.3 461.7,755.6 463.5,759.1 465.2,761.4 466.5,761.8 467.9,759.1 469.6,753.8 471.4,746.8 473.2,740.6 474.9,738.0 476.7,737.4 478.5,738.5 480.2,740.3 482.0,742.4 483.8,745.0 485.5,749.4 487.3,754.7 489.1,760.0 490.8,763.5 492.9,764.9 495.2,763.5 497.0,761.8 498.8,759.1 500.5,755.6 502.3,751.2 503.8,749.1 505.5,747.7 506.8,747.3 508.2,748.5 509.9,751.2 511.7,753.3 513.5,754.4 516.1,754.7 518.7,754.4 521.4,753.3 524.0,752.6 525.8,753.3 527.5,755.6 529.3,759.1 531.1,761.4 532.3,761.8 533.7,759.1 535.5,753.8 537.2,746.8 539.0,740.6 540.7,738.0 542.5,737.4 544.3,738.5 546.0,740.3 547.8,742.4 549.5,745.0 551.3,749.4 553.1,754.7 554.8,760.0 556.6,763.5 558.7,764.9 561.0,763.5 562.7,761.8 564.5,759.1 566.3,755.6 568.0,751.2 569.5,749.1 571.3,747.7 572.5,747.3 573.9,748.5 575.7,751.2 577.4,753.3 579.2,754.4 581.8,754.7 584.5,754.4 587.1,753.3 589.7,752.6 591.5,753.3 593.3,755.6 595.0,759.1 596.8,761.4 598.0,761.8 599.4,759.1 601.2,753.8 602.9,746.8 604.7,740.6 606.5,738.0 608.2,737.4 610.0,738.5 611.7,740.3 613.5,742.4 615.3,745.0 617.0,749.4 618.8,754.7 620.5,760.0 622.3,763.5 624.4,764.9 626.7,763.5 628.5,761.8 630.2,759.1 632.0,755.6 632.9,751.2" fill="none" stroke="#0000ff" stroke-width="2.6" stroke-linejoin="round" stroke-linecap="butt" />
<polyline points="41.8,782.1 41.8,779.3 42.2,776.5 42.6,773.7 42.8,770.7 42.8,768.0 43.2,765.8 43.0,763.1 43.5,761.7 43.8,759.7 44.2,760.8 44.6,762.4 44.7,764.7 45.1,766.2 45.8,768.4 46.1,770.0 46.5,770.4 46.7,770.9 47.1,771.6 47.3,768.4 47.5,765.7 47.8,762.5 47.9,759.5 48.4,756.9 48.3,754.5 48.5,751.7 49.1,749.4 49.1,752.3 49.4,755.4 49.6,758.5 50.1,761.8 50.3,764.6 50.5,769.2 50.8,771.2 51.4,772.2 51.6,772.8 51.8,770.9 52.0,766.9 52.2,764.6 52.4,763.0 52.3,759.7 52.4,756.8 52.7,753.4 52.8,751.7 52.8,747.5 52.8,744.1 52.9,743.2 53.1,738.3 53.2,735.4 53.3,733.4 53.0,730.9 53.3,726.6 53.4,721.7 53.5,720.4 53.6,717.8 53.7,714.9 54.0,711.8 54.0,708.0 54.1,706.0 54.1,702.5 54.4,698.7 54.5,697.1 54.6,700.0 54.9,703.3 54.5,704.5 54.8,709.0 54.8,710.5 55.1,714.5 55.0,718.3 55.3,721.1 55.4,723.4 55.6,726.7 55.6,728.0 56.0,731.2 56.1,735.7 56.3,738.7 56.5,741.5 56.8,745.2 57.0,749.4 57.4,750.5 57.7,755.2 57.7,757.0 58.0,758.7 58.3,762.5 58.6,765.8 58.8,768.7 59.0,771.3 59.2,774.2 59.4,776.7 59.7,774.1 59.8,770.4 60.2,767.4 60.4,764.2 60.7,767.7 60.7,770.2 61.2,774.5 61.2,777.0 61.5,779.5 61.7,782.4 62.0,784.8 62.2,787.6 62.5,785.2 62.7,782.3 63.0,779.8 63.1,777.3 63.3,774.2 63.8,771.6 64.0,768.5 64.5,766.4 64.7,763.5 64.9,760.6 65.4,762.6 65.1,766.8 65.5,769.2 65.8,771.9 65.9,773.3 66.3,775.0 66.8,776.8 67.2,778.2 67.4,779.4 67.8,780.5 68.3,779.2 68.6,778.4 68.8,777.0 69.2,774.7 69.4,773.4 70.0,771.2 70.2,771.1 70.7,768.9 71.1,767.4 71.3,768.5 71.7,769.7 71.8,771.4 72.4,768.4 72.8,765.3 73.2,763.0 73.5,759.8 73.7,758.0 74.2,756.0 74.4,755.2 74.9,755.1 75.1,754.0 75.5,753.5 76.1,753.6 76.4,751.6 76.6,749.3 76.8,746.7 77.2,743.5 77.4,741.3 77.8,738.6 77.9,735.7 78.1,732.4 78.6,729.2 78.6,727.0 79.3,725.1 79.4,723.1 80.0,723.7 80.6,726.5 80.4,727.7 80.8,729.5 81.1,732.4 81.4,734.4 81.8,737.0 82.1,739.8 82.4,744.0 82.2,745.7 82.7,749.2 82.8,751.0 82.9,753.7 83.4,756.7 83.7,759.3 84.1,756.4 84.4,754.9 84.6,750.7 85.0,752.8 85.5,755.1 85.8,758.0 86.2,756.0 86.7,751.7 87.0,753.7 87.4,753.9 87.7,755.8 88.0,757.4 88.3,757.3 88.7,756.3 89.0,755.8 89.3,758.1 89.7,760.6 89.9,763.0 90.5,765.1 90.7,768.6 90.9,771.6 91.7,768.7 91.9,765.8 92.2,763.0 92.2,766.2 92.6,768.5 93.1,771.6 93.1,774.7 93.4,777.6 93.7,779.7 94.0,780.5 94.3,782.2 94.7,779.4 94.8,776.4 95.0,773.6 95.2,770.4 95.4,768.3 95.9,771.0 96.0,773.5 96.5,777.2 96.7,774.9 97.0,772.7 97.6,770.2 97.6,772.5 98.0,774.6 98.1,777.4 98.3,780.0 98.9,779.4 99.2,778.7 99.6,776.8 99.7,774.3 100.0,770.7 100.6,770.4 100.8,768.2 101.4,765.0 101.8,762.5 102.2,761.0 102.3,758.8 102.7,756.1 103.1,757.4 103.6,758.4 103.6,759.4 104.0,761.0 104.6,765.5 104.8,766.8 105.2,768.7 105.6,771.7 105.8,775.2 106.2,771.9 106.7,769.1 106.9,766.1 107.4,764.5 107.6,763.8 108.0,763.1 108.4,765.6 108.6,768.3 109.3,769.7 109.5,771.9 109.9,773.3 110.3,776.4 110.5,774.0 110.9,772.8 111.2,771.7 111.3,768.3 112.0,764.3 112.0,762.9 112.6,765.5 112.9,766.9 112.9,770.3 113.5,773.4 113.7,768.9 113.9,767.3 114.3,763.0 114.7,761.7 114.8,758.5 115.4,755.7 115.8,758.2 116.0,760.7 116.3,763.4 116.6,765.2 116.9,769.0 117.4,771.1 117.4,774.5 117.5,776.1 117.9,778.6 118.1,780.9 118.8,783.0 118.6,779.7 118.9,777.2 119.0,774.8 119.1,771.8 119.6,768.6 119.5,765.1 119.7,762.9 119.8,759.7 120.1,756.4 120.5,753.8 120.6,750.8 120.7,753.3 121.1,756.4 121.0,759.6 121.4,762.5 121.5,765.0 121.7,768.2 121.7,771.8 121.8,773.7 122.0,776.0 122.4,779.4 122.6,776.5 122.8,774.2 123.0,771.6 123.1,769.1 123.2,765.2 123.4,762.8 123.6,760.4 124.1,757.2 124.2,754.4 124.5,751.3 124.6,748.6 125.0,747.4 125.1,746.5 125.5,745.3 126.0,742.7 126.0,739.5 126.2,737.2 126.3,733.8 126.4,732.6 126.7,730.4 127.0,730.5 127.5,728.0 127.8,723.6 128.0,720.6 128.5,718.5 128.7,721.5 129.1,724.9 129.6,728.0 129.8,731.4 129.7,733.5 129.8,737.5 130.0,739.4 130.2,743.5 130.4,746.5 130.5,749.1 130.9,750.4 131.3,752.0 131.7,754.3 132.0,755.4 132.2,756.3 132.7,758.9 133.1,755.3 133.5,752.6 134.0,750.8 134.2,752.6 134.5,755.1 134.8,757.5 135.3,760.0 135.5,763.6 135.8,766.8 136.1,767.9 136.4,771.1 136.9,771.9 137.4,775.0 137.8,776.7 138.0,780.1 138.3,776.5 138.6,774.8 139.0,772.7 139.4,771.5 139.6,771.3 140.3,769.1 140.5,768.0 140.9,765.4 141.2,762.9 141.5,763.1 141.6,764.5 142.1,764.8 142.7,761.1 142.9,758.5 143.3,755.4 143.7,753.3 144.1,751.5 144.4,749.2 144.7,745.3 144.8,743.3 144.9,740.7 145.5,738.2 145.5,733.9 145.6,733.5 145.9,731.6 146.4,727.5 146.8,724.8 147.2,722.3 147.4,720.4 147.9,717.2 148.0,713.9 148.2,710.7 148.2,708.8 148.9,707.5 149.2,707.1 149.5,707.7 149.6,711.2 150.0,712.4 149.8,715.3 150.0,718.5 150.1,720.9 150.2,723.9 150.3,727.0 150.5,729.7 150.5,733.8 150.6,736.3 150.7,733.5 150.9,729.8 150.8,727.0 151.0,724.6 150.9,721.0 151.0,718.3 151.1,715.5 151.0,711.6 151.3,709.0 151.5,706.0 151.4,702.8 151.5,699.4 151.6,696.5 151.6,693.0 151.7,689.9 152.1,686.6 152.1,684.1 152.2,686.8 152.2,689.3 152.3,692.8 152.4,695.8 152.4,699.0 152.6,702.4 152.6,705.0 152.6,708.8 152.6,711.3 153.0,715.2 153.4,717.6 153.4,720.3 153.3,724.6 153.6,727.5 153.5,730.7 153.8,733.6 153.9,736.6 154.1,739.7 154.2,742.7 154.4,745.8 154.5,748.4 154.8,751.1 155.4,753.3 155.8,757.8 155.9,756.8 156.4,757.2 156.9,757.1 156.9,759.3 157.3,761.2 158.0,763.1 158.1,759.9 158.4,757.6 158.8,754.8 159.3,757.0 159.8,758.5 160.0,759.8 160.2,761.4 160.6,763.9 161.0,766.8 161.2,768.9 161.7,771.1 162.0,773.2 162.4,774.7 162.8,775.8 163.2,775.9 163.3,773.3 163.8,770.2 163.9,767.4 164.0,764.8 164.6,766.8 164.9,769.3 165.6,771.6 165.6,768.9 165.9,765.2 166.1,762.8 166.7,760.8 167.0,758.5 167.4,755.6 167.7,758.6 168.0,760.7 168.5,764.6 168.7,761.5 169.1,758.3 169.5,755.6 169.6,752.1 169.8,754.6 169.8,757.8 170.1,760.2 170.3,762.3 170.3,759.7 170.4,757.9 170.3,753.7 170.5,750.7 170.3,748.1 170.5,744.4 170.7,741.4 170.6,737.8 170.5,735.7 170.6,733.1 170.7,729.0 170.7,726.9 170.8,723.8 171.0,720.3 171.2,717.3 171.0,714.3 170.9,711.4 171.1,708.7 171.0,705.9 171.3,702.9 171.2,700.3 171.4,696.6 171.5,693.9 171.3,690.1 171.5,687.9 171.7,684.7 171.5,680.0 171.8,678.6 171.5,675.5 171.8,671.6 171.8,670.8 171.9,666.5 172.4,664.0 172.4,660.2 172.5,663.3 172.3,665.9 172.4,670.2 172.6,673.4 172.6,675.1 172.4,678.7 172.5,681.8 172.7,684.6 172.7,687.4 172.6,690.1 172.9,693.1 172.8,696.2 172.8,699.2 172.7,702.1 172.9,706.2 172.8,708.4 173.1,711.9 173.0,714.0 172.9,717.4 173.1,720.4 173.0,723.1 173.1,725.9 173.2,730.8 173.2,732.3 173.5,734.9 173.3,738.0 173.3,742.2 173.4,744.0 173.5,747.5 173.4,750.2 173.5,752.9 173.7,755.7 173.6,758.7 173.6,761.9 173.5,765.2 173.9,767.9 174.1,766.6 174.6,764.9 174.9,764.3 175.2,765.2 175.4,767.3 175.6,769.8 175.8,773.2 176.1,774.6 176.5,776.5 177.0,778.1 177.1,775.9 177.5,772.7 177.9,769.0 178.2,769.1 178.8,768.3 179.2,767.4 179.4,769.8 179.8,769.9 180.2,771.1 180.2,772.7 181.0,774.2 181.2,775.0 181.5,775.2 181.8,777.5 182.3,778.9 182.6,779.3 182.8,780.3 183.1,781.1 183.6,781.9 183.9,781.6 184.4,781.8 184.5,781.6 185.0,781.2 185.3,779.7 185.8,782.1 186.0,782.7 186.3,783.7 186.6,784.7 187.1,785.4 187.3,785.9 187.9,785.8 188.4,786.5 188.5,787.6 189.1,788.3 189.2,789.0 189.6,789.6 189.9,788.6 190.2,787.3 190.6,788.2 190.9,786.1 190.9,783.0 191.0,779.6 191.1,776.5 191.0,773.9 191.0,771.6 191.1,767.4 191.1,765.1 191.4,762.8 191.6,764.4 191.8,769.4 191.9,770.6 191.8,774.9 192.0,776.7 192.2,780.5 192.4,778.0 192.3,774.5 192.4,771.9 192.4,768.9 192.4,765.1 192.6,762.6 192.5,760.4 192.7,757.2 192.6,754.4 192.5,751.4 192.6,748.7 192.7,750.4 193.0,754.8 193.0,757.8 192.9,760.5 193.2,763.8 193.0,766.1 193.2,768.2 193.1,771.5 193.2,774.2 193.2,778.8 192.9,781.3 193.2,784.1 193.5,787.1 193.3,792.7 193.8,788.0 193.5,784.9 193.8,781.6 193.8,779.5 193.7,774.8 194.1,772.0 193.9,770.3 194.2,764.8 194.4,762.1 194.9,759.5 195.0,755.9 194.9,758.6 195.2,760.9 195.2,764.2 195.5,767.1 195.6,770.3 195.7,766.7 195.8,764.3 196.2,761.6 196.2,759.6 196.5,760.8 196.9,763.3 197.3,760.0 197.6,756.4 197.9,758.9 198.0,760.8 198.2,764.8 198.3,768.1 198.5,764.8 198.5,762.5 198.7,759.7 198.7,756.4 198.8,753.3 198.8,750.2 198.9,746.8 198.9,743.0 198.9,740.6 198.9,737.5 199.4,740.1 199.5,742.6 199.7,746.3 199.7,749.3 199.9,746.1 200.0,743.3 200.2,742.0 200.0,737.1 200.0,735.0 200.1,731.7 200.4,728.8 200.5,724.9 200.9,723.6 201.1,720.9 201.2,716.9 201.2,714.5 201.3,711.9 201.8,708.9 201.9,705.5 202.1,707.4 202.7,709.2 202.9,706.0 203.1,704.2 203.3,701.1 203.7,700.2 204.0,698.6 204.5,700.5 204.8,703.0 204.8,705.5 204.6,708.9 204.9,711.6 205.0,714.3 204.9,717.6 205.1,720.2 204.8,722.4 205.0,727.3 204.8,730.0 204.8,732.8 204.9,735.9 204.9,739.3 205.0,741.9 205.2,744.7 205.2,747.5 205.1,750.6 205.0,753.0 205.1,756.5 205.1,760.2 205.3,761.8 205.3,763.9 205.3,768.5 205.7,770.9 205.6,775.0 205.6,777.7 205.7,780.0 205.8,782.5 205.8,785.8 206.1,785.5 206.3,785.8 206.8,785.0 207.2,785.3 207.7,784.8 207.9,786.0 208.4,783.2 208.7,783.3 209.0,781.5 209.2,781.5 209.5,780.6 210.0,782.0 210.5,781.1 210.8,780.6 211.2,779.4 211.6,779.9 211.8,780.4 212.1,779.9 212.5,780.5 212.7,780.9 213.2,782.4 213.7,782.0 213.8,781.7 214.3,779.5 214.6,783.6 215.0,783.1 215.3,782.4 215.6,784.3 216.1,785.9 216.6,786.9 216.8,786.8 217.0,787.0 217.5,787.6 217.7,786.7 218.2,786.5 218.6,785.6 218.9,784.9 219.1,786.0 219.5,783.0 220.0,783.3 220.4,783.1 220.6,782.2 221.1,780.8 220.9,779.4 221.7,778.0 221.8,780.3 222.5,782.2 222.9,783.7 223.2,783.2 223.6,782.2 223.8,782.1 224.2,783.0 224.4,784.3 225.2,785.9 225.2,785.2 225.6,784.6 226.1,784.1 226.3,783.3 226.6,782.7 226.7,781.1 227.3,780.7 227.9,780.5 227.9,780.4 228.3,780.4 228.8,778.1 228.8,776.8 229.7,778.0 229.9,780.0 230.1,780.4 230.4,780.4 231.1,779.7 231.2,778.9 231.5,780.0 231.8,780.1 232.3,780.6 232.5,779.7 232.9,778.4 233.4,777.1 233.6,778.1 234.1,778.9 234.2,780.2 234.8,779.2 235.3,780.0 235.4,776.7 235.6,776.0 236.2,775.7 236.5,775.5 236.8,775.5 237.4,775.2 237.6,775.8 237.9,775.2 238.2,774.2 238.7,773.3 238.9,772.1 239.3,771.0 239.8,769.4 240.1,766.8 240.4,764.3 240.7,762.4 240.9,760.0 241.0,757.6 241.0,754.5 241.1,751.6 241.4,748.6 241.4,745.4 241.4,744.5 241.6,739.3 241.4,736.1 241.7,733.1 241.5,729.2 241.4,727.4 241.6,724.4 241.9,721.6 241.8,717.8 241.7,714.7 241.7,711.7 242.0,708.8 242.0,706.1 242.1,702.7 242.2,699.9 242.1,697.2 242.1,693.4 242.2,690.6 242.6,693.0 242.9,695.8 243.1,697.9 243.4,703.2 243.7,700.4 244.0,696.0 244.2,693.8 244.4,697.3 244.5,699.9 244.5,702.8 244.7,707.4 245.1,708.3 245.3,706.8 245.8,701.2 246.0,704.4 246.2,707.4 246.4,709.8 246.7,713.2 247.2,716.7 247.2,713.5 247.2,709.9 247.5,708.0 247.2,704.6 247.3,701.3 247.7,697.6 247.6,694.7 247.7,692.1 247.5,687.6 247.7,691.3 247.9,694.5 247.7,697.4 247.8,700.0 247.8,702.5 247.9,707.7 248.0,709.6 247.8,712.0 247.8,715.4 248.2,718.3 248.0,720.7 248.1,723.9 248.1,727.9 248.0,730.9 248.1,733.5 248.4,736.4 248.0,738.9 248.4,742.4 248.3,744.7 248.3,747.1 248.3,751.1 248.5,753.6 248.4,756.7 248.5,760.4 248.3,763.0 248.4,766.2 248.7,768.8 248.9,770.3 248.7,774.3 248.9,776.7 249.0,779.8 249.0,783.0 249.3,786.3 249.2,787.7 249.5,786.2 249.4,783.0 249.6,781.0 249.9,778.7 250.3,779.5 250.6,781.0 251.0,782.4 251.1,783.3 251.5,783.6 252.0,783.8 252.2,785.0 252.7,786.1 253.1,786.2 253.4,788.1 253.7,788.4 254.1,787.4 254.4,790.3 254.9,789.9 254.9,791.1 255.5,791.4 255.7,792.1 256.5,792.1 256.5,791.9 256.9,791.0 257.3,790.3 257.4,790.0 258.2,790.3 258.1,789.8 258.7,790.1 259.1,789.0 259.3,789.0 259.8,790.9 259.9,790.7 260.7,790.2 260.7,788.4 261.2,788.5 261.7,787.3 261.7,788.6 262.2,787.9 262.5,789.3 263.1,789.4 263.0,790.1 263.7,790.1 264.0,790.5 264.4,788.8 264.7,790.5 265.2,789.3 265.5,787.9 265.8,787.0 265.9,787.5 266.5,788.3 266.8,789.3 267.0,788.7 267.7,788.3 267.7,788.5 268.4,787.7 268.6,787.4 268.7,787.0 269.2,786.6 269.6,785.9 270.0,787.3 270.4,787.4 270.6,785.8 270.7,785.2 271.5,784.1 271.8,786.2 272.0,784.1 272.5,783.0 272.9,781.9 273.0,780.7 273.5,780.0 274.0,777.4 274.1,775.4 274.7,773.9 275.0,772.3 275.3,770.1 275.5,768.3 276.0,764.6 276.0,762.1 276.3,759.4 276.5,756.7 276.8,753.9 276.9,750.9 277.1,746.7 277.3,745.5 277.6,742.4 277.8,739.6 277.9,736.2 277.8,734.1 278.0,730.7 278.0,726.7 278.3,724.3 278.2,720.7 278.4,718.1 278.3,715.6 278.3,712.7 278.5,709.0 278.5,705.8 278.6,703.0 278.6,700.3 278.8,696.5 278.9,693.1 278.7,690.4 278.8,691.9 278.9,695.9 279.1,698.9 279.2,702.0 279.5,705.0 279.5,707.9 279.2,711.3 279.6,713.6 279.5,717.1 279.7,719.5 279.5,722.4 279.7,724.0 279.8,728.6 280.0,731.8 280.2,734.6 280.3,737.2 280.1,740.8 280.3,742.5 280.2,746.4 280.6,749.4 280.6,752.5 280.8,755.3 280.9,753.2 281.3,749.4 281.3,748.7 281.7,744.9 281.7,748.1 282.1,749.7 281.7,753.7 282.0,757.3 282.1,759.9 282.1,763.1 282.3,759.6 282.5,757.1 282.6,754.4 282.7,751.7 282.8,748.8 282.8,751.1 283.4,754.4 283.5,757.2 283.6,754.7 283.9,752.6 284.1,747.7 284.3,744.8 284.4,748.7 284.4,751.4 284.8,753.4 284.4,757.4 284.8,760.5 284.9,763.0 285.0,766.5 285.0,769.6 284.9,773.4 285.3,775.9 285.3,779.4 285.3,782.4 285.4,784.9 285.5,789.8 285.5,791.1 285.7,795.0 285.7,792.1 285.8,788.9 286.1,787.5 286.2,783.2 286.4,780.7 286.4,777.7 286.7,774.5 286.6,771.7 286.8,768.5 287.1,766.0 287.2,763.5 287.5,759.4 287.6,756.1 288.0,752.7 288.0,750.4 288.2,747.7 288.4,743.8 288.6,747.6 288.8,750.6 288.7,753.9 288.9,756.8 289.1,759.6 289.1,763.1 289.6,765.0 289.7,766.4 289.9,770.7 290.1,772.8 290.6,774.8 290.9,776.1 291.2,776.8 291.7,777.2 292.2,778.7 292.5,778.1 292.7,777.9 293.2,774.8 293.3,773.3 293.7,774.4 294.2,775.8 294.4,776.5 294.7,774.0 294.8,772.1 294.7,769.1 295.2,765.4 295.2,763.3 295.4,759.6 295.6,757.9 295.9,753.1 295.9,748.5 296.1,753.1 296.0,756.7 296.4,760.0 296.9,763.0 297.0,765.6 297.1,768.3 297.5,771.1 297.7,773.9 298.0,774.1 298.1,775.6 298.3,772.5 298.8,769.9 298.8,766.7 299.0,764.9 299.3,762.0 299.4,758.8 299.7,755.1 300.1,758.4 300.4,760.3 300.7,762.3 301.0,761.1 301.5,760.3 301.7,756.9 302.2,759.5 302.5,760.7 302.9,762.6 303.2,764.8 303.3,767.7 303.9,769.6 304.5,768.7 304.6,767.7 305.0,765.3 305.1,763.2 305.3,760.6 305.5,757.7 305.7,754.7 305.5,752.0 305.9,749.0 305.9,745.7 306.0,741.1 306.2,738.9 306.5,735.7 306.3,738.9 306.6,741.2 306.7,744.5 306.9,747.1 307.1,750.4 307.2,753.1 307.4,756.2 307.3,759.7 307.8,762.6 308.1,765.7 308.3,768.7 308.7,770.5 309.1,772.6 309.2,772.8 309.5,775.5 310.1,776.8 310.2,773.6 310.7,773.9 311.1,773.1 311.3,773.7 311.8,774.9 311.9,774.8 312.6,774.5 313.0,774.3 313.0,772.9 313.5,774.5 313.8,775.5 314.3,777.9 314.4,778.8 315.0,780.4 315.2,783.5 315.7,783.6 315.7,785.0 316.1,786.2 316.5,784.7 317.2,782.3 317.3,780.1 317.9,778.2 318.1,776.6 318.3,773.4 318.9,772.6 319.2,771.4 319.5,773.9 319.8,777.4 320.0,780.2 320.6,781.3 320.9,782.7 321.0,783.3 321.6,783.8 321.8,781.5 322.2,783.5 322.4,782.8 323.1,782.9 323.4,784.0 323.7,785.5 324.0,785.6 324.5,786.3 324.8,786.5 325.1,787.2 325.5,787.3 325.5,786.6 326.1,785.3 326.5,784.4 326.8,781.5 327.3,780.7 327.5,778.8 327.8,777.9 328.5,776.7 328.7,775.5 329.1,774.4 329.5,772.7 329.6,771.3 330.0,773.4 330.5,775.1 330.9,778.2 330.7,776.7 331.6,776.7 332.0,776.0 332.2,776.7 332.4,778.2 332.8,778.6 333.2,779.8 333.6,780.4 333.9,781.8 334.2,781.4 334.7,780.4 334.9,780.1 335.4,782.2 335.6,783.7 336.1,786.0 336.4,786.3 336.9,787.6 337.1,787.9 337.6,787.8 337.7,786.6 338.0,786.6 338.6,786.3 338.9,786.4 339.1,786.7 339.6,785.6 340.1,784.7 340.3,784.2 340.6,783.1 341.1,781.4 341.3,780.2 341.9,780.8 342.0,781.6 342.4,782.3 342.7,780.2 343.1,779.0 343.5,778.7 343.8,778.0 344.3,777.1 344.4,777.1 345.2,776.4 345.1,775.0 345.6,773.1 346.0,772.9 346.4,771.8 346.5,771.8 346.8,767.4 347.3,764.3 347.6,767.4 347.8,770.8 348.3,771.5 348.4,772.6 348.5,771.1 349.0,768.9 349.4,770.2 349.8,771.0 350.1,771.7 350.5,771.5 350.8,769.2 351.3,767.9 352.1,769.7 352.0,772.1 352.2,774.6 352.6,777.3 353.0,780.0 353.4,781.3 353.7,783.0 354.1,783.9 354.3,784.2 354.6,785.5 355.1,783.7 355.6,785.7 355.7,785.0 356.2,784.2 356.5,785.3 356.8,785.8 357.3,785.7 357.4,784.5 357.9,783.7 358.4,782.0 358.6,780.9 359.2,779.0 359.4,778.6 359.5,776.3 360.2,775.1 360.3,773.2 360.6,771.5 361.1,769.7 361.5,773.7 361.7,777.2 362.3,777.7 362.4,780.9 362.7,780.1 363.2,780.0 363.6,779.3 364.0,778.6 364.0,775.4 364.5,773.0 364.9,771.8 365.3,769.8 365.8,773.3 366.1,777.7 366.4,779.7 366.8,781.5 367.2,784.0 367.3,784.9 367.8,786.6 368.1,785.9 368.4,785.5 368.8,784.8 369.2,784.7 369.5,784.7 369.7,785.0 370.2,785.8 370.5,786.2 370.9,787.1 371.2,787.4 371.6,786.1 372.0,785.5 372.4,783.6 372.6,782.9 373.0,781.7 373.4,780.9 373.6,781.8 374.0,782.0 374.3,782.8 374.6,781.8 375.0,780.8 375.4,782.1 375.8,779.3 376.3,777.2 376.5,775.6 376.7,774.1 377.4,771.6 377.6,774.7 377.9,776.7 378.3,779.7 378.6,782.1 378.9,784.0 379.3,785.7 379.8,786.3 380.2,787.8 380.5,786.6 380.9,787.4 381.3,787.3 381.2,786.5 382.1,788.1 381.9,789.1 382.5,789.5 382.9,789.2 383.3,788.5 383.8,786.7 384.2,789.1 384.4,790.0 384.6,790.7 385.0,790.3 385.4,789.5 385.5,787.1 386.2,789.4 386.2,788.8 386.6,789.8 387.2,790.1 387.3,789.5 387.8,788.8 388.2,789.1 388.7,789.8 388.8,790.1 389.2,789.3 389.7,790.5 389.9,788.4 390.4,788.2 390.5,789.0 391.1,790.1 391.5,791.4 391.8,789.2 392.0,788.7 392.5,788.8 392.7,789.5 393.2,790.4 393.4,790.1 393.8,791.0 394.2,789.2 394.6,789.6 394.8,789.6 395.2,790.2 395.6,789.7 396.1,789.5 396.4,789.5 396.9,789.4 397.0,789.3 397.4,789.6 397.9,788.9 398.0,791.4 398.4,791.2 398.8,791.4 398.9,791.4 399.4,791.7 399.7,792.6 400.1,792.0 400.3,791.5 400.9,791.1 401.5,790.5 401.7,790.4 402.1,789.9 402.6,789.1 403.1,787.0 403.5,788.2 403.9,787.4 404.2,787.1 405.1,786.1 405.5,785.6 405.4,785.5 406.3,785.2 406.6,784.9 407.3,784.5 407.4,785.0 407.7,783.9 408.0,783.0 408.4,784.3 408.8,783.4 409.1,784.1 409.6,784.9 410.0,785.0 410.2,785.1 410.5,785.3 410.9,785.9 411.3,784.3 411.6,784.0 412.1,782.8 412.3,783.3 412.7,782.3 413.1,784.4 413.2,779.9 413.6,777.8 414.1,775.1 414.5,777.4 414.9,780.1 415.2,782.4 415.6,781.8 415.7,781.3 416.4,781.1 416.6,779.9 417.0,777.7 417.3,775.5 417.6,778.4 418.1,780.6 418.2,783.3 418.7,784.5 419.0,784.4 419.3,784.4 419.8,785.0 420.0,785.3 420.5,785.3 421.3,785.9 421.5,786.2 421.9,787.0 422.5,787.2 422.8,788.2 423.2,788.5 423.5,788.6 424.0,786.6 424.4,788.8 424.8,787.3 425.5,789.4 425.9,788.9 426.0,789.9 426.5,789.3 427.2,789.8 427.3,790.2 427.7,789.6 428.2,790.2 428.6,790.7 429.2,789.5 429.4,790.3 430.0,790.5 430.3,790.9 430.7,790.2 431.1,789.8 431.6,790.0 432.0,790.1 432.2,789.6 432.9,789.7 433.3,790.0 433.6,789.3 434.2,788.9 434.7,787.9 434.7,789.7 435.3,787.8 435.6,787.4 436.2,784.9 436.2,785.9 436.7,784.8 436.9,783.3 437.0,781.2 437.6,779.2 438.1,777.3 438.3,778.7 438.8,780.6 439.2,781.4 439.3,780.6 439.9,780.5 440.2,779.7 440.4,780.6 440.9,781.2 441.2,782.4 441.4,782.1 442.1,781.2 442.2,780.7 442.8,781.8 442.9,782.3 443.2,783.2 443.6,783.4 443.9,784.1 444.4,784.9 444.9,784.4 445.3,786.5 445.7,786.3 445.9,787.0 446.6,787.2 446.9,787.5 447.4,787.8 448.0,788.1 448.2,788.7 448.6,789.9 449.1,790.0 449.7,789.7 450.0,790.2 450.1,790.7 450.7,790.9 451.3,790.7 451.3,791.1 452.0,791.1 452.2,791.5 452.4,791.4 453.2,791.1 453.6,791.5 453.7,791.8 454.2,791.9 454.5,791.9 455.0,791.7 455.4,793.9 455.8,791.7 456.1,790.9 456.6,791.9 456.9,790.9 457.2,791.3 457.7,792.2 458.1,791.2 458.5,791.0 458.8,791.4 459.2,792.0 459.8,792.0 460.4,792.0 460.6,791.6 460.8,791.1 461.3,792.2 461.6,791.8 462.1,792.2 462.4,792.0 462.8,791.9 463.4,791.7 463.6,791.7 464.0,791.6 464.4,790.1 464.8,791.8 465.2,791.6 465.7,790.6 465.9,792.4 466.4,791.9 466.8,791.5 467.2,791.1 467.6,791.1 467.8,790.8 468.4,789.9 468.8,789.7 469.2,788.5 469.6,785.7 469.9,783.3 470.3,781.1 470.5,778.4 470.7,776.2 470.9,774.2 471.4,776.9 471.4,779.8 471.6,781.5 472.1,785.8 472.4,785.1 472.6,784.7 472.9,784.7 473.2,783.8 473.5,782.7 474.0,781.5 474.5,780.5 474.7,779.5 474.9,778.1 475.5,777.3 475.8,777.4 476.3,776.4 476.4,775.0 476.8,773.4 477.4,773.0 477.2,770.3 477.5,768.2 478.0,764.6 478.1,768.2 478.3,772.2 478.2,768.8 478.5,765.4 478.5,762.5 478.6,759.1 478.6,756.3 478.6,753.6 478.6,755.3 478.6,757.4 478.9,760.1 479.1,762.7 479.1,760.0 478.9,757.2 479.1,754.3 479.1,751.6 479.2,748.2 479.1,743.3 479.0,742.4 479.3,739.3 479.5,737.1 479.3,733.4 479.2,729.2 479.4,734.0 479.3,737.5 479.3,740.3 479.5,743.6 479.7,747.1 479.5,750.3 479.6,752.6 479.5,756.0 479.6,752.3 479.8,749.9 479.6,746.8 479.9,743.7 479.8,741.6 480.3,743.6 480.0,747.2 480.1,750.8 480.0,753.3 480.3,757.8 480.3,759.4 480.0,762.2 480.3,759.9 480.5,756.5 480.4,753.8 480.6,750.3 480.7,745.9 480.7,744.6 480.7,741.3 480.6,738.3 480.9,739.3 481.0,744.1 480.7,747.0 480.8,750.3 481.0,753.9 481.0,756.9 481.0,759.7 481.0,764.0 481.1,766.3 481.2,763.6 481.1,760.4 481.1,757.3 481.3,754.3 481.3,752.2 481.3,749.0 481.5,752.5 481.6,753.9 481.4,757.7 481.6,760.6 481.8,763.9 481.5,767.2 481.7,769.6 481.8,773.1 481.7,770.0 482.0,767.3 481.9,764.5 482.1,761.6 482.1,759.2 482.2,762.5 482.1,765.3 482.2,768.0 482.2,771.0 482.6,772.1 482.6,777.0 482.8,773.9 482.7,771.0 482.6,767.7 482.6,763.5 482.8,760.6 482.7,757.6 483.0,761.1 482.8,764.4 482.9,767.2 483.1,770.1 483.2,773.7 483.1,770.5 483.1,767.6 483.5,765.1 483.7,762.3 483.5,766.0 483.6,769.2 483.5,772.8 483.8,775.4 484.0,772.0 483.8,769.1 483.9,766.1 484.1,763.0 484.1,765.2 484.3,768.5 484.6,771.3 484.5,774.3 484.7,776.7 484.8,772.8 484.9,770.0 485.1,772.7 485.2,775.9 485.3,778.6 485.4,775.3 485.4,771.6 485.6,768.2 485.6,765.4 485.8,768.7 486.0,773.3 486.1,775.3 486.4,778.1 486.7,780.0 487.0,781.7 487.3,783.5 487.8,784.8 488.1,783.5 488.6,785.6 488.8,784.8 489.2,785.6 489.5,785.8 489.8,783.8 490.5,782.3 490.6,780.3 490.9,776.9 490.8,772.6 491.3,770.4 491.2,768.6 491.4,771.3 491.4,773.6 491.6,776.4 492.0,779.5 492.0,782.4 492.1,783.0 492.5,784.0 493.1,785.5 493.3,785.4 493.9,786.2 494.0,787.1 494.5,786.5 495.0,786.4 495.4,785.8 495.4,785.6 495.8,787.4 496.2,787.2 496.5,787.7 497.0,788.5 497.2,789.3 497.5,788.8 497.9,788.6 498.3,788.0 498.7,788.7 499.1,789.0 499.1,788.5 499.7,786.8 499.9,783.6 500.1,779.9 500.4,777.7 500.9,775.5 501.2,775.8 501.3,775.5 501.9,777.2 502.5,778.4 502.4,781.2 502.9,780.6 503.0,780.9 503.6,781.8 504.0,781.7 504.4,781.8 504.6,782.7 505.0,782.2 505.3,781.2 505.7,780.4 506.2,780.2 506.4,779.5 506.9,778.7 507.0,777.4 507.5,776.9 507.8,779.2 508.4,780.0 508.4,780.6 509.0,783.4 509.3,783.4 509.7,783.1 510.0,784.3 510.2,784.8 510.6,785.4 511.0,786.1 511.4,785.5 511.7,786.2 512.1,786.7 512.3,787.4 512.8,788.0 513.1,788.3 513.4,788.0 513.7,787.8 514.2,788.2 514.3,789.2 514.8,789.0 515.2,788.6 515.9,788.7 515.8,787.6 516.5,788.2 516.6,788.9 516.9,789.4 517.3,788.8 517.8,788.8 518.2,788.8 518.4,788.2 518.9,787.7 519.1,787.3 519.6,784.4 520.1,781.3 520.4,781.1 520.6,784.3 520.9,786.1 521.5,786.2 521.8,786.2 522.3,787.2 522.3,788.5 522.7,788.5 523.1,789.1 523.5,790.7 524.2,790.5 524.1,790.9 524.8,792.5 525.4,790.7 525.8,792.5 526.2,791.3 526.7,790.5 527.2,790.1 527.6,790.5 528.1,790.6 528.3,791.0 528.7,791.4 529.2,790.7 529.7,791.1 530.3,791.0 530.6,789.9 531.0,790.2 531.2,790.8 531.7,790.2 532.4,790.7 532.7,790.0 533.0,790.3 533.4,789.4 533.9,789.0 533.9,788.5 534.4,786.6 534.9,785.0 535.3,784.4 535.7,782.2 535.8,780.6 536.3,781.8 536.6,783.5 536.9,783.8 537.1,782.4 537.7,781.2 538.1,779.4 538.4,779.9 538.8,780.3 538.8,782.9 539.4,780.6 539.6,780.9 540.1,777.5 540.4,777.7 541.0,775.4 541.2,776.1 541.3,774.8 541.9,773.4 542.1,771.7 542.5,769.5 542.7,767.1 543.0,763.0 543.1,765.4 543.3,766.7 543.7,771.0 543.6,773.3 544.0,773.0 544.3,771.0 544.6,770.2 545.0,765.5 545.0,762.9 545.5,759.5 545.9,757.1 546.0,756.7 546.3,757.2 546.7,754.4 546.9,751.5 547.0,748.2 547.2,745.3 547.5,742.7 547.6,738.9 547.7,735.3 547.8,733.2 548.1,729.9 548.2,726.9 548.3,723.3 548.5,720.5 548.4,723.2 548.8,726.2 548.9,728.5 548.7,726.4 549.0,723.3 549.0,720.4 549.0,717.2 549.1,715.2 549.2,710.6 549.1,707.9 549.4,705.3 549.3,703.1 549.3,706.4 549.3,708.9 549.4,711.3 549.4,714.6 549.7,718.3 549.6,720.9 549.8,723.7 549.6,719.8 549.8,716.7 549.8,715.7 549.6,712.7 549.9,709.2 550.0,706.0 549.9,703.5 550.1,700.8 549.8,696.7 549.8,694.0 550.1,696.6 550.3,700.3 550.2,702.8 550.3,706.0 550.3,707.5 550.4,705.4 550.3,702.3 550.4,699.1 550.4,696.4 550.4,694.3 550.7,690.8 550.6,688.3 550.6,685.1 550.7,680.5 550.7,679.5 550.7,677.0 550.7,679.6 550.9,683.2 550.7,686.2 550.8,689.6 550.8,692.9 551.0,695.9 550.7,693.0 551.0,689.7 550.7,686.8 550.7,684.0 550.7,681.3 550.9,678.1 550.8,675.3 550.8,674.0 551.0,669.8 551.2,665.9 551.1,662.8 550.8,660.8 551.0,664.4 551.2,666.8 551.1,669.9 551.2,673.1 551.1,675.8 550.9,679.0 551.2,681.9 551.3,685.6 551.0,682.5 551.2,679.7 551.1,676.8 551.2,673.8 551.4,671.1 550.9,668.5 551.2,664.8 551.4,662.5 551.4,659.1 551.4,655.8 551.2,652.7 551.4,656.6 551.5,659.4 551.6,662.7 551.5,666.1 551.4,668.8 551.7,671.0 551.6,675.2 551.5,678.3 551.7,675.0 551.4,672.3 551.6,668.9 551.5,666.2 551.4,664.1 551.7,660.2 551.6,657.3 551.6,654.1 551.7,651.9 551.8,653.7 551.9,657.2 551.9,660.1 552.0,663.1 551.9,668.2 552.0,669.7 551.8,672.9 552.0,669.4 551.9,665.9 552.0,663.1 551.9,659.8 552.0,657.1 552.1,654.5 552.1,651.9 552.0,653.8 552.0,658.2 552.0,659.8 552.1,661.5 552.0,664.8 552.2,667.5 552.1,670.4 552.3,673.0 552.2,676.1 552.2,673.2 552.6,670.0 552.0,666.6 552.4,664.1 552.4,660.5 552.6,657.8 552.3,655.3 552.4,651.9 552.4,656.3 552.6,656.4 552.5,660.5 552.4,664.0 552.5,667.4 552.6,670.2 552.7,673.5 552.5,676.2 552.7,679.3 552.6,682.1 552.6,684.8 552.8,682.4 552.6,679.3 552.6,675.9 552.5,673.0 552.8,669.8 552.8,667.4 552.8,664.2 552.6,660.9 552.7,663.1 552.9,666.6 552.7,669.1 553.0,672.7 552.8,675.2 552.9,678.8 552.8,681.7 552.9,684.3 553.1,687.4 552.9,690.5 553.0,693.6 553.0,696.0 553.1,692.8 553.0,689.1 553.1,686.4 553.1,683.4 553.1,681.0 553.1,677.9 553.1,674.3 553.2,671.1 553.0,674.2 553.1,677.3 553.2,680.7 553.3,683.4 553.1,685.8 553.2,689.1 553.1,691.5 553.2,694.9 553.3,698.3 553.5,699.0 553.2,703.5 553.4,706.5 553.4,703.6 553.3,700.0 553.3,696.9 553.4,693.9 553.5,690.6 553.3,688.3 553.4,685.4 553.5,682.0 553.2,685.1 553.6,687.4 553.4,690.0 553.5,694.0 553.8,696.2 553.6,700.1 553.5,702.7 553.8,705.2 553.6,708.2 553.7,712.5 553.6,715.0 553.8,717.4 553.7,720.4 553.6,717.5 553.9,714.6 553.7,710.4 553.7,707.7 553.8,704.7 553.6,702.0 553.8,698.8 553.8,695.3 553.8,692.4 553.8,695.6 554.0,698.0 553.8,700.8 554.0,704.7 553.9,707.1 553.8,710.1 554.0,713.2 554.0,716.2 553.9,719.9 554.0,723.2 553.9,725.7 554.0,723.4 553.9,719.0 554.1,715.6 554.0,713.9 554.2,711.4 553.9,708.1 554.2,705.7 554.1,702.7 554.3,706.2 554.3,709.0 554.0,711.2 554.3,714.8 554.3,717.3 554.4,720.3 554.1,722.4 554.2,726.0 554.4,728.5 554.4,731.8 554.3,734.3 554.2,730.9 554.4,727.6 554.5,725.0 554.4,722.3 554.4,719.4 554.5,715.8 554.5,713.7 554.7,716.1 554.7,718.7 554.5,721.8 554.9,725.5 554.5,727.7 554.6,730.5 554.7,733.1 554.6,734.7 554.6,738.6 554.5,742.2 554.7,745.1 555.1,742.2 554.7,738.6 554.7,735.6 554.9,732.2 554.9,728.5 554.8,725.0 554.9,728.5 555.2,731.7 555.0,735.5 554.8,737.5 554.9,740.6 555.0,743.9 555.0,747.5 555.0,750.5 554.9,753.3 555.0,755.3 555.2,750.6 555.1,749.9 555.2,746.7 555.0,743.8 555.0,740.5 555.4,738.0 555.2,741.4 555.4,745.0 555.5,745.9 555.5,749.5 555.5,752.3 555.4,755.5 555.4,758.9 555.7,761.6 555.5,764.7 555.7,767.5 555.5,769.7 555.6,772.9 556.0,775.7 556.4,778.7 556.2,782.2 556.5,784.7 557.0,787.3 557.2,786.0 557.4,785.0 558.0,783.5 558.3,785.0 558.7,786.7 559.0,787.7 559.6,787.0 559.7,785.4 560.2,784.7 560.3,785.3 561.0,786.1 561.3,787.1 561.7,786.3 561.9,784.9 562.3,783.5 562.6,784.4 563.0,784.7 563.3,785.4 563.7,786.0 564.0,786.3 564.5,787.5 564.8,787.1 565.0,783.9 565.5,785.8 565.9,785.2 566.2,785.8 566.5,786.5 566.8,786.1 567.1,785.2 567.5,784.6 567.7,784.9 568.2,784.2 568.7,785.9 568.9,785.4 569.4,783.9 569.4,781.3 570.0,782.5 570.4,782.9 570.9,782.4 571.2,779.8 571.5,782.9 571.9,780.5 572.2,780.0 572.7,782.3 572.9,783.0 573.2,783.5 573.6,784.7 573.9,783.8 574.3,784.7 574.7,784.5 575.2,785.4 575.3,785.9 575.6,785.9 576.1,786.9 576.4,787.1 576.7,786.6 576.7,787.5 577.6,788.0 577.8,788.8 578.5,789.7 578.9,790.0 579.3,789.1 580.1,789.9 580.2,790.3 580.6,790.1 580.8,789.9 581.4,790.6 582.0,790.4 582.2,791.1 582.9,790.5 583.0,790.6 583.6,791.5 583.9,791.3 584.3,791.0 584.8,791.2 585.1,791.2 585.9,791.8 585.9,791.3 586.4,791.1 586.6,790.9 587.2,790.7 587.5,790.3 587.9,790.4 588.6,790.9 589.1,790.5 589.2,789.9 589.4,790.1 589.9,790.5 590.4,791.4 590.9,791.2 591.6,790.9 591.9,791.1 592.1,792.0 592.5,791.5 593.0,792.0 593.1,791.1 593.7,791.1 594.2,791.4 594.5,791.4 595.2,791.6 595.5,791.1 595.9,791.3 596.4,791.4 596.9,791.8 597.2,791.0 597.7,790.8 598.1,790.6 598.5,790.6 599.2,789.7 599.4,789.5 600.1,789.3 600.2,790.1 600.9,790.9 601.2,788.4 601.7,788.1 602.1,788.0 602.6,787.3 602.8,786.9 603.4,786.0 604.0,786.0 604.3,785.4 604.6,784.9 605.2,784.3 605.6,783.8 606.1,783.4 606.4,783.3 606.8,782.7 606.9,781.9 607.3,783.1 607.7,781.8 608.2,781.2 608.5,779.9 608.8,779.0 609.1,777.4 609.4,776.2 609.9,775.4 610.3,777.5 610.4,780.2 610.9,782.3 611.2,783.6 611.6,784.4 612.0,785.3 612.3,785.8 612.7,785.8 613.1,786.4 613.4,786.1 613.8,786.3 613.9,785.7 614.3,785.5 614.8,784.4 615.2,783.3 615.3,782.5 615.9,781.8 616.1,780.8 616.6,779.9 617.0,780.0 617.3,779.5 617.5,781.6 618.0,779.2 618.3,777.0 618.4,776.0 619.1,776.3 619.2,778.2 619.4,781.2 619.6,784.3 620.1,784.8 620.5,785.7 620.8,786.0 621.0,786.6 621.4,786.4 621.8,787.5 622.2,788.1 622.7,787.9 623.2,788.1 623.6,787.6 623.8,787.9 624.4,787.4 625.0,787.6 625.4,788.1 625.9,787.3 626.0,787.8 626.7,788.2 626.9,788.0 627.6,788.6 627.8,787.7 628.1,788.3 628.8,787.7 629.4,787.3 629.7,787.4 630.1,787.7 630.7,787.4 631.0,787.7 631.3,787.5 631.8,787.4 632.4,786.7 632.8,786.6" fill="none" stroke="#ff0000" stroke-width="1.1" stroke-linejoin="round" stroke-linecap="butt" />
<polyline points="41.5,662.1 42.1,665.3 42.5,667.6 42.8,670.0 43.0,673.5 43.3,675.5 43.6,678.7 43.7,674.8 44.0,672.9 44.4,668.6 44.6,665.6 44.8,668.0 45.2,670.2 45.8,672.2 46.0,673.4 46.5,666.9 46.6,664.8 46.9,666.7 47.0,669.6 47.2,672.1 47.2,675.5 47.5,678.4 47.6,681.1 47.8,684.8 48.1,683.2 48.3,679.2 48.5,675.7 48.8,671.8 49.2,670.5 49.4,668.1 49.9,666.6 50.2,669.4 50.6,669.6 50.9,671.2 51.2,671.5 51.7,669.7 52.0,669.1 52.1,672.7 52.2,675.4 52.3,678.1 52.8,682.5 52.4,685.4 52.9,687.7 52.9,690.6 53.2,694.5 53.4,697.4 53.4,697.8 53.9,702.3 53.9,707.9 54.1,709.0 54.2,710.9 54.7,713.6 54.7,718.1 54.6,720.0 54.8,716.6 55.0,714.2 54.9,709.5 55.2,705.8 55.3,704.0 55.5,702.2 55.6,700.3 55.6,695.0 56.1,694.5 56.3,691.8 56.6,687.9 56.5,683.2 56.9,682.8 57.2,680.2 57.3,676.7 57.7,673.9 57.7,672.1 58.1,671.4 58.8,668.5 59.0,665.6 59.2,662.8 59.9,663.7 59.9,663.3 60.3,667.8 60.5,670.1 60.4,673.8 60.7,669.5 60.8,668.1 61.2,665.9 61.3,664.0 61.4,659.8 61.7,657.6 62.2,655.8 62.6,656.3 63.0,658.6 63.2,659.6 63.7,663.7 64.1,664.7 64.3,664.7 64.6,668.3 64.7,669.7 64.8,672.8 65.5,677.4 65.8,671.2 65.9,671.4 66.2,668.0 66.5,660.1 66.6,662.2 67.3,662.5 67.2,660.6 67.8,662.3 68.3,663.7 68.6,663.7 68.9,667.3 69.1,669.2 69.8,671.2 69.9,669.7 70.2,667.4 70.5,663.4 71.1,664.7 71.3,665.6 71.6,668.5 72.2,670.7 72.1,673.2 72.9,676.9 73.3,678.8 73.4,680.7 74.0,681.6 74.3,684.6 74.6,687.1 74.7,688.3 75.2,686.5 75.6,686.3 76.1,685.9 76.2,692.1 76.6,691.5 77.1,691.9 77.2,697.6 77.8,701.0 77.8,701.9 78.1,704.2 78.7,707.6 78.8,711.6 78.9,712.4 79.3,711.4 79.9,712.7 80.1,706.7 80.4,704.7 80.7,701.9 81.0,699.8 81.4,695.1 81.5,692.0 82.2,690.1 82.4,687.9 82.6,685.5 82.9,681.7 83.5,678.4 83.4,681.4 84.0,684.6 84.6,688.4 84.8,686.6 85.2,684.1 85.2,683.1 86.0,685.6 86.1,687.2 86.6,691.4 86.8,688.6 87.3,685.6 87.6,684.8 87.8,686.3 88.4,690.2 88.8,692.2 89.1,690.5 89.3,689.8 89.7,686.7 90.1,685.1 90.3,685.3 90.9,682.9 91.2,678.8 91.3,676.7 91.7,671.2 92.1,669.7 92.1,664.6 92.5,663.6 93.0,660.2 93.3,663.5 93.5,662.8 93.9,667.6 94.2,668.4 94.6,669.5 94.9,673.3 95.5,670.7 95.5,669.7 95.9,666.9 96.3,670.6 96.7,673.2 97.2,675.2 97.7,671.8 97.7,668.7 98.3,666.2 98.5,667.0 98.8,662.2 99.3,661.3 99.7,663.6 100.0,667.9 100.1,668.2 100.7,670.8 100.9,672.9 101.3,677.1 101.7,679.4 101.8,680.5 101.8,683.7 102.3,688.9 102.8,686.0 103.0,685.5 103.4,683.6 103.6,680.7 104.1,677.4 104.3,673.6 105.0,671.4 105.2,670.8 105.5,667.9 106.0,665.7 106.3,663.2 106.7,665.5 107.1,668.1 107.5,669.6 107.8,671.5 108.1,670.8 108.5,668.8 108.9,668.0 109.0,667.9 109.6,669.6 109.6,670.5 110.1,665.8 110.3,666.0 110.8,664.7 111.1,667.1 111.6,669.5 111.7,672.9 112.4,674.6 112.7,675.6 113.0,677.7 113.4,673.9 113.7,670.9 114.0,669.4 114.3,668.2 114.7,666.6 115.2,666.4 115.4,669.3 115.5,671.9 115.9,670.5 116.4,678.0 116.5,673.3 116.9,671.6 117.1,665.6 117.4,665.2 117.9,662.7 118.0,660.4 118.1,657.6 118.5,660.3 118.3,662.9 118.4,665.6 118.7,667.7 118.6,671.4 118.9,674.0 119.0,675.8 119.3,676.0 119.5,672.9 119.7,669.2 119.9,666.7 120.4,669.8 120.6,672.2 121.0,674.8 120.9,678.8 121.2,676.2 121.4,675.3 121.5,669.7 121.8,667.6 121.8,665.6 122.1,660.3 122.2,665.3 122.5,668.2 122.6,672.3 122.7,673.8 123.2,675.9 123.6,679.1 124.0,684.9 124.3,680.6 124.6,681.5 124.9,682.6 125.3,684.5 125.7,686.7 125.9,688.9 126.4,690.5 126.7,693.2 127.0,696.0 127.6,700.6 127.7,701.6 128.3,704.3 128.5,705.0 128.9,705.8 129.3,707.5 129.3,705.6 129.6,703.9 129.5,698.5 129.7,696.1 129.7,692.7 129.8,690.3 130.2,687.7 130.6,687.1 130.9,682.8 131.1,679.7 131.6,675.7 131.9,680.9 132.3,682.1 132.8,684.8 132.8,683.7 133.4,682.3 133.7,678.5 134.3,677.3 134.4,676.8 134.9,675.8 135.1,674.0 135.4,672.5 135.8,672.0 136.2,669.7 136.5,667.3 136.9,665.4 137.4,665.5 137.7,663.7 138.2,662.8 138.3,664.5 138.6,666.2 139.1,667.7 139.3,668.4 139.7,669.3 139.9,670.9 140.4,673.6 140.8,676.5 141.2,679.5 141.5,678.8 141.9,676.4 142.4,678.3 142.7,677.8 143.0,681.4 143.1,684.2 143.5,688.3 143.7,690.3 144.1,691.3 144.4,695.3 144.7,698.4 144.8,700.8 145.2,704.1 145.4,705.3 145.7,708.8 145.9,711.8 146.4,715.5 146.8,715.0 147.3,717.0 147.3,718.7 147.6,719.6 148.2,720.0 148.4,720.5 148.6,723.5 148.6,725.9 148.7,730.3 148.8,733.2 148.9,735.8 149.0,741.9 149.0,742.3 149.3,745.6 149.2,747.1 149.4,751.2 149.7,754.4 150.0,755.0 150.4,759.6 150.6,757.8 151.0,756.6 151.1,752.6 151.2,750.6 151.2,748.2 151.4,744.7 151.4,740.9 151.3,738.8 151.3,734.9 151.6,732.1 151.3,729.6 151.6,727.7 151.7,724.1 151.8,720.9 151.7,717.2 151.8,713.8 152.0,713.1 152.2,709.4 152.6,708.1 152.7,701.3 152.6,699.4 152.7,695.0 153.1,692.4 153.1,690.1 153.6,687.0 153.9,682.2 154.3,687.6 154.5,689.1 154.9,689.7 155.4,689.8 155.5,687.9 156.0,687.2 156.3,684.8 156.7,679.4 156.8,681.8 157.4,683.6 157.7,686.7 158.1,690.2 158.5,687.6 159.0,687.2 159.1,685.6 159.4,686.4 159.8,687.3 160.1,685.5 160.5,686.5 161.2,682.4 161.7,674.1 161.9,674.0 162.0,671.7 162.4,669.1 162.9,671.4 163.2,671.5 163.5,673.4 163.9,673.8 164.2,675.4 164.4,674.1 165.0,672.9 165.1,674.6 165.5,676.0 165.8,679.2 166.1,681.6 166.2,685.1 166.5,682.6 167.0,678.4 167.1,677.1 167.4,673.0 167.7,674.0 168.2,676.6 168.4,678.2 168.9,679.8 169.0,682.8 169.2,685.3 169.2,689.8 169.6,690.2 169.8,692.9 169.8,695.7 170.0,699.2 170.0,702.4 170.1,705.8 170.7,709.2 170.7,711.7 170.7,714.7 171.1,718.9 171.2,720.9 171.4,724.2 171.6,727.2 171.7,730.5 172.1,731.6 172.2,735.0 172.2,739.8 172.5,742.2 172.6,745.9 173.3,740.6 173.3,737.3 173.6,735.0 173.5,732.2 173.8,728.1 173.9,724.5 174.1,722.7 174.2,719.7 174.3,717.1 174.5,715.3 174.6,711.9 174.8,708.1 175.1,704.7 175.2,703.6 175.5,699.7 175.8,695.8 176.3,693.3 176.7,694.6 177.0,695.4 177.3,693.4 177.3,698.6 177.4,701.4 177.7,703.8 177.6,706.7 177.8,709.6 177.7,709.2 177.8,716.9 177.9,719.7 177.9,723.6 178.0,726.2 178.0,729.0 178.1,732.5 178.2,735.3 178.3,735.8 178.5,740.6 178.4,743.9 178.6,745.9 178.8,749.8 179.0,749.7 178.8,755.5 179.0,752.7 179.3,749.3 179.2,749.4 179.4,744.3 179.7,741.2 179.7,738.5 179.7,733.8 179.9,731.3 180.1,729.1 179.9,725.5 180.2,723.2 180.2,716.5 180.5,717.8 180.5,714.3 180.7,714.7 180.9,708.0 181.2,704.7 181.3,702.9 181.6,700.8 181.5,696.9 181.8,694.9 182.1,691.6 182.7,688.2 182.9,684.8 183.2,685.9 183.7,686.7 183.9,688.1 184.4,689.6 184.5,692.7 185.1,694.7 185.3,697.3 185.9,702.2 186.0,704.5 186.2,701.5 186.5,698.0 186.8,698.3 187.3,691.9 187.4,689.0 187.5,685.5 187.8,682.4 188.2,679.2 188.6,676.8 189.0,673.7 189.3,672.4 189.5,670.9 189.9,669.9 190.4,668.9 190.5,668.8 190.9,667.5 191.5,667.3 191.8,668.0 192.2,669.4 192.6,671.2 192.8,669.4 193.0,669.5 193.4,666.7 193.7,670.7 194.2,671.8 194.4,672.5 195.0,673.7 195.4,672.9 195.6,672.0 195.9,674.0 196.1,675.9 196.6,677.0 196.9,681.9 197.5,683.0 197.9,684.6 198.0,683.9 198.4,685.9 198.7,682.0 199.1,678.8 199.1,683.5 199.7,685.2 200.1,682.2 200.5,677.6 200.9,676.1 201.1,674.7 201.7,674.0 202.2,670.7 202.2,671.5 202.5,671.3 203.0,673.1 203.4,675.2 203.7,676.9 203.8,682.3 204.1,682.5 204.7,686.3 204.6,687.4 205.1,690.4 205.5,692.3 206.0,694.8 206.3,696.8 206.3,695.9 206.7,696.7 207.2,696.1 207.6,696.2 208.1,696.3 208.2,697.4 208.8,695.8 209.1,696.6 209.5,696.0 209.7,697.9 210.0,700.3 210.4,703.7 210.9,704.2 211.1,706.2 211.6,708.4 211.9,706.2 212.1,703.1 212.4,700.7 212.9,698.8 213.0,694.7 213.3,689.5 213.7,690.6 213.8,686.4 214.5,684.8 214.7,681.7 215.0,679.1 215.4,676.3 215.9,676.6 216.0,668.6 216.3,665.0 216.6,662.9 217.1,665.3 217.2,667.9 217.7,671.6 217.8,675.1 218.1,678.6 218.7,681.3 218.8,683.4 219.1,686.6 219.6,690.5 219.9,693.6 220.0,694.4 220.7,695.3 221.0,697.8 221.1,696.4 221.8,696.2 222.1,693.9 222.6,691.7 223.1,689.1 223.2,686.4 223.4,683.0 223.8,679.3 224.2,677.2 224.6,676.9 224.9,675.9 225.1,674.8 225.6,676.5 225.6,677.8 226.4,678.1 226.5,681.9 226.4,685.5 226.6,689.1 226.5,691.4 226.9,693.9 227.2,697.2 227.0,700.5 227.3,701.3 227.8,700.9 228.0,702.7 228.6,702.8 228.7,701.5 229.1,701.4 229.4,702.9 229.8,704.1 230.1,706.8 230.4,709.9 230.5,712.4 230.9,715.4 231.0,718.6 231.4,721.0 231.5,716.7 231.7,714.4 231.7,711.8 232.0,711.0 232.0,706.3 232.2,703.4 232.6,702.5 233.0,700.5 233.2,701.8 233.3,704.6 233.9,708.0 233.9,711.3 233.9,715.2 234.2,716.3 234.3,720.6 234.7,716.3 234.9,713.2 235.1,711.2 235.3,709.3 235.5,712.2 235.6,715.5 236.0,718.2 236.0,722.5 236.4,727.5 236.3,728.0 236.8,729.4 237.0,731.1 237.6,733.4 238.0,735.5 238.3,738.4 238.6,740.9 238.6,738.8 238.6,736.4 239.0,734.8 239.0,730.3 239.2,728.0 239.4,725.1 239.8,720.5 239.8,718.8 240.1,713.9 240.2,710.3 240.4,707.9 240.7,703.6 241.2,702.9 241.4,701.0 241.7,699.7 242.2,699.0 242.4,697.6 242.8,697.5 243.1,694.9 243.4,694.1 243.7,693.4 244.2,694.1 244.5,694.8 245.1,693.1 245.3,691.0 245.6,688.6 245.9,690.0 246.1,695.5 246.3,697.1 246.3,700.7 246.6,696.7 247.1,693.5 247.3,690.9 247.4,694.8 247.6,696.7 248.2,699.9 248.1,703.4 248.6,705.7 248.7,708.2 249.1,710.2 249.4,706.3 250.1,704.8 249.9,701.9 250.3,698.3 250.6,697.2 251.0,691.2 251.0,688.5 251.1,684.8 251.6,682.1 251.8,680.3 251.9,676.6 252.3,675.1 252.7,672.2 253.0,668.7 253.5,666.2 253.9,665.7 253.9,662.7 254.3,659.3 254.9,658.7 255.0,656.3 255.5,655.5 256.0,656.6 256.1,655.0 256.5,654.9 256.9,657.7 257.2,661.1 257.7,663.3 258.1,665.3 258.4,665.3 258.7,667.3 258.9,667.2 259.4,667.5 259.9,668.3 260.0,669.3 260.4,672.9 260.6,674.9 260.6,678.5 261.1,675.4 261.3,672.4 261.5,669.9 261.8,667.4 262.1,669.4 262.4,671.6 263.0,674.7 263.3,675.6 263.5,668.3 263.9,669.9 264.3,669.8 265.0,672.9 265.1,672.8 265.3,671.6 265.6,666.5 266.1,670.2 266.5,673.6 267.1,676.5 267.1,673.9 267.2,673.1 267.9,671.8 268.1,672.8 268.2,669.1 268.9,673.5 269.1,674.1 269.5,675.9 270.0,678.0 270.2,678.2 270.8,685.8 271.2,685.5 271.6,683.0 271.5,680.9 272.0,679.1 272.4,681.1 272.5,684.0 272.7,687.7 273.0,694.4 273.4,695.1 273.8,696.9 274.2,698.4 274.4,702.6 275.0,705.4 275.3,708.1 275.4,710.3 276.1,714.2 276.0,714.8 276.4,720.8 276.4,723.8 276.5,726.9 276.5,729.0 276.9,731.6 276.9,735.2 277.0,738.0 277.1,739.8 277.3,743.5 277.4,744.1 277.3,751.9 277.4,753.2 277.6,757.3 277.7,759.8 277.6,763.0 277.7,766.2 277.9,769.2 277.9,772.1 277.9,774.6 278.1,777.4 278.2,779.1 278.0,782.8 278.3,787.8 278.1,789.7 278.5,793.0 278.3,794.9 278.4,798.0 278.8,798.0 279.2,797.7 279.6,798.0 280.0,798.0 280.0,798.1 280.3,794.8 280.1,790.6 280.4,788.1 280.5,785.0 280.8,781.8 280.9,778.7 280.9,775.8 280.9,773.4 281.3,771.6 281.2,768.3 281.5,765.8 281.8,762.5 281.9,765.1 281.8,768.7 282.1,771.5 282.3,775.5 282.2,777.4 282.4,780.0 282.4,783.0 282.8,789.0 282.9,790.2 282.8,792.1 283.1,792.8 283.2,798.1 283.5,798.1 283.9,798.0 284.2,798.0 284.6,797.9 284.8,794.9 284.8,791.3 284.9,788.5 285.3,786.1 285.2,783.3 285.3,780.1 285.5,776.5 285.5,773.5 285.8,776.6 285.9,780.2 285.7,781.1 285.9,785.2 286.3,788.6 286.2,791.3 286.4,795.5 286.4,798.0 286.8,798.0 287.2,798.1 287.7,798.3 288.1,797.9 288.3,797.2 288.3,790.2 288.2,789.0 288.4,785.9 288.7,781.4 288.5,780.3 288.9,775.0 288.8,773.3 289.0,769.3 289.1,766.9 289.2,763.9 289.1,761.8 289.3,758.5 289.4,753.8 289.5,752.8 289.7,749.5 289.9,745.9 290.0,744.3 290.4,740.8 290.7,738.7 290.9,735.0 291.3,731.9 291.4,729.5 291.6,727.5 292.0,726.2 292.5,728.2 292.7,723.1 293.0,723.1 293.5,722.1 293.6,716.2 294.1,723.1 294.4,724.7 294.8,727.0 295.2,729.3 295.7,732.7 296.0,734.1 296.2,735.9 296.7,739.4 296.9,741.8 297.3,742.1 297.5,737.6 298.0,737.7 298.2,740.1 298.6,743.2 298.9,748.0 298.9,748.4 299.3,747.2 299.8,750.6 300.0,752.8 300.2,754.2 301.1,751.4 301.1,756.1 301.5,754.0 301.8,751.0 302.1,751.6 302.7,751.7 302.7,750.6 303.2,751.1 303.7,752.1 304.0,753.5 304.4,759.4 304.7,757.2 304.8,760.6 305.6,758.5 305.6,757.4 305.9,754.7 306.2,753.4 306.8,752.2 307.3,753.5 307.4,751.5 307.6,747.0 307.7,743.3 308.0,740.0 308.2,736.3 308.2,737.3 308.6,734.5 308.9,727.8 309.2,724.2 309.4,725.0 309.9,724.4 310.3,724.1 310.6,723.1 311.0,728.1 311.4,723.8 311.6,730.0 312.0,733.6 312.3,737.2 312.7,735.8 313.3,733.4 313.6,732.3 313.7,729.3 314.2,727.4 314.8,725.6 314.6,721.6 314.9,718.8 315.0,716.2 314.8,714.0 315.0,711.5 315.5,708.8 315.4,706.0 315.4,703.7 315.5,700.6 315.6,697.6 315.8,694.1 315.7,692.0 316.1,687.0 316.5,685.5 316.9,679.8 317.3,680.0 317.4,681.8 317.7,683.2 317.9,684.7 318.1,688.4 318.1,690.9 318.0,694.3 318.4,697.9 318.0,700.1 318.1,703.5 318.3,706.6 318.2,709.1 318.3,712.3 318.5,716.1 318.3,722.2 318.3,721.3 318.6,725.0 318.6,729.2 318.4,729.8 318.6,733.5 318.7,736.9 318.5,740.4 318.9,742.7 318.9,745.6 318.8,749.2 318.9,744.5 319.1,740.9 319.1,736.5 318.9,736.3 319.4,734.1 319.4,728.6 319.6,725.5 319.5,723.9 319.7,720.8 320.0,718.2 319.8,713.7 320.2,711.0 320.3,708.4 320.4,706.4 320.4,701.9 320.4,700.0 321.0,700.7 321.2,700.1 321.7,702.2 321.9,704.6 322.2,701.6 322.6,701.3 323.0,700.6 323.3,701.3 323.8,700.4 324.2,698.3 324.2,697.0 324.8,696.5 325.1,693.3 325.1,689.1 325.4,686.6 325.8,684.3 325.8,681.5 326.0,682.2 326.3,685.1 326.2,688.2 326.5,691.2 326.7,693.4 326.8,696.9 326.8,700.2 326.8,701.7 326.9,705.2 327.2,708.6 327.4,711.5 327.2,714.5 327.5,716.7 327.8,720.8 328.0,724.3 328.1,726.4 328.2,729.7 328.6,733.7 328.3,737.0 328.3,741.0 328.5,743.4 328.8,746.3 328.8,750.4 328.9,753.1 329.2,755.4 329.4,758.7 329.6,761.2 330.0,765.7 330.0,768.2 330.1,763.9 330.5,761.9 330.4,758.9 330.7,756.1 330.8,752.8 330.9,750.0 331.2,747.3 331.2,744.2 331.1,739.8 331.2,738.1 331.4,734.2 331.5,732.7 331.8,731.7 332.1,727.6 332.5,732.6 332.6,731.6 332.8,736.3 332.8,740.0 333.3,738.6 333.6,738.4 333.7,733.4 333.9,731.7 334.1,729.1 334.1,725.3 334.3,723.3 334.2,721.6 334.5,717.7 334.2,714.5 334.6,711.3 334.9,708.3 334.8,706.3 335.0,702.2 335.3,700.2 335.4,697.7 335.6,693.3 335.8,692.1 335.9,687.5 336.0,684.9 336.2,682.0 336.0,679.4 336.6,677.1 336.7,673.8 337.2,671.8 337.6,670.6 337.9,671.8 338.1,673.8 338.5,675.6 339.0,674.3 339.0,673.0 339.6,671.9 340.0,674.5 340.4,676.2 340.6,680.1 341.0,683.3 341.3,685.1 341.4,688.7 341.7,693.0 341.9,695.3 342.1,698.1 342.2,701.6 342.2,704.8 342.6,708.0 342.9,711.1 342.9,714.9 343.5,717.8 343.9,716.8 344.2,717.4 344.5,717.9 344.8,719.2 345.3,719.5 345.6,719.3 346.0,723.2 346.3,728.8 346.3,726.8 346.7,731.7 347.0,734.2 346.9,736.5 347.2,740.0 347.4,742.6 347.2,745.1 347.7,747.8 348.0,745.0 348.2,742.1 348.4,739.6 348.8,737.1 348.9,738.4 349.3,740.0 349.8,740.2 350.2,742.4 350.4,745.8 350.3,749.9 350.6,753.7 350.9,755.0 350.9,759.2 351.4,761.7 351.5,764.9 351.6,769.4 352.1,770.7 352.1,769.3 352.2,765.5 352.4,761.8 352.5,759.2 352.7,756.5 352.6,752.7 352.6,749.8 352.6,747.7 352.8,743.8 353.1,741.3 353.1,737.8 353.1,734.6 352.8,731.7 353.2,730.2 353.2,725.9 353.2,723.0 353.4,719.9 353.3,718.9 353.5,715.4 353.6,711.7 353.6,708.6 353.5,704.6 353.7,702.5 353.9,699.0 353.8,696.5 353.9,693.3 353.7,693.0 353.8,688.6 354.1,685.6 354.3,681.9 354.7,679.0 354.7,678.7 354.9,675.7 355.4,673.3 355.8,671.7 356.0,669.6 356.5,674.2 357.0,675.3 357.1,677.9 357.5,679.2 357.5,684.9 357.7,688.3 357.7,690.8 357.7,694.0 357.8,697.4 358.2,700.6 357.9,703.5 358.2,705.8 358.5,705.8 358.9,708.0 359.4,707.6 359.4,709.9 359.8,715.2 359.9,718.2 360.1,720.8 360.5,726.1 360.3,727.2 360.3,730.0 360.4,732.0 360.6,738.4 360.6,739.5 360.6,742.2 360.4,746.2 360.9,746.6 360.8,750.5 360.9,753.4 361.0,756.3 361.0,760.9 361.3,756.6 361.1,752.6 361.1,751.2 361.1,747.2 361.2,745.7 361.2,741.1 361.4,737.1 361.4,734.7 361.4,731.8 361.5,729.9 361.7,725.1 361.6,727.4 361.9,722.1 361.6,718.0 361.6,715.5 361.8,711.0 362.2,714.4 362.0,717.6 362.5,720.0 362.6,722.4 362.9,725.1 363.6,729.0 363.4,727.2 363.7,732.1 364.0,737.1 364.0,740.3 364.6,742.2 364.3,745.0 364.5,749.0 364.8,750.9 364.9,750.9 364.9,757.5 365.1,760.3 365.3,760.1 365.3,757.9 365.8,755.9 365.4,753.9 365.7,749.9 365.5,746.7 365.7,744.0 365.9,741.2 366.1,738.3 365.9,735.0 366.1,732.5 366.2,728.2 366.6,725.5 366.6,719.7 366.7,719.8 366.7,716.9 366.8,713.8 366.9,712.0 367.0,705.6 367.2,705.3 367.1,703.0 367.6,698.5 367.7,697.1 367.5,690.7 368.2,691.1 368.2,687.4 368.4,684.1 369.0,681.6 369.1,679.4 369.2,676.9 369.4,674.0 369.6,671.4 369.9,668.1 370.1,667.0 370.5,661.4 370.9,660.0 371.1,664.2 371.4,669.4 371.6,669.0 371.8,672.8 372.0,675.0 371.9,675.1 372.0,681.2 372.1,684.2 372.0,685.0 372.2,691.5 372.6,694.0 372.6,691.6 372.8,688.5 373.1,685.5 373.2,681.9 373.9,680.7 374.0,678.5 374.7,674.9 374.7,673.7 375.2,671.6 375.3,675.0 375.5,677.4 375.4,680.4 375.6,683.4 375.5,685.5 375.6,688.0 375.7,693.3 376.0,693.5 375.8,698.7 376.1,700.1 376.1,703.2 376.1,705.2 376.1,709.0 376.2,711.2 376.2,715.9 376.3,719.0 376.3,721.3 376.4,724.4 376.4,726.2 376.5,729.4 376.4,733.1 376.5,729.8 376.7,726.3 376.7,722.9 377.0,721.5 377.0,716.6 376.9,715.4 377.1,712.3 377.0,709.2 377.2,706.5 377.2,703.7 377.5,700.0 377.6,696.1 377.5,693.6 377.8,691.1 377.8,686.6 378.0,686.0 378.0,680.8 378.2,680.2 378.5,676.9 378.2,672.9 378.5,670.5 379.0,672.0 379.5,665.1 379.6,663.2 380.0,663.9 380.5,666.5 380.9,667.3 381.1,667.0 381.5,667.3 381.9,664.2 382.1,664.3 382.6,662.1 382.8,662.7 383.4,661.5 383.5,659.3 383.9,657.3 384.3,659.5 384.2,663.6 384.6,664.9 384.8,668.8 384.9,671.9 385.3,669.8 385.8,668.3 385.9,666.0 386.3,666.8 386.7,666.9 387.3,668.0 387.8,667.5 388.0,664.2 388.1,662.9 388.6,663.7 388.6,667.6 388.9,671.6 389.2,674.5 389.6,672.5 390.2,670.2 390.3,667.0 390.6,669.6 391.0,672.8 391.3,675.5 391.6,673.4 392.0,671.4 392.2,668.2 392.3,666.4 392.7,666.9 393.0,667.2 393.7,667.8 393.6,670.1 394.3,666.3 394.6,663.4 394.9,664.9 395.2,665.1 395.8,665.4 395.9,668.7 396.4,671.8 396.8,667.3 397.0,666.7 397.5,664.0 397.6,661.7 398.2,661.1 398.2,658.6 398.7,655.2 399.2,657.2 399.5,654.7 399.7,658.7 400.5,658.9 400.8,657.8 401.1,655.7 401.4,657.5 401.7,660.4 402.2,663.8 402.5,661.6 402.9,660.8 403.3,659.7 403.5,661.5 404.0,663.8 404.3,665.3 404.4,666.1 405.0,667.8 405.2,667.6 405.8,669.5 405.8,672.7 406.3,674.1 406.5,678.1 406.7,676.4 407.0,675.1 407.5,673.6 407.5,675.8 408.1,679.0 408.4,680.7 409.1,682.8 408.9,686.8 409.6,691.7 409.6,687.8 410.1,681.3 409.9,681.7 410.1,679.3 410.4,676.2 410.7,675.6 410.9,673.2 411.4,673.1 411.7,670.1 412.1,669.9 412.5,667.5 412.5,672.5 412.9,672.1 412.9,676.8 413.1,678.6 413.2,683.2 413.8,685.8 413.5,687.9 413.7,686.8 413.6,694.1 413.7,696.3 414.1,698.9 413.8,701.8 414.0,704.7 414.0,708.7 414.1,707.1 414.3,701.2 414.7,699.4 414.7,696.6 414.9,692.7 414.8,689.8 415.2,692.0 415.6,696.2 415.6,698.1 415.8,699.6 415.7,702.5 416.1,705.2 416.2,708.3 416.3,710.1 416.4,713.9 416.8,716.4 416.8,718.6 416.7,721.0 416.7,724.4 416.9,724.2 417.0,725.4 417.0,725.4 417.1,718.6 417.3,718.2 417.4,714.9 417.6,711.3 417.6,707.6 417.6,705.4 417.9,702.8 418.0,701.1 418.2,696.6 418.1,694.5 418.3,691.5 418.3,687.3 418.4,684.6 418.7,682.7 418.7,678.8 419.2,676.4 419.3,673.6 419.7,669.6 420.0,663.2 420.4,663.8 420.7,661.9 421.3,660.8 421.6,658.7 421.9,656.9 422.2,655.1 422.4,654.4 422.9,656.8 423.4,655.2 423.6,656.6 423.8,655.5 424.2,655.3 424.7,654.2 424.9,656.3 425.3,658.3 425.6,658.7 426.2,657.2 426.4,657.0 426.7,656.0 427.2,656.9 427.6,657.9 428.0,659.7 428.4,658.8 428.6,655.8 428.9,656.3 429.3,656.3 429.7,660.4 429.9,654.0 430.4,654.4 430.8,658.6 431.0,659.5 431.4,659.7 431.5,662.0 432.0,662.3 432.4,661.0 432.8,656.9 433.1,657.1 433.4,657.2 433.8,654.5 434.3,655.0 434.3,657.3 434.9,657.0 435.2,659.0 435.6,658.9 436.0,660.4 436.5,660.9 436.5,664.3 436.7,666.1 436.8,670.9 436.9,673.3 437.1,675.5 437.2,680.1 437.4,681.7 436.9,684.2 437.2,687.7 437.1,691.6 437.4,694.1 437.4,696.9 437.4,698.6 437.7,703.3 437.6,705.0 437.6,707.1 437.7,704.3 437.8,698.6 437.9,699.9 437.8,695.8 438.1,693.6 438.4,690.2 438.3,687.0 438.6,685.0 438.5,682.2 438.7,678.4 438.8,675.7 438.9,672.5 439.3,669.3 439.2,673.0 439.6,675.9 439.7,679.8 439.7,685.6 440.2,680.2 440.4,676.3 440.5,673.5 440.7,675.9 440.9,679.3 441.3,681.7 441.5,683.8 441.8,685.8 441.7,685.0 441.8,682.3 442.1,679.0 442.1,672.5 441.9,673.1 442.2,668.4 442.5,672.4 442.6,676.6 442.9,678.5 443.1,680.6 443.2,683.8 443.3,689.4 443.6,682.5 443.6,677.7 443.8,677.7 443.7,675.5 444.0,671.6 444.5,670.8 444.7,668.9 445.0,667.8 445.2,661.9 445.5,661.9 445.7,659.7 446.4,657.4 446.7,655.3 446.8,654.2 447.2,653.4 447.7,654.0 447.8,651.9 448.3,652.5 448.6,653.3 449.0,654.3 449.3,654.4 449.5,653.9 450.0,654.3 450.4,652.6 450.7,652.8 451.1,653.7 451.4,652.2 451.7,653.2 452.0,653.1 452.5,652.8 452.9,653.3 453.0,654.3 453.7,653.8 453.9,652.9 454.1,653.1 454.6,652.6 454.9,654.2 455.3,655.7 455.5,657.0 456.1,657.4 456.2,658.6 456.8,658.6 457.3,659.3 457.3,661.0 457.7,660.7 458.0,658.7 458.5,657.1 458.8,657.0 459.2,655.6 459.7,653.3 459.8,653.6 460.3,653.8 460.3,654.1 461.0,658.2 461.2,657.5 461.6,655.2 462.1,656.0 462.5,654.1 462.6,654.7 462.9,653.0 463.6,652.9 463.8,652.9 464.0,655.3 464.6,654.3 464.7,653.3 465.2,652.6 465.6,655.4 465.7,654.0 466.2,654.5 466.7,655.9 467.1,658.6 467.3,661.4 467.6,663.1 468.1,666.5 468.3,668.8 468.8,668.6 469.1,664.6 469.5,664.9 470.0,665.5 469.9,666.1 470.3,669.7 470.9,668.2 471.3,670.3 471.5,673.3 471.9,675.6 472.3,679.3 472.5,681.0 473.1,686.4 473.1,686.2 473.2,690.3 473.5,691.5 473.8,693.0 474.2,698.7 474.3,700.7 474.7,702.9 474.9,707.1 475.1,705.9 475.4,710.1 475.6,714.7 475.6,715.3 475.9,720.3 476.2,725.2 476.7,727.6 476.2,731.1 477.1,736.0 477.1,736.6 477.2,740.3 477.4,744.6 477.6,747.6 477.7,748.8 477.7,751.0 477.8,754.2 478.2,757.0 478.0,757.7 478.3,763.3 478.2,769.5 478.6,771.1 478.6,774.4 478.6,776.9 478.8,778.7 478.7,782.8 478.8,785.7 479.0,788.9 479.0,790.6 479.4,794.6 479.3,798.0 479.7,798.0 480.0,798.1 480.4,798.1 480.4,795.3 480.6,792.3 480.5,789.6 480.5,786.4 480.6,784.1 480.8,779.9 480.7,777.7 480.9,774.3 481.0,771.2 480.7,769.4 481.0,765.1 481.0,763.0 481.0,765.2 481.2,768.7 481.3,772.1 481.3,774.0 481.4,777.4 481.4,780.2 481.4,784.7 481.5,784.2 481.5,789.9 481.6,791.3 481.7,794.7 481.8,797.9 482.1,798.0 482.5,798.1 482.8,798.1 482.9,795.1 483.1,792.0 482.7,790.6 483.1,786.2 483.1,785.1 483.3,780.6 483.2,778.3 483.4,774.6 483.2,770.6 483.5,769.3 483.6,765.6 483.5,763.0 483.6,760.8 483.7,757.8 483.8,755.0 484.1,751.4 484.4,748.4 484.5,745.1 484.7,742.8 484.8,741.2 484.9,738.6 485.1,735.3 485.3,731.5 485.5,729.2 485.5,726.1 485.3,722.6 485.7,719.9 485.9,717.2 485.9,713.7 486.1,711.3 486.1,708.0 486.2,705.2 486.1,702.6 486.6,698.4 486.6,698.4 486.7,693.6 487.0,694.3 486.8,688.4 487.2,685.5 487.5,684.6 487.7,681.6 487.9,680.5 488.5,681.7 488.8,682.2 489.4,683.0 489.5,680.3 489.8,678.5 490.0,675.4 490.4,672.7 490.5,669.7 490.9,671.2 491.1,673.3 491.4,676.1 491.5,678.1 491.6,680.6 491.8,684.3 492.3,687.7 492.2,691.7 492.3,695.2 492.3,691.4 492.7,689.0 493.0,687.1 493.3,681.8 493.2,679.2 493.4,677.0 493.6,676.1 494.0,674.8 494.6,672.6 494.8,669.4 495.1,670.7 495.7,668.9 496.0,668.5 496.3,667.0 496.5,666.4 497.0,664.3 497.3,663.1 497.6,662.9 497.8,660.7 498.4,660.8 498.4,663.4 498.2,664.8 498.2,669.5 498.4,673.0 498.4,674.5 498.6,678.6 498.5,681.1 498.5,685.4 498.3,688.0 498.4,690.6 498.4,693.3 498.5,696.4 498.6,699.9 498.6,702.2 498.4,706.2 498.6,710.5 498.7,715.0 498.7,714.9 498.7,716.9 498.8,721.0 498.7,723.6 498.8,727.0 498.4,730.4 498.8,731.6 498.5,735.3 498.7,735.9 498.6,740.0 498.7,745.1 498.9,746.6 499.0,749.7 498.7,752.1 498.9,755.0 498.7,758.4 499.2,762.4 499.0,763.9 498.8,767.5 499.2,771.0 498.7,774.6 499.1,777.2 498.8,779.9 498.8,783.0 498.8,785.5 499.2,789.5 499.0,790.5 499.0,794.5 499.0,797.9 499.4,797.9 499.7,797.8 499.9,796.3 500.0,791.2 499.8,788.0 499.7,786.2 500.0,782.7 499.6,782.5 499.7,777.3 500.1,775.0 500.0,769.0 500.0,768.1 499.9,765.4 499.9,763.1 499.9,760.3 500.1,756.9 500.1,753.0 499.9,750.1 500.3,748.4 500.1,745.2 500.2,740.1 500.2,738.0 499.9,734.6 500.3,732.2 500.4,731.4 500.2,727.4 500.6,723.3 500.1,721.0 500.5,718.2 500.4,713.9 500.6,710.4 500.5,706.9 500.5,702.7 500.6,700.9 500.7,698.9 500.8,695.5 500.7,692.3 501.0,696.6 501.5,698.5 501.3,702.9 501.6,703.8 501.5,709.1 501.8,710.4 501.8,713.1 501.9,716.3 501.9,720.1 501.9,723.1 501.8,726.0 502.0,728.9 502.2,731.6 502.2,735.1 502.2,738.6 502.5,735.7 502.4,732.7 502.4,729.0 502.3,727.1 502.4,722.6 502.8,720.3 502.7,717.1 502.5,714.6 502.7,711.9 502.9,712.1 502.6,706.3 502.7,700.2 503.3,700.1 503.6,697.0 504.1,694.2 504.1,691.2 504.4,685.8 504.5,685.6 505.1,682.0 504.9,678.3 505.1,680.7 505.2,687.1 505.6,688.3 505.9,694.4 506.0,688.2 506.4,685.0 506.6,688.7 506.7,692.7 507.0,695.2 507.1,698.7 507.3,700.6 507.3,696.9 507.6,694.3 507.7,691.3 508.0,689.3 508.3,685.2 508.5,682.4 508.9,679.6 509.0,677.7 509.2,673.8 509.7,669.3 509.8,665.7 510.4,663.2 510.6,662.2 511.2,663.1 511.4,659.1 511.9,661.8 512.1,665.7 512.6,667.7 512.6,666.2 513.1,664.6 513.2,664.3 513.8,666.1 514.0,668.7 514.3,669.7 514.9,666.6 515.4,663.9 515.6,661.9 516.1,664.6 516.2,666.1 516.5,667.5 516.9,668.6 517.4,670.8 517.7,672.7 518.0,672.3 518.4,671.8 518.8,671.5 519.0,674.4 519.2,677.0 519.0,680.4 519.2,684.9 519.3,687.2 519.5,683.7 519.9,681.2 519.9,684.9 520.3,688.5 520.1,690.6 520.3,693.2 520.8,696.8 520.4,700.3 520.6,702.0 520.6,704.8 520.7,706.6 521.1,707.2 521.2,707.1 521.5,703.0 521.6,703.3 521.7,696.9 521.6,697.6 521.8,692.1 521.8,688.9 521.9,686.3 521.8,682.3 522.1,679.8 522.3,673.9 522.6,676.4 523.0,675.4 523.0,673.9 523.5,670.3 523.7,666.8 524.3,665.1 524.8,662.9 524.9,661.5 525.4,660.3 525.7,661.3 526.2,662.1 526.5,662.0 526.7,661.7 527.0,661.5 527.3,661.2 527.7,661.1 528.0,662.1 528.6,664.2 528.8,663.4 529.4,663.3 529.6,662.7 529.9,665.0 530.2,663.8 530.5,665.3 531.1,662.7 531.2,661.0 531.7,659.4 532.0,661.8 532.5,658.6 532.5,657.0 533.0,656.2 533.2,658.7 533.6,656.1 534.1,657.9 534.5,660.0 534.6,663.8 534.9,664.2 535.3,666.3 535.9,669.3 536.3,671.7 536.6,674.6 537.1,676.0 537.2,680.0 537.4,682.9 537.7,688.2 537.7,686.8 538.1,691.2 537.9,692.1 538.1,694.6 538.2,700.6 538.3,703.5 538.5,700.2 538.6,698.1 539.2,693.6 539.2,690.1 539.5,687.2 539.5,686.6 540.0,683.0 539.7,686.0 540.0,688.5 540.2,693.8 540.2,698.3 540.6,699.2 540.9,702.8 541.0,708.0 541.3,708.9 541.4,711.3 541.6,710.1 541.6,717.6 542.1,721.0 542.5,723.4 542.9,725.4 543.5,725.6 543.5,732.9 544.0,732.2 544.0,726.7 544.4,727.8 544.4,725.0 544.8,721.4 545.2,722.5 545.5,727.6 545.4,730.5 545.5,733.5 545.7,737.8 545.6,740.5 546.0,742.0 546.1,745.4 546.1,748.6 546.2,752.2 546.2,754.9 546.5,758.0 546.5,761.5 546.6,763.1 546.8,767.4 547.0,765.3 547.6,764.3 547.9,764.5 547.9,765.3 548.4,767.9 548.7,770.7 548.8,773.5 549.0,778.5 549.3,779.9 549.2,779.7 549.2,786.9 549.4,788.3 549.6,791.7 549.3,794.5 549.6,797.9 549.9,798.0 550.3,798.2 550.7,798.1 551.0,798.2 551.4,798.0 551.7,798.0 552.1,798.1 552.5,797.9 552.8,798.1 553.1,798.0 553.5,798.1 553.8,798.0 554.2,798.8 554.5,798.9 554.8,798.3 554.9,795.7 555.2,790.8 555.1,787.8 555.2,782.5 555.2,781.6 555.1,777.5 555.4,774.6 555.7,776.1 555.5,767.8 555.6,765.2 555.6,762.8 555.6,759.5 555.9,756.5 555.7,752.8 555.8,750.3 555.9,747.3 556.0,744.3 556.0,741.3 555.8,739.2 556.1,735.1 556.1,732.0 556.1,729.3 556.1,724.0 556.1,723.5 556.5,723.1 556.7,717.5 556.5,714.0 556.5,711.0 556.7,708.9 556.7,704.9 556.9,702.0 556.8,699.0 557.2,695.3 557.1,693.5 557.4,691.0 557.5,690.2 557.5,684.3 557.9,680.9 558.2,681.4 558.3,676.6 558.6,680.0 558.6,681.8 558.8,684.5 558.9,687.6 559.2,690.6 559.3,685.7 559.6,684.1 559.8,684.5 559.9,677.8 560.2,677.8 560.4,679.7 561.0,682.2 561.2,679.8 561.6,676.8 561.9,673.6 562.2,673.9 562.6,677.9 563.0,680.7 563.3,675.6 563.6,673.8 563.8,669.5 564.0,670.9 564.2,672.2 564.5,675.5 564.3,677.9 564.7,682.8 564.7,685.5 565.0,688.6 565.4,688.9 565.6,691.4 565.7,696.6 566.2,694.8 566.0,688.8 566.5,686.1 566.6,684.9 566.8,682.7 567.1,681.0 567.3,676.5 567.9,673.1 567.8,669.9 568.1,669.1 568.4,666.5 568.9,669.0 569.2,672.4 569.4,674.1 569.9,676.2 570.0,675.4 570.4,673.8 570.6,672.6 570.8,675.1 570.9,678.8 571.3,682.9 571.5,685.4 572.0,682.8 572.0,678.2 572.5,675.8 572.8,674.4 573.1,671.6 573.5,670.4 574.1,669.9 574.4,668.0 574.7,667.3 575.0,664.4 575.4,662.7 575.8,662.8 576.3,660.7 576.4,658.7 576.7,655.4 577.2,656.0 577.5,656.3 577.9,653.7 578.3,655.8 578.6,657.1 578.9,659.3 579.2,655.9 579.7,655.7 580.0,655.9 580.4,656.9 580.6,660.4 580.9,662.0 581.4,665.5 581.6,669.1 582.0,665.9 582.3,663.4 582.4,660.5 582.8,657.4 583.3,655.8 583.5,655.7 583.8,655.2 584.3,656.3 584.5,655.4 584.8,654.9 585.3,655.6 585.5,656.4 585.8,657.5 586.3,656.6 586.6,659.0 587.0,656.4 587.3,659.7 587.5,660.6 588.1,662.3 588.2,660.3 588.8,663.0 589.1,660.3 589.3,661.1 589.8,660.5 590.1,658.8 590.4,658.1 590.9,655.8 591.2,655.9 591.6,656.0 592.0,654.5 592.1,654.6 592.7,657.2 593.0,658.1 593.2,660.2 593.6,658.0 594.3,657.1 594.4,654.1 594.4,655.7 594.9,658.4 595.5,659.6 595.8,657.4 596.0,657.8 596.5,657.0 596.9,659.8 596.9,662.4 597.4,666.0 597.7,667.9 597.8,671.0 598.3,671.3 598.4,672.5 598.5,672.8 598.8,669.4 599.1,666.0 599.2,662.2 599.6,665.9 600.2,667.4 600.2,671.2 600.7,672.1 600.9,665.9 601.2,663.3 601.6,660.2 601.7,663.3 602.0,666.9 602.1,669.4 602.0,671.5 602.6,672.5 602.9,674.0 603.3,674.6 603.6,672.4 604.0,674.6 604.1,677.6 604.3,680.0 605.0,680.2 605.3,682.0 605.7,683.1 605.9,682.3 606.1,690.3 606.3,692.7 606.7,693.9 606.9,696.5 607.3,698.2 607.7,700.5 608.2,700.2 608.2,700.1 608.7,701.0 609.0,703.6 609.1,709.1 609.4,710.3 609.1,711.8 609.3,717.1 609.5,720.8 609.7,720.2 609.6,727.6 609.8,730.1 609.8,733.3 610.1,735.1 610.2,737.1 610.2,735.3 610.0,731.5 610.2,729.6 610.3,724.9 610.3,721.8 610.3,718.5 610.4,711.8 610.3,712.1 610.4,708.7 610.6,705.8 610.6,703.1 610.7,700.6 610.7,696.8 610.9,692.7 610.9,690.5 611.0,690.1 611.0,683.6 610.8,682.6 611.0,680.1 611.1,675.6 611.4,673.0 611.7,672.7 612.1,672.3 612.2,671.7 612.8,672.4 613.0,671.9 613.5,674.5 613.5,672.8 614.1,672.4 614.4,671.7 614.6,671.8 615.1,672.2 615.6,676.2 615.6,676.2 615.8,679.4 615.5,681.8 615.7,685.1 616.1,688.0 616.1,692.0 616.1,694.9 616.2,698.3 616.5,695.5 617.1,692.5 617.1,693.2 617.7,692.1 618.2,694.1 618.1,696.3 618.2,699.1 618.5,701.9 618.4,705.6 618.7,707.4 618.8,711.5 619.0,714.7 619.4,717.2 618.8,720.4 619.5,724.2 619.5,718.9 619.4,719.0 619.8,715.8 619.6,712.6 619.7,710.5 619.7,706.3 619.9,702.1 619.9,699.6 620.0,696.5 619.9,692.1 620.0,690.1 620.1,687.3 620.4,684.8 620.6,682.1 620.6,679.7 621.0,673.3 620.8,675.4 621.3,668.5 621.7,666.7 622.0,666.2 622.1,666.1 622.4,664.5 622.9,664.8 623.4,664.1 623.9,662.7 624.1,661.0 624.4,659.3 624.7,657.5 624.9,662.0 625.5,660.9 625.7,665.7 625.9,665.2 626.4,663.8 626.7,665.1 627.2,668.3 627.5,670.6 628.0,676.2 628.1,675.8 628.4,676.6 628.8,676.7 629.5,673.3 629.7,670.8 630.1,671.3 630.4,671.7 630.9,672.5 631.0,670.1 631.6,667.9 631.7,665.5 632.2,666.0 632.3,665.4 632.8,664.1" fill="none" stroke="#87ceeb" stroke-width="1.3" stroke-linejoin="round" stroke-linecap="butt" />
</g>
<text x="41.4" y="644.05" font-size="17.15">d) OISST @ 0.125°E,80.125°N</text>
<text x="33.6" y="656.65" font-size="14" text-anchor="end">2</text>
<text x="33.6" y="693.56" font-size="14" text-anchor="end">1</text>
<text x="33.6" y="730.48" font-size="14" text-anchor="end">0</text>
<text x="33.6" y="767.39" font-size="14" text-anchor="end">−1</text>
<text x="33.6" y="804.30" font-size="14" text-anchor="end">−2</text>
<text x="664.6" y="656.65" font-size="14" text-anchor="end">100</text>
<text x="664.6" y="686.18" font-size="14" text-anchor="end">80</text>
<text x="664.6" y="715.71" font-size="14" text-anchor="end">60</text>
<text x="664.6" y="745.24" font-size="14" text-anchor="end">40</text>
<text x="664.6" y="774.77" font-size="14" text-anchor="end">20</text>
<text x="664.6" y="804.30" font-size="14" text-anchor="end">0</text>
<text x="32.50" y="818.10" font-size="14">Jan</text>
<text x="67.69" y="818.10" font-size="14">Jul</text>
<text x="73.99" y="830.20" font-size="12.5" text-anchor="middle">2014</text>
<text x="98.23" y="818.10" font-size="14">Jan</text>
<text x="133.42" y="818.10" font-size="14">Jul</text>
<text x="139.72" y="830.20" font-size="12.5" text-anchor="middle">2015</text>
<text x="163.95" y="818.10" font-size="14">Jan</text>
<text x="199.33" y="818.10" font-size="14">Jul</text>
<text x="205.63" y="830.20" font-size="12.5" text-anchor="middle">2016</text>
<text x="229.86" y="818.10" font-size="14">Jan</text>
<text x="265.05" y="818.10" font-size="14">Jul</text>
<text x="271.35" y="830.20" font-size="12.5" text-anchor="middle">2017</text>
<text x="295.59" y="818.10" font-size="14">Jan</text>
<text x="330.78" y="818.10" font-size="14">Jul</text>
<text x="337.08" y="830.20" font-size="12.5" text-anchor="middle">2018</text>
<text x="361.31" y="818.10" font-size="14">Jan</text>
<text x="396.51" y="818.10" font-size="14">Jul</text>
<text x="402.81" y="830.20" font-size="12.5" text-anchor="middle">2019</text>
<text x="427.04" y="818.10" font-size="14">Jan</text>
<text x="462.41" y="818.10" font-size="14">Jul</text>
<text x="468.71" y="830.20" font-size="12.5" text-anchor="middle">2020</text>
<text x="492.95" y="818.10" font-size="14">Jan</text>
<text x="528.14" y="818.10" font-size="14">Jul</text>
<text x="534.44" y="830.20" font-size="12.5" text-anchor="middle">2021</text>
<text x="558.67" y="818.10" font-size="14">Jan</text>
<text x="593.87" y="818.10" font-size="14">Jul</text>
<text x="600.17" y="830.20" font-size="12.5" text-anchor="middle">2022</text>
<text transform="translate(10.9 725.98) rotate(-90)" font-size="15.15" text-anchor="middle">Temperature (°C)</text>
<text transform="translate(682.0 725.77) rotate(-90)" font-size="15" text-anchor="middle">Sea ice concentration (%)</text>
</g>
<path d="M54 842.3H74.4" stroke="#0000ff" stroke-width="2.2"/>
<text x="82.4" y="847.5" font-size="14.25">Climatological Mean</text>
<path d="M239.3 842.3H259.8" stroke="#3a762e" stroke-width="2.1"/>
<text x="266" y="847.5" font-size="14.25">Threshold (90th percentile)</text>
<path d="M467.5 842.3H487.9" stroke="#ff0000" stroke-width="1.0"/>
<text x="496.2" y="847.5" font-size="14.25">SST</text>
<path d="M555.3 842.3H575.6" stroke="#87ceeb" stroke-width="1.2"/>
<text x="583.8" y="847.5" font-size="14.25">SIC</text>
</svg>
</body></html>
